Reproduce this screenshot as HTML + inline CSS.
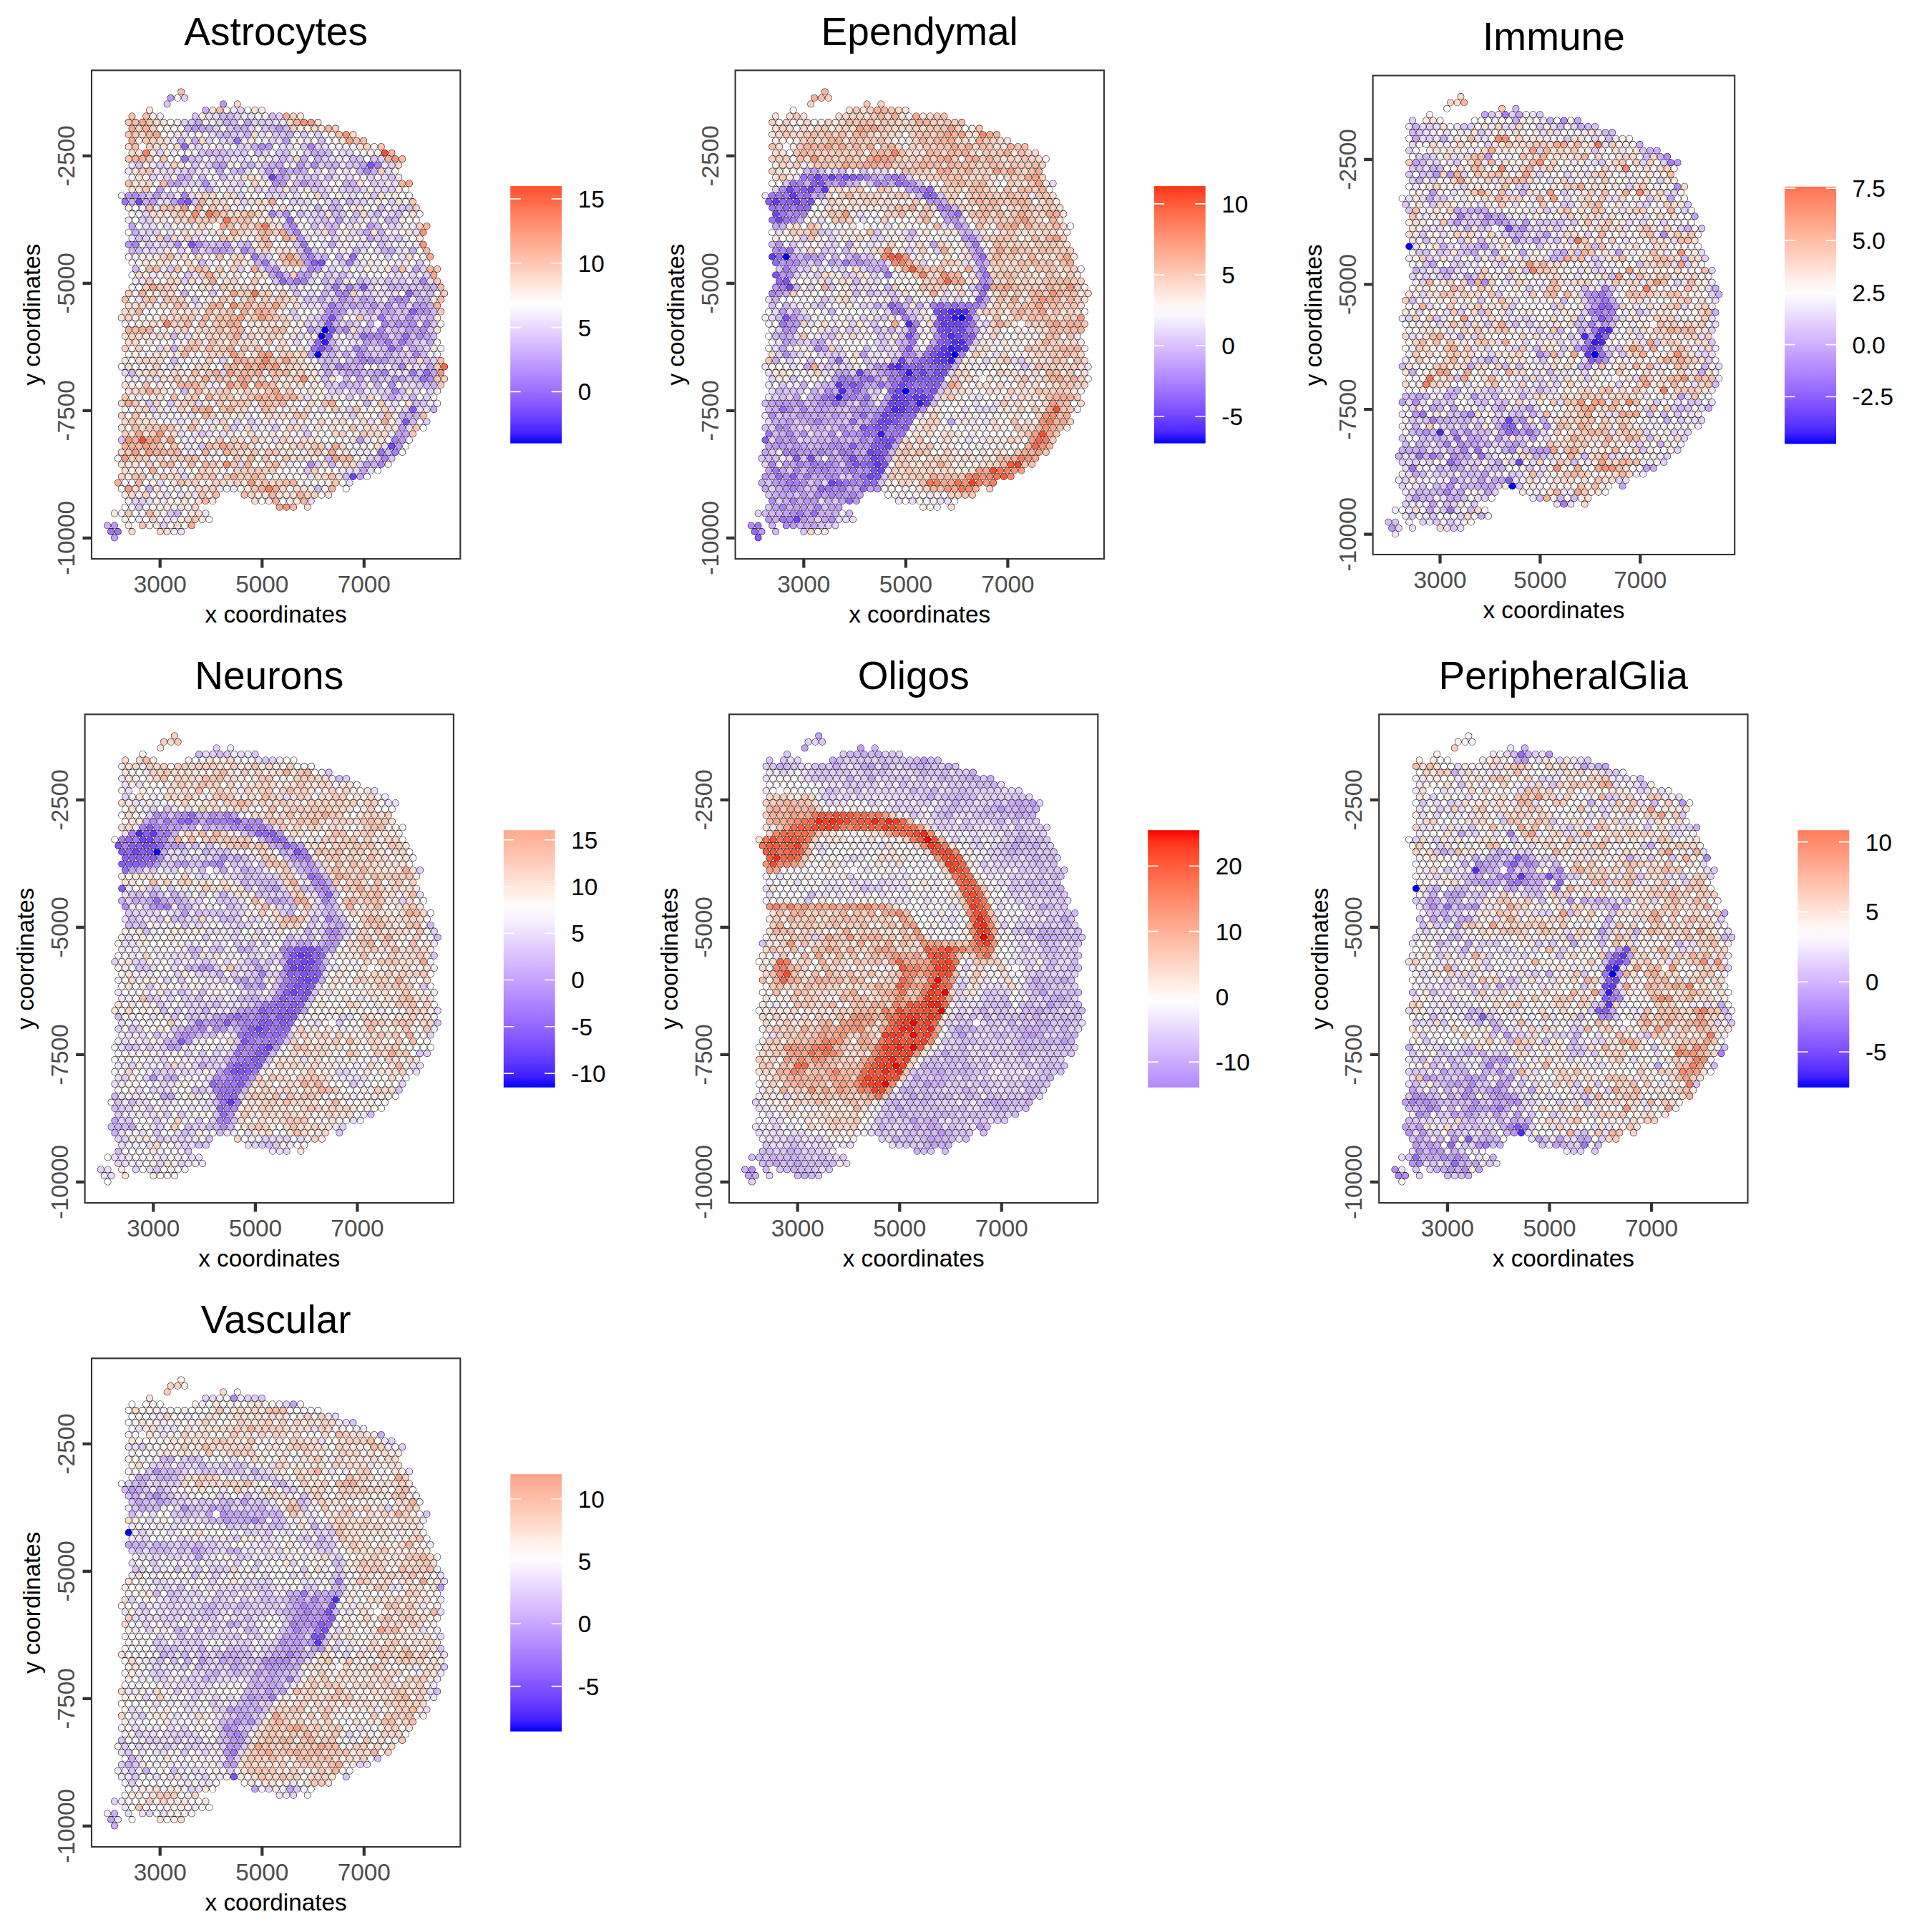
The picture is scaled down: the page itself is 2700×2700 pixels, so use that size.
<!DOCTYPE html>
<html><head><meta charset="utf-8"><title>Cell type enrichment</title>
<style>html,body{margin:0;padding:0;background:#fff}svg{display:block}text{font-family:"Liberation Sans",sans-serif}</style></head><body>
<svg width="2700" height="2700" viewBox="0 0 2700 2700">
<rect width="2700" height="2700" fill="#fff"/>
<defs>
<path id="o" d="M253.2 128.3h0M238.5 136.8h0M248.3 136.8h0M258.1 136.8h0M233.6 145.4h0M312 145.4h0M331.7 145.4h0M209 153.9h0M287.5 153.9h0M297.3 153.9h0M307.1 153.9h0M316.9 153.9h0M326.8 153.9h0M336.6 153.9h0M346.4 153.9h0M356.2 153.9h0M366 153.9h0M184.5 162.4h0M204.1 162.4h0M213.9 162.4h0M223.8 162.4h0M272.8 162.4h0M282.6 162.4h0M292.4 162.4h0M302.2 162.4h0M312 162.4h0M321.9 162.4h0M331.7 162.4h0M341.5 162.4h0M351.3 162.4h0M361.1 162.4h0M370.9 162.4h0M380.7 162.4h0M390.5 162.4h0M400.3 162.4h0M410.1 162.4h0M419.9 162.4h0M179.6 171h0M189.4 171h0M199.2 171h0M209 171h0M218.8 171h0M228.7 171h0M238.5 171h0M248.3 171h0M258.1 171h0M267.9 171h0M277.7 171h0M287.5 171h0M297.3 171h0M307.1 171h0M316.9 171h0M326.8 171h0M336.6 171h0M346.4 171h0M356.2 171h0M366 171h0M375.8 171h0M385.6 171h0M395.4 171h0M405.2 171h0M415 171h0M424.9 171h0M434.7 171h0M444.5 171h0M184.5 179.5h0M194.3 179.5h0M204.1 179.5h0M213.9 179.5h0M223.8 179.5h0M233.6 179.5h0M243.4 179.5h0M253.2 179.5h0M263 179.5h0M272.8 179.5h0M282.6 179.5h0M292.4 179.5h0M302.2 179.5h0M312 179.5h0M321.9 179.5h0M331.7 179.5h0M341.5 179.5h0M351.3 179.5h0M361.1 179.5h0M370.9 179.5h0M380.7 179.5h0M390.5 179.5h0M400.3 179.5h0M410.1 179.5h0M419.9 179.5h0M429.8 179.5h0M439.6 179.5h0M449.4 179.5h0M459.2 179.5h0M469 179.5h0M179.6 188.1h0M189.4 188.1h0M199.2 188.1h0M209 188.1h0M218.8 188.1h0M228.7 188.1h0M238.5 188.1h0M248.3 188.1h0M258.1 188.1h0M267.9 188.1h0M277.7 188.1h0M287.5 188.1h0M297.3 188.1h0M307.1 188.1h0M316.9 188.1h0M326.8 188.1h0M336.6 188.1h0M346.4 188.1h0M356.2 188.1h0M366 188.1h0M375.8 188.1h0M385.6 188.1h0M395.4 188.1h0M405.2 188.1h0M415 188.1h0M424.9 188.1h0M434.7 188.1h0M444.5 188.1h0M454.3 188.1h0M464.1 188.1h0M473.9 188.1h0M483.7 188.1h0M493.5 188.1h0M184.5 196.6h0M194.3 196.6h0M204.1 196.6h0M213.9 196.6h0M223.8 196.6h0M233.6 196.6h0M243.4 196.6h0M253.2 196.6h0M263 196.6h0M272.8 196.6h0M282.6 196.6h0M292.4 196.6h0M302.2 196.6h0M312 196.6h0M321.9 196.6h0M331.7 196.6h0M341.5 196.6h0M351.3 196.6h0M361.1 196.6h0M370.9 196.6h0M380.7 196.6h0M390.5 196.6h0M400.3 196.6h0M410.1 196.6h0M419.9 196.6h0M429.8 196.6h0M439.6 196.6h0M449.4 196.6h0M459.2 196.6h0M469 196.6h0M478.8 196.6h0M488.6 196.6h0M498.4 196.6h0M508.2 196.6h0M179.6 205.1h0M189.4 205.1h0M209 205.1h0M218.8 205.1h0M228.7 205.1h0M238.5 205.1h0M248.3 205.1h0M258.1 205.1h0M267.9 205.1h0M277.7 205.1h0M287.5 205.1h0M297.3 205.1h0M307.1 205.1h0M316.9 205.1h0M326.8 205.1h0M336.6 205.1h0M346.4 205.1h0M356.2 205.1h0M366 205.1h0M375.8 205.1h0M385.6 205.1h0M395.4 205.1h0M405.2 205.1h0M415 205.1h0M424.9 205.1h0M434.7 205.1h0M444.5 205.1h0M454.3 205.1h0M464.1 205.1h0M473.9 205.1h0M483.7 205.1h0M493.5 205.1h0M503.3 205.1h0M513.1 205.1h0M523 205.1h0M532.8 205.1h0M184.5 213.7h0M194.3 213.7h0M204.1 213.7h0M213.9 213.7h0M223.8 213.7h0M233.6 213.7h0M243.4 213.7h0M253.2 213.7h0M263 213.7h0M272.8 213.7h0M282.6 213.7h0M292.4 213.7h0M302.2 213.7h0M312 213.7h0M321.9 213.7h0M331.7 213.7h0M341.5 213.7h0M351.3 213.7h0M361.1 213.7h0M370.9 213.7h0M380.7 213.7h0M390.5 213.7h0M400.3 213.7h0M410.1 213.7h0M419.9 213.7h0M429.8 213.7h0M439.6 213.7h0M449.4 213.7h0M459.2 213.7h0M469 213.7h0M478.8 213.7h0M488.6 213.7h0M498.4 213.7h0M508.2 213.7h0M518 213.7h0M527.9 213.7h0M537.7 213.7h0M547.5 213.7h0M179.6 222.2h0M189.4 222.2h0M199.2 222.2h0M209 222.2h0M218.8 222.2h0M228.7 222.2h0M238.5 222.2h0M248.3 222.2h0M258.1 222.2h0M267.9 222.2h0M277.7 222.2h0M287.5 222.2h0M297.3 222.2h0M307.1 222.2h0M316.9 222.2h0M326.8 222.2h0M336.6 222.2h0M346.4 222.2h0M356.2 222.2h0M366 222.2h0M375.8 222.2h0M385.6 222.2h0M395.4 222.2h0M405.2 222.2h0M415 222.2h0M424.9 222.2h0M434.7 222.2h0M444.5 222.2h0M454.3 222.2h0M464.1 222.2h0M473.9 222.2h0M483.7 222.2h0M493.5 222.2h0M503.3 222.2h0M513.1 222.2h0M523 222.2h0M532.8 222.2h0M542.6 222.2h0M552.4 222.2h0M562.2 222.2h0M184.5 230.7h0M194.3 230.7h0M204.1 230.7h0M213.9 230.7h0M223.8 230.7h0M233.6 230.7h0M243.4 230.7h0M253.2 230.7h0M263 230.7h0M272.8 230.7h0M282.6 230.7h0M292.4 230.7h0M302.2 230.7h0M312 230.7h0M321.9 230.7h0M331.7 230.7h0M341.5 230.7h0M351.3 230.7h0M361.1 230.7h0M370.9 230.7h0M380.7 230.7h0M390.5 230.7h0M400.3 230.7h0M410.1 230.7h0M419.9 230.7h0M429.8 230.7h0M439.6 230.7h0M449.4 230.7h0M459.2 230.7h0M469 230.7h0M478.8 230.7h0M488.6 230.7h0M498.4 230.7h0M508.2 230.7h0M518 230.7h0M527.9 230.7h0M537.7 230.7h0M547.5 230.7h0M557.3 230.7h0M179.6 239.3h0M189.4 239.3h0M199.2 239.3h0M209 239.3h0M218.8 239.3h0M228.7 239.3h0M238.5 239.3h0M248.3 239.3h0M258.1 239.3h0M267.9 239.3h0M277.7 239.3h0M287.5 239.3h0M297.3 239.3h0M307.1 239.3h0M316.9 239.3h0M326.8 239.3h0M336.6 239.3h0M346.4 239.3h0M356.2 239.3h0M366 239.3h0M375.8 239.3h0M385.6 239.3h0M395.4 239.3h0M405.2 239.3h0M415 239.3h0M424.9 239.3h0M434.7 239.3h0M444.5 239.3h0M454.3 239.3h0M464.1 239.3h0M473.9 239.3h0M483.7 239.3h0M493.5 239.3h0M503.3 239.3h0M513.1 239.3h0M523 239.3h0M532.8 239.3h0M542.6 239.3h0M552.4 239.3h0M184.5 247.8h0M194.3 247.8h0M204.1 247.8h0M213.9 247.8h0M223.8 247.8h0M233.6 247.8h0M243.4 247.8h0M253.2 247.8h0M263 247.8h0M272.8 247.8h0M282.6 247.8h0M292.4 247.8h0M302.2 247.8h0M312 247.8h0M321.9 247.8h0M331.7 247.8h0M341.5 247.8h0M351.3 247.8h0M361.1 247.8h0M370.9 247.8h0M380.7 247.8h0M390.5 247.8h0M400.3 247.8h0M410.1 247.8h0M419.9 247.8h0M429.8 247.8h0M439.6 247.8h0M449.4 247.8h0M459.2 247.8h0M469 247.8h0M478.8 247.8h0M488.6 247.8h0M498.4 247.8h0M508.2 247.8h0M518 247.8h0M527.9 247.8h0M537.7 247.8h0M547.5 247.8h0M557.3 247.8h0M179.6 256.4h0M189.4 256.4h0M199.2 256.4h0M209 256.4h0M218.8 256.4h0M228.7 256.4h0M238.5 256.4h0M248.3 256.4h0M258.1 256.4h0M267.9 256.4h0M277.7 256.4h0M287.5 256.4h0M297.3 256.4h0M307.1 256.4h0M316.9 256.4h0M326.8 256.4h0M336.6 256.4h0M346.4 256.4h0M356.2 256.4h0M366 256.4h0M375.8 256.4h0M385.6 256.4h0M395.4 256.4h0M405.2 256.4h0M415 256.4h0M424.9 256.4h0M434.7 256.4h0M444.5 256.4h0M454.3 256.4h0M464.1 256.4h0M473.9 256.4h0M483.7 256.4h0M493.5 256.4h0M503.3 256.4h0M513.1 256.4h0M523 256.4h0M532.8 256.4h0M542.6 256.4h0M552.4 256.4h0M562.2 256.4h0M572 256.4h0M184.5 264.9h0M194.3 264.9h0M204.1 264.9h0M213.9 264.9h0M223.8 264.9h0M233.6 264.9h0M243.4 264.9h0M253.2 264.9h0M263 264.9h0M272.8 264.9h0M282.6 264.9h0M292.4 264.9h0M302.2 264.9h0M312 264.9h0M321.9 264.9h0M331.7 264.9h0M341.5 264.9h0M351.3 264.9h0M361.1 264.9h0M370.9 264.9h0M380.7 264.9h0M390.5 264.9h0M400.3 264.9h0M410.1 264.9h0M419.9 264.9h0M429.8 264.9h0M439.6 264.9h0M449.4 264.9h0M459.2 264.9h0M469 264.9h0M478.8 264.9h0M488.6 264.9h0M498.4 264.9h0M508.2 264.9h0M518 264.9h0M527.9 264.9h0M537.7 264.9h0M547.5 264.9h0M557.3 264.9h0M567.1 264.9h0M169.8 273.4h0M179.6 273.4h0M189.4 273.4h0M199.2 273.4h0M209 273.4h0M218.8 273.4h0M228.7 273.4h0M238.5 273.4h0M248.3 273.4h0M258.1 273.4h0M267.9 273.4h0M277.7 273.4h0M287.5 273.4h0M297.3 273.4h0M307.1 273.4h0M316.9 273.4h0M326.8 273.4h0M336.6 273.4h0M346.4 273.4h0M356.2 273.4h0M366 273.4h0M375.8 273.4h0M385.6 273.4h0M395.4 273.4h0M405.2 273.4h0M415 273.4h0M424.9 273.4h0M434.7 273.4h0M444.5 273.4h0M454.3 273.4h0M464.1 273.4h0M473.9 273.4h0M483.7 273.4h0M493.5 273.4h0M503.3 273.4h0M513.1 273.4h0M523 273.4h0M532.8 273.4h0M542.6 273.4h0M552.4 273.4h0M562.2 273.4h0M572 273.4h0M174.7 282h0M184.5 282h0M194.3 282h0M204.1 282h0M213.9 282h0M223.8 282h0M233.6 282h0M243.4 282h0M253.2 282h0M263 282h0M272.8 282h0M282.6 282h0M292.4 282h0M302.2 282h0M312 282h0M321.9 282h0M331.7 282h0M341.5 282h0M351.3 282h0M361.1 282h0M370.9 282h0M380.7 282h0M390.5 282h0M400.3 282h0M410.1 282h0M419.9 282h0M429.8 282h0M439.6 282h0M449.4 282h0M459.2 282h0M469 282h0M478.8 282h0M488.6 282h0M498.4 282h0M508.2 282h0M518 282h0M527.9 282h0M537.7 282h0M547.5 282h0M557.3 282h0M567.1 282h0M576.9 282h0M179.6 290.5h0M189.4 290.5h0M199.2 290.5h0M209 290.5h0M218.8 290.5h0M228.7 290.5h0M238.5 290.5h0M248.3 290.5h0M258.1 290.5h0M267.9 290.5h0M277.7 290.5h0M287.5 290.5h0M297.3 290.5h0M307.1 290.5h0M316.9 290.5h0M326.8 290.5h0M336.6 290.5h0M346.4 290.5h0M356.2 290.5h0M366 290.5h0M375.8 290.5h0M385.6 290.5h0M395.4 290.5h0M405.2 290.5h0M415 290.5h0M424.9 290.5h0M434.7 290.5h0M444.5 290.5h0M454.3 290.5h0M464.1 290.5h0M473.9 290.5h0M483.7 290.5h0M493.5 290.5h0M503.3 290.5h0M513.1 290.5h0M523 290.5h0M532.8 290.5h0M542.6 290.5h0M552.4 290.5h0M562.2 290.5h0M572 290.5h0M581.8 290.5h0M184.5 299h0M194.3 299h0M204.1 299h0M213.9 299h0M223.8 299h0M233.6 299h0M243.4 299h0M253.2 299h0M263 299h0M272.8 299h0M282.6 299h0M292.4 299h0M302.2 299h0M312 299h0M321.9 299h0M331.7 299h0M341.5 299h0M351.3 299h0M361.1 299h0M370.9 299h0M380.7 299h0M390.5 299h0M400.3 299h0M410.1 299h0M419.9 299h0M429.8 299h0M439.6 299h0M449.4 299h0M459.2 299h0M469 299h0M478.8 299h0M488.6 299h0M498.4 299h0M508.2 299h0M518 299h0M527.9 299h0M537.7 299h0M547.5 299h0M557.3 299h0M567.1 299h0M576.9 299h0M586.7 299h0M179.6 307.6h0M189.4 307.6h0M199.2 307.6h0M209 307.6h0M218.8 307.6h0M228.7 307.6h0M238.5 307.6h0M248.3 307.6h0M258.1 307.6h0M267.9 307.6h0M277.7 307.6h0M287.5 307.6h0M297.3 307.6h0M307.1 307.6h0M316.9 307.6h0M326.8 307.6h0M336.6 307.6h0M346.4 307.6h0M356.2 307.6h0M366 307.6h0M375.8 307.6h0M385.6 307.6h0M395.4 307.6h0M405.2 307.6h0M415 307.6h0M424.9 307.6h0M434.7 307.6h0M444.5 307.6h0M454.3 307.6h0M464.1 307.6h0M473.9 307.6h0M483.7 307.6h0M493.5 307.6h0M503.3 307.6h0M513.1 307.6h0M523 307.6h0M532.8 307.6h0M542.6 307.6h0M552.4 307.6h0M562.2 307.6h0M572 307.6h0M581.8 307.6h0M184.5 316.1h0M194.3 316.1h0M204.1 316.1h0M213.9 316.1h0M223.8 316.1h0M233.6 316.1h0M243.4 316.1h0M253.2 316.1h0M263 316.1h0M272.8 316.1h0M282.6 316.1h0M292.4 316.1h0M312 316.1h0M321.9 316.1h0M331.7 316.1h0M341.5 316.1h0M351.3 316.1h0M361.1 316.1h0M370.9 316.1h0M380.7 316.1h0M390.5 316.1h0M400.3 316.1h0M410.1 316.1h0M419.9 316.1h0M429.8 316.1h0M439.6 316.1h0M449.4 316.1h0M459.2 316.1h0M469 316.1h0M478.8 316.1h0M488.6 316.1h0M498.4 316.1h0M508.2 316.1h0M518 316.1h0M527.9 316.1h0M537.7 316.1h0M547.5 316.1h0M557.3 316.1h0M567.1 316.1h0M576.9 316.1h0M586.7 316.1h0M596.5 316.1h0M179.6 324.7h0M189.4 324.7h0M199.2 324.7h0M209 324.7h0M218.8 324.7h0M228.7 324.7h0M238.5 324.7h0M248.3 324.7h0M258.1 324.7h0M267.9 324.7h0M277.7 324.7h0M287.5 324.7h0M297.3 324.7h0M307.1 324.7h0M316.9 324.7h0M326.8 324.7h0M336.6 324.7h0M346.4 324.7h0M356.2 324.7h0M366 324.7h0M375.8 324.7h0M385.6 324.7h0M395.4 324.7h0M405.2 324.7h0M415 324.7h0M424.9 324.7h0M434.7 324.7h0M444.5 324.7h0M454.3 324.7h0M464.1 324.7h0M473.9 324.7h0M483.7 324.7h0M493.5 324.7h0M503.3 324.7h0M513.1 324.7h0M523 324.7h0M532.8 324.7h0M542.6 324.7h0M552.4 324.7h0M562.2 324.7h0M572 324.7h0M581.8 324.7h0M591.6 324.7h0M184.5 333.2h0M194.3 333.2h0M204.1 333.2h0M213.9 333.2h0M223.8 333.2h0M233.6 333.2h0M243.4 333.2h0M253.2 333.2h0M263 333.2h0M272.8 333.2h0M282.6 333.2h0M292.4 333.2h0M302.2 333.2h0M312 333.2h0M321.9 333.2h0M331.7 333.2h0M341.5 333.2h0M351.3 333.2h0M361.1 333.2h0M370.9 333.2h0M380.7 333.2h0M390.5 333.2h0M400.3 333.2h0M410.1 333.2h0M419.9 333.2h0M429.8 333.2h0M439.6 333.2h0M449.4 333.2h0M459.2 333.2h0M469 333.2h0M478.8 333.2h0M488.6 333.2h0M498.4 333.2h0M508.2 333.2h0M518 333.2h0M527.9 333.2h0M537.7 333.2h0M547.5 333.2h0M557.3 333.2h0M567.1 333.2h0M576.9 333.2h0M586.7 333.2h0M179.6 341.7h0M189.4 341.7h0M199.2 341.7h0M209 341.7h0M218.8 341.7h0M228.7 341.7h0M238.5 341.7h0M248.3 341.7h0M258.1 341.7h0M267.9 341.7h0M277.7 341.7h0M287.5 341.7h0M297.3 341.7h0M307.1 341.7h0M316.9 341.7h0M326.8 341.7h0M336.6 341.7h0M346.4 341.7h0M356.2 341.7h0M366 341.7h0M375.8 341.7h0M385.6 341.7h0M395.4 341.7h0M405.2 341.7h0M415 341.7h0M424.9 341.7h0M434.7 341.7h0M444.5 341.7h0M454.3 341.7h0M464.1 341.7h0M473.9 341.7h0M483.7 341.7h0M493.5 341.7h0M503.3 341.7h0M513.1 341.7h0M523 341.7h0M532.8 341.7h0M542.6 341.7h0M552.4 341.7h0M562.2 341.7h0M572 341.7h0M581.8 341.7h0M591.6 341.7h0M184.5 350.3h0M194.3 350.3h0M204.1 350.3h0M213.9 350.3h0M223.8 350.3h0M233.6 350.3h0M243.4 350.3h0M253.2 350.3h0M263 350.3h0M272.8 350.3h0M282.6 350.3h0M292.4 350.3h0M302.2 350.3h0M312 350.3h0M321.9 350.3h0M331.7 350.3h0M341.5 350.3h0M351.3 350.3h0M361.1 350.3h0M370.9 350.3h0M380.7 350.3h0M390.5 350.3h0M400.3 350.3h0M410.1 350.3h0M419.9 350.3h0M429.8 350.3h0M439.6 350.3h0M449.4 350.3h0M459.2 350.3h0M469 350.3h0M478.8 350.3h0M488.6 350.3h0M498.4 350.3h0M508.2 350.3h0M518 350.3h0M527.9 350.3h0M537.7 350.3h0M547.5 350.3h0M557.3 350.3h0M567.1 350.3h0M576.9 350.3h0M586.7 350.3h0M596.5 350.3h0M179.6 358.8h0M189.4 358.8h0M199.2 358.8h0M209 358.8h0M218.8 358.8h0M228.7 358.8h0M238.5 358.8h0M248.3 358.8h0M258.1 358.8h0M267.9 358.8h0M277.7 358.8h0M287.5 358.8h0M297.3 358.8h0M307.1 358.8h0M316.9 358.8h0M326.8 358.8h0M336.6 358.8h0M346.4 358.8h0M356.2 358.8h0M366 358.8h0M375.8 358.8h0M385.6 358.8h0M395.4 358.8h0M405.2 358.8h0M415 358.8h0M424.9 358.8h0M434.7 358.8h0M444.5 358.8h0M454.3 358.8h0M464.1 358.8h0M473.9 358.8h0M483.7 358.8h0M493.5 358.8h0M503.3 358.8h0M513.1 358.8h0M523 358.8h0M532.8 358.8h0M542.6 358.8h0M552.4 358.8h0M562.2 358.8h0M572 358.8h0M581.8 358.8h0M591.6 358.8h0M601.4 358.8h0M184.5 367.3h0M194.3 367.3h0M204.1 367.3h0M213.9 367.3h0M223.8 367.3h0M233.6 367.3h0M243.4 367.3h0M253.2 367.3h0M263 367.3h0M272.8 367.3h0M282.6 367.3h0M292.4 367.3h0M302.2 367.3h0M312 367.3h0M321.9 367.3h0M331.7 367.3h0M341.5 367.3h0M351.3 367.3h0M361.1 367.3h0M370.9 367.3h0M380.7 367.3h0M390.5 367.3h0M400.3 367.3h0M410.1 367.3h0M419.9 367.3h0M429.8 367.3h0M439.6 367.3h0M449.4 367.3h0M459.2 367.3h0M469 367.3h0M478.8 367.3h0M488.6 367.3h0M498.4 367.3h0M508.2 367.3h0M518 367.3h0M527.9 367.3h0M537.7 367.3h0M547.5 367.3h0M557.3 367.3h0M567.1 367.3h0M576.9 367.3h0M586.7 367.3h0M596.5 367.3h0M189.4 375.9h0M199.2 375.9h0M209 375.9h0M218.8 375.9h0M228.7 375.9h0M238.5 375.9h0M248.3 375.9h0M258.1 375.9h0M267.9 375.9h0M277.7 375.9h0M287.5 375.9h0M297.3 375.9h0M307.1 375.9h0M316.9 375.9h0M326.8 375.9h0M336.6 375.9h0M346.4 375.9h0M356.2 375.9h0M366 375.9h0M375.8 375.9h0M385.6 375.9h0M395.4 375.9h0M405.2 375.9h0M415 375.9h0M424.9 375.9h0M434.7 375.9h0M444.5 375.9h0M454.3 375.9h0M464.1 375.9h0M473.9 375.9h0M483.7 375.9h0M493.5 375.9h0M503.3 375.9h0M513.1 375.9h0M523 375.9h0M532.8 375.9h0M542.6 375.9h0M552.4 375.9h0M562.2 375.9h0M572 375.9h0M581.8 375.9h0M591.6 375.9h0M601.4 375.9h0M611.2 375.9h0M184.5 384.4h0M194.3 384.4h0M204.1 384.4h0M213.9 384.4h0M223.8 384.4h0M233.6 384.4h0M243.4 384.4h0M253.2 384.4h0M263 384.4h0M272.8 384.4h0M282.6 384.4h0M292.4 384.4h0M302.2 384.4h0M312 384.4h0M321.9 384.4h0M331.7 384.4h0M341.5 384.4h0M351.3 384.4h0M361.1 384.4h0M370.9 384.4h0M380.7 384.4h0M390.5 384.4h0M400.3 384.4h0M410.1 384.4h0M419.9 384.4h0M429.8 384.4h0M439.6 384.4h0M449.4 384.4h0M459.2 384.4h0M469 384.4h0M478.8 384.4h0M488.6 384.4h0M498.4 384.4h0M508.2 384.4h0M518 384.4h0M527.9 384.4h0M537.7 384.4h0M547.5 384.4h0M557.3 384.4h0M567.1 384.4h0M576.9 384.4h0M586.7 384.4h0M596.5 384.4h0M606.3 384.4h0M189.4 392.9h0M199.2 392.9h0M209 392.9h0M218.8 392.9h0M228.7 392.9h0M238.5 392.9h0M248.3 392.9h0M258.1 392.9h0M267.9 392.9h0M277.7 392.9h0M287.5 392.9h0M297.3 392.9h0M307.1 392.9h0M316.9 392.9h0M326.8 392.9h0M336.6 392.9h0M346.4 392.9h0M356.2 392.9h0M366 392.9h0M375.8 392.9h0M385.6 392.9h0M395.4 392.9h0M405.2 392.9h0M415 392.9h0M424.9 392.9h0M434.7 392.9h0M444.5 392.9h0M454.3 392.9h0M464.1 392.9h0M473.9 392.9h0M483.7 392.9h0M493.5 392.9h0M503.3 392.9h0M513.1 392.9h0M523 392.9h0M532.8 392.9h0M542.6 392.9h0M552.4 392.9h0M562.2 392.9h0M572 392.9h0M581.8 392.9h0M591.6 392.9h0M601.4 392.9h0M611.2 392.9h0M184.5 401.5h0M194.3 401.5h0M204.1 401.5h0M213.9 401.5h0M223.8 401.5h0M233.6 401.5h0M243.4 401.5h0M253.2 401.5h0M263 401.5h0M272.8 401.5h0M282.6 401.5h0M292.4 401.5h0M302.2 401.5h0M312 401.5h0M321.9 401.5h0M331.7 401.5h0M341.5 401.5h0M351.3 401.5h0M361.1 401.5h0M370.9 401.5h0M380.7 401.5h0M390.5 401.5h0M400.3 401.5h0M410.1 401.5h0M419.9 401.5h0M429.8 401.5h0M439.6 401.5h0M449.4 401.5h0M459.2 401.5h0M469 401.5h0M478.8 401.5h0M488.6 401.5h0M498.4 401.5h0M508.2 401.5h0M518 401.5h0M527.9 401.5h0M537.7 401.5h0M547.5 401.5h0M557.3 401.5h0M567.1 401.5h0M576.9 401.5h0M586.7 401.5h0M596.5 401.5h0M606.3 401.5h0M616.2 401.5h0M179.6 410h0M189.4 410h0M199.2 410h0M209 410h0M218.8 410h0M228.7 410h0M238.5 410h0M248.3 410h0M258.1 410h0M267.9 410h0M277.7 410h0M287.5 410h0M297.3 410h0M307.1 410h0M316.9 410h0M326.8 410h0M336.6 410h0M346.4 410h0M356.2 410h0M366 410h0M375.8 410h0M385.6 410h0M395.4 410h0M405.2 410h0M415 410h0M424.9 410h0M434.7 410h0M444.5 410h0M454.3 410h0M464.1 410h0M473.9 410h0M483.7 410h0M493.5 410h0M503.3 410h0M513.1 410h0M523 410h0M532.8 410h0M542.6 410h0M552.4 410h0M562.2 410h0M572 410h0M581.8 410h0M591.6 410h0M601.4 410h0M611.2 410h0M621.1 410h0M174.7 418.6h0M184.5 418.6h0M194.3 418.6h0M204.1 418.6h0M213.9 418.6h0M223.8 418.6h0M233.6 418.6h0M243.4 418.6h0M253.2 418.6h0M263 418.6h0M272.8 418.6h0M282.6 418.6h0M292.4 418.6h0M302.2 418.6h0M312 418.6h0M321.9 418.6h0M331.7 418.6h0M341.5 418.6h0M351.3 418.6h0M361.1 418.6h0M370.9 418.6h0M380.7 418.6h0M390.5 418.6h0M400.3 418.6h0M410.1 418.6h0M419.9 418.6h0M429.8 418.6h0M439.6 418.6h0M449.4 418.6h0M459.2 418.6h0M469 418.6h0M478.8 418.6h0M488.6 418.6h0M498.4 418.6h0M508.2 418.6h0M518 418.6h0M527.9 418.6h0M537.7 418.6h0M547.5 418.6h0M557.3 418.6h0M567.1 418.6h0M576.9 418.6h0M586.7 418.6h0M596.5 418.6h0M606.3 418.6h0M616.2 418.6h0M179.6 427.1h0M189.4 427.1h0M199.2 427.1h0M209 427.1h0M218.8 427.1h0M228.7 427.1h0M238.5 427.1h0M248.3 427.1h0M258.1 427.1h0M267.9 427.1h0M277.7 427.1h0M287.5 427.1h0M297.3 427.1h0M307.1 427.1h0M316.9 427.1h0M326.8 427.1h0M336.6 427.1h0M346.4 427.1h0M356.2 427.1h0M366 427.1h0M375.8 427.1h0M385.6 427.1h0M395.4 427.1h0M405.2 427.1h0M415 427.1h0M424.9 427.1h0M434.7 427.1h0M444.5 427.1h0M454.3 427.1h0M464.1 427.1h0M473.9 427.1h0M483.7 427.1h0M493.5 427.1h0M503.3 427.1h0M513.1 427.1h0M523 427.1h0M532.8 427.1h0M542.6 427.1h0M552.4 427.1h0M562.2 427.1h0M572 427.1h0M581.8 427.1h0M591.6 427.1h0M601.4 427.1h0M611.2 427.1h0M174.7 435.6h0M184.5 435.6h0M194.3 435.6h0M204.1 435.6h0M213.9 435.6h0M223.8 435.6h0M233.6 435.6h0M243.4 435.6h0M253.2 435.6h0M263 435.6h0M272.8 435.6h0M282.6 435.6h0M292.4 435.6h0M302.2 435.6h0M312 435.6h0M321.9 435.6h0M331.7 435.6h0M341.5 435.6h0M351.3 435.6h0M361.1 435.6h0M370.9 435.6h0M380.7 435.6h0M390.5 435.6h0M400.3 435.6h0M410.1 435.6h0M419.9 435.6h0M429.8 435.6h0M439.6 435.6h0M449.4 435.6h0M459.2 435.6h0M469 435.6h0M478.8 435.6h0M488.6 435.6h0M498.4 435.6h0M508.2 435.6h0M518 435.6h0M527.9 435.6h0M537.7 435.6h0M547.5 435.6h0M557.3 435.6h0M567.1 435.6h0M576.9 435.6h0M586.7 435.6h0M596.5 435.6h0M606.3 435.6h0M616.2 435.6h0M169.8 444.2h0M179.6 444.2h0M189.4 444.2h0M199.2 444.2h0M209 444.2h0M218.8 444.2h0M228.7 444.2h0M238.5 444.2h0M248.3 444.2h0M258.1 444.2h0M267.9 444.2h0M277.7 444.2h0M287.5 444.2h0M297.3 444.2h0M307.1 444.2h0M316.9 444.2h0M326.8 444.2h0M336.6 444.2h0M346.4 444.2h0M356.2 444.2h0M366 444.2h0M375.8 444.2h0M385.6 444.2h0M395.4 444.2h0M405.2 444.2h0M415 444.2h0M424.9 444.2h0M434.7 444.2h0M444.5 444.2h0M454.3 444.2h0M464.1 444.2h0M473.9 444.2h0M483.7 444.2h0M493.5 444.2h0M503.3 444.2h0M513.1 444.2h0M523 444.2h0M532.8 444.2h0M542.6 444.2h0M552.4 444.2h0M562.2 444.2h0M572 444.2h0M581.8 444.2h0M591.6 444.2h0M601.4 444.2h0M611.2 444.2h0M174.7 452.7h0M184.5 452.7h0M194.3 452.7h0M204.1 452.7h0M213.9 452.7h0M223.8 452.7h0M233.6 452.7h0M243.4 452.7h0M253.2 452.7h0M263 452.7h0M272.8 452.7h0M282.6 452.7h0M292.4 452.7h0M302.2 452.7h0M312 452.7h0M321.9 452.7h0M331.7 452.7h0M341.5 452.7h0M351.3 452.7h0M361.1 452.7h0M370.9 452.7h0M380.7 452.7h0M390.5 452.7h0M400.3 452.7h0M410.1 452.7h0M419.9 452.7h0M429.8 452.7h0M439.6 452.7h0M449.4 452.7h0M459.2 452.7h0M469 452.7h0M478.8 452.7h0M488.6 452.7h0M498.4 452.7h0M508.2 452.7h0M518 452.7h0M537.7 452.7h0M547.5 452.7h0M557.3 452.7h0M567.1 452.7h0M576.9 452.7h0M586.7 452.7h0M596.5 452.7h0M606.3 452.7h0M616.2 452.7h0M179.6 461.2h0M189.4 461.2h0M199.2 461.2h0M209 461.2h0M218.8 461.2h0M228.7 461.2h0M238.5 461.2h0M248.3 461.2h0M258.1 461.2h0M267.9 461.2h0M277.7 461.2h0M287.5 461.2h0M297.3 461.2h0M307.1 461.2h0M316.9 461.2h0M326.8 461.2h0M336.6 461.2h0M346.4 461.2h0M356.2 461.2h0M366 461.2h0M375.8 461.2h0M385.6 461.2h0M395.4 461.2h0M405.2 461.2h0M415 461.2h0M424.9 461.2h0M434.7 461.2h0M444.5 461.2h0M454.3 461.2h0M464.1 461.2h0M473.9 461.2h0M483.7 461.2h0M493.5 461.2h0M503.3 461.2h0M513.1 461.2h0M523 461.2h0M532.8 461.2h0M542.6 461.2h0M552.4 461.2h0M562.2 461.2h0M572 461.2h0M581.8 461.2h0M591.6 461.2h0M601.4 461.2h0M611.2 461.2h0M174.7 469.8h0M184.5 469.8h0M194.3 469.8h0M204.1 469.8h0M213.9 469.8h0M223.8 469.8h0M233.6 469.8h0M243.4 469.8h0M253.2 469.8h0M263 469.8h0M272.8 469.8h0M282.6 469.8h0M292.4 469.8h0M302.2 469.8h0M312 469.8h0M321.9 469.8h0M331.7 469.8h0M341.5 469.8h0M351.3 469.8h0M361.1 469.8h0M370.9 469.8h0M380.7 469.8h0M390.5 469.8h0M400.3 469.8h0M410.1 469.8h0M419.9 469.8h0M429.8 469.8h0M439.6 469.8h0M449.4 469.8h0M459.2 469.8h0M469 469.8h0M478.8 469.8h0M488.6 469.8h0M498.4 469.8h0M508.2 469.8h0M518 469.8h0M527.9 469.8h0M537.7 469.8h0M547.5 469.8h0M557.3 469.8h0M567.1 469.8h0M576.9 469.8h0M586.7 469.8h0M596.5 469.8h0M606.3 469.8h0M179.6 478.3h0M189.4 478.3h0M199.2 478.3h0M209 478.3h0M218.8 478.3h0M228.7 478.3h0M238.5 478.3h0M248.3 478.3h0M258.1 478.3h0M267.9 478.3h0M277.7 478.3h0M287.5 478.3h0M297.3 478.3h0M307.1 478.3h0M316.9 478.3h0M326.8 478.3h0M336.6 478.3h0M346.4 478.3h0M356.2 478.3h0M366 478.3h0M375.8 478.3h0M385.6 478.3h0M395.4 478.3h0M405.2 478.3h0M415 478.3h0M424.9 478.3h0M434.7 478.3h0M444.5 478.3h0M454.3 478.3h0M464.1 478.3h0M473.9 478.3h0M483.7 478.3h0M493.5 478.3h0M503.3 478.3h0M513.1 478.3h0M523 478.3h0M532.8 478.3h0M542.6 478.3h0M552.4 478.3h0M562.2 478.3h0M572 478.3h0M581.8 478.3h0M591.6 478.3h0M601.4 478.3h0M611.2 478.3h0M174.7 486.9h0M184.5 486.9h0M194.3 486.9h0M204.1 486.9h0M213.9 486.9h0M223.8 486.9h0M233.6 486.9h0M243.4 486.9h0M253.2 486.9h0M263 486.9h0M272.8 486.9h0M282.6 486.9h0M292.4 486.9h0M302.2 486.9h0M312 486.9h0M321.9 486.9h0M331.7 486.9h0M341.5 486.9h0M351.3 486.9h0M361.1 486.9h0M370.9 486.9h0M380.7 486.9h0M390.5 486.9h0M400.3 486.9h0M410.1 486.9h0M419.9 486.9h0M429.8 486.9h0M439.6 486.9h0M449.4 486.9h0M459.2 486.9h0M469 486.9h0M478.8 486.9h0M488.6 486.9h0M498.4 486.9h0M508.2 486.9h0M518 486.9h0M527.9 486.9h0M537.7 486.9h0M547.5 486.9h0M557.3 486.9h0M567.1 486.9h0M576.9 486.9h0M586.7 486.9h0M596.5 486.9h0M606.3 486.9h0M616.2 486.9h0M179.6 495.4h0M189.4 495.4h0M199.2 495.4h0M209 495.4h0M218.8 495.4h0M228.7 495.4h0M238.5 495.4h0M248.3 495.4h0M258.1 495.4h0M267.9 495.4h0M277.7 495.4h0M287.5 495.4h0M297.3 495.4h0M307.1 495.4h0M316.9 495.4h0M326.8 495.4h0M336.6 495.4h0M346.4 495.4h0M356.2 495.4h0M366 495.4h0M375.8 495.4h0M385.6 495.4h0M395.4 495.4h0M405.2 495.4h0M415 495.4h0M424.9 495.4h0M434.7 495.4h0M444.5 495.4h0M454.3 495.4h0M464.1 495.4h0M473.9 495.4h0M483.7 495.4h0M493.5 495.4h0M503.3 495.4h0M513.1 495.4h0M523 495.4h0M532.8 495.4h0M542.6 495.4h0M552.4 495.4h0M562.2 495.4h0M572 495.4h0M581.8 495.4h0M591.6 495.4h0M601.4 495.4h0M611.2 495.4h0M174.7 503.9h0M184.5 503.9h0M194.3 503.9h0M204.1 503.9h0M213.9 503.9h0M223.8 503.9h0M233.6 503.9h0M243.4 503.9h0M253.2 503.9h0M263 503.9h0M272.8 503.9h0M282.6 503.9h0M292.4 503.9h0M302.2 503.9h0M312 503.9h0M321.9 503.9h0M331.7 503.9h0M341.5 503.9h0M351.3 503.9h0M361.1 503.9h0M370.9 503.9h0M380.7 503.9h0M390.5 503.9h0M400.3 503.9h0M410.1 503.9h0M419.9 503.9h0M429.8 503.9h0M439.6 503.9h0M449.4 503.9h0M459.2 503.9h0M469 503.9h0M478.8 503.9h0M488.6 503.9h0M498.4 503.9h0M508.2 503.9h0M518 503.9h0M527.9 503.9h0M537.7 503.9h0M547.5 503.9h0M557.3 503.9h0M567.1 503.9h0M576.9 503.9h0M586.7 503.9h0M596.5 503.9h0M606.3 503.9h0M616.2 503.9h0M169.8 512.5h0M179.6 512.5h0M189.4 512.5h0M199.2 512.5h0M209 512.5h0M218.8 512.5h0M228.7 512.5h0M238.5 512.5h0M248.3 512.5h0M258.1 512.5h0M267.9 512.5h0M277.7 512.5h0M287.5 512.5h0M297.3 512.5h0M307.1 512.5h0M316.9 512.5h0M326.8 512.5h0M336.6 512.5h0M346.4 512.5h0M356.2 512.5h0M366 512.5h0M375.8 512.5h0M385.6 512.5h0M395.4 512.5h0M405.2 512.5h0M415 512.5h0M424.9 512.5h0M434.7 512.5h0M444.5 512.5h0M454.3 512.5h0M464.1 512.5h0M473.9 512.5h0M483.7 512.5h0M493.5 512.5h0M503.3 512.5h0M513.1 512.5h0M523 512.5h0M532.8 512.5h0M542.6 512.5h0M552.4 512.5h0M562.2 512.5h0M572 512.5h0M581.8 512.5h0M591.6 512.5h0M601.4 512.5h0M611.2 512.5h0M621.1 512.5h0M174.7 521h0M184.5 521h0M194.3 521h0M204.1 521h0M213.9 521h0M223.8 521h0M233.6 521h0M243.4 521h0M253.2 521h0M263 521h0M272.8 521h0M282.6 521h0M292.4 521h0M302.2 521h0M312 521h0M321.9 521h0M331.7 521h0M341.5 521h0M351.3 521h0M361.1 521h0M370.9 521h0M380.7 521h0M390.5 521h0M400.3 521h0M410.1 521h0M419.9 521h0M429.8 521h0M439.6 521h0M449.4 521h0M459.2 521h0M469 521h0M478.8 521h0M488.6 521h0M498.4 521h0M508.2 521h0M518 521h0M527.9 521h0M537.7 521h0M547.5 521h0M557.3 521h0M567.1 521h0M576.9 521h0M586.7 521h0M596.5 521h0M606.3 521h0M616.2 521h0M179.6 529.5h0M189.4 529.5h0M199.2 529.5h0M209 529.5h0M218.8 529.5h0M228.7 529.5h0M238.5 529.5h0M248.3 529.5h0M258.1 529.5h0M267.9 529.5h0M277.7 529.5h0M287.5 529.5h0M297.3 529.5h0M307.1 529.5h0M316.9 529.5h0M326.8 529.5h0M336.6 529.5h0M346.4 529.5h0M356.2 529.5h0M366 529.5h0M375.8 529.5h0M385.6 529.5h0M395.4 529.5h0M405.2 529.5h0M415 529.5h0M424.9 529.5h0M434.7 529.5h0M444.5 529.5h0M454.3 529.5h0M464.1 529.5h0M483.7 529.5h0M493.5 529.5h0M503.3 529.5h0M513.1 529.5h0M523 529.5h0M532.8 529.5h0M542.6 529.5h0M552.4 529.5h0M562.2 529.5h0M572 529.5h0M581.8 529.5h0M591.6 529.5h0M601.4 529.5h0M611.2 529.5h0M621.1 529.5h0M174.7 538.1h0M184.5 538.1h0M194.3 538.1h0M204.1 538.1h0M213.9 538.1h0M223.8 538.1h0M233.6 538.1h0M243.4 538.1h0M253.2 538.1h0M263 538.1h0M272.8 538.1h0M282.6 538.1h0M292.4 538.1h0M302.2 538.1h0M312 538.1h0M321.9 538.1h0M331.7 538.1h0M341.5 538.1h0M351.3 538.1h0M361.1 538.1h0M370.9 538.1h0M380.7 538.1h0M390.5 538.1h0M400.3 538.1h0M410.1 538.1h0M419.9 538.1h0M429.8 538.1h0M439.6 538.1h0M449.4 538.1h0M459.2 538.1h0M469 538.1h0M478.8 538.1h0M488.6 538.1h0M498.4 538.1h0M508.2 538.1h0M518 538.1h0M527.9 538.1h0M537.7 538.1h0M547.5 538.1h0M557.3 538.1h0M567.1 538.1h0M576.9 538.1h0M586.7 538.1h0M596.5 538.1h0M606.3 538.1h0M616.2 538.1h0M179.6 546.6h0M189.4 546.6h0M199.2 546.6h0M209 546.6h0M218.8 546.6h0M228.7 546.6h0M238.5 546.6h0M248.3 546.6h0M258.1 546.6h0M267.9 546.6h0M277.7 546.6h0M287.5 546.6h0M297.3 546.6h0M307.1 546.6h0M316.9 546.6h0M326.8 546.6h0M336.6 546.6h0M346.4 546.6h0M356.2 546.6h0M366 546.6h0M375.8 546.6h0M385.6 546.6h0M395.4 546.6h0M405.2 546.6h0M415 546.6h0M424.9 546.6h0M434.7 546.6h0M444.5 546.6h0M454.3 546.6h0M464.1 546.6h0M473.9 546.6h0M483.7 546.6h0M493.5 546.6h0M503.3 546.6h0M513.1 546.6h0M523 546.6h0M532.8 546.6h0M542.6 546.6h0M552.4 546.6h0M562.2 546.6h0M572 546.6h0M581.8 546.6h0M591.6 546.6h0M601.4 546.6h0M611.2 546.6h0M174.7 555.2h0M184.5 555.2h0M194.3 555.2h0M204.1 555.2h0M213.9 555.2h0M223.8 555.2h0M233.6 555.2h0M243.4 555.2h0M253.2 555.2h0M263 555.2h0M272.8 555.2h0M282.6 555.2h0M292.4 555.2h0M302.2 555.2h0M312 555.2h0M321.9 555.2h0M331.7 555.2h0M341.5 555.2h0M351.3 555.2h0M361.1 555.2h0M370.9 555.2h0M380.7 555.2h0M390.5 555.2h0M400.3 555.2h0M410.1 555.2h0M419.9 555.2h0M429.8 555.2h0M439.6 555.2h0M449.4 555.2h0M459.2 555.2h0M469 555.2h0M478.8 555.2h0M488.6 555.2h0M498.4 555.2h0M508.2 555.2h0M518 555.2h0M527.9 555.2h0M537.7 555.2h0M547.5 555.2h0M557.3 555.2h0M567.1 555.2h0M576.9 555.2h0M586.7 555.2h0M596.5 555.2h0M606.3 555.2h0M169.8 563.7h0M179.6 563.7h0M189.4 563.7h0M199.2 563.7h0M209 563.7h0M218.8 563.7h0M228.7 563.7h0M238.5 563.7h0M248.3 563.7h0M258.1 563.7h0M267.9 563.7h0M277.7 563.7h0M287.5 563.7h0M297.3 563.7h0M307.1 563.7h0M316.9 563.7h0M326.8 563.7h0M336.6 563.7h0M346.4 563.7h0M356.2 563.7h0M366 563.7h0M375.8 563.7h0M385.6 563.7h0M395.4 563.7h0M405.2 563.7h0M415 563.7h0M424.9 563.7h0M434.7 563.7h0M444.5 563.7h0M454.3 563.7h0M464.1 563.7h0M473.9 563.7h0M483.7 563.7h0M493.5 563.7h0M503.3 563.7h0M513.1 563.7h0M523 563.7h0M532.8 563.7h0M542.6 563.7h0M552.4 563.7h0M562.2 563.7h0M572 563.7h0M581.8 563.7h0M591.6 563.7h0M601.4 563.7h0M611.2 563.7h0M174.7 572.2h0M184.5 572.2h0M194.3 572.2h0M204.1 572.2h0M213.9 572.2h0M223.8 572.2h0M233.6 572.2h0M243.4 572.2h0M253.2 572.2h0M263 572.2h0M272.8 572.2h0M282.6 572.2h0M292.4 572.2h0M302.2 572.2h0M312 572.2h0M321.9 572.2h0M331.7 572.2h0M341.5 572.2h0M351.3 572.2h0M361.1 572.2h0M370.9 572.2h0M380.7 572.2h0M390.5 572.2h0M400.3 572.2h0M410.1 572.2h0M419.9 572.2h0M429.8 572.2h0M439.6 572.2h0M449.4 572.2h0M459.2 572.2h0M469 572.2h0M478.8 572.2h0M488.6 572.2h0M498.4 572.2h0M508.2 572.2h0M518 572.2h0M527.9 572.2h0M537.7 572.2h0M547.5 572.2h0M557.3 572.2h0M567.1 572.2h0M576.9 572.2h0M586.7 572.2h0M596.5 572.2h0M606.3 572.2h0M169.8 580.8h0M179.6 580.8h0M189.4 580.8h0M199.2 580.8h0M209 580.8h0M218.8 580.8h0M228.7 580.8h0M238.5 580.8h0M248.3 580.8h0M258.1 580.8h0M267.9 580.8h0M277.7 580.8h0M287.5 580.8h0M297.3 580.8h0M307.1 580.8h0M316.9 580.8h0M326.8 580.8h0M336.6 580.8h0M346.4 580.8h0M356.2 580.8h0M366 580.8h0M375.8 580.8h0M385.6 580.8h0M395.4 580.8h0M405.2 580.8h0M415 580.8h0M424.9 580.8h0M434.7 580.8h0M444.5 580.8h0M454.3 580.8h0M464.1 580.8h0M473.9 580.8h0M483.7 580.8h0M493.5 580.8h0M503.3 580.8h0M513.1 580.8h0M523 580.8h0M532.8 580.8h0M542.6 580.8h0M552.4 580.8h0M562.2 580.8h0M572 580.8h0M581.8 580.8h0M591.6 580.8h0M174.7 589.3h0M184.5 589.3h0M194.3 589.3h0M204.1 589.3h0M213.9 589.3h0M223.8 589.3h0M233.6 589.3h0M243.4 589.3h0M253.2 589.3h0M263 589.3h0M272.8 589.3h0M282.6 589.3h0M292.4 589.3h0M302.2 589.3h0M312 589.3h0M321.9 589.3h0M331.7 589.3h0M341.5 589.3h0M351.3 589.3h0M361.1 589.3h0M370.9 589.3h0M380.7 589.3h0M390.5 589.3h0M400.3 589.3h0M410.1 589.3h0M419.9 589.3h0M429.8 589.3h0M439.6 589.3h0M449.4 589.3h0M459.2 589.3h0M469 589.3h0M478.8 589.3h0M488.6 589.3h0M498.4 589.3h0M508.2 589.3h0M518 589.3h0M527.9 589.3h0M537.7 589.3h0M547.5 589.3h0M557.3 589.3h0M567.1 589.3h0M576.9 589.3h0M586.7 589.3h0M596.5 589.3h0M169.8 597.8h0M179.6 597.8h0M189.4 597.8h0M199.2 597.8h0M209 597.8h0M218.8 597.8h0M228.7 597.8h0M238.5 597.8h0M248.3 597.8h0M258.1 597.8h0M267.9 597.8h0M277.7 597.8h0M287.5 597.8h0M297.3 597.8h0M307.1 597.8h0M316.9 597.8h0M326.8 597.8h0M336.6 597.8h0M346.4 597.8h0M356.2 597.8h0M366 597.8h0M375.8 597.8h0M385.6 597.8h0M395.4 597.8h0M405.2 597.8h0M415 597.8h0M424.9 597.8h0M434.7 597.8h0M444.5 597.8h0M454.3 597.8h0M464.1 597.8h0M473.9 597.8h0M483.7 597.8h0M493.5 597.8h0M503.3 597.8h0M513.1 597.8h0M523 597.8h0M532.8 597.8h0M542.6 597.8h0M552.4 597.8h0M562.2 597.8h0M572 597.8h0M581.8 597.8h0M591.6 597.8h0M174.7 606.4h0M184.5 606.4h0M194.3 606.4h0M204.1 606.4h0M213.9 606.4h0M223.8 606.4h0M233.6 606.4h0M243.4 606.4h0M253.2 606.4h0M263 606.4h0M272.8 606.4h0M282.6 606.4h0M292.4 606.4h0M302.2 606.4h0M312 606.4h0M321.9 606.4h0M331.7 606.4h0M341.5 606.4h0M351.3 606.4h0M361.1 606.4h0M370.9 606.4h0M380.7 606.4h0M390.5 606.4h0M400.3 606.4h0M410.1 606.4h0M419.9 606.4h0M429.8 606.4h0M439.6 606.4h0M449.4 606.4h0M459.2 606.4h0M469 606.4h0M478.8 606.4h0M488.6 606.4h0M498.4 606.4h0M508.2 606.4h0M518 606.4h0M527.9 606.4h0M537.7 606.4h0M547.5 606.4h0M557.3 606.4h0M567.1 606.4h0M576.9 606.4h0M169.8 614.9h0M179.6 614.9h0M189.4 614.9h0M199.2 614.9h0M209 614.9h0M218.8 614.9h0M228.7 614.9h0M238.5 614.9h0M248.3 614.9h0M258.1 614.9h0M267.9 614.9h0M277.7 614.9h0M287.5 614.9h0M297.3 614.9h0M307.1 614.9h0M316.9 614.9h0M326.8 614.9h0M336.6 614.9h0M346.4 614.9h0M356.2 614.9h0M366 614.9h0M375.8 614.9h0M385.6 614.9h0M395.4 614.9h0M405.2 614.9h0M415 614.9h0M424.9 614.9h0M434.7 614.9h0M444.5 614.9h0M454.3 614.9h0M464.1 614.9h0M473.9 614.9h0M483.7 614.9h0M493.5 614.9h0M503.3 614.9h0M513.1 614.9h0M523 614.9h0M532.8 614.9h0M542.6 614.9h0M552.4 614.9h0M562.2 614.9h0M572 614.9h0M174.7 623.4h0M184.5 623.4h0M194.3 623.4h0M204.1 623.4h0M213.9 623.4h0M223.8 623.4h0M233.6 623.4h0M243.4 623.4h0M253.2 623.4h0M263 623.4h0M272.8 623.4h0M282.6 623.4h0M292.4 623.4h0M302.2 623.4h0M312 623.4h0M321.9 623.4h0M331.7 623.4h0M341.5 623.4h0M351.3 623.4h0M361.1 623.4h0M370.9 623.4h0M380.7 623.4h0M390.5 623.4h0M400.3 623.4h0M410.1 623.4h0M419.9 623.4h0M429.8 623.4h0M439.6 623.4h0M449.4 623.4h0M459.2 623.4h0M469 623.4h0M478.8 623.4h0M488.6 623.4h0M498.4 623.4h0M508.2 623.4h0M518 623.4h0M527.9 623.4h0M537.7 623.4h0M547.5 623.4h0M557.3 623.4h0M567.1 623.4h0M169.8 632h0M179.6 632h0M189.4 632h0M199.2 632h0M209 632h0M218.8 632h0M228.7 632h0M238.5 632h0M248.3 632h0M258.1 632h0M267.9 632h0M277.7 632h0M287.5 632h0M297.3 632h0M307.1 632h0M316.9 632h0M326.8 632h0M336.6 632h0M346.4 632h0M356.2 632h0M366 632h0M375.8 632h0M385.6 632h0M395.4 632h0M405.2 632h0M415 632h0M424.9 632h0M434.7 632h0M444.5 632h0M454.3 632h0M464.1 632h0M473.9 632h0M483.7 632h0M493.5 632h0M503.3 632h0M513.1 632h0M523 632h0M532.8 632h0M542.6 632h0M552.4 632h0M562.2 632h0M164.9 640.5h0M174.7 640.5h0M184.5 640.5h0M194.3 640.5h0M204.1 640.5h0M213.9 640.5h0M223.8 640.5h0M233.6 640.5h0M243.4 640.5h0M253.2 640.5h0M263 640.5h0M272.8 640.5h0M282.6 640.5h0M292.4 640.5h0M302.2 640.5h0M312 640.5h0M321.9 640.5h0M331.7 640.5h0M341.5 640.5h0M351.3 640.5h0M361.1 640.5h0M370.9 640.5h0M380.7 640.5h0M390.5 640.5h0M400.3 640.5h0M410.1 640.5h0M419.9 640.5h0M429.8 640.5h0M439.6 640.5h0M449.4 640.5h0M459.2 640.5h0M469 640.5h0M478.8 640.5h0M488.6 640.5h0M498.4 640.5h0M508.2 640.5h0M518 640.5h0M527.9 640.5h0M537.7 640.5h0M547.5 640.5h0M169.8 649.1h0M179.6 649.1h0M189.4 649.1h0M199.2 649.1h0M209 649.1h0M218.8 649.1h0M228.7 649.1h0M238.5 649.1h0M248.3 649.1h0M258.1 649.1h0M267.9 649.1h0M277.7 649.1h0M287.5 649.1h0M297.3 649.1h0M307.1 649.1h0M316.9 649.1h0M326.8 649.1h0M336.6 649.1h0M346.4 649.1h0M356.2 649.1h0M366 649.1h0M375.8 649.1h0M385.6 649.1h0M395.4 649.1h0M405.2 649.1h0M415 649.1h0M424.9 649.1h0M434.7 649.1h0M444.5 649.1h0M454.3 649.1h0M464.1 649.1h0M473.9 649.1h0M483.7 649.1h0M493.5 649.1h0M503.3 649.1h0M513.1 649.1h0M523 649.1h0M532.8 649.1h0M542.6 649.1h0M174.7 657.6h0M184.5 657.6h0M194.3 657.6h0M204.1 657.6h0M213.9 657.6h0M223.8 657.6h0M233.6 657.6h0M243.4 657.6h0M253.2 657.6h0M263 657.6h0M272.8 657.6h0M282.6 657.6h0M292.4 657.6h0M302.2 657.6h0M312 657.6h0M321.9 657.6h0M331.7 657.6h0M341.5 657.6h0M351.3 657.6h0M361.1 657.6h0M370.9 657.6h0M380.7 657.6h0M390.5 657.6h0M400.3 657.6h0M410.1 657.6h0M419.9 657.6h0M429.8 657.6h0M439.6 657.6h0M449.4 657.6h0M459.2 657.6h0M469 657.6h0M478.8 657.6h0M488.6 657.6h0M498.4 657.6h0M508.2 657.6h0M518 657.6h0M527.9 657.6h0M169.8 666.1h0M179.6 666.1h0M189.4 666.1h0M199.2 666.1h0M209 666.1h0M218.8 666.1h0M228.7 666.1h0M238.5 666.1h0M248.3 666.1h0M258.1 666.1h0M267.9 666.1h0M277.7 666.1h0M287.5 666.1h0M297.3 666.1h0M307.1 666.1h0M316.9 666.1h0M326.8 666.1h0M336.6 666.1h0M346.4 666.1h0M356.2 666.1h0M366 666.1h0M375.8 666.1h0M385.6 666.1h0M395.4 666.1h0M405.2 666.1h0M415 666.1h0M424.9 666.1h0M434.7 666.1h0M444.5 666.1h0M454.3 666.1h0M464.1 666.1h0M473.9 666.1h0M483.7 666.1h0M493.5 666.1h0M503.3 666.1h0M513.1 666.1h0M164.9 674.7h0M174.7 674.7h0M184.5 674.7h0M194.3 674.7h0M204.1 674.7h0M213.9 674.7h0M223.8 674.7h0M233.6 674.7h0M243.4 674.7h0M253.2 674.7h0M263 674.7h0M272.8 674.7h0M282.6 674.7h0M292.4 674.7h0M302.2 674.7h0M312 674.7h0M321.9 674.7h0M331.7 674.7h0M341.5 674.7h0M351.3 674.7h0M361.1 674.7h0M370.9 674.7h0M380.7 674.7h0M390.5 674.7h0M400.3 674.7h0M410.1 674.7h0M419.9 674.7h0M429.8 674.7h0M439.6 674.7h0M449.4 674.7h0M459.2 674.7h0M469 674.7h0M478.8 674.7h0M488.6 674.7h0M169.8 683.2h0M179.6 683.2h0M189.4 683.2h0M199.2 683.2h0M209 683.2h0M218.8 683.2h0M228.7 683.2h0M238.5 683.2h0M248.3 683.2h0M258.1 683.2h0M267.9 683.2h0M277.7 683.2h0M287.5 683.2h0M297.3 683.2h0M307.1 683.2h0M316.9 683.2h0M326.8 683.2h0M336.6 683.2h0M346.4 683.2h0M356.2 683.2h0M366 683.2h0M375.8 683.2h0M385.6 683.2h0M395.4 683.2h0M405.2 683.2h0M415 683.2h0M424.9 683.2h0M434.7 683.2h0M444.5 683.2h0M454.3 683.2h0M464.1 683.2h0M483.7 683.2h0M174.7 691.7h0M184.5 691.7h0M194.3 691.7h0M204.1 691.7h0M213.9 691.7h0M223.8 691.7h0M233.6 691.7h0M243.4 691.7h0M253.2 691.7h0M263 691.7h0M272.8 691.7h0M282.6 691.7h0M292.4 691.7h0M302.2 691.7h0M341.5 691.7h0M351.3 691.7h0M361.1 691.7h0M370.9 691.7h0M380.7 691.7h0M390.5 691.7h0M400.3 691.7h0M410.1 691.7h0M419.9 691.7h0M429.8 691.7h0M439.6 691.7h0M449.4 691.7h0M459.2 691.7h0M179.6 700.3h0M189.4 700.3h0M199.2 700.3h0M209 700.3h0M218.8 700.3h0M228.7 700.3h0M238.5 700.3h0M248.3 700.3h0M258.1 700.3h0M267.9 700.3h0M277.7 700.3h0M287.5 700.3h0M297.3 700.3h0M356.2 700.3h0M366 700.3h0M375.8 700.3h0M385.6 700.3h0M395.4 700.3h0M405.2 700.3h0M415 700.3h0M424.9 700.3h0M434.7 700.3h0M174.7 708.8h0M184.5 708.8h0M194.3 708.8h0M204.1 708.8h0M213.9 708.8h0M223.8 708.8h0M233.6 708.8h0M243.4 708.8h0M253.2 708.8h0M263 708.8h0M272.8 708.8h0M390.5 708.8h0M400.3 708.8h0M410.1 708.8h0M429.8 708.8h0M160 717.4h0M169.8 717.4h0M179.6 717.4h0M189.4 717.4h0M199.2 717.4h0M209 717.4h0M218.8 717.4h0M228.7 717.4h0M238.5 717.4h0M248.3 717.4h0M258.1 717.4h0M267.9 717.4h0M277.7 717.4h0M287.5 717.4h0M174.7 725.9h0M184.5 725.9h0M194.3 725.9h0M204.1 725.9h0M213.9 725.9h0M223.8 725.9h0M233.6 725.9h0M243.4 725.9h0M253.2 725.9h0M263 725.9h0M272.8 725.9h0M282.6 725.9h0M292.4 725.9h0M150.2 734.4h0M160 734.4h0M179.6 734.4h0M199.2 734.4h0M209 734.4h0M218.8 734.4h0M228.7 734.4h0M238.5 734.4h0M248.3 734.4h0M258.1 734.4h0M267.9 734.4h0M155.1 743h0M164.9 743h0M184.5 743h0M223.8 743h0M233.6 743h0M243.4 743h0M253.2 743h0M160 751.5h0"/>
<linearGradient id="g0" x1="0" y1="0" x2="0" y2="1"><stop offset="0.0000" stop-color="#ff4f2f"/><stop offset="0.0417" stop-color="#ff6342"/><stop offset="0.0833" stop-color="#ff7554"/><stop offset="0.1250" stop-color="#ff8666"/><stop offset="0.1667" stop-color="#ff9678"/><stop offset="0.2083" stop-color="#ffa68b"/><stop offset="0.2500" stop-color="#ffb59d"/><stop offset="0.2917" stop-color="#ffc4b0"/><stop offset="0.3333" stop-color="#ffd3c4"/><stop offset="0.3750" stop-color="#ffe2d7"/><stop offset="0.4167" stop-color="#fff0eb"/><stop offset="0.4583" stop-color="#ffffff"/><stop offset="0.5000" stop-color="#f5edff"/><stop offset="0.5417" stop-color="#eadbff"/><stop offset="0.5833" stop-color="#dfc9ff"/><stop offset="0.6250" stop-color="#d3b7ff"/><stop offset="0.6667" stop-color="#c7a6ff"/><stop offset="0.7083" stop-color="#ba94ff"/><stop offset="0.7500" stop-color="#ac82ff"/><stop offset="0.7917" stop-color="#9d71ff"/><stop offset="0.8333" stop-color="#8c5fff"/><stop offset="0.8750" stop-color="#794dff"/><stop offset="0.9167" stop-color="#633aff"/><stop offset="0.9583" stop-color="#4624ff"/><stop offset="1.0000" stop-color="#0000ff"/></linearGradient>
<linearGradient id="g1" x1="0" y1="0" x2="0" y2="1"><stop offset="0.0000" stop-color="#ff3219"/><stop offset="0.0417" stop-color="#ff4d2e"/><stop offset="0.0833" stop-color="#ff6341"/><stop offset="0.1250" stop-color="#ff7654"/><stop offset="0.1667" stop-color="#ff8767"/><stop offset="0.2083" stop-color="#ff987a"/><stop offset="0.2500" stop-color="#ffa88e"/><stop offset="0.2917" stop-color="#ffb8a1"/><stop offset="0.3333" stop-color="#ffc8b5"/><stop offset="0.3750" stop-color="#ffd8ca"/><stop offset="0.4167" stop-color="#ffe7de"/><stop offset="0.4583" stop-color="#fff6f3"/><stop offset="0.5000" stop-color="#faf7ff"/><stop offset="0.5417" stop-color="#f0e4ff"/><stop offset="0.5833" stop-color="#e4d1ff"/><stop offset="0.6250" stop-color="#d8beff"/><stop offset="0.6667" stop-color="#cbacff"/><stop offset="0.7083" stop-color="#be9aff"/><stop offset="0.7500" stop-color="#b087ff"/><stop offset="0.7917" stop-color="#a075ff"/><stop offset="0.8333" stop-color="#8f62ff"/><stop offset="0.8750" stop-color="#7c4fff"/><stop offset="0.9167" stop-color="#653cff"/><stop offset="0.9583" stop-color="#4725ff"/><stop offset="1.0000" stop-color="#0000ff"/></linearGradient>
<linearGradient id="g2" x1="0" y1="0" x2="0" y2="1"><stop offset="0.0000" stop-color="#ff7352"/><stop offset="0.0417" stop-color="#ff8363"/><stop offset="0.0833" stop-color="#ff9273"/><stop offset="0.1250" stop-color="#ffa184"/><stop offset="0.1667" stop-color="#ffaf95"/><stop offset="0.2083" stop-color="#ffbda7"/><stop offset="0.2500" stop-color="#ffcab8"/><stop offset="0.2917" stop-color="#ffd8ca"/><stop offset="0.3333" stop-color="#ffe6dc"/><stop offset="0.3750" stop-color="#fff3ef"/><stop offset="0.4167" stop-color="#fefdff"/><stop offset="0.4583" stop-color="#f4ecff"/><stop offset="0.5000" stop-color="#ebdcff"/><stop offset="0.5417" stop-color="#e0cbff"/><stop offset="0.5833" stop-color="#d6bbff"/><stop offset="0.6250" stop-color="#caabff"/><stop offset="0.6667" stop-color="#bf9aff"/><stop offset="0.7083" stop-color="#b28aff"/><stop offset="0.7500" stop-color="#a57aff"/><stop offset="0.7917" stop-color="#966aff"/><stop offset="0.8333" stop-color="#8659ff"/><stop offset="0.8750" stop-color="#7448ff"/><stop offset="0.9167" stop-color="#5f37ff"/><stop offset="0.9583" stop-color="#4322ff"/><stop offset="1.0000" stop-color="#0000ff"/></linearGradient>
<linearGradient id="g3" x1="0" y1="0" x2="0" y2="1"><stop offset="0.0000" stop-color="#ffa98f"/><stop offset="0.0417" stop-color="#ffb59d"/><stop offset="0.0833" stop-color="#ffc1ac"/><stop offset="0.1250" stop-color="#ffccbb"/><stop offset="0.1667" stop-color="#ffd8ca"/><stop offset="0.2083" stop-color="#ffe4da"/><stop offset="0.2500" stop-color="#ffefe9"/><stop offset="0.2917" stop-color="#fffbf9"/><stop offset="0.3333" stop-color="#faf6ff"/><stop offset="0.3750" stop-color="#f2e8ff"/><stop offset="0.4167" stop-color="#eadaff"/><stop offset="0.4583" stop-color="#e1ccff"/><stop offset="0.5000" stop-color="#d8beff"/><stop offset="0.5417" stop-color="#ceb0ff"/><stop offset="0.5833" stop-color="#c5a2ff"/><stop offset="0.6250" stop-color="#ba95ff"/><stop offset="0.6667" stop-color="#af87ff"/><stop offset="0.7083" stop-color="#a479ff"/><stop offset="0.7500" stop-color="#986bff"/><stop offset="0.7917" stop-color="#8a5eff"/><stop offset="0.8333" stop-color="#7c4fff"/><stop offset="0.8750" stop-color="#6b41ff"/><stop offset="0.9167" stop-color="#5731ff"/><stop offset="0.9583" stop-color="#3d1eff"/><stop offset="1.0000" stop-color="#0000ff"/></linearGradient>
<linearGradient id="g4" x1="0" y1="0" x2="0" y2="1"><stop offset="0.0000" stop-color="#ff0000"/><stop offset="0.0417" stop-color="#ff2f17"/><stop offset="0.0833" stop-color="#ff4628"/><stop offset="0.1250" stop-color="#ff5838"/><stop offset="0.1667" stop-color="#ff6847"/><stop offset="0.2083" stop-color="#ff7755"/><stop offset="0.2500" stop-color="#ff8464"/><stop offset="0.2917" stop-color="#ff9273"/><stop offset="0.3333" stop-color="#ff9f82"/><stop offset="0.3750" stop-color="#ffab91"/><stop offset="0.4167" stop-color="#ffb8a1"/><stop offset="0.4583" stop-color="#ffc4b0"/><stop offset="0.5000" stop-color="#ffd0c0"/><stop offset="0.5417" stop-color="#ffdcd0"/><stop offset="0.5833" stop-color="#ffe8e0"/><stop offset="0.6250" stop-color="#fff4f0"/><stop offset="0.6667" stop-color="#fefdff"/><stop offset="0.7083" stop-color="#f6efff"/><stop offset="0.7500" stop-color="#ede0ff"/><stop offset="0.7917" stop-color="#e4d1ff"/><stop offset="0.8333" stop-color="#dbc3ff"/><stop offset="0.8750" stop-color="#d1b4ff"/><stop offset="0.9167" stop-color="#c7a6ff"/><stop offset="0.9583" stop-color="#bc97ff"/><stop offset="1.0000" stop-color="#b189ff"/></linearGradient>
<linearGradient id="g5" x1="0" y1="0" x2="0" y2="1"><stop offset="0.0000" stop-color="#ff7b5a"/><stop offset="0.0417" stop-color="#ff8a6a"/><stop offset="0.0833" stop-color="#ff987b"/><stop offset="0.1250" stop-color="#ffa68b"/><stop offset="0.1667" stop-color="#ffb49c"/><stop offset="0.2083" stop-color="#ffc2ad"/><stop offset="0.2500" stop-color="#ffcfbf"/><stop offset="0.2917" stop-color="#ffddd0"/><stop offset="0.3333" stop-color="#ffeae2"/><stop offset="0.3750" stop-color="#fff7f4"/><stop offset="0.4167" stop-color="#fbf8ff"/><stop offset="0.4583" stop-color="#f2e8ff"/><stop offset="0.5000" stop-color="#e8d8ff"/><stop offset="0.5417" stop-color="#dec8ff"/><stop offset="0.5833" stop-color="#d3b8ff"/><stop offset="0.6250" stop-color="#c8a8ff"/><stop offset="0.6667" stop-color="#bd98ff"/><stop offset="0.7083" stop-color="#b088ff"/><stop offset="0.7500" stop-color="#a378ff"/><stop offset="0.7917" stop-color="#9568ff"/><stop offset="0.8333" stop-color="#8558ff"/><stop offset="0.8750" stop-color="#7347ff"/><stop offset="0.9167" stop-color="#5e36ff"/><stop offset="0.9583" stop-color="#4221ff"/><stop offset="1.0000" stop-color="#0000ff"/></linearGradient>
<linearGradient id="g6" x1="0" y1="0" x2="0" y2="1"><stop offset="0.0000" stop-color="#ffa286"/><stop offset="0.0417" stop-color="#ffae95"/><stop offset="0.0833" stop-color="#ffbaa4"/><stop offset="0.1250" stop-color="#ffc6b3"/><stop offset="0.1667" stop-color="#ffd2c3"/><stop offset="0.2083" stop-color="#ffded2"/><stop offset="0.2500" stop-color="#ffeae2"/><stop offset="0.2917" stop-color="#fff6f2"/><stop offset="0.3333" stop-color="#fdfcff"/><stop offset="0.3750" stop-color="#f5edff"/><stop offset="0.4167" stop-color="#ecdfff"/><stop offset="0.4583" stop-color="#e4d0ff"/><stop offset="0.5000" stop-color="#dbc2ff"/><stop offset="0.5417" stop-color="#d1b4ff"/><stop offset="0.5833" stop-color="#c7a6ff"/><stop offset="0.6250" stop-color="#bd98ff"/><stop offset="0.6667" stop-color="#b28aff"/><stop offset="0.7083" stop-color="#a67cff"/><stop offset="0.7500" stop-color="#9a6dff"/><stop offset="0.7917" stop-color="#8c5fff"/><stop offset="0.8333" stop-color="#7d51ff"/><stop offset="0.8750" stop-color="#6d42ff"/><stop offset="0.9167" stop-color="#5932ff"/><stop offset="0.9583" stop-color="#3e1fff"/><stop offset="1.0000" stop-color="#0000ff"/></linearGradient>
</defs>
<g>
<text x="385.6" y="62.8" font-size="55" text-anchor="middle" fill="#000">Astrocytes</text>
<g transform="translate(0.00 0.00) scale(1)" fill="none" stroke-linecap="round">
<use href="#o" stroke="#1c1c1c" stroke-width="9.85"/>
<g stroke-width="8.75">
<path stroke="#0000ff" d="M454.3 461.2h0M449.4 469.8h0M444.5 495.4h0"/>
<path stroke="#381bff" d="M454.3 478.3h0"/>
<path stroke="#7145ff" d="M380.7 247.8h0M194.3 282h0M547.5 623.4h0M493.5 666.1h0"/>
<path stroke="#7e52ff" d="M518 230.7h0M263 282h0M267.9 341.7h0M449.4 367.3h0M464.1 444.2h0M464.1 461.2h0M459.2 469.8h0M449.4 486.9h0M567.1 589.3h0"/>
<path stroke="#8a5dff" d="M439.6 367.3h0M508.2 401.5h0M576.9 435.6h0M459.2 452.7h0M576.9 572.2h0"/>
<path stroke="#9569ff" d="M331.7 196.6h0M258.1 205.1h0M253.2 282h0M405.2 307.6h0M493.5 358.8h0M395.4 392.9h0M572 410h0M508.2 469.8h0M567.1 469.8h0M444.5 478.3h0M547.5 486.9h0M596.5 521h0"/>
<path stroke="#a074ff" d="M258.1 222.2h0M174.7 282h0M424.9 341.7h0M429.8 350.3h0M356.2 358.8h0M370.9 367.3h0M390.5 384.4h0M415 392.9h0M469 401.5h0M464.1 427.1h0M532.8 444.2h0M542.6 478.3h0M562.2 478.3h0M439.6 486.9h0M576.9 521h0M591.6 529.5h0M532.8 632h0M155.1 743h0M164.9 743h0"/>
<path stroke="#aa80ff" d="M434.7 205.1h0M527.9 230.7h0M513.1 239.3h0M258.1 273.4h0M380.7 299h0M410.1 316.1h0M415 324.7h0M189.4 341.7h0M341.5 350.3h0M434.7 358.8h0M488.6 367.3h0M434.7 375.9h0M424.9 392.9h0M591.6 392.9h0M488.6 401.5h0M483.7 410h0M557.3 418.6h0M537.7 452.7h0M596.5 452.7h0M483.7 461.2h0M532.8 461.2h0M518 469.8h0M527.9 469.8h0M459.2 486.9h0M498.4 486.9h0M503.3 495.4h0M581.8 495.4h0M508.2 503.9h0M518 503.9h0M473.9 512.5h0M562.2 512.5h0M537.7 521h0M552.4 546.6h0M552.4 614.9h0M552.4 632h0M537.7 640.5h0M532.8 649.1h0"/>
<path stroke="#b38bff" d="M366 205.1h0M439.6 230.7h0M395.4 239.3h0M287.5 256.4h0M385.6 256.4h0M424.9 256.4h0M189.4 273.4h0M400.3 299h0M248.3 341.7h0M277.7 341.7h0M385.6 375.9h0M473.9 410h0M478.8 418.6h0M567.1 418.6h0M523 427.1h0M542.6 427.1h0M459.2 435.6h0M469 435.6h0M586.7 435.6h0M596.5 435.6h0M572 444.2h0M557.3 452.7h0M576.9 452.7h0M591.6 461.2h0M537.7 469.8h0M586.7 469.8h0M601.4 529.5h0M547.5 538.1h0M434.7 649.1h0"/>
<path stroke="#bc97ff" d="M238.5 136.8h0M312 145.4h0M272.8 179.5h0M390.5 179.5h0M400.3 196.6h0M375.8 205.1h0M312 230.7h0M419.9 230.7h0M375.8 239.3h0M390.5 247.8h0M248.3 256.4h0M395.4 256.4h0M179.6 273.4h0M218.8 273.4h0M213.9 282h0M473.9 307.6h0M518 316.1h0M419.9 333.2h0M179.6 341.7h0M316.9 341.7h0M272.8 350.3h0M302.2 350.3h0M312 350.3h0M429.8 367.3h0M444.5 375.9h0M429.8 384.4h0M405.2 392.9h0M473.9 392.9h0M508.2 418.6h0M493.5 427.1h0M581.8 427.1h0M591.6 427.1h0M478.8 435.6h0M537.7 435.6h0M454.3 444.2h0M567.1 452.7h0M434.7 461.2h0M572 461.2h0M513.1 478.3h0M532.8 478.3h0M508.2 486.9h0M557.3 486.9h0M527.9 503.9h0M537.7 503.9h0M483.7 512.5h0M498.4 521h0M552.4 529.5h0M562.2 597.8h0M503.3 614.9h0M562.2 614.9h0M557.3 623.4h0M513.1 649.1h0M160 734.4h0"/>
<path stroke="#c4a2ff" d="M277.7 171h0M346.4 171h0M282.6 179.5h0M439.6 213.7h0M302.2 230.7h0M390.5 230.7h0M508.2 230.7h0M307.1 239.3h0M336.6 239.3h0M415 239.3h0M253.2 247.8h0M238.5 256.4h0M223.8 264.9h0M243.4 282h0M184.5 316.1h0M513.1 324.7h0M518 333.2h0M464.1 341.7h0M547.5 350.3h0M424.9 358.8h0M375.8 375.9h0M581.8 375.9h0M380.7 384.4h0M419.9 384.4h0M449.4 418.6h0M547.5 418.6h0M473.9 427.1h0M562.2 427.1h0M518 435.6h0M547.5 435.6h0M473.9 461.2h0M581.8 461.2h0M596.5 469.8h0M572 478.3h0M601.4 478.3h0M576.9 486.9h0M434.7 495.4h0M483.7 495.4h0M542.6 495.4h0M498.4 503.9h0M601.4 512.5h0M459.2 521h0M488.6 521h0M527.9 521h0M606.3 521h0M503.3 529.5h0M523 529.5h0M562.2 529.5h0M478.8 538.1h0M547.5 555.2h0M557.3 606.4h0M567.1 606.4h0M508.2 657.6h0M503.3 666.1h0M160 751.5h0"/>
<path stroke="#ccadff" d="M287.5 153.9h0M316.9 171h0M263 179.5h0M292.4 179.5h0M331.7 179.5h0M341.5 179.5h0M316.9 188.1h0M346.4 188.1h0M405.2 188.1h0M253.2 196.6h0M272.8 196.6h0M356.2 205.1h0M292.4 213.7h0M449.4 213.7h0M424.9 222.2h0M444.5 222.2h0M351.3 230.7h0M380.7 230.7h0M469 230.7h0M405.2 239.3h0M424.9 239.3h0M503.3 239.3h0M523 239.3h0M263 247.8h0M400.3 247.8h0M483.7 256.4h0M493.5 256.4h0M292.4 264.9h0M199.2 273.4h0M184.5 282h0M204.1 282h0M488.6 282h0M444.5 290.5h0M464.1 290.5h0M527.9 299h0M542.6 307.6h0M400.3 316.1h0M189.4 324.7h0M405.2 324.7h0M464.1 324.7h0M532.8 324.7h0M346.4 341.7h0M321.9 350.3h0M351.3 350.3h0M498.4 350.3h0M537.7 350.3h0M576.9 350.3h0M454.3 358.8h0M473.9 358.8h0M361.1 367.3h0M454.3 392.9h0M503.3 392.9h0M547.5 401.5h0M596.5 401.5h0M606.3 401.5h0M258.1 410h0M454.3 410h0M581.8 410h0M488.6 418.6h0M518 418.6h0M586.7 418.6h0M596.5 418.6h0M503.3 427.1h0M601.4 427.1h0M473.9 444.2h0M601.4 444.2h0M469 452.7h0M518 452.7h0M547.5 452.7h0M552.4 461.2h0M557.3 469.8h0M464.1 478.3h0M523 478.3h0M243.4 486.9h0M464.1 495.4h0M513.1 495.4h0M454.3 512.5h0M503.3 512.5h0M527.9 538.1h0M606.3 538.1h0M503.3 546.6h0M576.9 555.2h0M513.1 563.7h0M606.3 572.2h0M562.2 580.8h0M572 580.8h0M581.8 580.8h0M464.1 649.1h0M523 649.1h0M209 683.2h0M248.3 717.4h0M150.2 734.4h0"/>
<path stroke="#d4b9ff" d="M312 162.4h0M321.9 162.4h0M380.7 162.4h0M326.8 171h0M380.7 179.5h0M400.3 179.5h0M307.1 188.1h0M449.4 196.6h0M302.2 213.7h0M312 213.7h0M361.1 213.7h0M400.3 213.7h0M459.2 213.7h0M267.9 222.2h0M395.4 222.2h0M493.5 222.2h0M459.2 230.7h0M267.9 239.3h0M326.8 239.3h0M282.6 247.8h0M312 247.8h0M459.2 247.8h0M415 256.4h0M434.7 256.4h0M444.5 256.4h0M238.5 273.4h0M469 282h0M473.9 290.5h0M532.8 290.5h0M419.9 299h0M469 299h0M498.4 299h0M557.3 299h0M454.3 307.6h0M552.4 307.6h0M439.6 316.1h0M459.2 316.1h0M469 316.1h0M527.9 316.1h0M194.3 333.2h0M233.6 333.2h0M287.5 341.7h0M307.1 341.7h0M532.8 341.7h0M184.5 350.3h0M194.3 350.3h0M292.4 350.3h0M366 358.8h0M282.6 367.3h0M189.4 375.9h0M552.4 375.9h0M400.3 384.4h0M478.8 384.4h0M542.6 392.9h0M498.4 401.5h0M557.3 401.5h0M415 410h0M601.4 410h0M429.8 418.6h0M483.7 427.1h0M513.1 427.1h0M567.1 435.6h0M606.3 435.6h0M552.4 444.2h0M581.8 444.2h0M449.4 452.7h0M488.6 452.7h0M444.5 461.2h0M513.1 461.2h0M243.4 469.8h0M576.9 469.8h0M606.3 469.8h0M552.4 478.3h0M469 486.9h0M537.7 486.9h0M586.7 486.9h0M454.3 495.4h0M591.6 495.4h0M243.4 503.9h0M459.2 503.9h0M488.6 503.9h0M547.5 503.9h0M557.3 503.9h0M576.9 503.9h0M596.5 503.9h0M493.5 512.5h0M184.5 521h0M478.8 521h0M508.2 521h0M518 521h0M483.7 529.5h0M581.8 529.5h0M488.6 538.1h0M498.4 538.1h0M596.5 538.1h0M258.1 546.6h0M562.2 546.6h0M581.8 563.7h0M576.9 589.3h0M542.6 632h0M459.2 640.5h0M483.7 666.1h0M444.5 683.2h0"/>
<path stroke="#dcc4ff" d="M233.6 145.4h0M272.8 162.4h0M267.9 171h0M366 171h0M321.9 179.5h0M370.9 179.5h0M326.8 188.1h0M385.6 188.1h0M395.4 188.1h0M424.9 188.1h0M321.9 196.6h0M424.9 205.1h0M282.6 213.7h0M321.9 213.7h0M341.5 213.7h0M390.5 213.7h0M277.7 222.2h0M307.1 222.2h0M503.3 222.2h0M523 222.2h0M194.3 230.7h0M272.8 230.7h0M341.5 230.7h0M370.9 230.7h0M488.6 230.7h0M498.4 230.7h0M464.1 239.3h0M429.8 247.8h0M439.6 247.8h0M547.5 247.8h0M258.1 256.4h0M336.6 256.4h0M523 256.4h0M380.7 264.9h0M410.1 264.9h0M439.6 264.9h0M488.6 264.9h0M498.4 264.9h0M209 273.4h0M395.4 273.4h0M454.3 273.4h0M523 273.4h0M272.8 282h0M562.2 290.5h0M572 290.5h0M390.5 299h0M449.4 299h0M478.8 299h0M493.5 307.6h0M503.3 324.7h0M537.7 333.2h0M557.3 333.2h0M209 341.7h0M297.3 341.7h0M336.6 341.7h0M415 341.7h0M419.9 350.3h0M444.5 358.8h0M478.8 367.3h0M586.7 367.3h0M238.5 375.9h0M263 384.4h0M459.2 384.4h0M385.6 392.9h0M513.1 392.9h0M562.2 392.9h0M581.8 392.9h0M410.1 401.5h0M459.2 401.5h0M567.1 401.5h0M576.9 401.5h0M586.7 401.5h0M297.3 410h0M272.8 418.6h0M469 418.6h0M498.4 418.6h0M454.3 427.1h0M532.8 427.1h0M410.1 435.6h0M508.2 435.6h0M557.3 435.6h0M542.6 444.2h0M562.2 444.2h0M591.6 444.2h0M606.3 452.7h0M503.3 461.2h0M562.2 461.2h0M601.4 461.2h0M498.4 469.8h0M581.8 478.3h0M523 495.4h0M532.8 495.4h0M552.4 495.4h0M562.2 495.4h0M449.4 503.9h0M469 503.9h0M567.1 503.9h0M464.1 512.5h0M552.4 512.5h0M586.7 521h0M454.3 529.5h0M532.8 529.5h0M572 529.5h0M459.2 538.1h0M586.7 538.1h0M473.9 546.6h0M488.6 555.2h0M537.7 555.2h0M209 563.7h0M238.5 563.7h0M591.6 563.7h0M493.5 580.8h0M351.3 589.3h0M326.8 597.8h0M385.6 597.8h0M282.6 606.4h0M429.8 606.4h0M169.8 614.9h0M282.6 623.4h0M527.9 640.5h0M547.5 640.5h0M429.8 657.6h0M194.3 708.8h0M238.5 717.4h0"/>
<path stroke="#e3d0ff" d="M258.1 136.8h0M336.6 153.9h0M331.7 162.4h0M390.5 162.4h0M258.1 171h0M307.1 171h0M356.2 171h0M375.8 171h0M302.2 179.5h0M351.3 179.5h0M336.6 188.1h0M444.5 188.1h0M292.4 196.6h0M312 196.6h0M380.7 196.6h0M277.7 205.1h0M336.6 205.1h0M444.5 205.1h0M223.8 213.7h0M331.7 213.7h0M370.9 213.7h0M429.8 213.7h0M488.6 213.7h0M316.9 222.2h0M405.2 222.2h0M454.3 222.2h0M532.8 222.2h0M223.8 230.7h0M292.4 230.7h0M429.8 230.7h0M449.4 230.7h0M547.5 230.7h0M238.5 239.3h0M258.1 239.3h0M366 239.3h0M385.6 239.3h0M444.5 239.3h0M213.9 247.8h0M233.6 247.8h0M419.9 247.8h0M518 247.8h0M267.9 256.4h0M277.7 256.4h0M532.8 256.4h0M361.1 264.9h0M390.5 264.9h0M449.4 264.9h0M478.8 264.9h0M537.7 264.9h0M547.5 264.9h0M228.7 273.4h0M336.6 273.4h0M375.8 273.4h0M341.5 282h0M410.1 282h0M419.9 282h0M498.4 282h0M508.2 282h0M547.5 282h0M204.1 299h0M439.6 299h0M518 299h0M547.5 299h0M199.2 307.6h0M209 307.6h0M444.5 307.6h0M547.5 316.1h0M209 324.7h0M218.8 324.7h0M204.1 333.2h0M469 333.2h0M527.9 333.2h0M228.7 341.7h0M238.5 341.7h0M213.9 350.3h0M253.2 350.3h0M439.6 350.3h0M375.8 358.8h0M542.6 358.8h0M498.4 367.3h0M336.6 375.9h0M366 375.9h0M424.9 375.9h0M464.1 375.9h0M591.6 375.9h0M576.9 384.4h0M596.5 384.4h0M258.1 392.9h0M434.7 392.9h0M464.1 392.9h0M523 392.9h0M552.4 392.9h0M478.8 401.5h0M518 401.5h0M513.1 410h0M591.6 410h0M439.6 418.6h0M552.4 427.1h0M498.4 435.6h0M527.9 435.6h0M415 444.2h0M444.5 444.2h0M513.1 444.2h0M429.8 452.7h0M478.8 452.7h0M498.4 452.7h0M542.6 461.2h0M488.6 469.8h0M547.5 469.8h0M415 478.3h0M591.6 478.3h0M223.8 486.9h0M518 486.9h0M527.9 486.9h0M596.5 486.9h0M572 495.4h0M312 503.9h0M606.3 503.9h0M532.8 512.5h0M312 521h0M542.6 529.5h0M469 538.1h0M508.2 538.1h0M464.1 546.6h0M493.5 546.6h0M532.8 546.6h0M542.6 546.6h0M601.4 546.6h0M508.2 555.2h0M557.3 555.2h0M596.5 555.2h0M277.7 563.7h0M213.9 572.2h0M488.6 572.2h0M567.1 572.2h0M532.8 580.8h0M331.7 589.3h0M596.5 589.3h0M424.9 597.8h0M518 640.5h0M336.6 649.1h0M444.5 649.1h0M503.3 649.1h0M258.1 666.1h0M189.4 700.3h0M199.2 700.3h0M228.7 734.4h0"/>
<path stroke="#ebdcff" d="M292.4 162.4h0M302.2 162.4h0M385.6 171h0M258.1 188.1h0M297.3 188.1h0M366 188.1h0M390.5 196.6h0M429.8 196.6h0M307.1 205.1h0M346.4 205.1h0M395.4 205.1h0M405.2 205.1h0M454.3 205.1h0M478.8 213.7h0M297.3 222.2h0M385.6 222.2h0M464.1 222.2h0M361.1 230.7h0M228.7 239.3h0M248.3 239.3h0M346.4 239.3h0M483.7 239.3h0M542.6 239.3h0M370.9 247.8h0M469 247.8h0M488.6 247.8h0M537.7 247.8h0M297.3 256.4h0M326.8 256.4h0M454.3 256.4h0M552.4 256.4h0M282.6 264.9h0M321.9 264.9h0M459.2 264.9h0M508.2 264.9h0M527.9 264.9h0M267.9 273.4h0M385.6 273.4h0M415 273.4h0M493.5 273.4h0M223.8 282h0M233.6 282h0M429.8 282h0M459.2 282h0M218.8 290.5h0M429.8 299h0M434.7 307.6h0M464.1 307.6h0M503.3 307.6h0M523 307.6h0M204.1 316.1h0M213.9 316.1h0M233.6 316.1h0M488.6 316.1h0M557.3 316.1h0M199.2 324.7h0M238.5 324.7h0M444.5 324.7h0M493.5 324.7h0M581.8 324.7h0M272.8 333.2h0M429.8 333.2h0M488.6 333.2h0M547.5 333.2h0M218.8 341.7h0M503.3 341.7h0M513.1 341.7h0M542.6 341.7h0M204.1 350.3h0M223.8 350.3h0M282.6 350.3h0M508.2 350.3h0M527.9 350.3h0M557.3 350.3h0M562.2 358.8h0M380.7 367.3h0M483.7 375.9h0M503.3 375.9h0M439.6 384.4h0M469 384.4h0M488.6 384.4h0M557.3 384.4h0M532.8 392.9h0M601.4 392.9h0M537.7 401.5h0M434.7 410h0M464.1 410h0M503.3 410h0M523 410h0M532.8 410h0M542.6 410h0M552.4 410h0M459.2 418.6h0M527.9 418.6h0M277.7 427.1h0M424.9 427.1h0M434.7 427.1h0M572 427.1h0M449.4 435.6h0M488.6 435.6h0M434.7 444.2h0M523 444.2h0M439.6 452.7h0M523 461.2h0M263 469.8h0M341.5 469.8h0M419.9 469.8h0M434.7 478.3h0M473.9 478.3h0M503.3 478.3h0M488.6 486.9h0M473.9 495.4h0M493.5 495.4h0M238.5 512.5h0M581.8 512.5h0M591.6 512.5h0M174.7 521h0M449.4 521h0M469 521h0M547.5 521h0M567.1 521h0M218.8 529.5h0M567.1 538.1h0M576.9 538.1h0M523 546.6h0M581.8 546.6h0M429.8 555.2h0M459.2 555.2h0M567.1 555.2h0M552.4 563.7h0M449.4 572.2h0M547.5 572.2h0M586.7 572.2h0M596.5 572.2h0M267.9 580.8h0M253.2 589.3h0M410.1 589.3h0M518 589.3h0M557.3 589.3h0M356.2 597.8h0M572 597.8h0M253.2 606.4h0M292.4 606.4h0M312 606.4h0M385.6 614.9h0M537.7 623.4h0M267.9 632h0M253.2 657.6h0M488.6 657.6h0M498.4 657.6h0M518 657.6h0M223.8 674.7h0M488.6 674.7h0M233.6 691.7h0M253.2 691.7h0M209 700.3h0M434.7 700.3h0M253.2 743h0"/>
<path stroke="#f2e7ff" d="M326.8 153.9h0M366 153.9h0M223.8 162.4h0M341.5 162.4h0M351.3 162.4h0M395.4 171h0M243.4 196.6h0M341.5 196.6h0M370.9 196.6h0M267.9 205.1h0M243.4 213.7h0M326.8 222.2h0M336.6 222.2h0M346.4 222.2h0M375.8 222.2h0M473.9 222.2h0M184.5 230.7h0M213.9 230.7h0M233.6 230.7h0M282.6 230.7h0M410.1 230.7h0M478.8 230.7h0M537.7 230.7h0M179.6 239.3h0M218.8 239.3h0M277.7 239.3h0M287.5 239.3h0M321.9 247.8h0M449.4 247.8h0M316.9 256.4h0M375.8 256.4h0M542.6 256.4h0M302.2 264.9h0M331.7 264.9h0M370.9 264.9h0M483.7 273.4h0M518 282h0M199.2 290.5h0M336.6 290.5h0M405.2 290.5h0M424.9 290.5h0M552.4 290.5h0M537.7 299h0M179.6 307.6h0M483.7 307.6h0M513.1 307.6h0M263 316.1h0M449.4 316.1h0M576.9 316.1h0M287.5 324.7h0M424.9 324.7h0M473.9 324.7h0M552.4 324.7h0M184.5 333.2h0M213.9 333.2h0M253.2 333.2h0M282.6 333.2h0M449.4 333.2h0M508.2 333.2h0M567.1 333.2h0M326.8 341.7h0M454.3 341.7h0M473.9 341.7h0M562.2 341.7h0M581.8 341.7h0M449.4 350.3h0M567.1 350.3h0M189.4 358.8h0M483.7 358.8h0M292.4 367.3h0M351.3 367.3h0M469 367.3h0M508.2 367.3h0M527.9 367.3h0M557.3 367.3h0M567.1 367.3h0M228.7 375.9h0M395.4 375.9h0M454.3 375.9h0M572 375.9h0M213.9 384.4h0M272.8 384.4h0M508.2 384.4h0M547.5 384.4h0M586.7 384.4h0M189.4 392.9h0M199.2 392.9h0M277.7 392.9h0M572 392.9h0M302.2 401.5h0M424.9 410h0M194.3 418.6h0M223.8 418.6h0M419.9 418.6h0M576.9 418.6h0M444.5 427.1h0M277.7 444.2h0M586.7 452.7h0M213.9 469.8h0M469 469.8h0M287.5 478.3h0M493.5 478.3h0M429.8 486.9h0M567.1 486.9h0M253.2 503.9h0M439.6 503.9h0M370.9 521h0M557.3 521h0M189.4 529.5h0M513.1 529.5h0M292.4 538.1h0M302.2 538.1h0M513.1 546.6h0M611.2 546.6h0M194.3 555.2h0M542.6 563.7h0M601.4 563.7h0M233.6 572.2h0M243.4 572.2h0M361.1 572.2h0M400.3 572.2h0M478.8 572.2h0M218.8 580.8h0M346.4 580.8h0M434.7 580.8h0M473.9 580.8h0M243.4 589.3h0M292.4 589.3h0M302.2 589.3h0M361.1 589.3h0M380.7 589.3h0M336.6 597.8h0M366 597.8h0M375.8 597.8h0M503.3 597.8h0M272.8 606.4h0M547.5 606.4h0M258.1 614.9h0M267.9 614.9h0M513.1 614.9h0M263 623.4h0M459.2 623.4h0M424.9 632h0M503.3 632h0M513.1 632h0M213.9 640.5h0M405.2 649.1h0M478.8 657.6h0M434.7 666.1h0M248.3 683.2h0M307.1 683.2h0M326.8 683.2h0M272.8 691.7h0M228.7 700.3h0M287.5 717.4h0M194.3 725.9h0M233.6 725.9h0M243.4 725.9h0"/>
<path stroke="#f8f3ff" d="M370.9 162.4h0M297.3 171h0M361.1 179.5h0M238.5 188.1h0M267.9 188.1h0M415 188.1h0M434.7 188.1h0M361.1 196.6h0M287.5 205.1h0M326.8 205.1h0M464.1 205.1h0M473.9 205.1h0M483.7 205.1h0M493.5 205.1h0M272.8 213.7h0M380.7 213.7h0M419.9 213.7h0M287.5 222.2h0M483.7 222.2h0M400.3 230.7h0M297.3 239.3h0M316.9 239.3h0M434.7 239.3h0M184.5 247.8h0M302.2 247.8h0M410.1 247.8h0M478.8 247.8h0M498.4 247.8h0M527.9 247.8h0M307.1 256.4h0M346.4 256.4h0M464.1 256.4h0M513.1 256.4h0M243.4 264.9h0M253.2 264.9h0M263 264.9h0M341.5 264.9h0M419.9 264.9h0M469 264.9h0M169.8 273.4h0M248.3 273.4h0M356.2 273.4h0M405.2 273.4h0M503.3 273.4h0M572 273.4h0M390.5 282h0M439.6 282h0M478.8 282h0M567.1 282h0M375.8 290.5h0M385.6 290.5h0M454.3 290.5h0M513.1 290.5h0M542.6 290.5h0M194.3 299h0M488.6 299h0M567.1 299h0M586.7 299h0M238.5 307.6h0M395.4 307.6h0M532.8 307.6h0M223.8 316.1h0M253.2 316.1h0M419.9 316.1h0M429.8 316.1h0M537.7 316.1h0M248.3 324.7h0M302.2 333.2h0M351.3 333.2h0M459.2 333.2h0M199.2 341.7h0M258.1 341.7h0M405.2 341.7h0M493.5 341.7h0M523 341.7h0M552.4 341.7h0M572 341.7h0M243.4 350.3h0M331.7 350.3h0M469 350.3h0M478.8 350.3h0M591.6 358.8h0M243.4 367.3h0M302.2 367.3h0M547.5 367.3h0M596.5 367.3h0M316.9 375.9h0M473.9 375.9h0M532.8 375.9h0M253.2 384.4h0M449.4 384.4h0M498.4 384.4h0M567.1 384.4h0M218.8 392.9h0M307.1 392.9h0M336.6 392.9h0M493.5 392.9h0M263 401.5h0M380.7 401.5h0M419.9 401.5h0M429.8 401.5h0M439.6 401.5h0M449.4 401.5h0M189.4 410h0M385.6 410h0M444.5 410h0M331.7 418.6h0M537.7 418.6h0M267.9 427.1h0M204.1 435.6h0M213.9 435.6h0M439.6 435.6h0M493.5 444.2h0M184.5 452.7h0M424.9 461.2h0M478.8 469.8h0M238.5 478.3h0M248.3 478.3h0M258.1 478.3h0M385.6 478.3h0M405.2 478.3h0M483.7 478.3h0M331.7 486.9h0M370.9 486.9h0M478.8 486.9h0M616.2 486.9h0M199.2 495.4h0M209 495.4h0M601.4 495.4h0M611.2 495.4h0M263 503.9h0M282.6 503.9h0M478.8 503.9h0M228.7 512.5h0M523 512.5h0M542.6 512.5h0M179.6 529.5h0M199.2 529.5h0M429.8 538.1h0M537.7 538.1h0M557.3 538.1h0M248.3 546.6h0M415 546.6h0M483.7 546.6h0M253.2 555.2h0M478.8 555.2h0M297.3 563.7h0M356.2 563.7h0M424.9 563.7h0M523 563.7h0M611.2 563.7h0M184.5 572.2h0M419.9 572.2h0M228.7 580.8h0M248.3 580.8h0M233.6 589.3h0M321.9 589.3h0M498.4 589.3h0M586.7 589.3h0M287.5 597.8h0M434.7 597.8h0M454.3 597.8h0M473.9 597.8h0M361.1 606.4h0M410.1 606.4h0M439.6 606.4h0M488.6 606.4h0M346.4 614.9h0M415 614.9h0M483.7 614.9h0M542.6 614.9h0M572 614.9h0M272.8 623.4h0M361.1 623.4h0M370.9 623.4h0M488.6 623.4h0M498.4 623.4h0M258.1 632h0M493.5 632h0M562.2 632h0M233.6 640.5h0M292.4 640.5h0M248.3 649.1h0M277.7 649.1h0M366 649.1h0M415 649.1h0M424.9 649.1h0M204.1 657.6h0M233.6 657.6h0M321.9 657.6h0M209 666.1h0M307.1 666.1h0M174.7 674.7h0M184.5 674.7h0M233.6 674.7h0M429.8 674.7h0M228.7 683.2h0M267.9 683.2h0M213.9 691.7h0M179.6 700.3h0M184.5 708.8h0M204.1 708.8h0M243.4 708.8h0M169.8 717.4h0M199.2 717.4h0M223.8 725.9h0M243.4 743h0"/>
<path stroke="#ffffff" d="M346.4 153.9h0M361.1 162.4h0M238.5 171h0M223.8 179.5h0M287.5 188.1h0M454.3 188.1h0M302.2 196.6h0M459.2 196.6h0M469 196.6h0M316.9 205.1h0M385.6 205.1h0M523 205.1h0M351.3 213.7h0M410.1 213.7h0M469 213.7h0M498.4 213.7h0M218.8 222.2h0M238.5 222.2h0M248.3 222.2h0M356.2 222.2h0M434.7 222.2h0M513.1 222.2h0M263 230.7h0M331.7 230.7h0M356.2 239.3h0M454.3 239.3h0M292.4 247.8h0M213.9 264.9h0M233.6 264.9h0M272.8 264.9h0M312 264.9h0M307.1 273.4h0M346.4 273.4h0M366 273.4h0M562.2 273.4h0M321.9 282h0M400.3 282h0M537.7 282h0M189.4 290.5h0M267.9 290.5h0M346.4 290.5h0M356.2 290.5h0M415 290.5h0M483.7 290.5h0M410.1 299h0M189.4 307.6h0M424.9 307.6h0M572 307.6h0M194.3 316.1h0M179.6 324.7h0M228.7 324.7h0M316.9 324.7h0M542.6 324.7h0M292.4 333.2h0M439.6 333.2h0M576.9 333.2h0M385.6 341.7h0M434.7 341.7h0M444.5 341.7h0M586.7 350.3h0M267.9 358.8h0M316.9 358.8h0M385.6 358.8h0M464.1 358.8h0M523 358.8h0M552.4 358.8h0M581.8 358.8h0M459.2 367.3h0M576.9 367.3h0M258.1 375.9h0M346.4 375.9h0M493.5 375.9h0M184.5 384.4h0M321.9 384.4h0M341.5 384.4h0M518 384.4h0M537.7 384.4h0M346.4 392.9h0M375.8 392.9h0M194.3 401.5h0M253.2 401.5h0M272.8 401.5h0M361.1 401.5h0M400.3 401.5h0M277.7 410h0M307.1 410h0M562.2 410h0M611.2 410h0M233.6 435.6h0M419.9 435.6h0M272.8 452.7h0M508.2 452.7h0M405.2 461.2h0M400.3 469.8h0M199.2 478.3h0M228.7 478.3h0M424.9 478.3h0M380.7 486.9h0M410.1 486.9h0M346.4 495.4h0M233.6 503.9h0M169.8 512.5h0M189.4 512.5h0M267.9 512.5h0M297.3 512.5h0M307.1 512.5h0M513.1 512.5h0M233.6 521h0M375.8 529.5h0M493.5 529.5h0M213.9 538.1h0M233.6 538.1h0M591.6 546.6h0M233.6 555.2h0M282.6 555.2h0M498.4 555.2h0M586.7 555.2h0M228.7 563.7h0M473.9 563.7h0M483.7 563.7h0M493.5 563.7h0M562.2 563.7h0M302.2 572.2h0M439.6 572.2h0M508.2 572.2h0M179.6 580.8h0M277.7 580.8h0M356.2 580.8h0M454.3 580.8h0M513.1 580.8h0M223.8 589.3h0M263 589.3h0M282.6 589.3h0M341.5 589.3h0M307.1 597.8h0M591.6 597.8h0M263 606.4h0M302.2 606.4h0M331.7 606.4h0M341.5 606.4h0M370.9 606.4h0M390.5 606.4h0M459.2 606.4h0M316.9 614.9h0M454.3 614.9h0M464.1 614.9h0M473.9 614.9h0M400.3 623.4h0M567.1 623.4h0M523 632h0M164.9 640.5h0M312 640.5h0M321.9 640.5h0M361.1 640.5h0M449.4 640.5h0M508.2 640.5h0M199.2 649.1h0M223.8 657.6h0M272.8 657.6h0M390.5 657.6h0M400.3 657.6h0M410.1 657.6h0M469 657.6h0M527.9 657.6h0M375.8 666.1h0M405.2 666.1h0M513.1 666.1h0M204.1 674.7h0M419.9 674.7h0M478.8 674.7h0M258.1 683.2h0M336.6 683.2h0M483.7 683.2h0M449.4 691.7h0M267.9 700.3h0M366 700.3h0M395.4 700.3h0M174.7 708.8h0M213.9 708.8h0M189.4 717.4h0M258.1 717.4h0M184.5 725.9h0M204.1 725.9h0M238.5 734.4h0M258.1 734.4h0"/>
<path stroke="#fff5f2" d="M248.3 136.8h0M316.9 153.9h0M248.3 171h0M287.5 171h0M336.6 171h0M233.6 179.5h0M243.4 179.5h0M253.2 179.5h0M312 179.5h0M228.7 188.1h0M277.7 188.1h0M410.1 196.6h0M439.6 196.6h0M238.5 205.1h0M297.3 205.1h0M415 205.1h0M253.2 213.7h0M263 213.7h0M508.2 213.7h0M527.9 213.7h0M473.9 239.3h0M493.5 239.3h0M552.4 239.3h0M204.1 247.8h0M223.8 247.8h0M272.8 247.8h0M331.7 247.8h0M508.2 247.8h0M218.8 256.4h0M473.9 256.4h0M429.8 264.9h0M567.1 264.9h0M424.9 273.4h0M434.7 273.4h0M464.1 273.4h0M473.9 273.4h0M542.6 273.4h0M449.4 282h0M287.5 290.5h0M326.8 290.5h0M434.7 290.5h0M523 290.5h0M184.5 299h0M581.8 307.6h0M292.4 316.1h0M478.8 316.1h0M508.2 316.1h0M567.1 316.1h0M434.7 324.7h0M562.2 324.7h0M341.5 333.2h0M380.7 333.2h0M390.5 333.2h0M395.4 341.7h0M483.7 341.7h0M263 350.3h0M380.7 350.3h0M459.2 350.3h0M488.6 350.3h0M518 350.3h0M287.5 358.8h0M297.3 358.8h0M346.4 358.8h0M503.3 358.8h0M513.1 358.8h0M532.8 358.8h0M184.5 367.3h0M194.3 367.3h0M253.2 367.3h0M272.8 367.3h0M312 367.3h0M537.7 367.3h0M199.2 375.9h0M297.3 375.9h0M223.8 384.4h0M351.3 384.4h0M527.9 384.4h0M228.7 392.9h0M366 392.9h0M444.5 392.9h0M184.5 401.5h0M527.9 401.5h0M248.3 410h0M267.9 410h0M287.5 410h0M405.2 410h0M184.5 418.6h0M263 418.6h0M282.6 418.6h0M218.8 427.1h0M316.9 427.1h0M405.2 427.1h0M223.8 435.6h0M282.6 435.6h0M331.7 435.6h0M400.3 435.6h0M429.8 435.6h0M199.2 444.2h0M209 444.2h0M218.8 444.2h0M424.9 444.2h0M483.7 444.2h0M174.7 452.7h0M292.4 452.7h0M341.5 452.7h0M410.1 452.7h0M616.2 452.7h0M218.8 461.2h0M267.9 461.2h0M346.4 461.2h0M253.2 469.8h0M282.6 469.8h0M429.8 469.8h0M218.8 478.3h0M366 478.3h0M611.2 478.3h0M184.5 486.9h0M204.1 486.9h0M213.9 486.9h0M179.6 495.4h0M267.9 495.4h0M277.7 495.4h0M184.5 503.9h0M302.2 503.9h0M429.8 503.9h0M199.2 512.5h0M209 512.5h0M258.1 512.5h0M444.5 512.5h0M263 521h0M258.1 529.5h0M395.4 529.5h0M194.3 538.1h0M351.3 538.1h0M449.4 538.1h0M395.4 546.6h0M424.9 546.6h0M444.5 546.6h0M204.1 555.2h0M527.9 555.2h0M606.3 555.2h0M199.2 563.7h0M415 563.7h0M444.5 563.7h0M174.7 572.2h0M351.3 572.2h0M390.5 572.2h0M527.9 572.2h0M557.3 572.2h0M238.5 580.8h0M307.1 580.8h0M326.8 580.8h0M366 580.8h0M444.5 580.8h0M464.1 580.8h0M523 580.8h0M552.4 580.8h0M390.5 589.3h0M400.3 589.3h0M439.6 589.3h0M459.2 589.3h0M488.6 589.3h0M527.9 589.3h0M179.6 597.8h0M395.4 597.8h0M532.8 597.8h0M419.9 606.4h0M449.4 606.4h0M248.3 614.9h0M287.5 614.9h0M375.8 614.9h0M523 614.9h0M380.7 623.4h0M518 623.4h0M277.7 632h0M415 632h0M473.9 632h0M302.2 640.5h0M380.7 640.5h0M390.5 640.5h0M498.4 640.5h0M356.2 649.1h0M263 657.6h0M312 657.6h0M419.9 657.6h0M449.4 657.6h0M459.2 657.6h0M415 666.1h0M424.9 666.1h0M282.6 674.7h0M292.4 674.7h0M439.6 674.7h0M449.4 674.7h0M169.8 683.2h0M199.2 683.2h0M238.5 683.2h0M316.9 683.2h0M405.2 683.2h0M454.3 683.2h0M243.4 691.7h0M248.3 700.3h0M263 708.8h0M228.7 717.4h0M292.4 725.9h0M209 734.4h0"/>
<path stroke="#ffece5" d="M213.9 162.4h0M282.6 162.4h0M419.9 179.5h0M429.8 179.5h0M375.8 188.1h0M464.1 188.1h0M194.3 196.6h0M263 196.6h0M419.9 196.6h0M233.6 213.7h0M518 213.7h0M204.1 230.7h0M253.2 230.7h0M321.9 230.7h0M243.4 247.8h0M361.1 247.8h0M557.3 247.8h0M366 256.4h0M405.2 256.4h0M351.3 264.9h0M518 264.9h0M557.3 264.9h0M513.1 273.4h0M552.4 273.4h0M527.9 282h0M179.6 290.5h0M307.1 290.5h0M493.5 290.5h0M233.6 299h0M282.6 299h0M370.9 299h0M218.8 307.6h0M356.2 307.6h0M366 307.6h0M385.6 307.6h0M415 307.6h0M562.2 307.6h0M243.4 316.1h0M272.8 316.1h0M331.7 316.1h0M498.4 316.1h0M267.9 324.7h0M483.7 324.7h0M478.8 333.2h0M498.4 333.2h0M356.2 341.7h0M233.6 350.3h0M361.1 350.3h0M179.6 358.8h0M199.2 358.8h0M209 358.8h0M218.8 358.8h0M213.9 367.3h0M321.9 367.3h0M405.2 375.9h0M415 375.9h0M513.1 375.9h0M523 375.9h0M204.1 384.4h0M243.4 384.4h0M331.7 384.4h0M483.7 392.9h0M331.7 401.5h0M370.9 401.5h0M390.5 401.5h0M209 410h0M218.8 410h0M316.9 410h0M292.4 418.6h0M302.2 418.6h0M361.1 418.6h0M238.5 427.1h0M253.2 435.6h0M390.5 435.6h0M189.4 444.2h0M611.2 444.2h0M194.3 452.7h0M204.1 452.7h0M361.1 452.7h0M390.5 452.7h0M419.9 452.7h0M228.7 461.2h0M238.5 461.2h0M356.2 461.2h0M272.8 469.8h0M361.1 469.8h0M439.6 469.8h0M316.9 478.3h0M606.3 486.9h0M189.4 495.4h0M238.5 495.4h0M248.3 495.4h0M385.6 495.4h0M272.8 503.9h0M321.9 503.9h0M434.7 512.5h0M572 512.5h0M282.6 521h0M429.8 521h0M439.6 521h0M434.7 529.5h0M444.5 529.5h0M184.5 538.1h0M243.4 538.1h0M312 538.1h0M390.5 538.1h0M410.1 538.1h0M518 538.1h0M238.5 546.6h0M326.8 546.6h0M366 546.6h0M454.3 546.6h0M184.5 555.2h0M213.9 555.2h0M331.7 555.2h0M439.6 555.2h0M449.4 555.2h0M469 555.2h0M287.5 563.7h0M316.9 563.7h0M405.2 563.7h0M503.3 563.7h0M263 572.2h0M459.2 572.2h0M518 572.2h0M199.2 580.8h0M209 580.8h0M258.1 580.8h0M405.2 580.8h0M483.7 580.8h0M370.9 589.3h0M419.9 589.3h0M429.8 589.3h0M547.5 589.3h0M258.1 597.8h0M483.7 597.8h0M233.6 606.4h0M321.9 606.4h0M498.4 606.4h0M277.7 614.9h0M297.3 614.9h0M444.5 614.9h0M233.6 623.4h0M253.2 623.4h0M429.8 623.4h0M508.2 623.4h0M297.3 632h0M307.1 632h0M366 632h0M395.4 632h0M282.6 640.5h0M429.8 640.5h0M439.6 640.5h0M218.8 649.1h0M258.1 649.1h0M395.4 649.1h0M473.9 649.1h0M542.6 649.1h0M184.5 657.6h0M179.6 666.1h0M218.8 666.1h0M385.6 666.1h0M395.4 666.1h0M213.9 674.7h0M459.2 674.7h0M346.4 683.2h0M434.7 683.2h0M174.7 691.7h0M194.3 691.7h0M223.8 691.7h0M292.4 691.7h0M361.1 691.7h0M400.3 691.7h0M218.8 700.3h0M238.5 700.3h0M297.3 700.3h0M375.8 700.3h0M405.2 700.3h0M223.8 708.8h0M233.6 708.8h0M160 717.4h0M174.7 725.9h0M253.2 725.9h0M282.6 725.9h0M179.6 734.4h0M218.8 734.4h0"/>
<path stroke="#ffe2d8" d="M209 153.9h0M297.3 153.9h0M356.2 153.9h0M419.9 162.4h0M228.7 171h0M444.5 171h0M449.4 179.5h0M248.3 188.1h0M233.6 196.6h0M351.3 196.6h0M478.8 196.6h0M218.8 205.1h0M228.7 205.1h0M503.3 205.1h0M194.3 213.7h0M213.9 213.7h0M366 222.2h0M189.4 239.3h0M194.3 247.8h0M341.5 247.8h0M189.4 256.4h0M199.2 256.4h0M503.3 256.4h0M184.5 264.9h0M194.3 264.9h0M400.3 264.9h0M277.7 273.4h0M316.9 273.4h0M532.8 273.4h0M292.4 282h0M331.7 282h0M351.3 282h0M370.9 282h0M557.3 282h0M366 290.5h0M395.4 290.5h0M503.3 290.5h0M223.8 299h0M263 299h0M459.2 299h0M576.9 299h0M228.7 307.6h0M307.1 307.6h0M380.7 316.1h0M390.5 316.1h0M277.7 324.7h0M297.3 324.7h0M346.4 324.7h0M356.2 324.7h0M523 324.7h0M572 324.7h0M331.7 333.2h0M586.7 333.2h0M390.5 350.3h0M410.1 350.3h0M248.3 358.8h0M258.1 358.8h0M204.1 367.3h0M223.8 367.3h0M233.6 367.3h0M341.5 367.3h0M390.5 367.3h0M518 367.3h0M542.6 375.9h0M233.6 384.4h0M312 384.4h0M361.1 384.4h0M370.9 384.4h0M287.5 392.9h0M316.9 392.9h0M282.6 401.5h0M292.4 401.5h0M321.9 401.5h0M351.3 401.5h0M380.7 418.6h0M606.3 418.6h0M179.6 427.1h0M189.4 427.1h0M209 427.1h0M287.5 427.1h0M263 435.6h0M169.8 444.2h0M238.5 444.2h0M297.3 444.2h0M346.4 444.2h0M405.2 444.2h0M223.8 452.7h0M351.3 452.7h0M370.9 452.7h0M380.7 452.7h0M415 461.2h0M611.2 461.2h0M174.7 469.8h0M204.1 469.8h0M233.6 469.8h0M370.9 469.8h0M410.1 469.8h0M209 478.3h0M336.6 478.3h0M346.4 478.3h0M282.6 486.9h0M351.3 486.9h0M400.3 486.9h0M419.9 486.9h0M218.8 495.4h0M228.7 495.4h0M287.5 495.4h0M356.2 495.4h0M174.7 503.9h0M419.9 503.9h0M179.6 512.5h0M248.3 512.5h0M395.4 512.5h0M424.9 512.5h0M194.3 521h0M204.1 521h0M223.8 521h0M253.2 521h0M410.1 521h0M209 529.5h0M228.7 529.5h0M238.5 529.5h0M277.7 529.5h0M297.3 529.5h0M326.8 529.5h0M356.2 529.5h0M405.2 529.5h0M464.1 529.5h0M174.7 538.1h0M223.8 538.1h0M439.6 538.1h0M179.6 546.6h0M228.7 546.6h0M267.9 546.6h0M287.5 546.6h0M297.3 546.6h0M336.6 546.6h0M356.2 546.6h0M434.7 546.6h0M572 546.6h0M223.8 555.2h0M302.2 555.2h0M248.3 563.7h0M572 563.7h0M223.8 572.2h0M331.7 572.2h0M410.1 572.2h0M316.9 580.8h0M336.6 580.8h0M385.6 580.8h0M503.3 580.8h0M204.1 589.3h0M213.9 589.3h0M469 589.3h0M169.8 597.8h0M248.3 597.8h0M277.7 597.8h0M297.3 597.8h0M444.5 597.8h0M552.4 597.8h0M184.5 606.4h0M204.1 606.4h0M380.7 606.4h0M400.3 606.4h0M336.6 614.9h0M366 614.9h0M405.2 614.9h0M434.7 614.9h0M493.5 614.9h0M532.8 614.9h0M351.3 623.4h0M390.5 623.4h0M346.4 632h0M405.2 632h0M454.3 632h0M483.7 632h0M341.5 640.5h0M410.1 640.5h0M419.9 640.5h0M169.8 649.1h0M179.6 649.1h0M189.4 649.1h0M307.1 649.1h0M454.3 649.1h0M194.3 657.6h0M243.4 657.6h0M302.2 657.6h0M238.5 666.1h0M267.9 666.1h0M444.5 666.1h0M473.9 666.1h0M243.4 674.7h0M321.9 674.7h0M341.5 674.7h0M218.8 683.2h0M424.9 683.2h0M263 691.7h0M370.9 691.7h0M390.5 691.7h0M410.1 691.7h0M459.2 691.7h0M258.1 700.3h0M415 700.3h0M253.2 708.8h0M429.8 708.8h0M218.8 717.4h0M267.9 717.4h0M248.3 734.4h0M233.6 743h0"/>
<path stroke="#ffd9cb" d="M331.7 145.4h0M218.8 171h0M405.2 171h0M439.6 179.5h0M199.2 188.1h0M356.2 188.1h0M493.5 188.1h0M223.8 196.6h0M282.6 196.6h0M179.6 205.1h0M248.3 205.1h0M184.5 213.7h0M415 222.2h0M557.3 230.7h0M351.3 247.8h0M287.5 273.4h0M297.3 273.4h0M326.8 273.4h0M444.5 273.4h0M312 282h0M361.1 282h0M248.3 290.5h0M213.9 299h0M321.9 299h0M331.7 299h0M508.2 299h0M248.3 307.6h0M258.1 307.6h0M375.8 307.6h0M282.6 316.1h0M351.3 316.1h0M258.1 324.7h0M307.1 324.7h0M454.3 324.7h0M243.4 333.2h0M321.9 333.2h0M361.1 333.2h0M400.3 350.3h0M326.8 358.8h0M572 358.8h0M263 367.3h0M194.3 384.4h0M302.2 384.4h0M248.3 392.9h0M267.9 392.9h0M243.4 401.5h0M341.5 401.5h0M238.5 410h0M321.9 418.6h0M341.5 418.6h0M410.1 418.6h0M199.2 427.1h0M228.7 427.1h0M415 427.1h0M174.7 435.6h0M184.5 435.6h0M272.8 435.6h0M302.2 435.6h0M351.3 435.6h0M248.3 444.2h0M213.9 452.7h0M253.2 452.7h0M248.3 461.2h0M277.7 461.2h0M287.5 461.2h0M297.3 461.2h0M316.9 461.2h0M366 461.2h0M375.8 461.2h0M493.5 461.2h0M194.3 469.8h0M223.8 469.8h0M302.2 469.8h0M312 469.8h0M390.5 469.8h0M179.6 478.3h0M189.4 478.3h0M307.1 478.3h0M356.2 478.3h0M395.4 478.3h0M233.6 486.9h0M253.2 486.9h0M302.2 486.9h0M297.3 495.4h0M316.9 495.4h0M415 495.4h0M194.3 503.9h0M213.9 503.9h0M223.8 503.9h0M586.7 503.9h0M277.7 512.5h0M287.5 512.5h0M336.6 512.5h0M415 512.5h0M243.4 521h0M267.9 529.5h0M400.3 538.1h0M419.9 538.1h0M189.4 546.6h0M263 555.2h0M341.5 555.2h0M419.9 555.2h0M518 555.2h0M169.8 563.7h0M218.8 563.7h0M434.7 563.7h0M194.3 572.2h0M341.5 572.2h0M429.8 572.2h0M375.8 580.8h0M395.4 580.8h0M174.7 589.3h0M194.3 589.3h0M478.8 589.3h0M508.2 589.3h0M199.2 597.8h0M346.4 597.8h0M415 597.8h0M464.1 597.8h0M513.1 597.8h0M523 597.8h0M542.6 597.8h0M243.4 606.4h0M351.3 606.4h0M469 606.4h0M518 606.4h0M527.9 606.4h0M537.7 606.4h0M228.7 614.9h0M424.9 614.9h0M331.7 623.4h0M410.1 623.4h0M478.8 623.4h0M527.9 623.4h0M169.8 632h0M199.2 632h0M336.6 632h0M434.7 632h0M223.8 640.5h0M493.5 649.1h0M174.7 657.6h0M292.4 657.6h0M248.3 666.1h0M454.3 666.1h0M263 674.7h0M312 674.7h0M361.1 674.7h0M380.7 674.7h0M189.4 683.2h0M277.7 683.2h0M287.5 683.2h0M395.4 683.2h0M415 683.2h0M184.5 691.7h0M277.7 700.3h0M356.2 700.3h0M272.8 708.8h0M277.7 717.4h0M263 725.9h0M184.5 743h0M223.8 743h0"/>
<path stroke="#ffcfbf" d="M410.1 162.4h0M194.3 179.5h0M213.9 179.5h0M410.1 179.5h0M469 179.5h0M213.9 196.6h0M209 205.1h0M513.1 205.1h0M243.4 230.7h0M199.2 239.3h0M532.8 239.3h0M209 256.4h0M356.2 256.4h0M302.2 282h0M316.9 290.5h0M581.8 290.5h0M243.4 299h0M361.1 299h0M277.7 307.6h0M586.7 316.1h0M336.6 324.7h0M385.6 324.7h0M223.8 333.2h0M263 333.2h0M366 341.7h0M370.9 350.3h0M228.7 358.8h0M277.7 358.8h0M336.6 358.8h0M331.7 367.3h0M267.9 375.9h0M326.8 375.9h0M282.6 384.4h0M410.1 384.4h0M238.5 392.9h0M326.8 392.9h0M204.1 401.5h0M233.6 401.5h0M179.6 410h0M228.7 410h0M336.6 410h0M346.4 410h0M366 410h0M375.8 410h0M493.5 410h0M621.1 410h0M253.2 418.6h0M400.3 418.6h0M356.2 427.1h0M375.8 427.1h0M395.4 427.1h0M243.4 435.6h0M312 435.6h0M179.6 444.2h0M228.7 444.2h0M395.4 444.2h0M243.4 452.7h0M400.3 452.7h0M258.1 461.2h0M184.5 469.8h0M292.4 469.8h0M351.3 469.8h0M380.7 469.8h0M174.7 486.9h0M194.3 486.9h0M390.5 486.9h0M307.1 495.4h0M395.4 495.4h0M424.9 495.4h0M204.1 503.9h0M390.5 503.9h0M410.1 503.9h0M218.8 512.5h0M405.2 512.5h0M213.9 521h0M419.9 521h0M316.9 529.5h0M366 529.5h0M415 529.5h0M621.1 529.5h0M282.6 538.1h0M199.2 546.6h0M307.1 546.6h0M346.4 546.6h0M258.1 563.7h0M267.9 563.7h0M346.4 563.7h0M204.1 572.2h0M253.2 572.2h0M380.7 572.2h0M537.7 572.2h0M169.8 580.8h0M297.3 580.8h0M272.8 589.3h0M312 589.3h0M449.4 589.3h0M405.2 597.8h0M174.7 606.4h0M213.9 606.4h0M478.8 606.4h0M326.8 614.9h0M395.4 614.9h0M302.2 623.4h0M419.9 623.4h0M449.4 623.4h0M184.5 640.5h0M204.1 640.5h0M243.4 640.5h0M253.2 640.5h0M209 649.1h0M375.8 649.1h0M483.7 649.1h0M282.6 657.6h0M331.7 657.6h0M341.5 657.6h0M351.3 657.6h0M370.9 657.6h0M380.7 657.6h0M439.6 657.6h0M169.8 666.1h0M287.5 666.1h0M316.9 666.1h0M336.6 666.1h0M346.4 666.1h0M272.8 674.7h0M302.2 674.7h0M331.7 674.7h0M390.5 674.7h0M297.3 683.2h0M204.1 691.7h0M351.3 691.7h0M429.8 691.7h0M439.6 691.7h0M213.9 725.9h0"/>
<path stroke="#ffc6b2" d="M179.6 171h0M209 171h0M179.6 188.1h0M189.4 188.1h0M204.1 196.6h0M532.8 205.1h0M179.6 222.2h0M209 222.2h0M228.7 222.2h0M209 239.3h0M204.1 264.9h0M576.9 282h0M228.7 290.5h0M297.3 290.5h0M253.2 299h0M312 299h0M341.5 299h0M287.5 307.6h0M297.3 307.6h0M326.8 307.6h0M336.6 307.6h0M341.5 316.1h0M312 333.2h0M410.1 333.2h0M415 358.8h0M287.5 375.9h0M307.1 375.9h0M611.2 375.9h0M209 392.9h0M356.2 392.9h0M611.2 392.9h0M223.8 401.5h0M312 401.5h0M395.4 410h0M204.1 418.6h0M243.4 418.6h0M312 418.6h0M370.9 418.6h0M390.5 418.6h0M258.1 427.1h0M336.6 427.1h0M616.2 435.6h0M258.1 444.2h0M267.9 444.2h0M316.9 444.2h0M356.2 444.2h0M385.6 444.2h0M503.3 444.2h0M302.2 452.7h0M312 452.7h0M321.9 469.8h0M267.9 478.3h0M277.7 478.3h0M312 486.9h0M336.6 495.4h0M405.2 495.4h0M292.4 503.9h0M351.3 503.9h0M611.2 512.5h0M292.4 521h0M331.7 521h0M248.3 529.5h0M385.6 529.5h0M611.2 529.5h0M331.7 538.1h0M616.2 538.1h0M218.8 546.6h0M316.9 546.6h0M375.8 546.6h0M405.2 546.6h0M174.7 555.2h0M272.8 555.2h0M312 555.2h0M321.9 555.2h0M351.3 555.2h0M189.4 563.7h0M307.1 563.7h0M326.8 563.7h0M336.6 563.7h0M385.6 563.7h0M532.8 563.7h0M312 572.2h0M469 572.2h0M498.4 572.2h0M189.4 580.8h0M424.9 580.8h0M184.5 589.3h0M209 597.8h0M218.8 597.8h0M238.5 597.8h0M316.9 597.8h0M581.8 597.8h0M508.2 606.4h0M576.9 606.4h0M307.1 614.9h0M356.2 614.9h0M223.8 623.4h0M243.4 623.4h0M321.9 623.4h0M439.6 623.4h0M179.6 632h0M326.8 632h0M356.2 632h0M375.8 632h0M385.6 632h0M444.5 632h0M194.3 640.5h0M263 640.5h0M331.7 640.5h0M370.9 640.5h0M400.3 640.5h0M297.3 649.1h0M326.8 649.1h0M361.1 657.6h0M199.2 666.1h0M228.7 666.1h0M277.7 666.1h0M366 666.1h0M469 674.7h0M356.2 683.2h0M282.6 691.7h0M179.6 717.4h0M272.8 725.9h0M199.2 734.4h0"/>
<path stroke="#ffbca6" d="M253.2 128.3h0M307.1 153.9h0M184.5 162.4h0M204.1 162.4h0M189.4 171h0M473.9 188.1h0M498.4 196.6h0M508.2 196.6h0M189.4 205.1h0M562.2 222.2h0M179.6 256.4h0M228.7 256.4h0M209 290.5h0M238.5 290.5h0M346.4 307.6h0M321.9 316.1h0M596.5 350.3h0M238.5 358.8h0M307.1 358.8h0M395.4 358.8h0M400.3 367.3h0M209 375.9h0M218.8 375.9h0M248.3 375.9h0M562.2 375.9h0M616.2 401.5h0M174.7 418.6h0M213.9 418.6h0M233.6 418.6h0M616.2 418.6h0M248.3 427.1h0M366 427.1h0M321.9 435.6h0M380.7 435.6h0M307.1 444.2h0M375.8 444.2h0M282.6 452.7h0M189.4 461.2h0M307.1 461.2h0M326.8 461.2h0M385.6 461.2h0M395.4 461.2h0M297.3 478.3h0M326.8 478.3h0M375.8 478.3h0M272.8 486.9h0M341.5 486.9h0M361.1 486.9h0M361.1 503.9h0M380.7 503.9h0M616.2 503.9h0M316.9 512.5h0M356.2 512.5h0M272.8 521h0M351.3 521h0M380.7 521h0M390.5 521h0M307.1 529.5h0M204.1 538.1h0M380.7 538.1h0M243.4 555.2h0M380.7 555.2h0M400.3 555.2h0M366 563.7h0M375.8 563.7h0M454.3 563.7h0M370.9 572.2h0M415 580.8h0M542.6 580.8h0M591.6 580.8h0M189.4 597.8h0M493.5 597.8h0M194.3 623.4h0M292.4 623.4h0M341.5 623.4h0M238.5 632h0M248.3 632h0M272.8 640.5h0M478.8 640.5h0M228.7 649.1h0M189.4 666.1h0M297.3 666.1h0M464.1 666.1h0M253.2 674.7h0M370.9 674.7h0M400.3 674.7h0M302.2 691.7h0M341.5 691.7h0M410.1 708.8h0"/>
<path stroke="#ffb299" d="M415 171h0M204.1 179.5h0M459.2 179.5h0M209 188.1h0M547.5 213.7h0M189.4 222.2h0M199.2 222.2h0M542.6 222.2h0M562.2 256.4h0M282.6 282h0M351.3 299h0M267.9 307.6h0M361.1 316.1h0M596.5 316.1h0M366 324.7h0M375.8 324.7h0M370.9 333.2h0M375.8 341.7h0M410.1 367.3h0M419.9 367.3h0M277.7 375.9h0M601.4 375.9h0M199.2 410h0M351.3 418.6h0M307.1 427.1h0M346.4 427.1h0M611.2 427.1h0M194.3 435.6h0M292.4 435.6h0M370.9 435.6h0M287.5 444.2h0M326.8 444.2h0M263 452.7h0M331.7 452.7h0M179.6 461.2h0M199.2 461.2h0M209 461.2h0M336.6 461.2h0M263 486.9h0M292.4 486.9h0M258.1 495.4h0M341.5 503.9h0M326.8 512.5h0M375.8 512.5h0M341.5 521h0M400.3 521h0M346.4 529.5h0M253.2 538.1h0M263 538.1h0M272.8 538.1h0M277.7 546.6h0M370.9 555.2h0M395.4 563.7h0M272.8 572.2h0M282.6 572.2h0M287.5 580.8h0M228.7 597.8h0M267.9 597.8h0M189.4 614.9h0M174.7 623.4h0M184.5 623.4h0M213.9 623.4h0M218.8 632h0M228.7 632h0M287.5 632h0M316.9 632h0M351.3 640.5h0M488.6 640.5h0M238.5 649.1h0M267.9 649.1h0M287.5 649.1h0M346.4 649.1h0M385.6 649.1h0M356.2 666.1h0M164.9 674.7h0M194.3 674.7h0M410.1 674.7h0M366 683.2h0M464.1 683.2h0M380.7 691.7h0M419.9 691.7h0M287.5 700.3h0M385.6 700.3h0M424.9 700.3h0M209 717.4h0"/>
<path stroke="#ffa88d" d="M400.3 162.4h0M199.2 171h0M184.5 179.5h0M218.8 188.1h0M184.5 196.6h0M572 256.4h0M380.7 282h0M277.7 290.5h0M312 316.1h0M326.8 324.7h0M395.4 324.7h0M400.3 333.2h0M601.4 358.8h0M356.2 375.9h0M292.4 384.4h0M606.3 384.4h0M297.3 392.9h0M297.3 427.1h0M341.5 435.6h0M361.1 435.6h0M321.9 452.7h0M331.7 469.8h0M321.9 486.9h0M331.7 503.9h0M302.2 521h0M361.1 521h0M287.5 529.5h0M336.6 529.5h0M370.9 538.1h0M209 546.6h0M292.4 555.2h0M361.1 555.2h0M410.1 555.2h0M179.6 563.7h0M464.1 563.7h0M321.9 572.2h0M537.7 589.3h0M194.3 606.4h0M469 623.4h0M464.1 632h0M213.9 657.6h0M326.8 666.1h0M385.6 683.2h0M390.5 708.8h0M267.9 734.4h0"/>
<path stroke="#ff9e81" d="M434.7 171h0M488.6 196.6h0M258.1 290.5h0M302.2 299h0M213.9 401.5h0M326.8 410h0M385.6 427.1h0M336.6 444.2h0M366 495.4h0M400.3 503.9h0M346.4 512.5h0M321.9 521h0M361.1 538.1h0M385.6 546.6h0M390.5 555.2h0M292.4 572.2h0M209 614.9h0M218.8 614.9h0M204.1 623.4h0M312 623.4h0M189.4 632h0M209 632h0M174.7 640.5h0M469 640.5h0M179.6 683.2h0"/>
<path stroke="#ff9475" d="M424.9 171h0M483.7 188.1h0M552.4 222.2h0M591.6 324.7h0M591.6 341.7h0M405.2 358.8h0M366 444.2h0M326.8 495.4h0M375.8 495.4h0M366 512.5h0M385.6 512.5h0M616.2 521h0M321.9 538.1h0M223.8 606.4h0M179.6 614.9h0M238.5 614.9h0M351.3 674.7h0M400.3 708.8h0"/>
<path stroke="#ff8969" d="M272.8 299h0M326.8 427.1h0M424.9 529.5h0M341.5 538.1h0M316.9 649.1h0"/>
<path stroke="#ff7e5e" d="M204.1 213.7h0M233.6 452.7h0M370.9 503.9h0M375.8 683.2h0"/>
<path stroke="#ff7352" d="M292.4 299h0M316.9 307.6h0M370.9 316.1h0M356.2 410h0"/>
<path stroke="#ff6846" d="M621.1 512.5h0"/>
<path stroke="#ff4d2e" d="M537.7 213.7h0M199.2 614.9h0"/>
</g></g>
<rect x="128.0" y="98.3" width="515.3" height="682.7" fill="none" stroke="#333" stroke-width="2.1"/>
<text x="223.7" y="827.6" font-size="33.3" text-anchor="middle" fill="#4d4d4d">3000</text>
<text x="366.3" y="827.6" font-size="33.3" text-anchor="middle" fill="#4d4d4d">5000</text>
<text x="508.8" y="827.6" font-size="33.3" text-anchor="middle" fill="#4d4d4d">7000</text>
<text transform="translate(104.2 217.9) rotate(-90)" font-size="33.3" text-anchor="middle" fill="#4d4d4d">-2500</text>
<text transform="translate(104.2 395.9) rotate(-90)" font-size="33.3" text-anchor="middle" fill="#4d4d4d">-5000</text>
<text transform="translate(104.2 573.8) rotate(-90)" font-size="33.3" text-anchor="middle" fill="#4d4d4d">-7500</text>
<text transform="translate(104.2 751.8) rotate(-90)" font-size="33.3" text-anchor="middle" fill="#4d4d4d">-10000</text>
<path d="M223.7 782.0v11.5M366.3 782.0v11.5M508.8 782.0v11.5M127.0 217.9h-11.5M127.0 395.9h-11.5M127.0 573.8h-11.5M127.0 751.8h-11.5" stroke="#333" stroke-width="4.2" fill="none"/>
<text x="385.6" y="870.4" font-size="33.3" text-anchor="middle" fill="#000">x coordinates</text>
<text transform="translate(56.3 439.6) rotate(-90)" font-size="33.3" text-anchor="middle" fill="#000">y coordinates</text>
<rect x="713.2" y="260.1" width="71.9" height="359.5" fill="url(#g0)"/>
<text x="807.7" y="289.8" font-size="33.3" fill="#000">15</text>
<text x="807.7" y="379.7" font-size="33.3" fill="#000">10</text>
<text x="807.7" y="469.5" font-size="33.3" fill="#000">5</text>
<text x="807.7" y="559.3" font-size="33.3" fill="#000">0</text>
<path d="M713.2 277.9h14.4M785.1 277.9h-14.4M713.2 367.8h14.4M785.1 367.8h-14.4M713.2 457.6h14.4M785.1 457.6h-14.4M713.2 547.4h14.4M785.1 547.4h-14.4" stroke="#fff" stroke-width="1.6" fill="none"/>
</g>
<g>
<text x="1285.2" y="62.8" font-size="55" text-anchor="middle" fill="#000">Ependymal</text>
<g transform="translate(899.60 0.00) scale(1)" fill="none" stroke-linecap="round">
<use href="#o" stroke="#1c1c1c" stroke-width="9.85"/>
<g stroke-width="8.75">
<path stroke="#0000ff" d="M199.2 358.8h0M444.5 444.2h0M434.7 495.4h0M366 546.6h0"/>
<path stroke="#381bff" d="M434.7 444.2h0M429.8 486.9h0M429.8 503.9h0M370.9 521h0M272.8 555.2h0M385.6 563.7h0M331.7 606.4h0"/>
<path stroke="#502bff" d="M429.8 435.6h0M439.6 435.6h0M449.4 435.6h0M370.9 452.7h0M429.8 469.8h0M434.7 478.3h0M444.5 478.3h0M439.6 486.9h0M424.9 495.4h0M356.2 512.5h0M277.7 546.6h0M351.3 572.2h0"/>
<path stroke="#6239ff" d="M253.2 264.9h0M209 273.4h0M184.5 282h0M179.6 358.8h0M419.9 452.7h0M419.9 486.9h0M449.4 486.9h0M415 495.4h0M419.9 503.9h0M346.4 512.5h0M272.8 538.1h0M351.3 555.2h0M380.7 555.2h0M390.5 555.2h0M361.1 572.2h0M326.8 649.1h0"/>
<path stroke="#7145ff" d="M243.4 247.8h0M263 247.8h0M204.1 264.9h0M233.6 264.9h0M213.9 282h0M184.5 299h0M189.4 307.6h0M204.1 401.5h0M419.9 435.6h0M415 444.2h0M424.9 444.2h0M454.3 444.2h0M429.8 452.7h0M439.6 452.7h0M424.9 461.2h0M444.5 461.2h0M439.6 469.8h0M361.1 503.9h0M410.1 503.9h0M302.2 521h0M390.5 521h0M366 529.5h0M361.1 538.1h0M356.2 546.6h0M361.1 555.2h0M346.4 563.7h0M356.2 563.7h0M366 563.7h0M395.4 563.7h0M336.6 580.8h0M331.7 589.3h0M341.5 589.3h0M341.5 623.4h0M316.9 632h0M321.9 640.5h0M331.7 657.6h0M316.9 666.1h0M263 674.7h0M213.9 725.9h0"/>
<path stroke="#7e52ff" d="M282.6 247.8h0M248.3 256.4h0M233.6 282h0M184.5 384.4h0M199.2 392.9h0M410.1 435.6h0M199.2 444.2h0M449.4 452.7h0M415 461.2h0M434.7 461.2h0M370.9 469.8h0M419.9 469.8h0M424.9 478.3h0M405.2 495.4h0M410.1 521h0M419.9 521h0M375.8 529.5h0M292.4 538.1h0M385.6 546.6h0M405.2 546.6h0M370.9 555.2h0M400.3 555.2h0M380.7 572.2h0M346.4 580.8h0M356.2 580.8h0M351.3 589.3h0M307.1 597.8h0M326.8 597.8h0M336.6 597.8h0M336.6 614.9h0M346.4 614.9h0M326.8 632h0M233.6 640.5h0M292.4 640.5h0M331.7 640.5h0M297.3 649.1h0M336.6 649.1h0M321.9 657.6h0M326.8 666.1h0"/>
<path stroke="#8a5dff" d="M292.4 247.8h0M238.5 256.4h0M223.8 264.9h0M395.4 273.4h0M174.7 282h0M204.1 282h0M478.8 401.5h0M469 418.6h0M346.4 427.1h0M449.4 469.8h0M459.2 469.8h0M415 478.3h0M370.9 486.9h0M410.1 486.9h0M400.3 503.9h0M366 512.5h0M385.6 512.5h0M415 512.5h0M424.9 512.5h0M361.1 521h0M385.6 529.5h0M395.4 529.5h0M405.2 529.5h0M415 529.5h0M370.9 538.1h0M400.3 538.1h0M410.1 538.1h0M346.4 546.6h0M375.8 546.6h0M341.5 572.2h0M370.9 572.2h0M366 597.8h0M169.8 614.9h0M326.8 614.9h0M292.4 623.4h0M321.9 623.4h0M331.7 623.4h0M336.6 632h0M213.9 640.5h0M316.9 649.1h0M209 666.1h0M272.8 674.7h0M160 751.5h0"/>
<path stroke="#9569ff" d="M302.2 247.8h0M356.2 256.4h0M400.3 264.9h0M228.7 273.4h0M405.2 273.4h0M194.3 282h0M223.8 282h0M199.2 290.5h0M218.8 290.5h0M228.7 290.5h0M439.6 299h0M189.4 358.8h0M473.9 358.8h0M184.5 367.3h0M189.4 392.9h0M415 427.1h0M434.7 427.1h0M361.1 435.6h0M410.1 452.7h0M375.8 461.2h0M454.3 478.3h0M272.8 503.9h0M390.5 503.9h0M375.8 512.5h0M405.2 512.5h0M380.7 521h0M316.9 529.5h0M302.2 538.1h0M331.7 538.1h0M351.3 538.1h0M390.5 538.1h0M297.3 546.6h0M395.4 546.6h0M263 555.2h0M312 555.2h0M267.9 563.7h0M375.8 563.7h0M194.3 572.2h0M307.1 580.8h0M366 580.8h0M375.8 580.8h0M292.4 589.3h0M370.9 589.3h0M316.9 597.8h0M356.2 597.8h0M312 606.4h0M307.1 649.1h0M189.4 666.1h0M307.1 666.1h0M312 674.7h0M321.9 674.7h0M248.3 683.2h0M307.1 683.2h0M287.5 700.3h0M238.5 717.4h0M155.1 743h0"/>
<path stroke="#a074ff" d="M223.8 247.8h0M233.6 247.8h0M253.2 247.8h0M272.8 247.8h0M351.3 247.8h0M209 256.4h0M277.7 256.4h0M366 256.4h0M213.9 264.9h0M179.6 273.4h0M189.4 273.4h0M199.2 273.4h0M218.8 273.4h0M179.6 290.5h0M194.3 299h0M179.6 307.6h0M199.2 307.6h0M464.1 341.7h0M204.1 350.3h0M282.6 367.3h0M199.2 375.9h0M341.5 384.4h0M478.8 384.4h0M473.9 410h0M454.3 427.1h0M351.3 435.6h0M459.2 435.6h0M194.3 452.7h0M459.2 452.7h0M375.8 478.3h0M395.4 495.4h0M395.4 512.5h0M400.3 521h0M277.7 529.5h0M307.1 529.5h0M346.4 529.5h0M282.6 538.1h0M380.7 538.1h0M253.2 555.2h0M282.6 555.2h0M292.4 555.2h0M321.9 589.3h0M361.1 589.3h0M174.7 606.4h0M321.9 606.4h0M351.3 606.4h0M361.1 606.4h0M277.7 632h0M238.5 649.1h0M287.5 649.1h0M184.5 657.6h0M292.4 657.6h0M228.7 666.1h0M204.1 674.7h0M282.6 674.7h0M258.1 683.2h0M277.7 683.2h0M218.8 717.4h0M194.3 725.9h0M160 734.4h0"/>
<path stroke="#aa80ff" d="M312 247.8h0M361.1 247.8h0M218.8 256.4h0M326.8 256.4h0M390.5 264.9h0M189.4 290.5h0M209 290.5h0M415 290.5h0M424.9 290.5h0M213.9 299h0M223.8 299h0M209 307.6h0M473.9 375.9h0M194.3 401.5h0M179.6 410h0M356.2 427.1h0M405.2 427.1h0M424.9 427.1h0M444.5 427.1h0M464.1 427.1h0M366 444.2h0M380.7 452.7h0M454.3 461.2h0M243.4 486.9h0M400.3 486.9h0M366 495.4h0M444.5 495.4h0M380.7 503.9h0M351.3 521h0M287.5 529.5h0M356.2 529.5h0M307.1 563.7h0M223.8 572.2h0M326.8 580.8h0M243.4 589.3h0M189.4 597.8h0M346.4 597.8h0M204.1 606.4h0M282.6 606.4h0M341.5 606.4h0M307.1 614.9h0M199.2 632h0M209 632h0M248.3 632h0M287.5 632h0M312 640.5h0M179.6 649.1h0M218.8 649.1h0M248.3 649.1h0M258.1 649.1h0M213.9 657.6h0M233.6 657.6h0M253.2 657.6h0M213.9 674.7h0M292.4 674.7h0M209 683.2h0M243.4 691.7h0M263 691.7h0M292.4 691.7h0M209 700.3h0M194.3 708.8h0M243.4 708.8h0M204.1 725.9h0"/>
<path stroke="#b38bff" d="M341.5 247.8h0M336.6 256.4h0M375.8 256.4h0M194.3 264.9h0M243.4 264.9h0M380.7 264.9h0M204.1 299h0M429.8 299h0M439.6 316.1h0M459.2 333.2h0M184.5 350.3h0M194.3 350.3h0M469 350.3h0M228.7 358.8h0M297.3 358.8h0M204.1 367.3h0M213.9 367.3h0M302.2 367.3h0M204.1 384.4h0M473.9 392.9h0M209 444.2h0M199.2 461.2h0M410.1 469.8h0M199.2 495.4h0M375.8 495.4h0M326.8 512.5h0M341.5 521h0M258.1 546.6h0M287.5 546.6h0M218.8 563.7h0M248.3 563.7h0M277.7 563.7h0M204.1 572.2h0M179.6 580.8h0M199.2 597.8h0M277.7 597.8h0M223.8 606.4h0M263 606.4h0M302.2 606.4h0M189.4 614.9h0M209 614.9h0M263 623.4h0M272.8 623.4h0M282.6 640.5h0M243.4 657.6h0M282.6 657.6h0M312 657.6h0M199.2 666.1h0M258.1 666.1h0M267.9 666.1h0M297.3 666.1h0M223.8 674.7h0M302.2 674.7h0M267.9 683.2h0M272.8 691.7h0M179.6 700.3h0M209 717.4h0M263 725.9h0M150.2 734.4h0M199.2 734.4h0"/>
<path stroke="#bc97ff" d="M258.1 256.4h0M400.3 282h0M410.1 282h0M434.7 307.6h0M449.4 333.2h0M189.4 341.7h0M238.5 358.8h0M194.3 367.3h0M263 367.3h0M469 367.3h0M336.6 375.9h0M194.3 384.4h0M184.5 401.5h0M469 401.5h0M189.4 410h0M194.3 435.6h0M204.1 452.7h0M213.9 452.7h0M209 461.2h0M464.1 461.2h0M380.7 469.8h0M199.2 478.3h0M307.1 495.4h0M336.6 512.5h0M312 521h0M297.3 529.5h0M341.5 538.1h0M307.1 546.6h0M213.9 555.2h0M302.2 555.2h0M341.5 555.2h0M189.4 563.7h0M199.2 563.7h0M258.1 563.7h0M292.4 572.2h0M302.2 572.2h0M312 572.2h0M331.7 572.2h0M390.5 572.2h0M218.8 580.8h0M267.9 580.8h0M297.3 580.8h0M204.1 589.3h0M233.6 589.3h0M292.4 606.4h0M267.9 614.9h0M356.2 614.9h0M184.5 623.4h0M194.3 623.4h0M213.9 623.4h0M302.2 623.4h0M312 623.4h0M218.8 632h0M228.7 632h0M238.5 632h0M258.1 632h0M263 640.5h0M302.2 640.5h0M341.5 640.5h0M199.2 649.1h0M228.7 649.1h0M267.9 649.1h0M263 657.6h0M302.2 657.6h0M169.8 666.1h0M184.5 674.7h0M194.3 674.7h0M199.2 683.2h0M218.8 683.2h0M326.8 683.2h0M223.8 691.7h0M282.6 691.7h0M228.7 700.3h0M238.5 700.3h0M297.3 700.3h0M223.8 708.8h0M174.7 725.9h0M223.8 725.9h0M209 734.4h0M164.9 743h0"/>
<path stroke="#c4a2ff" d="M238.5 239.3h0M321.9 247.8h0M267.9 256.4h0M370.9 264.9h0M248.3 273.4h0M419.9 299h0M424.9 307.6h0M184.5 316.1h0M287.5 341.7h0M405.2 341.7h0M209 358.8h0M248.3 358.8h0M464.1 358.8h0M243.4 367.3h0M292.4 367.3h0M312 367.3h0M209 375.9h0M483.7 392.9h0M478.8 418.6h0M326.8 427.1h0M473.9 427.1h0M213.9 435.6h0M194.3 469.8h0M248.3 478.3h0M405.2 478.3h0M194.3 486.9h0M253.2 486.9h0M361.1 486.9h0M370.9 503.9h0M228.7 512.5h0M272.8 521h0M282.6 521h0M331.7 521h0M267.9 529.5h0M326.8 529.5h0M312 538.1h0M321.9 538.1h0M243.4 555.2h0M179.6 563.7h0M209 563.7h0M316.9 563.7h0M336.6 563.7h0M243.4 572.2h0M253.2 572.2h0M321.9 572.2h0M228.7 580.8h0M248.3 580.8h0M253.2 589.3h0M429.8 589.3h0M199.2 614.9h0M316.9 614.9h0M174.7 623.4h0M223.8 623.4h0M253.2 623.4h0M282.6 623.4h0M169.8 632h0M297.3 632h0M209 649.1h0M174.7 657.6h0M194.3 657.6h0M272.8 657.6h0M248.3 666.1h0M243.4 674.7h0M169.8 683.2h0M316.9 683.2h0M194.3 691.7h0M253.2 691.7h0M302.2 691.7h0M277.7 700.3h0M184.5 708.8h0M213.9 708.8h0M263 708.8h0M272.8 708.8h0M199.2 717.4h0M228.7 717.4h0M253.2 725.9h0M238.5 734.4h0"/>
<path stroke="#ccadff" d="M228.7 256.4h0M287.5 256.4h0M346.4 256.4h0M238.5 273.4h0M419.9 282h0M218.8 307.6h0M194.3 316.1h0M449.4 316.1h0M375.8 324.7h0M454.3 324.7h0M459.2 350.3h0M267.9 358.8h0M223.8 367.3h0M331.7 367.3h0M478.8 367.3h0M316.9 375.9h0M326.8 375.9h0M469 384.4h0M199.2 410h0M184.5 418.6h0M370.9 418.6h0M385.6 427.1h0M263 435.6h0M346.4 461.2h0M204.1 469.8h0M209 478.3h0M238.5 478.3h0M366 478.3h0M184.5 503.9h0M351.3 503.9h0M439.6 503.9h0M223.8 538.1h0M253.2 538.1h0M238.5 546.6h0M267.9 546.6h0M238.5 563.7h0M184.5 572.2h0M263 572.2h0M238.5 580.8h0M277.7 580.8h0M316.9 580.8h0M184.5 589.3h0M194.3 589.3h0M223.8 589.3h0M263 589.3h0M312 589.3h0M238.5 597.8h0M248.3 597.8h0M287.5 597.8h0M194.3 606.4h0M248.3 614.9h0M277.7 614.9h0M297.3 614.9h0M204.1 623.4h0M243.4 623.4h0M351.3 623.4h0M307.1 632h0M179.6 666.1h0M218.8 666.1h0M238.5 666.1h0M164.9 674.7h0M189.4 683.2h0M287.5 683.2h0M297.3 683.2h0M184.5 691.7h0M204.1 691.7h0M199.2 700.3h0M218.8 700.3h0M258.1 700.3h0M204.1 708.8h0M233.6 708.8h0M189.4 717.4h0M248.3 717.4h0M258.1 717.4h0M267.9 717.4h0M184.5 725.9h0M233.6 725.9h0M179.6 734.4h0M228.7 734.4h0"/>
<path stroke="#d4b9ff" d="M228.7 239.3h0M248.3 239.3h0M277.7 239.3h0M331.7 247.8h0M297.3 256.4h0M385.6 273.4h0M434.7 290.5h0M444.5 324.7h0M179.6 341.7h0M454.3 341.7h0M282.6 350.3h0M218.8 358.8h0M287.5 358.8h0M272.8 367.3h0M321.9 367.3h0M297.3 392.9h0M213.9 401.5h0M341.5 401.5h0M297.3 410h0M316.9 410h0M351.3 418.6h0M179.6 427.1h0M199.2 427.1h0M248.3 427.1h0M366 427.1h0M189.4 444.2h0M218.8 444.2h0M375.8 444.2h0M464.1 444.2h0M326.8 461.2h0M184.5 469.8h0M263 469.8h0M356.2 478.3h0M312 486.9h0M233.6 503.9h0M263 503.9h0M434.7 512.5h0M263 538.1h0M419.9 538.1h0M189.4 546.6h0M194.3 555.2h0M233.6 555.2h0M169.8 563.7h0M287.5 563.7h0M405.2 563.7h0M174.7 572.2h0M213.9 572.2h0M233.6 572.2h0M272.8 572.2h0M199.2 580.8h0M209 580.8h0M258.1 580.8h0M272.8 589.3h0M302.2 589.3h0M169.8 597.8h0M209 597.8h0M267.9 597.8h0M184.5 606.4h0M213.9 606.4h0M243.4 606.4h0M238.5 614.9h0M258.1 614.9h0M287.5 614.9h0M233.6 623.4h0M267.9 632h0M346.4 632h0M174.7 640.5h0M184.5 640.5h0M243.4 640.5h0M272.8 640.5h0M223.8 657.6h0M238.5 683.2h0M233.6 691.7h0M169.8 717.4h0M179.6 717.4h0M287.5 717.4h0M218.8 734.4h0M184.5 743h0"/>
<path stroke="#dcc4ff" d="M307.1 239.3h0M199.2 256.4h0M316.9 256.4h0M385.6 256.4h0M415 273.4h0M444.5 307.6h0M248.3 324.7h0M326.8 324.7h0M223.8 333.2h0M370.9 333.2h0M469 333.2h0M209 341.7h0M253.2 350.3h0M316.9 358.8h0M189.4 375.9h0M228.7 375.9h0M243.4 384.4h0M282.6 384.4h0M263 401.5h0M346.4 410h0M253.2 418.6h0M370.9 435.6h0M380.7 435.6h0M228.7 444.2h0M336.6 444.2h0M321.9 452.7h0M287.5 461.2h0M366 461.2h0M405.2 461.2h0M331.7 469.8h0M361.1 469.8h0M218.8 478.3h0M336.6 478.3h0M464.1 478.3h0M331.7 486.9h0M209 495.4h0M267.9 495.4h0M385.6 495.4h0M312 503.9h0M527.9 503.9h0M258.1 512.5h0M316.9 512.5h0M532.8 512.5h0M321.9 521h0M209 529.5h0M336.6 529.5h0M194.3 538.1h0M199.2 546.6h0M209 546.6h0M218.8 546.6h0M326.8 546.6h0M415 546.6h0M228.7 563.7h0M282.6 572.2h0M189.4 580.8h0M287.5 580.8h0M213.9 589.3h0M282.6 589.3h0M297.3 597.8h0M253.2 606.4h0M228.7 614.9h0M179.6 632h0M164.9 640.5h0M223.8 640.5h0M277.7 649.1h0M204.1 657.6h0M287.5 666.1h0M336.6 666.1h0M174.7 674.7h0M233.6 674.7h0M331.7 674.7h0M228.7 683.2h0M174.7 691.7h0M213.9 691.7h0M267.9 700.3h0M174.7 708.8h0M253.2 708.8h0M248.3 734.4h0M223.8 743h0"/>
<path stroke="#e3d0ff" d="M267.9 239.3h0M370.9 247.8h0M184.5 264.9h0M258.1 324.7h0M464.1 324.7h0M263 333.2h0M321.9 333.2h0M267.9 341.7h0M263 350.3h0M370.9 350.3h0M410.1 350.3h0M307.1 358.8h0M233.6 367.3h0M390.5 367.3h0M218.8 375.9h0M277.7 375.9h0M307.1 375.9h0M464.1 375.9h0M213.9 384.4h0M292.4 384.4h0M321.9 384.4h0M258.1 392.9h0M233.6 401.5h0M292.4 401.5h0M459.2 401.5h0M326.8 410h0M419.9 418.6h0M439.6 418.6h0M238.5 427.1h0M307.1 427.1h0M336.6 427.1h0M204.1 435.6h0M341.5 435.6h0M307.1 444.2h0M326.8 444.2h0M292.4 452.7h0M478.8 452.7h0M189.4 461.2h0M267.9 461.2h0M336.6 461.2h0M253.2 469.8h0M326.8 478.3h0M272.8 486.9h0M341.5 486.9h0M380.7 486.9h0M189.4 495.4h0M248.3 495.4h0M258.1 495.4h0M277.7 495.4h0M346.4 495.4h0M356.2 495.4h0M204.1 503.9h0M478.8 503.9h0M287.5 512.5h0M292.4 521h0M429.8 521h0M179.6 529.5h0M243.4 538.1h0M248.3 546.6h0M316.9 546.6h0M184.5 555.2h0M204.1 555.2h0M321.9 555.2h0M410.1 555.2h0M297.3 563.7h0M478.8 572.2h0M179.6 597.8h0M218.8 597.8h0M258.1 597.8h0M179.6 614.9h0M218.8 614.9h0M204.1 640.5h0M169.8 649.1h0M277.7 666.1h0M253.2 674.7h0M179.6 683.2h0M189.4 700.3h0M160 717.4h0M243.4 725.9h0M258.1 734.4h0M267.9 734.4h0"/>
<path stroke="#ebdcff" d="M326.8 239.3h0M336.6 239.3h0M572 256.4h0M302.2 299h0M248.3 307.6h0M307.1 307.6h0M341.5 316.1h0M419.9 316.1h0M429.8 316.1h0M189.4 324.7h0M366 324.7h0M331.7 333.2h0M258.1 341.7h0M316.9 341.7h0M213.9 350.3h0M341.5 367.3h0M449.4 367.3h0M248.3 375.9h0M267.9 375.9h0M316.9 392.9h0M326.8 392.9h0M302.2 401.5h0M312 401.5h0M336.6 410h0M356.2 410h0M424.9 410h0M464.1 410h0M174.7 418.6h0M263 418.6h0M292.4 418.6h0M209 427.1h0M316.9 427.1h0M184.5 435.6h0M223.8 435.6h0M321.9 435.6h0M179.6 444.2h0M287.5 444.2h0M385.6 444.2h0M405.2 444.2h0M233.6 452.7h0M258.1 461.2h0M297.3 461.2h0M356.2 461.2h0M213.9 469.8h0M341.5 469.8h0M228.7 478.3h0M184.5 486.9h0M233.6 486.9h0M459.2 486.9h0M218.8 495.4h0M326.8 495.4h0M493.5 495.4h0M282.6 503.9h0M321.9 503.9h0M331.7 503.9h0M518 503.9h0M209 512.5h0M248.3 512.5h0M267.9 512.5h0M277.7 512.5h0M174.7 521h0M253.2 521h0M263 521h0M179.6 546.6h0M469 555.2h0M464.1 563.7h0M493.5 563.7h0M449.4 572.2h0M469 572.2h0M488.6 572.2h0M385.6 580.8h0M174.7 589.3h0M478.8 589.3h0M228.7 597.8h0M233.6 606.4h0M454.3 614.9h0M248.3 700.3h0M375.8 700.3h0M415 700.3h0M424.9 700.3h0M272.8 725.9h0M282.6 725.9h0M292.4 725.9h0"/>
<path stroke="#f2e7ff" d="M258.1 239.3h0M316.9 239.3h0M213.9 247.8h0M169.8 273.4h0M375.8 273.4h0M542.6 273.4h0M253.2 282h0M326.8 307.6h0M267.9 324.7h0M341.5 333.2h0M380.7 333.2h0M429.8 333.2h0M218.8 341.7h0M248.3 341.7h0M326.8 341.7h0M375.8 341.7h0M223.8 350.3h0M312 350.3h0M380.7 350.3h0M478.8 350.3h0M375.8 358.8h0M253.2 367.3h0M459.2 367.3h0M223.8 384.4h0M233.6 384.4h0M331.7 384.4h0M209 392.9h0M238.5 392.9h0M321.9 401.5h0M243.4 418.6h0M400.3 418.6h0M218.8 427.1h0M277.7 427.1h0M395.4 427.1h0M253.2 435.6h0M267.9 444.2h0M356.2 444.2h0M263 452.7h0M312 452.7h0M469 452.7h0M316.9 461.2h0M385.6 461.2h0M473.9 461.2h0M243.4 469.8h0M302.2 469.8h0M469 469.8h0M606.3 469.8h0M189.4 478.3h0M258.1 478.3h0M267.9 478.3h0M483.7 478.3h0M493.5 478.3h0M204.1 486.9h0M351.3 486.9h0M316.9 495.4h0M169.8 512.5h0M464.1 512.5h0M542.6 512.5h0M621.1 512.5h0M527.9 521h0M542.6 529.5h0M174.7 538.1h0M204.1 538.1h0M213.9 538.1h0M174.7 555.2h0M459.2 555.2h0M518 555.2h0M326.8 563.7h0M169.8 580.8h0M439.6 589.3h0M459.2 589.3h0M375.8 597.8h0M272.8 606.4h0M473.9 614.9h0M189.4 632h0M194.3 640.5h0M341.5 657.6h0M400.3 691.7h0M356.2 700.3h0"/>
<path stroke="#f8f3ff" d="M370.9 162.4h0M209 171h0M366 205.1h0M209 222.2h0M223.8 230.7h0M287.5 239.3h0M356.2 239.3h0M307.1 256.4h0M395.4 256.4h0M361.1 264.9h0M292.4 299h0M312 299h0M321.9 299h0M263 316.1h0M272.8 316.1h0M321.9 316.1h0M356.2 324.7h0M204.1 333.2h0M272.8 333.2h0M419.9 333.2h0M199.2 341.7h0M228.7 341.7h0M307.1 341.7h0M366 341.7h0M395.4 341.7h0M473.9 341.7h0M272.8 350.3h0M258.1 358.8h0M277.7 358.8h0M326.8 358.8h0M395.4 358.8h0M258.1 375.9h0M611.2 375.9h0M272.8 384.4h0M351.3 384.4h0M223.8 401.5h0M370.9 401.5h0M429.8 401.5h0M218.8 410h0M454.3 410h0M223.8 418.6h0M302.2 418.6h0M321.9 418.6h0M361.1 418.6h0M390.5 418.6h0M410.1 418.6h0M449.4 418.6h0M258.1 427.1h0M297.3 427.1h0M174.7 435.6h0M282.6 435.6h0M302.2 435.6h0M400.3 435.6h0M248.3 444.2h0M174.7 452.7h0M179.6 461.2h0M218.8 461.2h0M277.7 461.2h0M395.4 461.2h0M503.3 461.2h0M532.8 461.2h0M478.8 469.8h0M547.5 469.8h0M179.6 478.3h0M277.7 478.3h0M287.5 478.3h0M297.3 478.3h0M385.6 478.3h0M513.1 478.3h0M498.4 486.9h0M336.6 495.4h0M454.3 495.4h0M483.7 495.4h0M513.1 495.4h0M194.3 503.9h0M213.9 503.9h0M302.2 503.9h0M473.9 512.5h0M213.9 521h0M223.8 521h0M469 521h0M557.3 521h0M218.8 529.5h0M258.1 529.5h0M503.3 529.5h0M459.2 538.1h0M228.7 546.6h0M611.2 546.6h0M331.7 555.2h0M424.9 563.7h0M483.7 563.7h0M424.9 580.8h0M444.5 580.8h0M473.9 580.8h0M419.9 589.3h0M469 589.3h0M527.9 589.3h0M454.3 597.8h0M473.9 597.8h0M459.2 606.4h0M478.8 606.4h0M488.6 606.4h0M434.7 614.9h0M478.8 623.4h0M253.2 640.5h0M189.4 649.1h0M336.6 683.2h0M346.4 683.2h0M419.9 691.7h0M395.4 700.3h0M410.1 708.8h0M277.7 717.4h0M243.4 743h0"/>
<path stroke="#ffffff" d="M238.5 171h0M366 188.1h0M204.1 196.6h0M204.1 213.7h0M297.3 239.3h0M415 256.4h0M503.3 256.4h0M312 264.9h0M321.9 264.9h0M351.3 264.9h0M567.1 264.9h0M267.9 273.4h0M444.5 273.4h0M547.5 282h0M238.5 290.5h0M248.3 290.5h0M233.6 299h0M331.7 299h0M410.1 299h0M258.1 307.6h0M297.3 307.6h0M316.9 307.6h0M346.4 307.6h0M366 307.6h0M562.2 307.6h0M223.8 316.1h0M253.2 316.1h0M282.6 316.1h0M312 316.1h0M331.7 316.1h0M370.9 316.1h0M380.7 316.1h0M390.5 316.1h0M459.2 316.1h0M596.5 316.1h0M179.6 324.7h0M405.2 324.7h0M194.3 333.2h0M390.5 333.2h0M410.1 333.2h0M439.6 333.2h0M238.5 341.7h0M277.7 341.7h0M356.2 341.7h0M483.7 341.7h0M400.3 350.3h0M415 358.8h0M434.7 358.8h0M400.3 367.3h0M410.1 367.3h0M346.4 375.9h0M449.4 384.4h0M336.6 392.9h0M346.4 392.9h0M356.2 392.9h0M375.8 392.9h0M243.4 401.5h0M272.8 401.5h0M331.7 401.5h0M361.1 401.5h0M248.3 410h0M375.8 410h0M194.3 418.6h0M204.1 418.6h0M213.9 418.6h0M233.6 418.6h0M459.2 418.6h0M189.4 427.1h0M267.9 427.1h0M243.4 435.6h0M272.8 435.6h0M292.4 435.6h0M312 435.6h0M331.7 435.6h0M258.1 444.2h0M297.3 444.2h0M473.9 444.2h0M503.3 444.2h0M184.5 452.7h0M341.5 452.7h0M361.1 452.7h0M238.5 461.2h0M513.1 461.2h0M174.7 469.8h0M233.6 469.8h0M321.9 469.8h0M400.3 469.8h0M508.2 469.8h0M518 469.8h0M316.9 478.3h0M532.8 478.3h0M321.9 486.9h0M390.5 486.9h0M287.5 495.4h0M223.8 503.9h0M243.4 503.9h0M469 503.9h0M189.4 512.5h0M307.1 512.5h0M513.1 512.5h0M478.8 521h0M488.6 521h0M606.3 521h0M228.7 529.5h0M238.5 529.5h0M424.9 529.5h0M621.1 529.5h0M184.5 538.1h0M233.6 538.1h0M449.4 538.1h0M508.2 538.1h0M557.3 538.1h0M336.6 546.6h0M473.9 546.6h0M503.3 546.6h0M223.8 555.2h0M449.4 555.2h0M478.8 555.2h0M488.6 555.2h0M454.3 563.7h0M473.9 563.7h0M532.8 563.7h0M601.4 563.7h0M419.9 572.2h0M429.8 572.2h0M439.6 572.2h0M459.2 572.2h0M537.7 572.2h0M483.7 580.8h0M532.8 580.8h0M542.6 580.8h0M380.7 589.3h0M415 597.8h0M434.7 597.8h0M444.5 597.8h0M513.1 597.8h0M370.9 606.4h0M410.1 606.4h0M469 606.4h0M508.2 606.4h0M395.4 614.9h0M410.1 623.4h0M439.6 623.4h0M449.4 623.4h0M459.2 623.4h0M508.2 623.4h0M527.9 623.4h0M405.2 632h0M464.1 632h0M513.1 632h0M390.5 640.5h0M346.4 649.1h0M454.3 649.1h0M356.2 683.2h0M341.5 691.7h0M370.9 691.7h0M390.5 691.7h0M366 700.3h0M434.7 700.3h0"/>
<path stroke="#fff5f2" d="M209 153.9h0M189.4 171h0M248.3 171h0M213.9 179.5h0M449.4 179.5h0M351.3 196.6h0M459.2 196.6h0M326.8 205.1h0M444.5 222.2h0M562.2 222.2h0M199.2 239.3h0M209 239.3h0M218.8 239.3h0M346.4 239.3h0M498.4 247.8h0M179.6 256.4h0M189.4 256.4h0M410.1 264.9h0M498.4 264.9h0M336.6 273.4h0M243.4 282h0M282.6 282h0M351.3 282h0M390.5 282h0M385.6 290.5h0M464.1 290.5h0M503.3 290.5h0M243.4 299h0M370.9 299h0M449.4 299h0M228.7 307.6h0M238.5 307.6h0M356.2 307.6h0M375.8 307.6h0M405.2 307.6h0M415 307.6h0M454.3 307.6h0M351.3 316.1h0M400.3 316.1h0M307.1 324.7h0M385.6 324.7h0M483.7 324.7h0M253.2 333.2h0M312 333.2h0M351.3 333.2h0M400.3 333.2h0M527.9 333.2h0M336.6 341.7h0M434.7 341.7h0M243.4 350.3h0M302.2 350.3h0M351.3 350.3h0M439.6 350.3h0M405.2 358.8h0M287.5 375.9h0M542.6 375.9h0M370.9 384.4h0M557.3 384.4h0M218.8 392.9h0M267.9 392.9h0M366 392.9h0M380.7 401.5h0M449.4 401.5h0M616.2 401.5h0M258.1 410h0M267.9 410h0M307.1 410h0M483.7 410h0M312 418.6h0M331.7 418.6h0M429.8 418.6h0M233.6 435.6h0M616.2 435.6h0M169.8 444.2h0M238.5 444.2h0M277.7 444.2h0M483.7 444.2h0M243.4 452.7h0M272.8 452.7h0M331.7 452.7h0M390.5 452.7h0M228.7 461.2h0M282.6 469.8h0M312 469.8h0M390.5 469.8h0M537.7 469.8h0M586.7 469.8h0M307.1 478.3h0M395.4 478.3h0M174.7 486.9h0M213.9 486.9h0M282.6 486.9h0M292.4 486.9h0M302.2 486.9h0M527.9 486.9h0M616.2 486.9h0M228.7 495.4h0M238.5 495.4h0M523 495.4h0M532.8 495.4h0M253.2 503.9h0M596.5 503.9h0M179.6 512.5h0M199.2 512.5h0M218.8 512.5h0M483.7 512.5h0M503.3 512.5h0M523 512.5h0M459.2 521h0M537.7 521h0M199.2 529.5h0M248.3 529.5h0M493.5 529.5h0M513.1 529.5h0M488.6 538.1h0M518 538.1h0M537.7 538.1h0M464.1 546.6h0M498.4 555.2h0M434.7 563.7h0M552.4 563.7h0M518 572.2h0M606.3 572.2h0M395.4 580.8h0M493.5 580.8h0M503.3 580.8h0M498.4 589.3h0M508.2 589.3h0M483.7 597.8h0M449.4 606.4h0M498.4 606.4h0M518 606.4h0M375.8 614.9h0M405.2 614.9h0M444.5 614.9h0M464.1 614.9h0M532.8 614.9h0M469 623.4h0M488.6 623.4h0M518 623.4h0M415 632h0M444.5 632h0M483.7 632h0M469 640.5h0M434.7 649.1h0M439.6 657.6h0M351.3 674.7h0M375.8 683.2h0M361.1 691.7h0M380.7 691.7h0M410.1 691.7h0M385.6 700.3h0M400.3 708.8h0"/>
<path stroke="#ffece5" d="M218.8 171h0M267.9 171h0M233.6 179.5h0M263 179.5h0M459.2 179.5h0M184.5 196.6h0M194.3 196.6h0M213.9 196.6h0M361.1 196.6h0M370.9 196.6h0M209 205.1h0M312 213.7h0M469 213.7h0M184.5 230.7h0M204.1 247.8h0M380.7 247.8h0M405.2 256.4h0M493.5 256.4h0M282.6 264.9h0M449.4 264.9h0M518 264.9h0M297.3 273.4h0M361.1 282h0M370.9 282h0M449.4 282h0M576.9 282h0M267.9 290.5h0M287.5 290.5h0M297.3 290.5h0M307.1 290.5h0M316.9 290.5h0M326.8 290.5h0M336.6 290.5h0M380.7 299h0M204.1 316.1h0M292.4 316.1h0M361.1 316.1h0M488.6 316.1h0M199.2 324.7h0M287.5 324.7h0M297.3 324.7h0M336.6 324.7h0M346.4 324.7h0M415 324.7h0M493.5 324.7h0M581.8 324.7h0M591.6 324.7h0M184.5 333.2h0M213.9 333.2h0M243.4 333.2h0M282.6 333.2h0M292.4 333.2h0M297.3 341.7h0M444.5 341.7h0M385.6 358.8h0M444.5 358.8h0M238.5 375.9h0M424.9 375.9h0M434.7 375.9h0M483.7 375.9h0M312 384.4h0M361.1 384.4h0M459.2 384.4h0M586.7 384.4h0M606.3 384.4h0M228.7 392.9h0M307.1 392.9h0M385.6 392.9h0M454.3 392.9h0M282.6 401.5h0M228.7 410h0M238.5 410h0M277.7 410h0M385.6 410h0M395.4 410h0M415 410h0M434.7 410h0M513.1 410h0M532.8 410h0M611.2 410h0M341.5 418.6h0M380.7 418.6h0M527.9 418.6h0M228.7 427.1h0M483.7 427.1h0M508.2 435.6h0M316.9 444.2h0M395.4 444.2h0M282.6 452.7h0M518 452.7h0M307.1 461.2h0M483.7 461.2h0M542.6 461.2h0M351.3 469.8h0M498.4 469.8h0M527.9 469.8h0M557.3 469.8h0M542.6 478.3h0M611.2 478.3h0M223.8 486.9h0M488.6 486.9h0M518 486.9h0M292.4 503.9h0M449.4 503.9h0M459.2 503.9h0M488.6 503.9h0M537.7 503.9h0M297.3 512.5h0M444.5 512.5h0M454.3 512.5h0M493.5 512.5h0M204.1 521h0M233.6 521h0M189.4 529.5h0M444.5 529.5h0M464.1 529.5h0M439.6 555.2h0M547.5 555.2h0M415 563.7h0M444.5 563.7h0M400.3 572.2h0M498.4 572.2h0M557.3 572.2h0M415 580.8h0M434.7 580.8h0M454.3 580.8h0M464.1 580.8h0M513.1 580.8h0M547.5 589.3h0M424.9 597.8h0M503.3 597.8h0M591.6 597.8h0M390.5 606.4h0M439.6 606.4h0M415 614.9h0M493.5 614.9h0M503.3 614.9h0M380.7 623.4h0M419.9 623.4h0M429.8 623.4h0M498.4 623.4h0M434.7 632h0M503.3 632h0M439.6 640.5h0M488.6 640.5h0M464.1 649.1h0M449.4 657.6h0M341.5 674.7h0M380.7 674.7h0M366 683.2h0M351.3 691.7h0M405.2 700.3h0M390.5 708.8h0M253.2 743h0"/>
<path stroke="#ffe2d8" d="M287.5 153.9h0M307.1 153.9h0M366 153.9h0M184.5 162.4h0M223.8 162.4h0M312 162.4h0M361.1 162.4h0M390.5 162.4h0M326.8 171h0M184.5 179.5h0M179.6 188.1h0M287.5 188.1h0M326.8 188.1h0M454.3 188.1h0M464.1 188.1h0M282.6 196.6h0M508.2 196.6h0M189.4 205.1h0M385.6 205.1h0M493.5 205.1h0M503.3 205.1h0M194.3 213.7h0M370.9 213.7h0M390.5 213.7h0M518 213.7h0M503.3 222.2h0M204.1 230.7h0M233.6 230.7h0M508.2 230.7h0M189.4 239.3h0M405.2 239.3h0M184.5 247.8h0M390.5 247.8h0M488.6 247.8h0M483.7 256.4h0M532.8 256.4h0M562.2 256.4h0M263 264.9h0M488.6 264.9h0M572 273.4h0M272.8 282h0M302.2 282h0M331.7 282h0M439.6 282h0M258.1 290.5h0M405.2 290.5h0M454.3 290.5h0M581.8 290.5h0M253.2 299h0M508.2 299h0M586.7 299h0M581.8 307.6h0M478.8 316.1h0M277.7 324.7h0M395.4 324.7h0M424.9 324.7h0M434.7 324.7h0M473.9 324.7h0M523 324.7h0M532.8 324.7h0M552.4 324.7h0M361.1 333.2h0M537.7 333.2h0M424.9 341.7h0M542.6 341.7h0M591.6 341.7h0M292.4 350.3h0M361.1 350.3h0M429.8 350.3h0M449.4 350.3h0M424.9 358.8h0M523 358.8h0M532.8 358.8h0M552.4 358.8h0M562.2 358.8h0M572 358.8h0M601.4 358.8h0M508.2 367.3h0M576.9 367.3h0M356.2 375.9h0M444.5 375.9h0M581.8 375.9h0M263 384.4h0M302.2 384.4h0M527.9 384.4h0M547.5 384.4h0M248.3 392.9h0M287.5 392.9h0M464.1 392.9h0M523 392.9h0M542.6 392.9h0M287.5 410h0M493.5 410h0M272.8 418.6h0M488.6 418.6h0M616.2 418.6h0M287.5 427.1h0M375.8 427.1h0M503.3 427.1h0M611.2 427.1h0M390.5 435.6h0M469 435.6h0M567.1 435.6h0M586.7 435.6h0M606.3 435.6h0M346.4 444.2h0M513.1 444.2h0M581.8 444.2h0M302.2 452.7h0M248.3 461.2h0M523 461.2h0M562.2 461.2h0M272.8 469.8h0M346.4 478.3h0M473.9 478.3h0M503.3 478.3h0M523 478.3h0M591.6 478.3h0M469 486.9h0M508.2 486.9h0M473.9 495.4h0M542.6 495.4h0M341.5 503.9h0M547.5 503.9h0M557.3 503.9h0M611.2 512.5h0M184.5 521h0M508.2 521h0M518 521h0M586.7 521h0M616.2 521h0M483.7 529.5h0M552.4 529.5h0M469 538.1h0M478.8 538.1h0M567.1 538.1h0M434.7 546.6h0M454.3 546.6h0M493.5 546.6h0M523 546.6h0M532.8 546.6h0M542.6 546.6h0M601.4 546.6h0M508.2 555.2h0M537.7 555.2h0M557.3 555.2h0M513.1 563.7h0M542.6 563.7h0M410.1 572.2h0M508.2 572.2h0M523 580.8h0M390.5 589.3h0M449.4 589.3h0M385.6 597.8h0M464.1 597.8h0M380.7 606.4h0M419.9 606.4h0M483.7 614.9h0M361.1 623.4h0M454.3 632h0M473.9 632h0M459.2 640.5h0M478.8 640.5h0M375.8 649.1h0M385.6 649.1h0M444.5 649.1h0M473.9 649.1h0M410.1 657.6h0M459.2 657.6h0M385.6 683.2h0M429.8 708.8h0"/>
<path stroke="#ffd9cb" d="M356.2 153.9h0M204.1 162.4h0M272.8 162.4h0M282.6 162.4h0M341.5 162.4h0M400.3 162.4h0M277.7 171h0M356.2 171h0M366 171h0M204.1 179.5h0M223.8 179.5h0M272.8 179.5h0M292.4 179.5h0M351.3 179.5h0M361.1 179.5h0M370.9 179.5h0M390.5 179.5h0M189.4 188.1h0M209 188.1h0M218.8 188.1h0M346.4 188.1h0M356.2 188.1h0M243.4 196.6h0M341.5 196.6h0M439.6 196.6h0M449.4 196.6h0M498.4 196.6h0M356.2 205.1h0M464.1 205.1h0M184.5 213.7h0M380.7 213.7h0M419.9 213.7h0M459.2 213.7h0M537.7 213.7h0M547.5 213.7h0M228.7 222.2h0M307.1 222.2h0M366 222.2h0M385.6 222.2h0M523 222.2h0M542.6 222.2h0M552.4 222.2h0M194.3 230.7h0M370.9 230.7h0M419.9 230.7h0M469 230.7h0M483.7 239.3h0M532.8 239.3h0M449.4 247.8h0M459.2 247.8h0M469 247.8h0M508.2 247.8h0M523 256.4h0M272.8 264.9h0M292.4 264.9h0M429.8 264.9h0M258.1 273.4h0M316.9 273.4h0M326.8 273.4h0M346.4 273.4h0M424.9 273.4h0M292.4 282h0M341.5 282h0M557.3 282h0M277.7 290.5h0M346.4 290.5h0M513.1 290.5h0M523 290.5h0M552.4 290.5h0M488.6 299h0M547.5 299h0M557.3 299h0M385.6 307.6h0M464.1 307.6h0M483.7 307.6h0M552.4 307.6h0M213.9 316.1h0M243.4 316.1h0M527.9 316.1h0M586.7 316.1h0M503.3 324.7h0M542.6 324.7h0M572 324.7h0M302.2 333.2h0M557.3 333.2h0M385.6 341.7h0M513.1 341.7h0M321.9 350.3h0M547.5 350.3h0M454.3 358.8h0M483.7 358.8h0M380.7 367.3h0M439.6 367.3h0M518 367.3h0M297.3 375.9h0M493.5 375.9h0M513.1 375.9h0M253.2 384.4h0M400.3 384.4h0M410.1 384.4h0M537.7 384.4h0M576.9 384.4h0M277.7 392.9h0M493.5 392.9h0M503.3 392.9h0M552.4 392.9h0M439.6 401.5h0M557.3 401.5h0M366 410h0M621.1 410h0M508.2 418.6h0M537.7 418.6h0M586.7 418.6h0M523 427.1h0M488.6 435.6h0M532.8 444.2h0M223.8 452.7h0M253.2 452.7h0M400.3 452.7h0M557.3 452.7h0M552.4 461.2h0M552.4 478.3h0M601.4 478.3h0M478.8 486.9h0M567.1 486.9h0M179.6 495.4h0M297.3 495.4h0M562.2 495.4h0M611.2 495.4h0M498.4 503.9h0M567.1 503.9h0M616.2 503.9h0M581.8 512.5h0M591.6 512.5h0M194.3 521h0M439.6 521h0M449.4 521h0M547.5 521h0M454.3 529.5h0M523 529.5h0M498.4 538.1h0M547.5 538.1h0M576.9 538.1h0M606.3 538.1h0M444.5 546.6h0M483.7 546.6h0M419.9 555.2h0M527.9 555.2h0M523 563.7h0M562.2 563.7h0M611.2 563.7h0M488.6 589.3h0M537.7 589.3h0M405.2 597.8h0M493.5 597.8h0M542.6 597.8h0M400.3 606.4h0M429.8 606.4h0M527.9 606.4h0M366 614.9h0M424.9 614.9h0M523 614.9h0M390.5 623.4h0M375.8 632h0M493.5 632h0M351.3 640.5h0M370.9 640.5h0M380.7 640.5h0M400.3 640.5h0M419.9 640.5h0M429.8 640.5h0M449.4 640.5h0M405.2 649.1h0M483.7 649.1h0M361.1 657.6h0M390.5 657.6h0M419.9 657.6h0M429.8 657.6h0M356.2 666.1h0M366 666.1h0M395.4 666.1h0M370.9 674.7h0"/>
<path stroke="#ffcfbf" d="M258.1 136.8h0M233.6 145.4h0M331.7 145.4h0M316.9 153.9h0M292.4 162.4h0M302.2 162.4h0M179.6 171h0M199.2 171h0M228.7 171h0M258.1 171h0M346.4 171h0M375.8 171h0M405.2 171h0M415 171h0M434.7 171h0M194.3 179.5h0M243.4 179.5h0M282.6 179.5h0M341.5 179.5h0M380.7 179.5h0M439.6 179.5h0M248.3 188.1h0M267.9 188.1h0M316.9 188.1h0M336.6 188.1h0M375.8 188.1h0M405.2 188.1h0M223.8 196.6h0M253.2 196.6h0M312 196.6h0M321.9 196.6h0M380.7 196.6h0M400.3 196.6h0M488.6 196.6h0M287.5 205.1h0M307.1 205.1h0M375.8 205.1h0M405.2 205.1h0M243.4 213.7h0M253.2 213.7h0M263 213.7h0M282.6 213.7h0M292.4 213.7h0M488.6 213.7h0M179.6 222.2h0M189.4 222.2h0M199.2 222.2h0M248.3 222.2h0M267.9 222.2h0M277.7 222.2h0M297.3 222.2h0M356.2 222.2h0M375.8 222.2h0M405.2 222.2h0M434.7 222.2h0M473.9 222.2h0M493.5 222.2h0M513.1 222.2h0M213.9 230.7h0M263 230.7h0M272.8 230.7h0M351.3 230.7h0M478.8 230.7h0M527.9 230.7h0M537.7 230.7h0M557.3 230.7h0M179.6 239.3h0M395.4 239.3h0M434.7 239.3h0M464.1 239.3h0M473.9 239.3h0M400.3 247.8h0M410.1 247.8h0M478.8 247.8h0M518 247.8h0M527.9 247.8h0M557.3 247.8h0M454.3 256.4h0M341.5 264.9h0M419.9 264.9h0M439.6 264.9h0M478.8 264.9h0M547.5 264.9h0M277.7 273.4h0M307.1 273.4h0M366 273.4h0M434.7 273.4h0M454.3 273.4h0M493.5 273.4h0M503.3 273.4h0M523 273.4h0M263 282h0M312 282h0M321.9 282h0M429.8 282h0M508.2 282h0M366 290.5h0M444.5 290.5h0M542.6 290.5h0M562.2 290.5h0M572 290.5h0M272.8 299h0M341.5 299h0M351.3 299h0M400.3 299h0M287.5 307.6h0M336.6 307.6h0M493.5 307.6h0M503.3 307.6h0M513.1 307.6h0M547.5 316.1h0M567.1 316.1h0M218.8 324.7h0M228.7 324.7h0M562.2 324.7h0M478.8 333.2h0M488.6 333.2h0M518 333.2h0M586.7 333.2h0M346.4 341.7h0M415 341.7h0M523 341.7h0M532.8 341.7h0M562.2 341.7h0M581.8 341.7h0M233.6 350.3h0M331.7 350.3h0M488.6 350.3h0M508.2 350.3h0M576.9 350.3h0M586.7 350.3h0M596.5 350.3h0M503.3 358.8h0M557.3 367.3h0M503.3 375.9h0M523 375.9h0M591.6 375.9h0M601.4 375.9h0M488.6 384.4h0M498.4 384.4h0M596.5 384.4h0M395.4 392.9h0M405.2 392.9h0M532.8 392.9h0M601.4 392.9h0M611.2 392.9h0M351.3 401.5h0M400.3 401.5h0M410.1 401.5h0M419.9 401.5h0M527.9 401.5h0M537.7 401.5h0M547.5 401.5h0M606.3 401.5h0M209 410h0M444.5 410h0M562.2 410h0M282.6 418.6h0M606.3 418.6h0M493.5 427.1h0M562.2 427.1h0M591.6 427.1h0M498.4 435.6h0M596.5 435.6h0M572 444.2h0M601.4 444.2h0M488.6 452.7h0M537.7 452.7h0M547.5 452.7h0M493.5 461.2h0M292.4 469.8h0M488.6 469.8h0M572 478.3h0M581.8 478.3h0M263 486.9h0M547.5 486.9h0M557.3 486.9h0M503.3 495.4h0M552.4 495.4h0M581.8 495.4h0M586.7 503.9h0M562.2 512.5h0M572 512.5h0M601.4 512.5h0M243.4 521h0M498.4 521h0M562.2 529.5h0M591.6 529.5h0M611.2 529.5h0M527.9 538.1h0M616.2 538.1h0M424.9 546.6h0M572 546.6h0M591.6 546.6h0M527.9 572.2h0M405.2 580.8h0M552.4 580.8h0M400.3 589.3h0M410.1 589.3h0M596.5 589.3h0M395.4 597.8h0M532.8 597.8h0M513.1 614.9h0M572 614.9h0M356.2 632h0M424.9 632h0M361.1 640.5h0M410.1 640.5h0M356.2 649.1h0M366 649.1h0M395.4 649.1h0M424.9 649.1h0M493.5 649.1h0M351.3 657.6h0M380.7 657.6h0M400.3 657.6h0M375.8 666.1h0M361.1 674.7h0M395.4 683.2h0M483.7 683.2h0M429.8 691.7h0M439.6 691.7h0M233.6 743h0"/>
<path stroke="#ffc6b2" d="M312 145.4h0M297.3 153.9h0M346.4 153.9h0M213.9 162.4h0M321.9 162.4h0M410.1 162.4h0M297.3 171h0M336.6 171h0M424.9 171h0M253.2 179.5h0M400.3 179.5h0M410.1 179.5h0M419.9 179.5h0M469 179.5h0M199.2 188.1h0M228.7 188.1h0M385.6 188.1h0M302.2 196.6h0M478.8 196.6h0M218.8 205.1h0M267.9 205.1h0M336.6 205.1h0M395.4 205.1h0M415 205.1h0M424.9 205.1h0M444.5 205.1h0M483.7 205.1h0M523 205.1h0M213.9 213.7h0M272.8 213.7h0M478.8 213.7h0M498.4 213.7h0M258.1 222.2h0M532.8 222.2h0M243.4 230.7h0M361.1 230.7h0M380.7 230.7h0M459.2 230.7h0M498.4 230.7h0M518 230.7h0M375.8 239.3h0M385.6 239.3h0M444.5 239.3h0M523 239.3h0M194.3 247.8h0M419.9 247.8h0M429.8 247.8h0M424.9 256.4h0M513.1 256.4h0M542.6 256.4h0M302.2 264.9h0M331.7 264.9h0M356.2 273.4h0M464.1 273.4h0M483.7 273.4h0M532.8 273.4h0M552.4 273.4h0M562.2 273.4h0M380.7 282h0M459.2 282h0M478.8 282h0M498.4 282h0M395.4 290.5h0M483.7 290.5h0M493.5 290.5h0M518 299h0M537.7 299h0M267.9 307.6h0M542.6 307.6h0M557.3 316.1h0M209 324.7h0M513.1 324.7h0M233.6 333.2h0M498.4 333.2h0M508.2 333.2h0M503.3 341.7h0M552.4 341.7h0M572 341.7h0M390.5 350.3h0M527.9 350.3h0M537.7 350.3h0M513.1 358.8h0M581.8 358.8h0M419.9 367.3h0M429.8 367.3h0M488.6 367.3h0M498.4 367.3h0M537.7 367.3h0M395.4 375.9h0M405.2 375.9h0M532.8 375.9h0M552.4 375.9h0M562.2 375.9h0M572 375.9h0M380.7 384.4h0M518 384.4h0M567.1 384.4h0M562.2 392.9h0M572 392.9h0M576.9 401.5h0M586.7 401.5h0M523 410h0M591.6 410h0M513.1 427.1h0M542.6 427.1h0M581.8 427.1h0M601.4 427.1h0M478.8 435.6h0M537.7 435.6h0M552.4 444.2h0M591.6 444.2h0M508.2 452.7h0M586.7 452.7h0M616.2 452.7h0M223.8 469.8h0M596.5 469.8h0M576.9 486.9h0M464.1 495.4h0M572 495.4h0M601.4 495.4h0M174.7 503.9h0M508.2 503.9h0M596.5 521h0M434.7 529.5h0M586.7 538.1h0M596.5 538.1h0M513.1 546.6h0M562.2 546.6h0M581.8 546.6h0M429.8 555.2h0M606.3 555.2h0M503.3 563.7h0M547.5 572.2h0M586.7 572.2h0M596.5 572.2h0M537.7 606.4h0M576.9 606.4h0M385.6 614.9h0M370.9 623.4h0M400.3 623.4h0M395.4 632h0M523 632h0M562.2 632h0M532.8 649.1h0M370.9 657.6h0M346.4 666.1h0M385.6 666.1h0M415 666.1h0M444.5 666.1h0M415 683.2h0M449.4 691.7h0M459.2 691.7h0"/>
<path stroke="#ffbca6" d="M248.3 136.8h0M419.9 162.4h0M287.5 171h0M307.1 171h0M316.9 171h0M444.5 171h0M331.7 179.5h0M238.5 188.1h0M258.1 188.1h0M277.7 188.1h0M395.4 188.1h0M415 188.1h0M233.6 196.6h0M292.4 196.6h0M331.7 196.6h0M179.6 205.1h0M473.9 205.1h0M532.8 205.1h0M233.6 213.7h0M302.2 213.7h0M341.5 213.7h0M361.1 213.7h0M410.1 213.7h0M439.6 213.7h0M527.9 213.7h0M218.8 222.2h0M287.5 222.2h0M395.4 222.2h0M253.2 230.7h0M292.4 230.7h0M331.7 230.7h0M400.3 230.7h0M410.1 230.7h0M439.6 230.7h0M449.4 230.7h0M488.6 230.7h0M547.5 230.7h0M366 239.3h0M503.3 239.3h0M542.6 239.3h0M439.6 247.8h0M434.7 256.4h0M464.1 256.4h0M459.2 264.9h0M469 264.9h0M508.2 264.9h0M527.9 264.9h0M537.7 264.9h0M473.9 273.4h0M537.7 282h0M567.1 282h0M356.2 290.5h0M473.9 290.5h0M532.8 290.5h0M263 299h0M390.5 299h0M459.2 299h0M469 299h0M277.7 307.6h0M473.9 307.6h0M233.6 316.1h0M469 316.1h0M316.9 324.7h0M547.5 333.2h0M557.3 350.3h0M567.1 350.3h0M527.9 367.3h0M567.1 367.3h0M586.7 367.3h0M415 375.9h0M508.2 384.4h0M513.1 392.9h0M581.8 392.9h0M390.5 401.5h0M518 401.5h0M503.3 410h0M542.6 410h0M601.4 410h0M498.4 418.6h0M532.8 427.1h0M572 427.1h0M518 435.6h0M547.5 435.6h0M576.9 435.6h0M493.5 444.2h0M523 444.2h0M542.6 444.2h0M562.2 444.2h0M581.8 461.2h0M591.6 461.2h0M601.4 461.2h0M567.1 469.8h0M576.9 469.8h0M537.7 486.9h0M596.5 486.9h0M576.9 503.9h0M606.3 503.9h0M552.4 512.5h0M576.9 521h0M532.8 529.5h0M439.6 538.1h0M552.4 546.6h0M567.1 555.2h0M591.6 563.7h0M581.8 580.8h0M518 589.3h0M523 597.8h0M581.8 597.8h0M366 632h0M385.6 632h0M498.4 640.5h0M508.2 640.5h0M542.6 649.1h0M424.9 666.1h0M434.7 666.1h0M390.5 674.7h0"/>
<path stroke="#ffb299" d="M253.2 128.3h0M238.5 136.8h0M326.8 153.9h0M336.6 153.9h0M331.7 162.4h0M385.6 171h0M395.4 171h0M312 179.5h0M297.3 188.1h0M307.1 188.1h0M434.7 188.1h0M493.5 188.1h0M263 196.6h0M272.8 196.6h0M390.5 196.6h0M410.1 196.6h0M419.9 196.6h0M228.7 205.1h0M238.5 205.1h0M248.3 205.1h0M297.3 205.1h0M346.4 205.1h0M513.1 205.1h0M223.8 213.7h0M321.9 213.7h0M331.7 213.7h0M400.3 213.7h0M429.8 213.7h0M415 222.2h0M454.3 222.2h0M483.7 222.2h0M302.2 230.7h0M390.5 230.7h0M429.8 230.7h0M444.5 256.4h0M473.9 256.4h0M557.3 264.9h0M287.5 273.4h0M513.1 273.4h0M469 282h0M488.6 282h0M518 282h0M527.9 282h0M361.1 299h0M478.8 299h0M498.4 299h0M395.4 307.6h0M523 307.6h0M572 307.6h0M410.1 316.1h0M498.4 316.1h0M508.2 316.1h0M576.9 316.1h0M238.5 324.7h0M567.1 333.2h0M493.5 341.7h0M493.5 358.8h0M542.6 358.8h0M547.5 367.3h0M429.8 384.4h0M439.6 384.4h0M415 392.9h0M591.6 392.9h0M253.2 401.5h0M498.4 401.5h0M567.1 401.5h0M552.4 410h0M581.8 410h0M547.5 418.6h0M576.9 418.6h0M596.5 418.6h0M567.1 452.7h0M596.5 452.7h0M606.3 452.7h0M572 461.2h0M611.2 461.2h0M586.7 486.9h0M606.3 486.9h0M591.6 495.4h0M567.1 521h0M572 529.5h0M601.4 529.5h0M576.9 555.2h0M596.5 555.2h0M581.8 563.7h0M576.9 589.3h0M552.4 597.8h0M537.7 623.4h0M567.1 623.4h0M542.6 632h0M518 640.5h0M503.3 649.1h0M405.2 683.2h0M464.1 683.2h0"/>
<path stroke="#ffa88d" d="M351.3 162.4h0M380.7 162.4h0M483.7 188.1h0M429.8 196.6h0M469 196.6h0M277.7 205.1h0M316.9 205.1h0M434.7 205.1h0M454.3 205.1h0M449.4 213.7h0M508.2 213.7h0M316.9 222.2h0M346.4 222.2h0M464.1 222.2h0M312 230.7h0M321.9 230.7h0M341.5 230.7h0M415 239.3h0M424.9 239.3h0M454.3 239.3h0M552.4 239.3h0M537.7 247.8h0M375.8 290.5h0M527.9 299h0M567.1 299h0M576.9 299h0M537.7 316.1h0M419.9 350.3h0M518 350.3h0M370.9 367.3h0M596.5 367.3h0M366 375.9h0M385.6 375.9h0M454.3 375.9h0M434.7 392.9h0M444.5 392.9h0M488.6 401.5h0M405.2 410h0M567.1 418.6h0M527.9 435.6h0M351.3 452.7h0M498.4 452.7h0M562.2 478.3h0M238.5 512.5h0M581.8 529.5h0M586.7 555.2h0M567.1 572.2h0M591.6 580.8h0M586.7 589.3h0M572 597.8h0M567.1 606.4h0M532.8 632h0M547.5 640.5h0M415 649.1h0M478.8 657.6h0M405.2 666.1h0M419.9 674.7h0M429.8 674.7h0M434.7 683.2h0"/>
<path stroke="#ff9e81" d="M302.2 179.5h0M321.9 179.5h0M429.8 179.5h0M424.9 188.1h0M444.5 188.1h0M258.1 205.1h0M336.6 222.2h0M424.9 222.2h0M282.6 230.7h0M493.5 239.3h0M513.1 239.3h0M547.5 247.8h0M552.4 256.4h0M518 316.1h0M576.9 333.2h0M498.4 350.3h0M591.6 358.8h0M508.2 401.5h0M518 418.6h0M552.4 427.1h0M557.3 435.6h0M611.2 444.2h0M576.9 452.7h0M429.8 538.1h0M572 563.7h0M547.5 606.4h0M542.6 614.9h0M552.4 632h0M469 657.6h0M527.9 657.6h0M478.8 674.7h0"/>
<path stroke="#ff9475" d="M238.5 222.2h0M326.8 222.2h0M282.6 299h0M532.8 307.6h0M366 358.8h0M596.5 401.5h0M572 410h0M557.3 418.6h0M562.2 580.8h0M557.3 589.3h0M562.2 597.8h0M557.3 623.4h0M537.7 640.5h0M518 657.6h0M473.9 666.1h0M449.4 674.7h0M424.9 683.2h0"/>
<path stroke="#ff8969" d="M473.9 188.1h0M341.5 350.3h0M336.6 358.8h0M351.3 367.3h0M419.9 384.4h0M572 580.8h0M454.3 666.1h0M483.7 666.1h0M513.1 666.1h0M454.3 683.2h0"/>
<path stroke="#ff7e5e" d="M351.3 213.7h0M361.1 367.3h0M390.5 384.4h0M567.1 589.3h0M562.2 614.9h0M527.9 640.5h0M508.2 657.6h0M410.1 674.7h0M469 674.7h0M488.6 674.7h0"/>
<path stroke="#ff7352" d="M498.4 657.6h0M464.1 666.1h0M493.5 666.1h0M400.3 674.7h0M439.6 674.7h0M444.5 683.2h0"/>
<path stroke="#ff6846" d="M424.9 392.9h0M552.4 614.9h0M547.5 623.4h0"/>
<path stroke="#ff5b3a" d="M346.4 358.8h0M356.2 358.8h0M375.8 375.9h0M513.1 649.1h0M503.3 666.1h0"/>
<path stroke="#ff4d2e" d="M576.9 572.2h0M557.3 606.4h0M488.6 657.6h0"/>
<path stroke="#ff3e22" d="M523 649.1h0M459.2 674.7h0"/>
</g></g>
<rect x="1027.6" y="98.3" width="515.3" height="682.7" fill="none" stroke="#333" stroke-width="2.1"/>
<text x="1123.3" y="827.6" font-size="33.3" text-anchor="middle" fill="#4d4d4d">3000</text>
<text x="1265.9" y="827.6" font-size="33.3" text-anchor="middle" fill="#4d4d4d">5000</text>
<text x="1408.4" y="827.6" font-size="33.3" text-anchor="middle" fill="#4d4d4d">7000</text>
<text transform="translate(1003.8 217.9) rotate(-90)" font-size="33.3" text-anchor="middle" fill="#4d4d4d">-2500</text>
<text transform="translate(1003.8 395.9) rotate(-90)" font-size="33.3" text-anchor="middle" fill="#4d4d4d">-5000</text>
<text transform="translate(1003.8 573.8) rotate(-90)" font-size="33.3" text-anchor="middle" fill="#4d4d4d">-7500</text>
<text transform="translate(1003.8 751.8) rotate(-90)" font-size="33.3" text-anchor="middle" fill="#4d4d4d">-10000</text>
<path d="M1123.3 782.0v11.5M1265.9 782.0v11.5M1408.4 782.0v11.5M1026.6 217.9h-11.5M1026.6 395.9h-11.5M1026.6 573.8h-11.5M1026.6 751.8h-11.5" stroke="#333" stroke-width="4.2" fill="none"/>
<text x="1285.2" y="870.4" font-size="33.3" text-anchor="middle" fill="#000">x coordinates</text>
<text transform="translate(955.9 439.6) rotate(-90)" font-size="33.3" text-anchor="middle" fill="#000">y coordinates</text>
<rect x="1612.8" y="260.1" width="71.9" height="359.5" fill="url(#g1)"/>
<text x="1707.3" y="296.8" font-size="33.3" fill="#000">10</text>
<text x="1707.3" y="395.8" font-size="33.3" fill="#000">5</text>
<text x="1707.3" y="494.9" font-size="33.3" fill="#000">0</text>
<text x="1707.3" y="593.9" font-size="33.3" fill="#000">-5</text>
<path d="M1612.8 284.9h14.4M1684.7 284.9h-14.4M1612.8 383.9h14.4M1684.7 383.9h-14.4M1612.8 483.0h14.4M1684.7 483.0h-14.4M1612.8 582.0h14.4M1684.7 582.0h-14.4" stroke="#fff" stroke-width="1.6" fill="none"/>
</g>
<g>
<text x="2171.4" y="70.1" font-size="55" text-anchor="middle" fill="#000">Immune</text>
<g transform="translate(1793.03 9.17) scale(0.981)" fill="none" stroke-linecap="round">
<use href="#o" stroke="#1c1c1c" stroke-width="10.04"/>
<g stroke-width="8.92">
<path stroke="#0000ff" d="M179.6 341.7h0M444.5 495.4h0M326.8 683.2h0"/>
<path stroke="#381bff" d="M444.5 478.3h0"/>
<path stroke="#502bff" d="M464.1 461.2h0M429.8 469.8h0M449.4 469.8h0M454.3 478.3h0M223.8 606.4h0"/>
<path stroke="#6239ff" d="M454.3 461.2h0M434.7 495.4h0"/>
<path stroke="#7145ff" d="M439.6 486.9h0M321.9 589.3h0M336.6 649.1h0"/>
<path stroke="#7e52ff" d="M321.9 316.1h0"/>
<path stroke="#8a5dff" d="M454.3 427.1h0M454.3 444.2h0M439.6 503.9h0M326.8 597.8h0M321.9 674.7h0"/>
<path stroke="#9569ff" d="M464.1 427.1h0M459.2 469.8h0M449.4 486.9h0M316.9 597.8h0M321.9 606.4h0M248.3 614.9h0M238.5 649.1h0"/>
<path stroke="#a074ff" d="M454.3 410h0M459.2 418.6h0M449.4 435.6h0M444.5 461.2h0M434.7 478.3h0M429.8 486.9h0M454.3 495.4h0M449.4 503.9h0M199.2 580.8h0M331.7 606.4h0M351.3 606.4h0M277.7 632h0M194.3 640.5h0M213.9 640.5h0M282.6 640.5h0M184.5 657.6h0M238.5 717.4h0"/>
<path stroke="#aa80ff" d="M316.9 153.9h0M552.4 222.2h0M253.2 299h0M292.4 299h0M439.6 435.6h0M469 435.6h0M439.6 452.7h0M267.9 580.8h0M213.9 589.3h0M233.6 623.4h0M258.1 632h0M233.6 691.7h0M400.3 708.8h0"/>
<path stroke="#b38bff" d="M400.3 162.4h0M547.5 213.7h0M562.2 256.4h0M307.1 307.6h0M341.5 316.1h0M542.6 324.7h0M287.5 341.7h0M287.5 392.9h0M459.2 401.5h0M444.5 410h0M459.2 435.6h0M464.1 444.2h0M366 495.4h0M189.4 563.7h0M341.5 589.3h0M204.1 606.4h0M243.4 606.4h0M263 606.4h0M253.2 623.4h0M326.8 632h0M243.4 640.5h0M243.4 674.7h0M238.5 683.2h0"/>
<path stroke="#bc97ff" d="M292.4 213.7h0M562.2 222.2h0M218.8 239.3h0M238.5 239.3h0M213.9 264.9h0M248.3 307.6h0M287.5 307.6h0M346.4 307.6h0M375.8 324.7h0M331.7 333.2h0M361.1 333.2h0M302.2 350.3h0M434.7 410h0M439.6 418.6h0M449.4 418.6h0M444.5 427.1h0M459.2 452.7h0M419.9 486.9h0M459.2 503.9h0M272.8 555.2h0M351.3 572.2h0M189.4 580.8h0M375.8 597.8h0M307.1 614.9h0M356.2 614.9h0M331.7 623.4h0M366 632h0M375.8 632h0M248.3 649.1h0M243.4 657.6h0M287.5 666.1h0M282.6 674.7h0M189.4 700.3h0M155.1 743h0"/>
<path stroke="#c4a2ff" d="M287.5 153.9h0M336.6 153.9h0M419.9 162.4h0M189.4 188.1h0M189.4 222.2h0M209 273.4h0M552.4 273.4h0M248.3 290.5h0M277.7 290.5h0M312 299h0M586.7 299h0M316.9 307.6h0M272.8 350.3h0M341.5 350.3h0M400.3 350.3h0M478.8 350.3h0M213.9 367.3h0M263 384.4h0M267.9 392.9h0M464.1 410h0M473.9 427.1h0M444.5 444.2h0M424.9 461.2h0M439.6 469.8h0M292.4 503.9h0M434.7 512.5h0M194.3 555.2h0M567.1 555.2h0M169.8 563.7h0M213.9 572.2h0M243.4 572.2h0M312 572.2h0M258.1 580.8h0M346.4 597.8h0M194.3 606.4h0M312 606.4h0M341.5 606.4h0M361.1 606.4h0M267.9 614.9h0M277.7 614.9h0M263 623.4h0M272.8 623.4h0M292.4 623.4h0M199.2 632h0M356.2 632h0M223.8 640.5h0M263 640.5h0M307.1 649.1h0M518 657.6h0M189.4 666.1h0M302.2 674.7h0M312 674.7h0M287.5 683.2h0M297.3 683.2h0M483.7 683.2h0M253.2 691.7h0M292.4 691.7h0M213.9 708.8h0M209 717.4h0"/>
<path stroke="#ccadff" d="M331.7 162.4h0M380.7 162.4h0M189.4 171h0M424.9 171h0M228.7 188.1h0M508.2 196.6h0M523 205.1h0M532.8 205.1h0M537.7 213.7h0M213.9 230.7h0M194.3 247.8h0M341.5 264.9h0M267.9 290.5h0M287.5 290.5h0M302.2 299h0M263 316.1h0M576.9 316.1h0M336.6 324.7h0M228.7 341.7h0M277.7 341.7h0M385.6 358.8h0M189.4 375.9h0M228.7 375.9h0M238.5 375.9h0M233.6 384.4h0M616.2 401.5h0M621.1 410h0M469 418.6h0M616.2 435.6h0M253.2 469.8h0M267.9 512.5h0M184.5 521h0M596.5 521h0M248.3 546.6h0M366 546.6h0M233.6 555.2h0M243.4 555.2h0M341.5 555.2h0M606.3 572.2h0M356.2 580.8h0M223.8 589.3h0M233.6 589.3h0M331.7 589.3h0M370.9 589.3h0M547.5 589.3h0M189.4 597.8h0M307.1 597.8h0M218.8 614.9h0M194.3 623.4h0M321.9 623.4h0M537.7 623.4h0M169.8 632h0M179.6 632h0M189.4 632h0M238.5 632h0M316.9 632h0M164.9 640.5h0M253.2 640.5h0M361.1 640.5h0M223.8 657.6h0M253.2 657.6h0M312 657.6h0M527.9 657.6h0M258.1 683.2h0M277.7 683.2h0M194.3 691.7h0M223.8 691.7h0M238.5 700.3h0M248.3 700.3h0M282.6 725.9h0"/>
<path stroke="#d4b9ff" d="M331.7 145.4h0M395.4 171h0M434.7 171h0M184.5 179.5h0M459.2 179.5h0M469 179.5h0M464.1 188.1h0M204.1 213.7h0M518 213.7h0M199.2 222.2h0M223.8 230.7h0M297.3 307.6h0M331.7 316.1h0M326.8 324.7h0M204.1 333.2h0M282.6 333.2h0M390.5 333.2h0M444.5 341.7h0M263 350.3h0M390.5 350.3h0M395.4 358.8h0M572 358.8h0M469 384.4h0M429.8 401.5h0M184.5 418.6h0M400.3 418.6h0M282.6 435.6h0M508.2 435.6h0M424.9 444.2h0M473.9 444.2h0M331.7 452.7h0M419.9 452.7h0M469 452.7h0M395.4 461.2h0M361.1 486.9h0M375.8 495.4h0M464.1 495.4h0M169.8 512.5h0M316.9 512.5h0M336.6 512.5h0M424.9 512.5h0M601.4 512.5h0M380.7 521h0M616.2 538.1h0M238.5 546.6h0M297.3 546.6h0M174.7 555.2h0M184.5 555.2h0M204.1 555.2h0M302.2 555.2h0M218.8 563.7h0M287.5 563.7h0M316.9 563.7h0M223.8 572.2h0M567.1 572.2h0M336.6 580.8h0M523 580.8h0M542.6 580.8h0M243.4 589.3h0M253.2 589.3h0M263 589.3h0M258.1 597.8h0M277.7 597.8h0M184.5 606.4h0M213.9 606.4h0M282.6 606.4h0M292.4 606.4h0M199.2 614.9h0M228.7 614.9h0M523 614.9h0M174.7 623.4h0M223.8 623.4h0M282.6 623.4h0M341.5 623.4h0M248.3 632h0M204.1 640.5h0M370.9 640.5h0M429.8 640.5h0M415 649.1h0M272.8 657.6h0M302.2 657.6h0M199.2 666.1h0M258.1 666.1h0M267.9 666.1h0M218.8 683.2h0M267.9 683.2h0M204.1 691.7h0M213.9 691.7h0M199.2 700.3h0M209 700.3h0M366 700.3h0M395.4 700.3h0M415 700.3h0M233.6 708.8h0M267.9 717.4h0M150.2 734.4h0"/>
<path stroke="#dcc4ff" d="M297.3 153.9h0M366 153.9h0M258.1 171h0M366 171h0M444.5 171h0M194.3 179.5h0M282.6 179.5h0M405.2 188.1h0M444.5 205.1h0M513.1 205.1h0M248.3 222.2h0M454.3 222.2h0M184.5 230.7h0M194.3 230.7h0M179.6 239.3h0M199.2 239.3h0M209 239.3h0M346.4 256.4h0M400.3 264.9h0M228.7 273.4h0M523 273.4h0M174.7 282h0M213.9 282h0M400.3 282h0M576.9 282h0M179.6 290.5h0M258.1 290.5h0M375.8 290.5h0M263 299h0M282.6 299h0M238.5 307.6h0M267.9 307.6h0M326.8 307.6h0M366 307.6h0M375.8 307.6h0M385.6 307.6h0M395.4 307.6h0M415 307.6h0M282.6 316.1h0M390.5 316.1h0M596.5 316.1h0M199.2 324.7h0M366 324.7h0M253.2 333.2h0M341.5 333.2h0M410.1 333.2h0M258.1 341.7h0M267.9 341.7h0M366 341.7h0M194.3 350.3h0M204.1 350.3h0M223.8 350.3h0M419.9 350.3h0M277.7 358.8h0M444.5 358.8h0M204.1 367.3h0M253.2 367.3h0M312 367.3h0M449.4 367.3h0M508.2 367.3h0M346.4 375.9h0M272.8 384.4h0M351.3 401.5h0M469 401.5h0M307.1 410h0M282.6 418.6h0M326.8 427.1h0M385.6 427.1h0M434.7 427.1h0M218.8 444.2h0M292.4 452.7h0M351.3 452.7h0M429.8 452.7h0M449.4 452.7h0M366 461.2h0M410.1 469.8h0M532.8 478.3h0M611.2 478.3h0M400.3 486.9h0M478.8 486.9h0M483.7 495.4h0M302.2 503.9h0M370.9 503.9h0M248.3 529.5h0M434.7 529.5h0M238.5 563.7h0M277.7 563.7h0M307.1 563.7h0M532.8 563.7h0M581.8 563.7h0M591.6 563.7h0M302.2 572.2h0M341.5 572.2h0M576.9 572.2h0M238.5 580.8h0M248.3 580.8h0M326.8 580.8h0M562.2 580.8h0M184.5 589.3h0M204.1 589.3h0M302.2 589.3h0M312 589.3h0M567.1 589.3h0M238.5 597.8h0M356.2 597.8h0M253.2 606.4h0M272.8 606.4h0M169.8 614.9h0M209 614.9h0M287.5 614.9h0M336.6 614.9h0M204.1 623.4h0M346.4 632h0M513.1 632h0M292.4 640.5h0M258.1 649.1h0M292.4 657.6h0M351.3 657.6h0M228.7 666.1h0M277.7 666.1h0M326.8 666.1h0M253.2 674.7h0M199.2 683.2h0M228.7 683.2h0M336.6 683.2h0M243.4 691.7h0M258.1 700.3h0M272.8 708.8h0M228.7 717.4h0M184.5 725.9h0M213.9 725.9h0M160 734.4h0M218.8 734.4h0M238.5 734.4h0M243.4 743h0"/>
<path stroke="#e3d0ff" d="M326.8 153.9h0M184.5 162.4h0M209 171h0M267.9 171h0M415 171h0M209 188.1h0M444.5 188.1h0M292.4 196.6h0M179.6 205.1h0M366 205.1h0M194.3 213.7h0M213.9 213.7h0M218.8 222.2h0M513.1 222.2h0M542.6 222.2h0M258.1 239.3h0M366 239.3h0M405.2 239.3h0M184.5 247.8h0M213.9 247.8h0M537.7 247.8h0M258.1 256.4h0M336.6 256.4h0M493.5 256.4h0M557.3 264.9h0M218.8 273.4h0M410.1 282h0M518 282h0M572 290.5h0M258.1 307.6h0M277.7 307.6h0M513.1 307.6h0M542.6 307.6h0M292.4 316.1h0M351.3 316.1h0M567.1 316.1h0M316.9 324.7h0M346.4 324.7h0M434.7 324.7h0M351.3 333.2h0M370.9 333.2h0M297.3 341.7h0M233.6 350.3h0M253.2 350.3h0M209 358.8h0M248.3 358.8h0M297.3 358.8h0M601.4 358.8h0M243.4 367.3h0M576.9 367.3h0M199.2 375.9h0M444.5 375.9h0M611.2 375.9h0M184.5 384.4h0M204.1 384.4h0M223.8 384.4h0M321.9 384.4h0M199.2 392.9h0M562.2 392.9h0M199.2 410h0M424.9 410h0M611.2 410h0M429.8 418.6h0M194.3 435.6h0M253.2 435.6h0M321.9 435.6h0M429.8 435.6h0M179.6 444.2h0M346.4 444.2h0M223.8 452.7h0M263 452.7h0M434.7 461.2h0M611.2 461.2h0M272.8 469.8h0M508.2 469.8h0M346.4 478.3h0M395.4 478.3h0M415 478.3h0M292.4 486.9h0M331.7 486.9h0M459.2 486.9h0M469 486.9h0M297.3 495.4h0M395.4 495.4h0M601.4 495.4h0M282.6 503.9h0M606.3 503.9h0M429.8 521h0M346.4 529.5h0M366 529.5h0M385.6 529.5h0M370.9 538.1h0M390.5 538.1h0M478.8 538.1h0M287.5 546.6h0M307.1 546.6h0M336.6 546.6h0M346.4 546.6h0M375.8 546.6h0M228.7 563.7h0M184.5 572.2h0M282.6 572.2h0M331.7 572.2h0M518 572.2h0M557.3 572.2h0M307.1 580.8h0M194.3 589.3h0M282.6 589.3h0M596.5 589.3h0M228.7 597.8h0M518 606.4h0M557.3 606.4h0M576.9 606.4h0M238.5 614.9h0M316.9 614.9h0M572 614.9h0M302.2 623.4h0M312 623.4h0M508.2 623.4h0M218.8 632h0M562.2 632h0M184.5 640.5h0M380.7 640.5h0M469 640.5h0M547.5 640.5h0M169.8 649.1h0M189.4 649.1h0M209 649.1h0M267.9 649.1h0M277.7 649.1h0M297.3 649.1h0M326.8 649.1h0M542.6 649.1h0M233.6 657.6h0M218.8 666.1h0M238.5 666.1h0M336.6 666.1h0M366 666.1h0M174.7 674.7h0M272.8 674.7h0M478.8 674.7h0M169.8 683.2h0M307.1 683.2h0M302.2 691.7h0M179.6 700.3h0M287.5 700.3h0M174.7 708.8h0M243.4 708.8h0M253.2 725.9h0M199.2 734.4h0M164.9 743h0"/>
<path stroke="#ebdcff" d="M199.2 171h0M218.8 171h0M316.9 171h0M326.8 171h0M385.6 171h0M204.1 179.5h0M233.6 179.5h0M370.9 179.5h0M390.5 179.5h0M199.2 188.1h0M277.7 188.1h0M287.5 188.1h0M184.5 196.6h0M459.2 196.6h0M243.4 213.7h0M209 222.2h0M238.5 222.2h0M444.5 222.2h0M204.1 230.7h0M434.7 239.3h0M302.2 247.8h0M380.7 247.8h0M410.1 247.8h0M243.4 264.9h0M321.9 264.9h0M547.5 264.9h0M179.6 273.4h0M199.2 273.4h0M405.2 273.4h0M464.1 273.4h0M473.9 273.4h0M282.6 282h0M331.7 282h0M508.2 282h0M356.2 290.5h0M483.7 290.5h0M243.4 299h0M272.8 299h0M321.9 299h0M341.5 299h0M400.3 299h0M518 299h0M336.6 307.6h0M493.5 307.6h0M204.1 316.1h0M223.8 316.1h0M243.4 316.1h0M312 316.1h0M361.1 316.1h0M370.9 316.1h0M400.3 316.1h0M488.6 316.1h0M228.7 324.7h0M184.5 333.2h0M223.8 333.2h0M380.7 333.2h0M488.6 333.2h0M557.3 333.2h0M189.4 341.7h0M238.5 341.7h0M380.7 350.3h0M596.5 350.3h0M218.8 358.8h0M346.4 358.8h0M375.8 358.8h0M454.3 358.8h0M263 367.3h0M302.2 367.3h0M439.6 367.3h0M557.3 367.3h0M218.8 375.9h0M248.3 375.9h0M277.7 375.9h0M424.9 375.9h0M454.3 375.9h0M243.4 384.4h0M419.9 384.4h0M498.4 384.4h0M454.3 392.9h0M606.3 401.5h0M331.7 418.6h0M616.2 418.6h0M209 427.1h0M258.1 427.1h0M503.3 427.1h0M572 427.1h0M233.6 435.6h0M390.5 435.6h0M518 435.6h0M483.7 444.2h0M562.2 444.2h0M611.2 444.2h0M321.9 452.7h0M616.2 452.7h0M238.5 461.2h0M503.3 461.2h0M184.5 469.8h0M380.7 469.8h0M596.5 469.8h0M307.1 478.3h0M366 478.3h0M424.9 478.3h0M596.5 486.9h0M591.6 495.4h0M272.8 503.9h0M429.8 503.9h0M532.8 512.5h0M621.1 512.5h0M302.2 521h0M361.1 521h0M400.3 521h0M503.3 529.5h0M263 538.1h0M361.1 538.1h0M586.7 538.1h0M385.6 546.6h0M282.6 555.2h0M292.4 555.2h0M576.9 555.2h0M179.6 563.7h0M199.2 563.7h0M395.4 563.7h0M562.2 563.7h0M611.2 563.7h0M361.1 572.2h0M596.5 572.2h0M366 580.8h0M464.1 580.8h0M473.9 580.8h0M272.8 589.3h0M586.7 589.3h0M248.3 597.8h0M370.9 606.4h0M469 606.4h0M346.4 614.9h0M375.8 614.9h0M209 632h0M228.7 632h0M267.9 632h0M174.7 640.5h0M179.6 649.1h0M356.2 649.1h0M174.7 657.6h0M263 657.6h0M370.9 657.6h0M179.6 666.1h0M263 674.7h0M292.4 674.7h0M488.6 674.7h0M184.5 691.7h0M282.6 691.7h0M228.7 700.3h0M277.7 700.3h0M390.5 708.8h0M410.1 708.8h0M248.3 717.4h0M184.5 743h0M233.6 743h0M253.2 743h0"/>
<path stroke="#f2e7ff" d="M307.1 153.9h0M356.2 153.9h0M302.2 162.4h0M370.9 162.4h0M179.6 171h0M248.3 171h0M297.3 171h0M213.9 179.5h0M292.4 179.5h0M429.8 179.5h0M449.4 179.5h0M218.8 188.1h0M238.5 188.1h0M375.8 188.1h0M473.9 188.1h0M233.6 196.6h0M267.9 205.1h0M483.7 205.1h0M253.2 213.7h0M321.9 213.7h0M287.5 222.2h0M307.1 222.2h0M415 222.2h0M434.7 222.2h0M361.1 230.7h0M400.3 230.7h0M429.8 230.7h0M469 230.7h0M493.5 239.3h0M361.1 247.8h0M498.4 247.8h0M189.4 256.4h0M248.3 256.4h0M532.8 256.4h0M331.7 264.9h0M370.9 264.9h0M410.1 264.9h0M258.1 273.4h0M356.2 273.4h0M488.6 282h0M297.3 290.5h0M307.1 290.5h0M385.6 290.5h0M194.3 299h0M204.1 299h0M459.2 299h0M498.4 299h0M218.8 307.6h0M405.2 307.6h0M444.5 307.6h0M213.9 316.1h0M253.2 316.1h0M277.7 324.7h0M307.1 324.7h0M356.2 324.7h0M385.6 324.7h0M395.4 324.7h0M532.8 324.7h0M302.2 333.2h0M336.6 341.7h0M473.9 341.7h0M523 341.7h0M292.4 350.3h0M351.3 350.3h0M469 350.3h0M498.4 350.3h0M547.5 350.3h0M179.6 358.8h0M326.8 358.8h0M434.7 358.8h0M272.8 367.3h0M331.7 367.3h0M469 367.3h0M209 375.9h0M258.1 375.9h0M307.1 375.9h0M464.1 375.9h0M194.3 384.4h0M213.9 384.4h0M189.4 392.9h0M316.9 392.9h0M326.8 392.9h0M366 392.9h0M405.2 392.9h0M464.1 392.9h0M513.1 392.9h0M572 392.9h0M611.2 392.9h0M312 401.5h0M370.9 401.5h0M439.6 401.5h0M449.4 401.5h0M478.8 401.5h0M557.3 401.5h0M248.3 410h0M346.4 410h0M204.1 418.6h0M478.8 418.6h0M518 418.6h0M419.9 435.6h0M488.6 435.6h0M169.8 444.2h0M228.7 444.2h0M267.9 444.2h0M287.5 444.2h0M316.9 444.2h0M326.8 444.2h0M336.6 444.2h0M356.2 444.2h0M194.3 452.7h0M361.1 452.7h0M380.7 452.7h0M498.4 452.7h0M336.6 461.2h0M356.2 461.2h0M473.9 461.2h0M233.6 469.8h0M370.9 469.8h0M390.5 469.8h0M419.9 469.8h0M469 469.8h0M513.1 478.3h0M272.8 486.9h0M321.9 486.9h0M351.3 486.9h0M518 486.9h0M616.2 486.9h0M179.6 495.4h0M611.2 495.4h0M174.7 503.9h0M361.1 503.9h0M469 503.9h0M488.6 503.9h0M366 512.5h0M375.8 512.5h0M444.5 512.5h0M410.1 521h0M419.9 521h0M576.9 521h0M616.2 521h0M336.6 529.5h0M395.4 529.5h0M621.1 529.5h0M331.7 538.1h0M429.8 538.1h0M218.8 546.6h0M267.9 546.6h0M326.8 546.6h0M356.2 546.6h0M611.2 546.6h0M263 555.2h0M351.3 555.2h0M380.7 555.2h0M518 555.2h0M267.9 563.7h0M356.2 563.7h0M464.1 563.7h0M204.1 572.2h0M169.8 580.8h0M316.9 580.8h0M346.4 580.8h0M581.8 580.8h0M527.9 589.3h0M576.9 589.3h0M513.1 597.8h0M532.8 597.8h0M591.6 597.8h0M233.6 606.4h0M567.1 606.4h0M258.1 614.9h0M552.4 614.9h0M213.9 623.4h0M243.4 623.4h0M498.4 623.4h0M287.5 632h0M297.3 632h0M307.1 632h0M395.4 632h0M302.2 640.5h0M478.8 640.5h0M537.7 640.5h0M385.6 649.1h0M434.7 649.1h0M523 649.1h0M194.3 657.6h0M213.9 657.6h0M297.3 666.1h0M307.1 666.1h0M503.3 666.1h0M513.1 666.1h0M164.9 674.7h0M204.1 674.7h0M223.8 674.7h0M331.7 674.7h0M341.5 674.7h0M361.1 674.7h0M380.7 674.7h0M189.4 683.2h0M248.3 683.2h0M174.7 691.7h0M361.1 691.7h0M400.3 691.7h0M410.1 691.7h0M356.2 700.3h0M184.5 708.8h0M194.3 708.8h0M204.1 708.8h0M160 717.4h0M179.6 717.4h0M218.8 717.4h0M174.7 725.9h0M204.1 725.9h0M209 734.4h0M248.3 734.4h0M258.1 734.4h0M160 751.5h0"/>
<path stroke="#f8f3ff" d="M209 153.9h0M346.4 153.9h0M223.8 162.4h0M292.4 162.4h0M390.5 162.4h0M356.2 171h0M405.2 171h0M263 179.5h0M321.9 179.5h0M410.1 179.5h0M419.9 179.5h0M385.6 188.1h0M395.4 188.1h0M434.7 188.1h0M493.5 188.1h0M204.1 196.6h0M223.8 196.6h0M189.4 205.1h0M258.1 205.1h0M277.7 205.1h0M459.2 213.7h0M469 213.7h0M508.2 213.7h0M292.4 230.7h0M321.9 230.7h0M331.7 230.7h0M410.1 230.7h0M439.6 230.7h0M498.4 230.7h0M527.9 230.7h0M189.4 239.3h0M326.8 239.3h0M385.6 239.3h0M483.7 239.3h0M233.6 247.8h0M282.6 247.8h0M419.9 247.8h0M449.4 247.8h0M469 247.8h0M375.8 256.4h0M483.7 256.4h0M184.5 264.9h0M233.6 264.9h0M302.2 264.9h0M419.9 264.9h0M449.4 264.9h0M469 264.9h0M238.5 273.4h0M444.5 273.4h0M513.1 273.4h0M184.5 282h0M204.1 282h0M253.2 282h0M272.8 282h0M302.2 282h0M351.3 282h0M361.1 282h0M380.7 282h0M419.9 282h0M459.2 282h0M537.7 282h0M199.2 290.5h0M209 290.5h0M434.7 290.5h0M464.1 290.5h0M542.6 290.5h0M562.2 290.5h0M233.6 299h0M331.7 299h0M380.7 299h0M356.2 307.6h0M503.3 307.6h0M532.8 307.6h0M552.4 307.6h0M562.2 307.6h0M537.7 316.1h0M238.5 324.7h0M194.3 333.2h0M459.2 333.2h0M209 341.7h0M248.3 341.7h0M326.8 341.7h0M346.4 341.7h0M356.2 341.7h0M385.6 341.7h0M464.1 341.7h0M581.8 341.7h0M184.5 350.3h0M282.6 350.3h0M238.5 358.8h0M184.5 367.3h0M282.6 367.3h0M321.9 367.3h0M410.1 367.3h0M419.9 367.3h0M596.5 367.3h0M415 375.9h0M473.9 375.9h0M581.8 375.9h0M591.6 375.9h0M253.2 384.4h0M356.2 392.9h0M375.8 392.9h0M444.5 392.9h0M552.4 392.9h0M361.1 401.5h0M410.1 401.5h0M419.9 401.5h0M473.9 410h0M194.3 418.6h0M253.2 418.6h0M351.3 418.6h0M370.9 418.6h0M179.6 427.1h0M356.2 427.1h0M366 427.1h0M415 427.1h0M532.8 427.1h0M611.2 427.1h0M331.7 435.6h0M576.9 435.6h0M375.8 444.2h0M395.4 444.2h0M513.1 444.2h0M213.9 452.7h0M606.3 452.7h0M346.4 461.2h0M194.3 469.8h0M243.4 469.8h0M312 469.8h0M488.6 469.8h0M267.9 478.3h0M326.8 478.3h0M336.6 478.3h0M405.2 478.3h0M473.9 478.3h0M572 478.3h0M184.5 486.9h0M223.8 486.9h0M253.2 486.9h0M537.7 486.9h0M586.7 486.9h0M424.9 495.4h0M213.9 503.9h0M253.2 503.9h0M312 503.9h0M351.3 503.9h0M616.2 503.9h0M189.4 512.5h0M356.2 512.5h0M464.1 512.5h0M493.5 512.5h0M542.6 512.5h0M552.4 512.5h0M253.2 521h0M459.2 521h0M527.9 521h0M316.9 529.5h0M326.8 529.5h0M464.1 529.5h0M576.9 538.1h0M179.6 546.6h0M228.7 546.6h0M316.9 546.6h0M395.4 546.6h0M473.9 546.6h0M523 546.6h0M552.4 546.6h0M213.9 555.2h0M223.8 555.2h0M321.9 555.2h0M331.7 555.2h0M390.5 555.2h0M297.3 563.7h0M346.4 563.7h0M542.6 563.7h0M552.4 563.7h0M601.4 563.7h0M272.8 572.2h0M292.4 572.2h0M390.5 572.2h0M488.6 572.2h0M209 580.8h0M385.6 580.8h0M572 580.8h0M174.7 589.3h0M380.7 589.3h0M169.8 597.8h0M179.6 597.8h0M199.2 597.8h0M297.3 597.8h0M336.6 597.8h0M385.6 597.8h0M473.9 597.8h0M523 597.8h0M542.6 597.8h0M562.2 597.8h0M572 597.8h0M380.7 606.4h0M527.9 606.4h0M179.6 614.9h0M189.4 614.9h0M184.5 623.4h0M351.3 623.4h0M370.9 623.4h0M449.4 623.4h0M567.1 623.4h0M542.6 632h0M233.6 640.5h0M272.8 640.5h0M321.9 640.5h0M331.7 640.5h0M498.4 640.5h0M199.2 649.1h0M204.1 657.6h0M282.6 657.6h0M410.1 657.6h0M429.8 657.6h0M439.6 657.6h0M209 666.1h0M346.4 666.1h0M444.5 666.1h0M194.3 674.7h0M213.9 674.7h0M233.6 674.7h0M366 683.2h0M395.4 683.2h0M263 691.7h0M459.2 691.7h0M218.8 700.3h0M223.8 708.8h0M199.2 717.4h0M287.5 717.4h0M194.3 725.9h0M233.6 725.9h0M292.4 725.9h0M179.6 734.4h0M228.7 734.4h0"/>
<path stroke="#ffffff" d="M233.6 145.4h0M272.8 162.4h0M238.5 171h0M346.4 171h0M243.4 179.5h0M351.3 179.5h0M400.3 179.5h0M179.6 188.1h0M282.6 196.6h0M464.1 205.1h0M184.5 213.7h0M223.8 213.7h0M302.2 213.7h0M331.7 213.7h0M439.6 213.7h0M228.7 222.2h0M258.1 222.2h0M395.4 222.2h0M493.5 222.2h0M449.4 230.7h0M557.3 230.7h0M395.4 239.3h0M473.9 239.3h0M370.9 247.8h0M527.9 247.8h0M179.6 256.4h0M199.2 256.4h0M238.5 256.4h0M297.3 256.4h0M326.8 256.4h0M356.2 256.4h0M366 256.4h0M464.1 256.4h0M542.6 256.4h0M552.4 256.4h0M253.2 264.9h0M390.5 264.9h0M169.8 273.4h0M346.4 273.4h0M395.4 273.4h0M493.5 273.4h0M562.2 273.4h0M572 273.4h0M527.9 282h0M228.7 290.5h0M316.9 290.5h0M581.8 290.5h0M351.3 299h0M478.8 299h0M567.1 299h0M576.9 299h0M209 307.6h0M572 307.6h0M581.8 307.6h0M233.6 316.1h0M419.9 316.1h0M498.4 316.1h0M218.8 324.7h0M287.5 324.7h0M444.5 324.7h0M464.1 324.7h0M493.5 324.7h0M478.8 333.2h0M508.2 333.2h0M513.1 341.7h0M591.6 341.7h0M321.9 350.3h0M370.9 350.3h0M503.3 358.8h0M233.6 367.3h0M292.4 367.3h0M267.9 375.9h0M297.3 375.9h0M316.9 375.9h0M523 375.9h0M572 375.9h0M351.3 384.4h0M410.1 384.4h0M439.6 384.4h0M488.6 384.4h0M596.5 384.4h0M218.8 392.9h0M248.3 392.9h0M307.1 392.9h0M233.6 401.5h0M263 401.5h0M272.8 401.5h0M321.9 401.5h0M488.6 401.5h0M537.7 401.5h0M316.9 410h0M366 410h0M483.7 410h0M601.4 410h0M213.9 418.6h0M272.8 418.6h0M292.4 418.6h0M488.6 418.6h0M537.7 418.6h0M586.7 418.6h0M606.3 418.6h0M228.7 427.1h0M248.3 427.1h0M346.4 427.1h0M375.8 427.1h0M513.1 427.1h0M263 435.6h0M302.2 435.6h0M370.9 435.6h0M380.7 435.6h0M478.8 435.6h0M199.2 444.2h0M248.3 444.2h0M366 444.2h0M434.7 444.2h0M581.8 444.2h0M174.7 452.7h0M248.3 461.2h0M405.2 461.2h0M415 461.2h0M483.7 461.2h0M292.4 469.8h0M302.2 469.8h0M321.9 469.8h0M331.7 469.8h0M351.3 469.8h0M478.8 469.8h0M518 469.8h0M557.3 469.8h0M179.6 478.3h0M356.2 478.3h0M483.7 478.3h0M302.2 486.9h0M312 486.9h0M346.4 495.4h0M356.2 495.4h0M405.2 495.4h0M400.3 503.9h0M419.9 503.9h0M591.6 512.5h0M204.1 521h0M272.8 521h0M312 521h0M439.6 521h0M498.4 521h0M547.5 521h0M179.6 529.5h0M189.4 529.5h0M199.2 529.5h0M277.7 529.5h0M375.8 529.5h0M415 529.5h0M454.3 529.5h0M184.5 538.1h0M243.4 538.1h0M253.2 538.1h0M312 538.1h0M351.3 538.1h0M449.4 538.1h0M498.4 538.1h0M189.4 546.6h0M209 546.6h0M444.5 546.6h0M253.2 555.2h0M527.9 555.2h0M596.5 555.2h0M606.3 555.2h0M258.1 563.7h0M375.8 563.7h0M434.7 563.7h0M513.1 563.7h0M572 563.7h0M174.7 572.2h0M233.6 572.2h0M263 572.2h0M370.9 572.2h0M380.7 572.2h0M498.4 572.2h0M537.7 572.2h0M179.6 580.8h0M444.5 580.8h0M513.1 580.8h0M532.8 580.8h0M292.4 589.3h0M361.1 589.3h0M449.4 589.3h0M508.2 589.3h0M557.3 589.3h0M366 597.8h0M444.5 597.8h0M552.4 597.8h0M581.8 597.8h0M400.3 606.4h0M297.3 614.9h0M366 614.9h0M527.9 623.4h0M483.7 632h0M532.8 632h0M312 640.5h0M400.3 640.5h0M518 640.5h0M228.7 649.1h0M375.8 649.1h0M331.7 657.6h0M361.1 657.6h0M498.4 657.6h0M439.6 674.7h0M179.6 683.2h0M209 683.2h0M346.4 683.2h0M375.8 683.2h0M297.3 700.3h0M263 708.8h0M169.8 717.4h0M223.8 725.9h0"/>
<path stroke="#fff5f2" d="M282.6 162.4h0M312 162.4h0M321.9 162.4h0M351.3 162.4h0M361.1 162.4h0M410.1 162.4h0M277.7 171h0M223.8 179.5h0M302.2 179.5h0M258.1 188.1h0M297.3 188.1h0M326.8 188.1h0M454.3 188.1h0M194.3 196.6h0M263 196.6h0M498.4 196.6h0M209 205.1h0M424.9 205.1h0M493.5 205.1h0M312 213.7h0M375.8 222.2h0M464.1 222.2h0M532.8 222.2h0M233.6 230.7h0M263 230.7h0M302.2 230.7h0M419.9 230.7h0M267.9 239.3h0M375.8 239.3h0M513.1 239.3h0M532.8 239.3h0M223.8 247.8h0M272.8 247.8h0M429.8 247.8h0M478.8 247.8h0M287.5 256.4h0M395.4 256.4h0M434.7 256.4h0M523 256.4h0M204.1 264.9h0M498.4 264.9h0M248.3 273.4h0M277.7 273.4h0M321.9 282h0M341.5 282h0M390.5 282h0M469 282h0M498.4 282h0M326.8 290.5h0M336.6 290.5h0M415 290.5h0M523 290.5h0M370.9 299h0M390.5 299h0M419.9 299h0M527.9 299h0M547.5 299h0M179.6 307.6h0M194.3 316.1h0M557.3 316.1h0M586.7 316.1h0M209 324.7h0M424.9 324.7h0M473.9 324.7h0M503.3 324.7h0M591.6 324.7h0M233.6 333.2h0M243.4 333.2h0M272.8 333.2h0M498.4 333.2h0M518 333.2h0M199.2 341.7h0M307.1 341.7h0M405.2 341.7h0M483.7 341.7h0M493.5 341.7h0M552.4 341.7h0M562.2 341.7h0M572 341.7h0M331.7 350.3h0M449.4 350.3h0M508.2 350.3h0M557.3 350.3h0M189.4 358.8h0M258.1 358.8h0M267.9 358.8h0M493.5 358.8h0M194.3 367.3h0M223.8 367.3h0M459.2 367.3h0M478.8 367.3h0M488.6 367.3h0M498.4 367.3h0M395.4 375.9h0M405.2 375.9h0M483.7 375.9h0M542.6 375.9h0M552.4 375.9h0M312 384.4h0M341.5 384.4h0M429.8 384.4h0M606.3 384.4h0M184.5 401.5h0M223.8 401.5h0M302.2 401.5h0M341.5 401.5h0M400.3 401.5h0M508.2 401.5h0M547.5 401.5h0M567.1 401.5h0M287.5 410h0M326.8 410h0M395.4 410h0M581.8 410h0M233.6 418.6h0M341.5 418.6h0M361.1 418.6h0M410.1 418.6h0M527.9 418.6h0M547.5 418.6h0M218.8 427.1h0M336.6 427.1h0M405.2 427.1h0M493.5 427.1h0M581.8 427.1h0M204.1 435.6h0M223.8 435.6h0M361.1 435.6h0M567.1 435.6h0M586.7 435.6h0M277.7 444.2h0M307.1 444.2h0M405.2 444.2h0M184.5 452.7h0M341.5 452.7h0M400.3 452.7h0M478.8 452.7h0M488.6 452.7h0M179.6 461.2h0M189.4 461.2h0M375.8 461.2h0M400.3 469.8h0M498.4 469.8h0M228.7 478.3h0M464.1 478.3h0M174.7 486.9h0M213.9 486.9h0M390.5 486.9h0M547.5 486.9h0M218.8 495.4h0M277.7 495.4h0M473.9 495.4h0M523 495.4h0M532.8 495.4h0M184.5 503.9h0M223.8 503.9h0M380.7 503.9h0M498.4 503.9h0M518 503.9h0M527.9 503.9h0M199.2 512.5h0M209 512.5h0M297.3 512.5h0M395.4 512.5h0M473.9 512.5h0M611.2 512.5h0M194.3 521h0M243.4 521h0M292.4 521h0M351.3 521h0M469 521h0M508.2 521h0M532.8 529.5h0M272.8 538.1h0M282.6 538.1h0M419.9 538.1h0M439.6 538.1h0M459.2 538.1h0M547.5 538.1h0M258.1 546.6h0M415 546.6h0M493.5 546.6h0M312 555.2h0M537.7 555.2h0M547.5 555.2h0M209 563.7h0M248.3 563.7h0M326.8 563.7h0M253.2 572.2h0M586.7 572.2h0M228.7 580.8h0M287.5 580.8h0M395.4 580.8h0M552.4 580.8h0M537.7 589.3h0M218.8 597.8h0M267.9 597.8h0M503.3 597.8h0M174.7 606.4h0M537.7 606.4h0M385.6 614.9h0M542.6 614.9h0M361.1 623.4h0M518 623.4h0M557.3 623.4h0M434.7 632h0M493.5 632h0M508.2 640.5h0M218.8 649.1h0M287.5 649.1h0M346.4 649.1h0M424.9 649.1h0M513.1 649.1h0M532.8 649.1h0M321.9 657.6h0M508.2 657.6h0M169.8 666.1h0M248.3 666.1h0M316.9 666.1h0M375.8 666.1h0M385.6 666.1h0M370.9 674.7h0M419.9 674.7h0M415 683.2h0M464.1 683.2h0M272.8 691.7h0M351.3 691.7h0M370.9 691.7h0M267.9 700.3h0M385.6 700.3h0M405.2 700.3h0M258.1 717.4h0M243.4 725.9h0M272.8 725.9h0M267.9 734.4h0"/>
<path stroke="#ffece5" d="M204.1 162.4h0M341.5 162.4h0M375.8 171h0M253.2 179.5h0M341.5 179.5h0M361.1 179.5h0M346.4 188.1h0M356.2 188.1h0M483.7 188.1h0M243.4 196.6h0M272.8 196.6h0M429.8 196.6h0M478.8 196.6h0M228.7 205.1h0M307.1 205.1h0M326.8 205.1h0M336.6 205.1h0M434.7 205.1h0M454.3 205.1h0M380.7 213.7h0M410.1 213.7h0M326.8 222.2h0M336.6 222.2h0M346.4 222.2h0M405.2 222.2h0M424.9 222.2h0M243.4 230.7h0M508.2 230.7h0M415 239.3h0M424.9 239.3h0M464.1 239.3h0M503.3 239.3h0M542.6 239.3h0M204.1 247.8h0M390.5 247.8h0M488.6 247.8h0M508.2 247.8h0M547.5 247.8h0M557.3 247.8h0M209 256.4h0M228.7 256.4h0M267.9 256.4h0M277.7 256.4h0M307.1 256.4h0M194.3 264.9h0M223.8 264.9h0M478.8 264.9h0M527.9 264.9h0M567.1 264.9h0M267.9 273.4h0M375.8 273.4h0M415 273.4h0M503.3 273.4h0M542.6 273.4h0M243.4 282h0M263 282h0M292.4 282h0M346.4 290.5h0M473.9 290.5h0M532.8 290.5h0M223.8 299h0M361.1 299h0M488.6 299h0M508.2 299h0M199.2 307.6h0M424.9 307.6h0M473.9 307.6h0M483.7 307.6h0M523 307.6h0M272.8 316.1h0M410.1 316.1h0M429.8 316.1h0M439.6 316.1h0M213.9 333.2h0M292.4 333.2h0M321.9 333.2h0M400.3 333.2h0M439.6 333.2h0M547.5 333.2h0M375.8 341.7h0M395.4 341.7h0M213.9 350.3h0M312 350.3h0M361.1 350.3h0M488.6 350.3h0M518 350.3h0M576.9 350.3h0M586.7 350.3h0M287.5 358.8h0M356.2 358.8h0M366 358.8h0M429.8 367.3h0M336.6 375.9h0M503.3 375.9h0M302.2 384.4h0M331.7 384.4h0M361.1 384.4h0M370.9 384.4h0M380.7 384.4h0M400.3 384.4h0M449.4 384.4h0M557.3 384.4h0M567.1 384.4h0M591.6 392.9h0M601.4 392.9h0M194.3 401.5h0M204.1 401.5h0M213.9 401.5h0M331.7 401.5h0M596.5 401.5h0M189.4 410h0M336.6 410h0M591.6 410h0M263 418.6h0M302.2 418.6h0M380.7 418.6h0M390.5 418.6h0M419.9 418.6h0M557.3 418.6h0M189.4 427.1h0M287.5 427.1h0M307.1 427.1h0M424.9 427.1h0M184.5 435.6h0M213.9 435.6h0M341.5 435.6h0M410.1 435.6h0M498.4 435.6h0M527.9 435.6h0M557.3 435.6h0M238.5 444.2h0M493.5 444.2h0M523 444.2h0M572 444.2h0M591.6 444.2h0M204.1 452.7h0M282.6 452.7h0M370.9 452.7h0M508.2 452.7h0M518 452.7h0M567.1 452.7h0M218.8 461.2h0M228.7 461.2h0M267.9 461.2h0M287.5 461.2h0M326.8 461.2h0M523 461.2h0M591.6 461.2h0M263 469.8h0M527.9 469.8h0M209 478.3h0M248.3 478.3h0M375.8 478.3h0M493.5 478.3h0M581.8 478.3h0M282.6 486.9h0M199.2 495.4h0M228.7 495.4h0M287.5 495.4h0M316.9 495.4h0M542.6 495.4h0M204.1 503.9h0M331.7 503.9h0M478.8 503.9h0M326.8 512.5h0M346.4 512.5h0M415 512.5h0M513.1 512.5h0M581.8 512.5h0M370.9 521h0M449.4 521h0M488.6 521h0M557.3 521h0M267.9 529.5h0M307.1 529.5h0M483.7 529.5h0M194.3 538.1h0M321.9 538.1h0M380.7 538.1h0M400.3 538.1h0M469 538.1h0M488.6 538.1h0M527.9 538.1h0M199.2 546.6h0M405.2 546.6h0M532.8 546.6h0M410.1 555.2h0M459.2 555.2h0M508.2 555.2h0M321.9 572.2h0M400.3 572.2h0M297.3 580.8h0M591.6 580.8h0M498.4 589.3h0M518 589.3h0M415 597.8h0M302.2 606.4h0M547.5 606.4h0M395.4 614.9h0M439.6 623.4h0M469 623.4h0M478.8 623.4h0M547.5 623.4h0M444.5 632h0M454.3 632h0M464.1 632h0M523 632h0M552.4 632h0M527.9 640.5h0M444.5 649.1h0M341.5 657.6h0M380.7 657.6h0M400.3 657.6h0M395.4 666.1h0M454.3 666.1h0M464.1 666.1h0M316.9 683.2h0M356.2 683.2h0M405.2 683.2h0M434.7 683.2h0M454.3 683.2h0M341.5 691.7h0M439.6 691.7h0M424.9 700.3h0M253.2 708.8h0"/>
<path stroke="#ffe2d8" d="M213.9 162.4h0M228.7 171h0M287.5 171h0M272.8 179.5h0M312 179.5h0M439.6 179.5h0M248.3 188.1h0M366 188.1h0M415 188.1h0M424.9 188.1h0M302.2 196.6h0M312 196.6h0M331.7 196.6h0M341.5 196.6h0M410.1 196.6h0M439.6 196.6h0M488.6 196.6h0M218.8 205.1h0M238.5 205.1h0M248.3 205.1h0M316.9 205.1h0M346.4 205.1h0M385.6 205.1h0M405.2 205.1h0M503.3 205.1h0M351.3 213.7h0M390.5 213.7h0M400.3 213.7h0M478.8 213.7h0M316.9 222.2h0M390.5 230.7h0M478.8 230.7h0M316.9 239.3h0M336.6 239.3h0M356.2 239.3h0M523 239.3h0M263 247.8h0M439.6 247.8h0M518 247.8h0M385.6 256.4h0M454.3 256.4h0M473.9 256.4h0M503.3 256.4h0M263 264.9h0M351.3 264.9h0M361.1 264.9h0M429.8 264.9h0M189.4 273.4h0M297.3 273.4h0M424.9 273.4h0M194.3 282h0M478.8 282h0M567.1 282h0M218.8 290.5h0M366 290.5h0M424.9 290.5h0M493.5 290.5h0M213.9 299h0M439.6 299h0M557.3 299h0M454.3 307.6h0M184.5 316.1h0M380.7 316.1h0M469 316.1h0M527.9 316.1h0M189.4 324.7h0M258.1 324.7h0M483.7 324.7h0M552.4 324.7h0M572 324.7h0M312 333.2h0M537.7 333.2h0M586.7 333.2h0M218.8 341.7h0M415 341.7h0M424.9 341.7h0M243.4 350.3h0M459.2 350.3h0M537.7 350.3h0M228.7 358.8h0M336.6 358.8h0M464.1 358.8h0M513.1 358.8h0M523 358.8h0M562.2 358.8h0M591.6 358.8h0M341.5 367.3h0M380.7 367.3h0M400.3 367.3h0M586.7 367.3h0M434.7 375.9h0M513.1 375.9h0M532.8 375.9h0M292.4 384.4h0M518 384.4h0M527.9 384.4h0M576.9 384.4h0M228.7 392.9h0M346.4 392.9h0M395.4 392.9h0M483.7 392.9h0M292.4 401.5h0M527.9 401.5h0M586.7 401.5h0M179.6 410h0M218.8 410h0M415 410h0M572 410h0M223.8 418.6h0M321.9 418.6h0M267.9 427.1h0M297.3 427.1h0M591.6 427.1h0M174.7 435.6h0M312 435.6h0M351.3 435.6h0M400.3 435.6h0M537.7 435.6h0M547.5 435.6h0M503.3 444.2h0M233.6 452.7h0M253.2 452.7h0M390.5 452.7h0M199.2 461.2h0M209 461.2h0M297.3 461.2h0M601.4 461.2h0M204.1 469.8h0M537.7 469.8h0M547.5 469.8h0M567.1 469.8h0M258.1 478.3h0M385.6 478.3h0M380.7 486.9h0M410.1 486.9h0M307.1 495.4h0M326.8 495.4h0M581.8 495.4h0M321.9 503.9h0M341.5 503.9h0M410.1 503.9h0M508.2 503.9h0M596.5 503.9h0M179.6 512.5h0M238.5 512.5h0M248.3 512.5h0M287.5 512.5h0M174.7 521h0M282.6 521h0M390.5 521h0M586.7 521h0M606.3 521h0M218.8 529.5h0M228.7 529.5h0M287.5 529.5h0M424.9 529.5h0M444.5 529.5h0M493.5 529.5h0M581.8 529.5h0M233.6 538.1h0M292.4 538.1h0M567.1 538.1h0M277.7 546.6h0M513.1 546.6h0M601.4 546.6h0M419.9 555.2h0M498.4 555.2h0M557.3 555.2h0M366 563.7h0M483.7 563.7h0M523 563.7h0M194.3 572.2h0M410.1 572.2h0M449.4 572.2h0M508.2 572.2h0M218.8 580.8h0M277.7 580.8h0M415 580.8h0M351.3 589.3h0M469 589.3h0M287.5 597.8h0M410.1 606.4h0M326.8 614.9h0M454.3 614.9h0M473.9 614.9h0M483.7 614.9h0M513.1 614.9h0M532.8 614.9h0M488.6 623.4h0M336.6 632h0M351.3 640.5h0M390.5 640.5h0M419.9 640.5h0M439.6 640.5h0M316.9 649.1h0M184.5 674.7h0M390.5 674.7h0M429.8 674.7h0M459.2 674.7h0M385.6 683.2h0M380.7 691.7h0M449.4 691.7h0M434.7 700.3h0M189.4 717.4h0"/>
<path stroke="#ffd9cb" d="M253.2 128.3h0M248.3 136.8h0M307.1 171h0M336.6 171h0M331.7 179.5h0M380.7 179.5h0M213.9 196.6h0M253.2 196.6h0M351.3 196.6h0M380.7 196.6h0M287.5 205.1h0M473.9 205.1h0M233.6 213.7h0M263 213.7h0M361.1 213.7h0M419.9 213.7h0M449.4 213.7h0M498.4 213.7h0M527.9 213.7h0M267.9 222.2h0M253.2 230.7h0M370.9 230.7h0M518 230.7h0M537.7 230.7h0M228.7 239.3h0M287.5 239.3h0M312 247.8h0M351.3 247.8h0M444.5 256.4h0M572 256.4h0M292.4 264.9h0M287.5 273.4h0M483.7 273.4h0M532.8 273.4h0M223.8 282h0M233.6 282h0M429.8 282h0M557.3 282h0M395.4 290.5h0M429.8 299h0M449.4 299h0M469 299h0M537.7 299h0M189.4 307.6h0M449.4 316.1h0M478.8 316.1h0M508.2 316.1h0M179.6 324.7h0M267.9 324.7h0M405.2 324.7h0M415 324.7h0M513.1 324.7h0M263 333.2h0M449.4 333.2h0M316.9 341.7h0M503.3 341.7h0M532.8 341.7h0M542.6 341.7h0M410.1 350.3h0M307.1 358.8h0M473.9 358.8h0M581.8 358.8h0M390.5 367.3h0M518 367.3h0M527.9 367.3h0M385.6 375.9h0M562.2 375.9h0M390.5 384.4h0M459.2 384.4h0M415 392.9h0M424.9 392.9h0M493.5 392.9h0M503.3 392.9h0M498.4 401.5h0M209 410h0M267.9 410h0M277.7 410h0M532.8 410h0M542.6 410h0M498.4 418.6h0M508.2 418.6h0M567.1 418.6h0M596.5 418.6h0M523 427.1h0M542.6 427.1h0M272.8 435.6h0M596.5 435.6h0M297.3 444.2h0M385.6 444.2h0M415 444.2h0M542.6 444.2h0M272.8 452.7h0M302.2 452.7h0M410.1 452.7h0M547.5 452.7h0M586.7 452.7h0M493.5 461.2h0M513.1 461.2h0M174.7 469.8h0M361.1 469.8h0M576.9 469.8h0M297.3 478.3h0M503.3 478.3h0M542.6 478.3h0M562.2 478.3h0M591.6 478.3h0M601.4 478.3h0M204.1 486.9h0M370.9 486.9h0M488.6 486.9h0M557.3 486.9h0M576.9 486.9h0M606.3 486.9h0M209 495.4h0M258.1 495.4h0M267.9 495.4h0M493.5 495.4h0M552.4 495.4h0M233.6 503.9h0M263 503.9h0M390.5 503.9h0M258.1 512.5h0M277.7 512.5h0M385.6 512.5h0M405.2 512.5h0M213.9 521h0M331.7 521h0M341.5 521h0M518 521h0M537.7 521h0M356.2 529.5h0M405.2 529.5h0M542.6 529.5h0M174.7 538.1h0M223.8 538.1h0M537.7 538.1h0M596.5 538.1h0M424.9 546.6h0M483.7 546.6h0M361.1 555.2h0M370.9 555.2h0M469 555.2h0M478.8 555.2h0M459.2 572.2h0M478.8 572.2h0M405.2 580.8h0M454.3 580.8h0M390.5 589.3h0M410.1 589.3h0M488.6 589.3h0M464.1 597.8h0M493.5 597.8h0M419.9 606.4h0M498.4 606.4h0M405.2 614.9h0M434.7 614.9h0M444.5 614.9h0M562.2 614.9h0M390.5 623.4h0M400.3 623.4h0M410.1 623.4h0M419.9 623.4h0M424.9 632h0M341.5 640.5h0M405.2 649.1h0M464.1 649.1h0M473.9 649.1h0M488.6 657.6h0M434.7 666.1h0M473.9 666.1h0M493.5 666.1h0M351.3 674.7h0M400.3 674.7h0M410.1 674.7h0M469 674.7h0M429.8 708.8h0M277.7 717.4h0M263 725.9h0M223.8 743h0"/>
<path stroke="#ffcfbf" d="M238.5 136.8h0M336.6 188.1h0M370.9 196.6h0M395.4 205.1h0M488.6 213.7h0M179.6 222.2h0M385.6 222.2h0M473.9 222.2h0M503.3 222.2h0M523 222.2h0M341.5 230.7h0M380.7 230.7h0M459.2 230.7h0M547.5 230.7h0M444.5 239.3h0M243.4 247.8h0M292.4 247.8h0M321.9 247.8h0M400.3 247.8h0M218.8 256.4h0M405.2 256.4h0M415 256.4h0M439.6 264.9h0M518 264.9h0M537.7 264.9h0M316.9 273.4h0M326.8 273.4h0M336.6 273.4h0M434.7 273.4h0M547.5 282h0M238.5 290.5h0M503.3 290.5h0M513.1 290.5h0M410.1 299h0M547.5 316.1h0M248.3 324.7h0M297.3 324.7h0M527.9 333.2h0M199.2 358.8h0M316.9 358.8h0M415 358.8h0M552.4 358.8h0M361.1 367.3h0M287.5 375.9h0M537.7 384.4h0M586.7 384.4h0M238.5 392.9h0M258.1 392.9h0M297.3 392.9h0M336.6 392.9h0M434.7 392.9h0M523 392.9h0M253.2 401.5h0M174.7 418.6h0M243.4 418.6h0M238.5 427.1h0M316.9 427.1h0M395.4 427.1h0M483.7 427.1h0M552.4 427.1h0M601.4 427.1h0M189.4 444.2h0M532.8 444.2h0M552.4 444.2h0M601.4 444.2h0M576.9 452.7h0M258.1 461.2h0M542.6 461.2h0M282.6 469.8h0M341.5 469.8h0M586.7 469.8h0M606.3 469.8h0M189.4 478.3h0M277.7 478.3h0M238.5 495.4h0M336.6 495.4h0M503.3 495.4h0M572 495.4h0M537.7 503.9h0M586.7 503.9h0M218.8 512.5h0M307.1 512.5h0M483.7 512.5h0M567.1 521h0M238.5 529.5h0M523 529.5h0M213.9 538.1h0M341.5 538.1h0M410.1 538.1h0M508.2 538.1h0M434.7 546.6h0M562.2 546.6h0M591.6 546.6h0M400.3 555.2h0M439.6 555.2h0M449.4 555.2h0M488.6 555.2h0M336.6 563.7h0M419.9 572.2h0M547.5 572.2h0M400.3 589.3h0M419.9 589.3h0M429.8 589.3h0M459.2 589.3h0M478.8 589.3h0M209 597.8h0M478.8 606.4h0M508.2 606.4h0M424.9 614.9h0M503.3 632h0M449.4 640.5h0M488.6 640.5h0M366 649.1h0"/>
<path stroke="#ffc6b2" d="M312 145.4h0M321.9 196.6h0M361.1 196.6h0M469 196.6h0M415 205.1h0M483.7 222.2h0M282.6 230.7h0M297.3 239.3h0M454.3 239.3h0M459.2 247.8h0M316.9 256.4h0M513.1 256.4h0M272.8 264.9h0M454.3 273.4h0M312 282h0M370.9 282h0M439.6 282h0M454.3 290.5h0M184.5 299h0M228.7 307.6h0M434.7 307.6h0M464.1 307.6h0M459.2 316.1h0M562.2 324.7h0M581.8 324.7h0M429.8 333.2h0M469 333.2h0M434.7 341.7h0M439.6 350.3h0M537.7 367.3h0M547.5 367.3h0M326.8 375.9h0M366 375.9h0M375.8 375.9h0M282.6 384.4h0M547.5 384.4h0M473.9 392.9h0M282.6 401.5h0M380.7 401.5h0M238.5 410h0M258.1 410h0M356.2 410h0M513.1 410h0M523 410h0M277.7 427.1h0M243.4 435.6h0M292.4 435.6h0M209 444.2h0M557.3 452.7h0M596.5 452.7h0M277.7 461.2h0M307.1 461.2h0M385.6 461.2h0M532.8 461.2h0M552.4 478.3h0M194.3 486.9h0M233.6 486.9h0M263 486.9h0M341.5 486.9h0M189.4 495.4h0M248.3 495.4h0M194.3 503.9h0M557.3 503.9h0M576.9 503.9h0M228.7 512.5h0M572 512.5h0M478.8 521h0M601.4 529.5h0M611.2 529.5h0M606.3 538.1h0M454.3 546.6h0M572 546.6h0M581.8 546.6h0M429.8 555.2h0M586.7 555.2h0M385.6 563.7h0M405.2 563.7h0M415 563.7h0M424.9 580.8h0M405.2 597.8h0M434.7 597.8h0M454.3 597.8h0M390.5 606.4h0M429.8 606.4h0M380.7 623.4h0M429.8 623.4h0M395.4 649.1h0M405.2 666.1h0M424.9 666.1h0M449.4 674.7h0M424.9 683.2h0M429.8 691.7h0"/>
<path stroke="#ffbca6" d="M267.9 188.1h0M272.8 213.7h0M282.6 213.7h0M341.5 213.7h0M356.2 222.2h0M272.8 230.7h0M277.7 239.3h0M307.1 239.3h0M552.4 239.3h0M341.5 247.8h0M312 264.9h0M459.2 264.9h0M189.4 290.5h0M405.2 290.5h0M444.5 290.5h0M518 316.1h0M523 324.7h0M567.1 333.2h0M576.9 333.2h0M454.3 341.7h0M527.9 350.3h0M424.9 358.8h0M483.7 358.8h0M532.8 358.8h0M542.6 358.8h0M601.4 375.9h0M508.2 384.4h0M542.6 392.9h0M581.8 392.9h0M390.5 401.5h0M576.9 401.5h0M228.7 410h0M297.3 410h0M375.8 410h0M493.5 410h0M503.3 410h0M552.4 410h0M562.2 410h0M312 418.6h0M576.9 418.6h0M562.2 427.1h0M606.3 435.6h0M243.4 452.7h0M537.7 452.7h0M316.9 461.2h0M562.2 461.2h0M572 461.2h0M213.9 469.8h0M218.8 478.3h0M238.5 478.3h0M287.5 478.3h0M508.2 486.9h0M567.1 486.9h0M454.3 512.5h0M562.2 512.5h0M552.4 529.5h0M562.2 529.5h0M302.2 538.1h0M503.3 546.6h0M503.3 563.7h0M527.9 572.2h0M375.8 580.8h0M439.6 589.3h0M395.4 597.8h0M449.4 606.4h0M459.2 606.4h0M488.6 606.4h0M503.3 614.9h0M459.2 623.4h0M405.2 632h0M493.5 649.1h0M503.3 649.1h0M478.8 657.6h0M356.2 666.1h0M444.5 683.2h0"/>
<path stroke="#ffb299" d="M258.1 136.8h0M419.9 196.6h0M375.8 205.1h0M370.9 213.7h0M429.8 213.7h0M277.7 222.2h0M297.3 222.2h0M351.3 230.7h0M248.3 239.3h0M331.7 247.8h0M449.4 282h0M552.4 290.5h0M454.3 324.7h0M429.8 350.3h0M370.9 367.3h0M209 392.9h0M277.7 392.9h0M385.6 392.9h0M243.4 401.5h0M385.6 410h0M405.2 410h0M199.2 427.1h0M581.8 461.2h0M223.8 469.8h0M199.2 478.3h0M385.6 495.4h0M243.4 503.9h0M503.3 512.5h0M523 512.5h0M321.9 521h0M297.3 529.5h0M591.6 529.5h0M557.3 538.1h0M464.1 546.6h0M473.9 563.7h0M469 572.2h0M493.5 580.8h0M483.7 597.8h0M439.6 606.4h0M473.9 632h0M410.1 640.5h0M459.2 640.5h0M483.7 649.1h0M415 666.1h0M483.7 666.1h0M390.5 691.7h0M375.8 700.3h0"/>
<path stroke="#ffa88d" d="M390.5 196.6h0M400.3 196.6h0M297.3 205.1h0M424.9 256.4h0M488.6 264.9h0M307.1 273.4h0M366 273.4h0M405.2 358.8h0M312 452.7h0M552.4 461.2h0M316.9 478.3h0M243.4 486.9h0M527.9 486.9h0M415 495.4h0M513.1 495.4h0M547.5 503.9h0M567.1 503.9h0M233.6 521h0M263 521h0M258.1 529.5h0M513.1 529.5h0M429.8 572.2h0M434.7 580.8h0M483.7 580.8h0M503.3 580.8h0M424.9 597.8h0M415 614.9h0M464.1 614.9h0M493.5 614.9h0M385.6 632h0M415 632h0M419.9 657.6h0M449.4 657.6h0M419.9 691.7h0"/>
<path stroke="#ff9e81" d="M356.2 205.1h0M346.4 239.3h0M253.2 247.8h0M282.6 264.9h0M380.7 264.9h0M385.6 273.4h0M567.1 367.3h0M493.5 375.9h0M478.8 384.4h0M258.1 444.2h0M523 478.3h0M223.8 521h0M518 538.1h0M444.5 563.7h0M454.3 563.7h0M439.6 572.2h0M454.3 649.1h0"/>
<path stroke="#ff9475" d="M316.9 188.1h0M366 222.2h0M567.1 350.3h0M351.3 367.3h0M532.8 392.9h0M498.4 486.9h0M572 529.5h0M424.9 563.7h0M390.5 657.6h0M459.2 657.6h0M469 657.6h0"/>
<path stroke="#ff8969" d="M307.1 188.1h0M312 230.7h0M488.6 230.7h0M508.2 264.9h0M356.2 375.9h0M562.2 495.4h0M493.5 563.7h0"/>
<path stroke="#ff7e5e" d="M518 401.5h0M204.1 538.1h0M542.6 546.6h0"/>
<path stroke="#ff7352" d="M449.4 196.6h0M419.9 333.2h0M209 529.5h0"/>
</g></g>
<rect x="1918.6" y="105.6" width="505.6" height="669.4" fill="none" stroke="#333" stroke-width="2.1"/>
<text x="2012.5" y="821.6" font-size="33.3" text-anchor="middle" fill="#4d4d4d">3000</text>
<text x="2152.4" y="821.6" font-size="33.3" text-anchor="middle" fill="#4d4d4d">5000</text>
<text x="2292.2" y="821.6" font-size="33.3" text-anchor="middle" fill="#4d4d4d">7000</text>
<text transform="translate(1894.8 222.9) rotate(-90)" font-size="33.3" text-anchor="middle" fill="#4d4d4d">-2500</text>
<text transform="translate(1894.8 397.5) rotate(-90)" font-size="33.3" text-anchor="middle" fill="#4d4d4d">-5000</text>
<text transform="translate(1894.8 572.1) rotate(-90)" font-size="33.3" text-anchor="middle" fill="#4d4d4d">-7500</text>
<text transform="translate(1894.8 746.7) rotate(-90)" font-size="33.3" text-anchor="middle" fill="#4d4d4d">-10000</text>
<path d="M2012.5 776.0v11.5M2152.4 776.0v11.5M2292.2 776.0v11.5M1917.6 222.9h-11.5M1917.6 397.5h-11.5M1917.6 572.1h-11.5M1917.6 746.7h-11.5" stroke="#333" stroke-width="4.2" fill="none"/>
<text x="2171.4" y="864.4" font-size="33.3" text-anchor="middle" fill="#000">x coordinates</text>
<text transform="translate(1846.9 440.3) rotate(-90)" font-size="33.3" text-anchor="middle" fill="#000">y coordinates</text>
<rect x="2494.1" y="260.8" width="71.9" height="359.5" fill="url(#g2)"/>
<text x="2588.6" y="275.0" font-size="33.3" fill="#000">7.5</text>
<text x="2588.6" y="347.9" font-size="33.3" fill="#000">5.0</text>
<text x="2588.6" y="420.7" font-size="33.3" fill="#000">2.5</text>
<text x="2588.6" y="493.5" font-size="33.3" fill="#000">0.0</text>
<text x="2588.6" y="566.4" font-size="33.3" fill="#000">-2.5</text>
<path d="M2494.1 263.1h14.4M2566.0 263.1h-14.4M2494.1 336.0h14.4M2566.0 336.0h-14.4M2494.1 408.8h14.4M2566.0 408.8h-14.4M2494.1 481.6h14.4M2566.0 481.6h-14.4M2494.1 554.5h14.4M2566.0 554.5h-14.4" stroke="#fff" stroke-width="1.6" fill="none"/>
</g>
<g>
<text x="376.2" y="962.8" font-size="55" text-anchor="middle" fill="#000">Neurons</text>
<g transform="translate(-9.40 900.00) scale(1)" fill="none" stroke-linecap="round">
<use href="#o" stroke="#1c1c1c" stroke-width="9.85"/>
<g stroke-width="8.75">
<path stroke="#0000ff" d="M228.7 290.5h0"/>
<path stroke="#502bff" d="M204.1 264.9h0"/>
<path stroke="#6239ff" d="M223.8 264.9h0M429.8 435.6h0M331.7 640.5h0"/>
<path stroke="#7145ff" d="M209 273.4h0M218.8 273.4h0M199.2 290.5h0M439.6 435.6h0M434.7 444.2h0M444.5 444.2h0M419.9 452.7h0M429.8 452.7h0M439.6 469.8h0M419.9 486.9h0M370.9 538.1h0M385.6 563.7h0"/>
<path stroke="#7e52ff" d="M174.7 282h0M213.9 282h0M223.8 282h0M218.8 290.5h0M424.9 290.5h0M434.7 427.1h0M444.5 427.1h0M419.9 435.6h0M415 444.2h0M439.6 452.7h0M434.7 461.2h0M429.8 469.8h0M449.4 469.8h0M424.9 478.3h0M439.6 486.9h0M351.3 555.2h0M336.6 597.8h0M346.4 597.8h0"/>
<path stroke="#8a5dff" d="M272.8 247.8h0M341.5 247.8h0M218.8 256.4h0M213.9 264.9h0M390.5 264.9h0M194.3 282h0M204.1 282h0M179.6 290.5h0M209 290.5h0M184.5 299h0M194.3 299h0M204.1 299h0M223.8 299h0M179.6 307.6h0M189.4 307.6h0M199.2 307.6h0M179.6 341.7h0M424.9 427.1h0M424.9 444.2h0M415 461.2h0M444.5 461.2h0M454.3 461.2h0M434.7 478.3h0M444.5 478.3h0M410.1 486.9h0M429.8 486.9h0M405.2 495.4h0M434.7 495.4h0M419.9 503.9h0M375.8 512.5h0M415 512.5h0M400.3 521h0M419.9 521h0M326.8 529.5h0M375.8 529.5h0M385.6 529.5h0M405.2 529.5h0M361.1 538.1h0M380.7 538.1h0M375.8 546.6h0M263 555.2h0M370.9 572.2h0M380.7 572.2h0M366 580.8h0M341.5 589.3h0M351.3 589.3h0M370.9 589.3h0M356.2 597.8h0M346.4 614.9h0"/>
<path stroke="#9569ff" d="M277.7 239.3h0M263 247.8h0M370.9 264.9h0M380.7 264.9h0M189.4 273.4h0M395.4 273.4h0M233.6 282h0M410.1 282h0M189.4 290.5h0M213.9 299h0M209 307.6h0M184.5 316.1h0M444.5 324.7h0M469 350.3h0M228.7 358.8h0M454.3 427.1h0M449.4 435.6h0M459.2 435.6h0M454.3 444.2h0M449.4 452.7h0M424.9 461.2h0M419.9 469.8h0M415 478.3h0M400.3 503.9h0M429.8 503.9h0M405.2 512.5h0M424.9 512.5h0M341.5 521h0M380.7 521h0M410.1 521h0M415 529.5h0M400.3 538.1h0M410.1 538.1h0M356.2 546.6h0M366 546.6h0M395.4 546.6h0M375.8 563.7h0M375.8 580.8h0M361.1 589.3h0M341.5 606.4h0M351.3 606.4h0M307.1 614.9h0M336.6 632h0M316.9 649.1h0M321.9 657.6h0"/>
<path stroke="#a074ff" d="M243.4 247.8h0M331.7 247.8h0M356.2 256.4h0M375.8 256.4h0M243.4 264.9h0M228.7 273.4h0M405.2 273.4h0M439.6 299h0M218.8 307.6h0M243.4 367.3h0M415 427.1h0M410.1 452.7h0M415 495.4h0M424.9 495.4h0M390.5 503.9h0M410.1 503.9h0M385.6 512.5h0M395.4 512.5h0M287.5 529.5h0M395.4 529.5h0M390.5 538.1h0M346.4 546.6h0M385.6 546.6h0M405.2 546.6h0M361.1 555.2h0M390.5 555.2h0M346.4 563.7h0M341.5 572.2h0M356.2 580.8h0M331.7 589.3h0M326.8 597.8h0M366 597.8h0M326.8 614.9h0M336.6 614.9h0M321.9 623.4h0M331.7 623.4h0M341.5 623.4h0M316.9 632h0M326.8 632h0M321.9 640.5h0"/>
<path stroke="#aa80ff" d="M326.8 239.3h0M282.6 247.8h0M302.2 247.8h0M312 247.8h0M321.9 247.8h0M209 256.4h0M228.7 256.4h0M194.3 264.9h0M233.6 264.9h0M179.6 273.4h0M199.2 273.4h0M238.5 273.4h0M184.5 282h0M419.9 282h0M434.7 290.5h0M429.8 299h0M316.9 307.6h0M454.3 324.7h0M459.2 333.2h0M464.1 341.7h0M464.1 358.8h0M469 384.4h0M410.1 435.6h0M375.8 461.2h0M410.1 469.8h0M405.2 478.3h0M380.7 503.9h0M331.7 521h0M351.3 521h0M370.9 521h0M356.2 529.5h0M366 529.5h0M292.4 538.1h0M351.3 538.1h0M380.7 555.2h0M400.3 555.2h0M366 563.7h0M361.1 572.2h0M346.4 580.8h0M331.7 606.4h0M316.9 614.9h0M312 623.4h0M341.5 640.5h0M326.8 649.1h0M316.9 666.1h0M326.8 666.1h0"/>
<path stroke="#b38bff" d="M228.7 239.3h0M267.9 239.3h0M307.1 239.3h0M223.8 247.8h0M361.1 247.8h0M370.9 247.8h0M238.5 256.4h0M336.6 256.4h0M366 256.4h0M385.6 273.4h0M233.6 299h0M321.9 299h0M419.9 299h0M307.1 307.6h0M449.4 333.2h0M184.5 367.3h0M233.6 367.3h0M469 401.5h0M478.8 401.5h0M405.2 427.1h0M464.1 427.1h0M292.4 452.7h0M459.2 452.7h0M375.8 478.3h0M395.4 495.4h0M390.5 521h0M346.4 529.5h0M312 538.1h0M267.9 546.6h0M370.9 555.2h0M356.2 563.7h0M351.3 572.2h0M223.8 606.4h0M312 606.4h0M336.6 649.1h0M321.9 674.7h0"/>
<path stroke="#bc97ff" d="M238.5 239.3h0M258.1 239.3h0M253.2 247.8h0M351.3 247.8h0M258.1 256.4h0M346.4 256.4h0M400.3 264.9h0M253.2 282h0M228.7 307.6h0M267.9 307.6h0M297.3 307.6h0M444.5 307.6h0M395.4 341.7h0M454.3 341.7h0M395.4 358.8h0M223.8 367.3h0M267.9 375.9h0M473.9 410h0M469 418.6h0M478.8 418.6h0M302.2 452.7h0M370.9 452.7h0M405.2 461.2h0M351.3 469.8h0M356.2 478.3h0M400.3 486.9h0M356.2 512.5h0M366 512.5h0M361.1 521h0M307.1 529.5h0M316.9 529.5h0M272.8 538.1h0M282.6 538.1h0M321.9 538.1h0M277.7 546.6h0M272.8 555.2h0M248.3 563.7h0M395.4 563.7h0M336.6 580.8h0M321.9 606.4h0M361.1 606.4h0M331.7 657.6h0"/>
<path stroke="#c4a2ff" d="M316.9 239.3h0M336.6 239.3h0M248.3 256.4h0M277.7 256.4h0M297.3 256.4h0M385.6 256.4h0M361.1 264.9h0M243.4 282h0M263 282h0M400.3 282h0M429.8 282h0M341.5 299h0M258.1 307.6h0M194.3 316.1h0M321.9 316.1h0M351.3 316.1h0M439.6 316.1h0M449.4 316.1h0M223.8 350.3h0M459.2 350.3h0M199.2 358.8h0M218.8 358.8h0M238.5 358.8h0M258.1 358.8h0M405.2 358.8h0M483.7 392.9h0M483.7 410h0M429.8 418.6h0M439.6 418.6h0M346.4 427.1h0M473.9 427.1h0M366 444.2h0M370.9 469.8h0M370.9 503.9h0M346.4 512.5h0M434.7 512.5h0M312 521h0M321.9 521h0M297.3 529.5h0M336.6 529.5h0M258.1 546.6h0M258.1 563.7h0M292.4 589.3h0M316.9 597.8h0M253.2 606.4h0M356.2 614.9h0M238.5 632h0M248.3 632h0M169.8 666.1h0M194.3 674.7h0"/>
<path stroke="#ccadff" d="M287.5 239.3h0M213.9 247.8h0M233.6 247.8h0M292.4 247.8h0M316.9 256.4h0M326.8 256.4h0M253.2 264.9h0M390.5 282h0M238.5 290.5h0M297.3 290.5h0M405.2 290.5h0M434.7 307.6h0M204.1 316.1h0M351.3 333.2h0M469 333.2h0M385.6 341.7h0M253.2 350.3h0M321.9 350.3h0M179.6 358.8h0M385.6 358.8h0M473.9 358.8h0M263 367.3h0M272.8 367.3h0M469 367.3h0M415 375.9h0M473.9 375.9h0M478.8 384.4h0M439.6 401.5h0M410.1 418.6h0M459.2 418.6h0M277.7 427.1h0M356.2 427.1h0M405.2 444.2h0M272.8 452.7h0M316.9 461.2h0M341.5 469.8h0M459.2 469.8h0M366 478.3h0M366 495.4h0M297.3 512.5h0M341.5 538.1h0M243.4 555.2h0M253.2 555.2h0M243.4 606.4h0M174.7 674.7h0M169.8 683.2h0"/>
<path stroke="#d4b9ff" d="M287.5 153.9h0M316.9 153.9h0M483.7 188.1h0M297.3 239.3h0M267.9 256.4h0M307.1 256.4h0M248.3 273.4h0M375.8 273.4h0M282.6 282h0M415 290.5h0M312 299h0M336.6 307.6h0M424.9 307.6h0M292.4 316.1h0M361.1 316.1h0M429.8 316.1h0M356.2 324.7h0M464.1 324.7h0M370.9 333.2h0M380.7 333.2h0M390.5 333.2h0M356.2 341.7h0M375.8 341.7h0M434.7 341.7h0M473.9 341.7h0M204.1 350.3h0M370.9 350.3h0M209 358.8h0M248.3 358.8h0M267.9 358.8h0M415 358.8h0M331.7 367.3h0M419.9 367.3h0M287.5 375.9h0M316.9 375.9h0M464.1 375.9h0M194.3 384.4h0M253.2 384.4h0M263 384.4h0M321.9 384.4h0M331.7 384.4h0M449.4 384.4h0M189.4 392.9h0M209 392.9h0M473.9 392.9h0M611.2 392.9h0M213.9 401.5h0M415 410h0M444.5 410h0M464.1 410h0M621.1 410h0M361.1 418.6h0M287.5 427.1h0M316.9 427.1h0M282.6 435.6h0M385.6 444.2h0M464.1 444.2h0M282.6 452.7h0M400.3 469.8h0M263 486.9h0M292.4 486.9h0M287.5 495.4h0M346.4 495.4h0M356.2 495.4h0M444.5 495.4h0M312 503.9h0M238.5 512.5h0M174.7 521h0M263 538.1h0M228.7 546.6h0M287.5 546.6h0M307.1 546.6h0M189.4 563.7h0M390.5 572.2h0M326.8 580.8h0M351.3 623.4h0M169.8 632h0M194.3 640.5h0M312 640.5h0M169.8 649.1h0M527.9 657.6h0M336.6 666.1h0M164.9 674.7h0M184.5 674.7h0M272.8 674.7h0M302.2 674.7h0M312 674.7h0M331.7 674.7h0M267.9 683.2h0M316.9 683.2h0M287.5 700.3h0M385.6 700.3h0M174.7 708.8h0"/>
<path stroke="#dcc4ff" d="M326.8 153.9h0M366 153.9h0M380.7 162.4h0M469 179.5h0M243.4 230.7h0M248.3 239.3h0M351.3 264.9h0M302.2 282h0M267.9 290.5h0M316.9 290.5h0M326.8 290.5h0M331.7 299h0M351.3 299h0M410.1 299h0M238.5 307.6h0M248.3 307.6h0M277.7 307.6h0M287.5 307.6h0M375.8 307.6h0M223.8 316.1h0M370.9 316.1h0M366 324.7h0M228.7 341.7h0M248.3 341.7h0M444.5 341.7h0M194.3 350.3h0M233.6 350.3h0M380.7 350.3h0M410.1 350.3h0M478.8 350.3h0M316.9 358.8h0M326.8 358.8h0M336.6 358.8h0M478.8 367.3h0M189.4 375.9h0M297.3 375.9h0M307.1 375.9h0M336.6 375.9h0M233.6 384.4h0M488.6 384.4h0M199.2 392.9h0M267.9 392.9h0M346.4 392.9h0M464.1 392.9h0M493.5 392.9h0M488.6 401.5h0M297.3 410h0M341.5 418.6h0M380.7 418.6h0M419.9 418.6h0M307.1 427.1h0M390.5 435.6h0M616.2 435.6h0M297.3 444.2h0M356.2 444.2h0M204.1 452.7h0M213.9 452.7h0M380.7 452.7h0M336.6 461.2h0M366 461.2h0M263 469.8h0M321.9 469.8h0M361.1 469.8h0M218.8 478.3h0M346.4 478.3h0M395.4 478.3h0M601.4 478.3h0M361.1 486.9h0M449.4 486.9h0M218.8 495.4h0M233.6 503.9h0M361.1 503.9h0M258.1 512.5h0M336.6 512.5h0M253.2 521h0M272.8 521h0M282.6 521h0M277.7 529.5h0M483.7 529.5h0M621.1 529.5h0M194.3 538.1h0M253.2 538.1h0M297.3 546.6h0M415 546.6h0M341.5 555.2h0M410.1 555.2h0M199.2 563.7h0M218.8 563.7h0M292.4 572.2h0M596.5 572.2h0M307.1 580.8h0M385.6 580.8h0M228.7 597.8h0M248.3 597.8h0M503.3 614.9h0M282.6 623.4h0M292.4 623.4h0M567.1 623.4h0M174.7 640.5h0M179.6 649.1h0M218.8 649.1h0M174.7 657.6h0M243.4 657.6h0M263 657.6h0M312 657.6h0M189.4 666.1h0M228.7 666.1h0M287.5 666.1h0M228.7 683.2h0M483.7 683.2h0M233.6 691.7h0M302.2 691.7h0M297.3 700.3h0M375.8 700.3h0M395.4 700.3h0M272.8 708.8h0M228.7 734.4h0"/>
<path stroke="#e3d0ff" d="M312 145.4h0M307.1 153.9h0M390.5 162.4h0M493.5 188.1h0M184.5 213.7h0M223.8 230.7h0M218.8 239.3h0M415 273.4h0M307.1 290.5h0M263 299h0M282.6 299h0M346.4 307.6h0M356.2 307.6h0M415 307.6h0M454.3 307.6h0M253.2 316.1h0M596.5 316.1h0M297.3 324.7h0M336.6 324.7h0M346.4 324.7h0M375.8 324.7h0M385.6 324.7h0M395.4 324.7h0M434.7 324.7h0M361.1 333.2h0M400.3 333.2h0M218.8 341.7h0M405.2 341.7h0M263 350.3h0M292.4 350.3h0M390.5 350.3h0M400.3 350.3h0M189.4 358.8h0M287.5 358.8h0M572 358.8h0M213.9 367.3h0M341.5 367.3h0M400.3 367.3h0M459.2 367.3h0M199.2 375.9h0M209 375.9h0M218.8 375.9h0M258.1 375.9h0M346.4 375.9h0M405.2 375.9h0M483.7 375.9h0M204.1 384.4h0M282.6 384.4h0M341.5 384.4h0M361.1 384.4h0M287.5 392.9h0M444.5 392.9h0M341.5 401.5h0M370.9 401.5h0M459.2 401.5h0M498.4 401.5h0M616.2 401.5h0M336.6 410h0M312 418.6h0M449.4 418.6h0M366 427.1h0M361.1 435.6h0M400.3 435.6h0M169.8 444.2h0M199.2 444.2h0M209 444.2h0M258.1 444.2h0M326.8 444.2h0M312 452.7h0M341.5 452.7h0M361.1 452.7h0M258.1 461.2h0M287.5 461.2h0M307.1 461.2h0M356.2 461.2h0M385.6 461.2h0M395.4 461.2h0M243.4 469.8h0M243.4 486.9h0M390.5 486.9h0M228.7 495.4h0M248.3 495.4h0M267.9 495.4h0M316.9 495.4h0M375.8 495.4h0M385.6 495.4h0M272.8 503.9h0M292.4 503.9h0M302.2 503.9h0M351.3 503.9h0M439.6 503.9h0M277.7 512.5h0M287.5 512.5h0M292.4 521h0M302.2 521h0M488.6 521h0M174.7 538.1h0M204.1 538.1h0M331.7 538.1h0M611.2 546.6h0M238.5 563.7h0M336.6 563.7h0M272.8 572.2h0M312 572.2h0M331.7 572.2h0M606.3 572.2h0M238.5 580.8h0M297.3 580.8h0M194.3 589.3h0M243.4 589.3h0M302.2 589.3h0M312 589.3h0M238.5 597.8h0M267.9 597.8h0M483.7 597.8h0M493.5 597.8h0M184.5 606.4h0M213.9 606.4h0M238.5 614.9h0M572 614.9h0M223.8 623.4h0M346.4 632h0M189.4 649.1h0M179.6 666.1h0M307.1 666.1h0M233.6 674.7h0M282.6 674.7h0M292.4 674.7h0M488.6 674.7h0M277.7 683.2h0M174.7 691.7h0M184.5 691.7h0M263 691.7h0M380.7 691.7h0M410.1 691.7h0M267.9 700.3h0M366 700.3h0M410.1 708.8h0M174.7 725.9h0M233.6 725.9h0M263 725.9h0M150.2 734.4h0M199.2 734.4h0"/>
<path stroke="#ebdcff" d="M297.3 153.9h0M346.4 153.9h0M370.9 162.4h0M184.5 196.6h0M204.1 196.6h0M189.4 205.1h0M532.8 205.1h0M410.1 213.7h0M199.2 222.2h0M562.2 222.2h0M272.8 230.7h0M395.4 256.4h0M184.5 264.9h0M272.8 282h0M248.3 290.5h0M258.1 290.5h0M243.4 299h0M253.2 299h0M272.8 299h0M292.4 299h0M302.2 299h0M361.1 299h0M213.9 316.1h0M243.4 316.1h0M272.8 316.1h0M312 316.1h0M341.5 316.1h0M419.9 316.1h0M459.2 316.1h0M287.5 324.7h0M184.5 350.3h0M213.9 350.3h0M272.8 350.3h0M312 350.3h0M331.7 350.3h0M449.4 350.3h0M596.5 350.3h0M277.7 358.8h0M346.4 358.8h0M454.3 358.8h0M351.3 367.3h0M410.1 367.3h0M449.4 367.3h0M228.7 375.9h0M248.3 375.9h0M326.8 375.9h0M444.5 375.9h0M454.3 375.9h0M184.5 384.4h0M223.8 384.4h0M272.8 384.4h0M370.9 384.4h0M336.6 392.9h0M356.2 392.9h0M385.6 392.9h0M302.2 401.5h0M312 401.5h0M449.4 401.5h0M189.4 410h0M375.8 410h0M424.9 410h0M434.7 410h0M184.5 418.6h0M194.3 418.6h0M272.8 418.6h0M253.2 435.6h0M263 435.6h0M370.9 435.6h0M287.5 444.2h0M307.1 444.2h0M346.4 444.2h0M375.8 444.2h0M395.4 444.2h0M223.8 452.7h0M253.2 452.7h0M351.3 452.7h0M297.3 461.2h0M464.1 461.2h0M380.7 469.8h0M267.9 478.3h0M297.3 478.3h0M454.3 478.3h0M272.8 486.9h0M331.7 486.9h0M370.9 486.9h0M469 486.9h0M277.7 495.4h0M307.1 495.4h0M336.6 495.4h0M513.1 495.4h0M282.6 503.9h0M321.9 503.9h0M331.7 503.9h0M316.9 512.5h0M621.1 512.5h0M223.8 521h0M498.4 521h0M179.6 529.5h0M454.3 529.5h0M302.2 538.1h0M189.4 546.6h0M209 546.6h0M238.5 546.6h0M336.6 546.6h0M184.5 555.2h0M213.9 555.2h0M179.6 563.7h0M316.9 563.7h0M287.5 580.8h0M316.9 580.8h0M434.7 580.8h0M263 589.3h0M282.6 589.3h0M321.9 589.3h0M380.7 589.3h0M586.7 589.3h0M596.5 589.3h0M277.7 597.8h0M287.5 597.8h0M591.6 597.8h0M174.7 606.4h0M233.6 606.4h0M302.2 606.4h0M508.2 606.4h0M518 606.4h0M169.8 614.9h0M248.3 614.9h0M204.1 623.4h0M233.6 623.4h0M243.4 623.4h0M302.2 623.4h0M287.5 632h0M307.1 632h0M204.1 640.5h0M213.9 640.5h0M243.4 640.5h0M302.2 640.5h0M238.5 649.1h0M277.7 649.1h0M297.3 649.1h0M223.8 657.6h0M503.3 666.1h0M223.8 674.7h0M179.6 683.2h0M209 683.2h0M258.1 683.2h0M356.2 683.2h0M243.4 691.7h0M253.2 691.7h0M272.8 691.7h0M390.5 691.7h0M400.3 691.7h0M429.8 691.7h0M179.6 700.3h0M218.8 700.3h0M277.7 700.3h0M356.2 700.3h0M400.3 708.8h0M169.8 717.4h0M179.6 717.4h0M238.5 717.4h0M277.7 717.4h0M287.5 717.4h0M184.5 725.9h0M160 734.4h0M218.8 734.4h0M164.9 743h0"/>
<path stroke="#f2e7ff" d="M331.7 145.4h0M336.6 153.9h0M356.2 153.9h0M400.3 162.4h0M209 171h0M213.9 179.5h0M179.6 188.1h0M473.9 188.1h0M346.4 205.1h0M223.8 213.7h0M547.5 213.7h0M209 222.2h0M228.7 222.2h0M552.4 222.2h0M213.9 230.7h0M253.2 230.7h0M346.4 239.3h0M199.2 256.4h0M454.3 273.4h0M292.4 282h0M312 282h0M336.6 290.5h0M370.9 299h0M326.8 307.6h0M282.6 316.1h0M380.7 316.1h0M326.8 324.7h0M341.5 333.2h0M429.8 333.2h0M439.6 333.2h0M189.4 341.7h0M277.7 341.7h0M366 341.7h0M243.4 350.3h0M439.6 350.3h0M194.3 367.3h0M282.6 367.3h0M302.2 367.3h0M277.7 375.9h0M213.9 384.4h0M302.2 384.4h0M312 384.4h0M459.2 384.4h0M228.7 392.9h0M248.3 392.9h0M277.7 392.9h0M297.3 392.9h0M326.8 392.9h0M395.4 392.9h0M454.3 392.9h0M223.8 401.5h0M321.9 401.5h0M331.7 401.5h0M390.5 401.5h0M326.8 410h0M346.4 410h0M493.5 410h0M282.6 418.6h0M321.9 418.6h0M351.3 418.6h0M616.2 418.6h0M179.6 427.1h0M199.2 427.1h0M228.7 427.1h0M267.9 427.1h0M326.8 427.1h0M336.6 427.1h0M385.6 427.1h0M194.3 435.6h0M233.6 435.6h0M243.4 435.6h0M272.8 435.6h0M302.2 435.6h0M331.7 435.6h0M351.3 435.6h0M469 435.6h0M228.7 444.2h0M248.3 444.2h0M267.9 444.2h0M277.7 444.2h0M184.5 452.7h0M469 452.7h0M478.8 452.7h0M209 461.2h0M218.8 461.2h0M238.5 461.2h0M346.4 461.2h0M174.7 469.8h0M204.1 469.8h0M302.2 469.8h0M312 469.8h0M331.7 469.8h0M307.1 478.3h0M174.7 486.9h0M213.9 486.9h0M253.2 486.9h0M351.3 486.9h0M616.2 486.9h0M179.6 495.4h0M189.4 495.4h0M238.5 495.4h0M243.4 503.9h0M263 503.9h0M341.5 503.9h0M307.1 512.5h0M326.8 512.5h0M542.6 512.5h0M243.4 521h0M429.8 521h0M199.2 529.5h0M258.1 529.5h0M444.5 529.5h0M419.9 538.1h0M488.6 538.1h0M616.2 538.1h0M199.2 546.6h0M248.3 546.6h0M316.9 546.6h0M174.7 555.2h0M204.1 555.2h0M233.6 555.2h0M282.6 555.2h0M209 563.7h0M228.7 563.7h0M267.9 563.7h0M277.7 563.7h0M233.6 572.2h0M321.9 572.2h0M400.3 572.2h0M218.8 580.8h0M228.7 580.8h0M267.9 580.8h0M277.7 580.8h0M483.7 580.8h0M532.8 580.8h0M174.7 589.3h0M184.5 589.3h0M213.9 589.3h0M223.8 589.3h0M508.2 589.3h0M218.8 597.8h0M258.1 597.8h0M307.1 597.8h0M503.3 597.8h0M488.6 606.4h0M498.4 606.4h0M179.6 614.9h0M297.3 614.9h0M513.1 614.9h0M179.6 632h0M199.2 632h0M209 632h0M405.2 632h0M503.3 632h0M184.5 640.5h0M253.2 640.5h0M292.4 640.5h0M307.1 649.1h0M184.5 657.6h0M194.3 657.6h0M204.1 657.6h0M213.9 657.6h0M272.8 657.6h0M518 657.6h0M238.5 666.1h0M267.9 666.1h0M478.8 674.7h0M326.8 683.2h0M336.6 683.2h0M282.6 691.7h0M189.4 700.3h0M199.2 700.3h0M258.1 700.3h0M415 700.3h0M233.6 708.8h0M390.5 708.8h0M189.4 717.4h0M228.7 717.4h0M258.1 717.4h0M194.3 725.9h0M204.1 725.9h0M272.8 725.9h0M292.4 725.9h0M155.1 743h0"/>
<path stroke="#f8f3ff" d="M292.4 162.4h0M341.5 162.4h0M361.1 162.4h0M434.7 171h0M194.3 179.5h0M341.5 179.5h0M459.2 179.5h0M341.5 196.6h0M478.8 196.6h0M508.2 196.6h0M238.5 205.1h0M395.4 205.1h0M454.3 205.1h0M194.3 213.7h0M233.6 213.7h0M238.5 222.2h0M209 239.3h0M287.5 256.4h0M552.4 256.4h0M572 256.4h0M341.5 264.9h0M513.1 273.4h0M277.7 290.5h0M287.5 290.5h0M346.4 290.5h0M552.4 290.5h0M586.7 299h0M233.6 316.1h0M331.7 316.1h0M228.7 324.7h0M248.3 324.7h0M307.1 324.7h0M424.9 324.7h0M547.5 333.2h0M258.1 341.7h0M483.7 358.8h0M204.1 367.3h0M253.2 367.3h0M292.4 367.3h0M321.9 367.3h0M238.5 375.9h0M366 375.9h0M380.7 384.4h0M238.5 392.9h0M316.9 392.9h0M366 392.9h0M434.7 392.9h0M233.6 401.5h0M361.1 401.5h0M380.7 401.5h0M429.8 401.5h0M199.2 410h0M218.8 410h0M228.7 410h0M258.1 410h0M316.9 410h0M356.2 410h0M395.4 410h0M405.2 410h0M454.3 410h0M253.2 418.6h0M292.4 418.6h0M302.2 418.6h0M390.5 418.6h0M189.4 427.1h0M209 427.1h0M238.5 427.1h0M248.3 427.1h0M258.1 427.1h0M375.8 427.1h0M395.4 427.1h0M174.7 435.6h0M204.1 435.6h0M473.9 444.2h0M503.3 444.2h0M513.1 444.2h0M194.3 452.7h0M263 452.7h0M400.3 452.7h0M616.2 452.7h0M199.2 461.2h0M277.7 461.2h0M233.6 469.8h0M253.2 469.8h0M282.6 469.8h0M292.4 469.8h0M228.7 478.3h0M277.7 478.3h0M336.6 478.3h0M194.3 486.9h0M223.8 486.9h0M380.7 486.9h0M498.4 486.9h0M297.3 495.4h0M326.8 495.4h0M523 495.4h0M204.1 503.9h0M223.8 503.9h0M527.9 503.9h0M248.3 512.5h0M267.9 512.5h0M464.1 512.5h0M194.3 521h0M213.9 521h0M263 521h0M439.6 521h0M478.8 521h0M616.2 521h0M189.4 529.5h0M424.9 529.5h0M434.7 529.5h0M503.3 529.5h0M439.6 538.1h0M179.6 546.6h0M473.9 546.6h0M591.6 546.6h0M194.3 555.2h0M292.4 555.2h0M321.9 555.2h0M169.8 563.7h0M297.3 563.7h0M307.1 563.7h0M326.8 563.7h0M405.2 563.7h0M174.7 572.2h0M184.5 572.2h0M204.1 572.2h0M223.8 572.2h0M243.4 572.2h0M253.2 572.2h0M169.8 580.8h0M179.6 580.8h0M209 580.8h0M542.6 580.8h0M233.6 589.3h0M488.6 589.3h0M518 589.3h0M169.8 597.8h0M199.2 597.8h0M209 597.8h0M375.8 597.8h0M532.8 597.8h0M581.8 597.8h0M263 606.4h0M272.8 606.4h0M292.4 606.4h0M478.8 606.4h0M576.9 606.4h0M209 614.9h0M218.8 614.9h0M228.7 614.9h0M277.7 614.9h0M523 614.9h0M174.7 623.4h0M263 623.4h0M527.9 623.4h0M189.4 632h0M218.8 632h0M258.1 632h0M464.1 632h0M562.2 632h0M233.6 640.5h0M272.8 640.5h0M282.6 640.5h0M498.4 640.5h0M537.7 640.5h0M209 649.1h0M248.3 649.1h0M258.1 649.1h0M267.9 649.1h0M287.5 649.1h0M253.2 657.6h0M282.6 657.6h0M341.5 657.6h0M508.2 657.6h0M218.8 666.1h0M248.3 666.1h0M277.7 666.1h0M464.1 666.1h0M493.5 666.1h0M513.1 666.1h0M204.1 674.7h0M243.4 674.7h0M189.4 683.2h0M199.2 683.2h0M238.5 683.2h0M297.3 683.2h0M405.2 683.2h0M204.1 691.7h0M223.8 691.7h0M361.1 691.7h0M370.9 691.7h0M419.9 691.7h0M209 700.3h0M424.9 700.3h0M184.5 708.8h0M204.1 708.8h0M253.2 708.8h0M263 708.8h0M209 717.4h0M248.3 717.4h0M267.9 717.4h0M282.6 725.9h0M238.5 734.4h0M248.3 734.4h0M267.9 734.4h0M253.2 743h0"/>
<path stroke="#ffffff" d="M282.6 162.4h0M351.3 162.4h0M248.3 171h0M424.9 171h0M444.5 171h0M204.1 179.5h0M449.4 179.5h0M209 188.1h0M415 188.1h0M223.8 196.6h0M233.6 196.6h0M321.9 196.6h0M218.8 205.1h0M228.7 205.1h0M297.3 205.1h0M213.9 213.7h0M449.4 213.7h0M498.4 213.7h0M184.5 230.7h0M233.6 230.7h0M263 230.7h0M370.9 230.7h0M400.3 230.7h0M508.2 230.7h0M537.7 230.7h0M547.5 230.7h0M557.3 230.7h0M179.6 239.3h0M356.2 239.3h0M503.3 239.3h0M503.3 256.4h0M410.1 264.9h0M459.2 264.9h0M169.8 273.4h0M366 273.4h0M572 273.4h0M356.2 290.5h0M395.4 290.5h0M581.8 290.5h0M400.3 299h0M366 307.6h0M263 316.1h0M258.1 324.7h0M277.7 324.7h0M213.9 333.2h0M527.9 333.2h0M199.2 341.7h0M302.2 350.3h0M488.6 350.3h0M297.3 358.8h0M307.1 358.8h0M601.4 358.8h0M312 367.3h0M361.1 367.3h0M424.9 375.9h0M611.2 375.9h0M351.3 384.4h0M218.8 392.9h0M258.1 392.9h0M503.3 392.9h0M351.3 401.5h0M410.1 401.5h0M238.5 410h0M267.9 410h0M287.5 410h0M307.1 410h0M385.6 410h0M581.8 410h0M601.4 410h0M611.2 410h0M223.8 418.6h0M331.7 418.6h0M370.9 418.6h0M488.6 418.6h0M537.7 418.6h0M218.8 427.1h0M184.5 435.6h0M223.8 435.6h0M321.9 435.6h0M341.5 435.6h0M316.9 444.2h0M483.7 444.2h0M611.2 444.2h0M390.5 452.7h0M228.7 461.2h0M248.3 461.2h0M326.8 461.2h0M503.3 461.2h0M272.8 469.8h0M469 469.8h0M498.4 469.8h0M596.5 469.8h0M179.6 478.3h0M258.1 478.3h0M316.9 478.3h0M483.7 478.3h0M513.1 478.3h0M611.2 478.3h0M184.5 486.9h0M302.2 486.9h0M321.9 486.9h0M341.5 486.9h0M199.2 495.4h0M258.1 495.4h0M473.9 495.4h0M503.3 495.4h0M542.6 495.4h0M184.5 503.9h0M253.2 503.9h0M469 503.9h0M488.6 503.9h0M616.2 503.9h0M199.2 512.5h0M444.5 512.5h0M493.5 512.5h0M523 512.5h0M552.4 512.5h0M562.2 512.5h0M572 512.5h0M204.1 521h0M508.2 521h0M537.7 521h0M557.3 521h0M209 529.5h0M228.7 529.5h0M238.5 529.5h0M267.9 529.5h0M493.5 529.5h0M513.1 529.5h0M223.8 538.1h0M459.2 538.1h0M312 555.2h0M429.8 555.2h0M576.9 555.2h0M596.5 555.2h0M287.5 563.7h0M493.5 563.7h0M523 563.7h0M591.6 563.7h0M601.4 563.7h0M611.2 563.7h0M282.6 572.2h0M302.2 572.2h0M488.6 572.2h0M518 572.2h0M586.7 572.2h0M248.3 580.8h0M464.1 580.8h0M523 580.8h0M498.4 589.3h0M547.5 589.3h0M204.1 606.4h0M527.9 606.4h0M547.5 606.4h0M395.4 614.9h0M473.9 614.9h0M483.7 614.9h0M493.5 614.9h0M542.6 614.9h0M562.2 614.9h0M184.5 623.4h0M213.9 623.4h0M488.6 623.4h0M498.4 623.4h0M508.2 623.4h0M228.7 632h0M297.3 632h0M473.9 632h0M513.1 632h0M263 640.5h0M459.2 640.5h0M542.6 649.1h0M302.2 657.6h0M199.2 666.1h0M209 666.1h0M297.3 666.1h0M263 674.7h0M341.5 674.7h0M400.3 674.7h0M248.3 683.2h0M307.1 683.2h0M346.4 683.2h0M395.4 683.2h0M351.3 691.7h0M238.5 700.3h0M194.3 708.8h0M243.4 708.8h0M160 717.4h0M218.8 717.4h0M209 734.4h0M160 751.5h0"/>
<path stroke="#fff5f2" d="M209 153.9h0M410.1 162.4h0M419.9 162.4h0M179.6 171h0M405.2 171h0M302.2 179.5h0M248.3 188.1h0M356.2 188.1h0M395.4 188.1h0M405.2 188.1h0M213.9 196.6h0M179.6 205.1h0M513.1 205.1h0M292.4 213.7h0M302.2 213.7h0M518 213.7h0M537.7 213.7h0M316.9 222.2h0M542.6 222.2h0M204.1 230.7h0M282.6 230.7h0M321.9 230.7h0M361.1 230.7h0M199.2 239.3h0M493.5 239.3h0M184.5 247.8h0M493.5 256.4h0M263 264.9h0M439.6 264.9h0M498.4 264.9h0M537.7 264.9h0M567.1 264.9h0M287.5 273.4h0M424.9 273.4h0M434.7 273.4h0M469 282h0M444.5 290.5h0M557.3 299h0M567.1 299h0M581.8 307.6h0M390.5 316.1h0M189.4 324.7h0M316.9 324.7h0M204.1 333.2h0M253.2 333.2h0M312 333.2h0M488.6 333.2h0M576.9 333.2h0M238.5 341.7h0M282.6 350.3h0M567.1 350.3h0M356.2 358.8h0M591.6 358.8h0M508.2 367.3h0M547.5 367.3h0M557.3 367.3h0M385.6 375.9h0M493.5 375.9h0M562.2 375.9h0M498.4 384.4h0M508.2 384.4h0M606.3 384.4h0M307.1 392.9h0M375.8 392.9h0M572 392.9h0M194.3 401.5h0M243.4 401.5h0M272.8 401.5h0M586.7 401.5h0M606.3 401.5h0M179.6 410h0M277.7 410h0M503.3 410h0M174.7 418.6h0M233.6 418.6h0M243.4 418.6h0M400.3 418.6h0M567.1 418.6h0M576.9 418.6h0M596.5 418.6h0M483.7 427.1h0M380.7 435.6h0M537.7 435.6h0M238.5 444.2h0M336.6 444.2h0M493.5 444.2h0M174.7 452.7h0M233.6 452.7h0M243.4 452.7h0M498.4 452.7h0M508.2 452.7h0M537.7 452.7h0M547.5 452.7h0M586.7 452.7h0M596.5 452.7h0M179.6 461.2h0M473.9 461.2h0M611.2 461.2h0M184.5 469.8h0M199.2 478.3h0M248.3 478.3h0M326.8 478.3h0M385.6 478.3h0M464.1 478.3h0M493.5 478.3h0M523 478.3h0M591.6 478.3h0M204.1 486.9h0M282.6 486.9h0M488.6 486.9h0M508.2 486.9h0M557.3 486.9h0M606.3 486.9h0M454.3 495.4h0M464.1 495.4h0M483.7 495.4h0M449.4 503.9h0M478.8 503.9h0M518 503.9h0M596.5 503.9h0M179.6 512.5h0M218.8 512.5h0M454.3 512.5h0M513.1 512.5h0M532.8 512.5h0M611.2 512.5h0M184.5 521h0M459.2 521h0M218.8 529.5h0M464.1 529.5h0M184.5 538.1h0M213.9 538.1h0M243.4 538.1h0M478.8 538.1h0M498.4 538.1h0M537.7 538.1h0M557.3 538.1h0M586.7 538.1h0M596.5 538.1h0M218.8 546.6h0M326.8 546.6h0M513.1 546.6h0M572 546.6h0M601.4 546.6h0M302.2 555.2h0M449.4 555.2h0M488.6 555.2h0M557.3 555.2h0M606.3 555.2h0M513.1 563.7h0M581.8 563.7h0M194.3 572.2h0M213.9 572.2h0M263 572.2h0M410.1 572.2h0M478.8 572.2h0M199.2 580.8h0M258.1 580.8h0M513.1 580.8h0M572 580.8h0M272.8 589.3h0M390.5 589.3h0M179.6 597.8h0M395.4 597.8h0M424.9 597.8h0M454.3 597.8h0M473.9 597.8h0M513.1 597.8h0M282.6 606.4h0M380.7 606.4h0M419.9 606.4h0M537.7 606.4h0M567.1 606.4h0M189.4 614.9h0M199.2 614.9h0M287.5 614.9h0M532.8 614.9h0M552.4 614.9h0M194.3 623.4h0M253.2 623.4h0M272.8 623.4h0M429.8 623.4h0M267.9 632h0M483.7 632h0M523 632h0M164.9 640.5h0M223.8 640.5h0M351.3 640.5h0M488.6 640.5h0M508.2 640.5h0M547.5 640.5h0M228.7 649.1h0M424.9 649.1h0M513.1 649.1h0M532.8 649.1h0M356.2 666.1h0M444.5 666.1h0M454.3 666.1h0M213.9 674.7h0M390.5 674.7h0M218.8 683.2h0M292.4 691.7h0M439.6 691.7h0M248.3 700.3h0M405.2 700.3h0M434.7 700.3h0M213.9 708.8h0M199.2 717.4h0M213.9 725.9h0M258.1 734.4h0M233.6 743h0M243.4 743h0"/>
<path stroke="#ffece5" d="M223.8 162.4h0M272.8 162.4h0M312 162.4h0M321.9 162.4h0M326.8 171h0M346.4 171h0M375.8 171h0M395.4 171h0M282.6 179.5h0M292.4 179.5h0M331.7 179.5h0M361.1 179.5h0M380.7 179.5h0M199.2 188.1h0M218.8 188.1h0M194.3 196.6h0M243.4 196.6h0M351.3 196.6h0M400.3 196.6h0M488.6 196.6h0M209 205.1h0M258.1 205.1h0M277.7 205.1h0M366 205.1h0M464.1 205.1h0M483.7 205.1h0M503.3 205.1h0M341.5 213.7h0M351.3 213.7h0M370.9 213.7h0M189.4 222.2h0M218.8 222.2h0M248.3 222.2h0M258.1 222.2h0M277.7 222.2h0M287.5 222.2h0M434.7 222.2h0M513.1 222.2h0M302.2 230.7h0M331.7 230.7h0M380.7 230.7h0M518 230.7h0M424.9 239.3h0M469 247.8h0M415 256.4h0M434.7 256.4h0M464.1 256.4h0M513.1 256.4h0M562.2 256.4h0M302.2 264.9h0M331.7 264.9h0M449.4 264.9h0M557.3 264.9h0M267.9 273.4h0M444.5 273.4h0M532.8 273.4h0M542.6 273.4h0M439.6 282h0M537.7 282h0M547.5 282h0M576.9 282h0M366 290.5h0M493.5 290.5h0M523 290.5h0M459.2 299h0M473.9 307.6h0M493.5 307.6h0M552.4 307.6h0M179.6 324.7h0M199.2 324.7h0M238.5 324.7h0M591.6 324.7h0M233.6 333.2h0M282.6 333.2h0M331.7 333.2h0M267.9 341.7h0M287.5 341.7h0M336.6 341.7h0M552.4 341.7h0M591.6 341.7h0M361.1 350.3h0M375.8 358.8h0M444.5 358.8h0M552.4 358.8h0M390.5 367.3h0M429.8 367.3h0M488.6 367.3h0M356.2 375.9h0M513.1 375.9h0M542.6 375.9h0M243.4 384.4h0M513.1 392.9h0M562.2 392.9h0M601.4 392.9h0M184.5 401.5h0M253.2 401.5h0M282.6 401.5h0M292.4 401.5h0M419.9 401.5h0M527.9 401.5h0M209 410h0M532.8 410h0M572 410h0M204.1 418.6h0M213.9 418.6h0M263 418.6h0M297.3 427.1h0M493.5 427.1h0M611.2 427.1h0M478.8 435.6h0M488.6 435.6h0M498.4 435.6h0M527.9 435.6h0M547.5 435.6h0M179.6 444.2h0M218.8 444.2h0M532.8 444.2h0M321.9 452.7h0M488.6 452.7h0M567.1 452.7h0M267.9 461.2h0M493.5 461.2h0M523 461.2h0M213.9 469.8h0M488.6 469.8h0M557.3 469.8h0M586.7 469.8h0M209 478.3h0M238.5 478.3h0M287.5 478.3h0M312 486.9h0M459.2 486.9h0M478.8 486.9h0M537.7 486.9h0M586.7 486.9h0M596.5 486.9h0M213.9 503.9h0M557.3 503.9h0M209 512.5h0M228.7 512.5h0M473.9 512.5h0M483.7 512.5h0M503.3 512.5h0M233.6 521h0M449.4 521h0M469 521h0M596.5 521h0M552.4 529.5h0M591.6 529.5h0M508.2 538.1h0M547.5 538.1h0M567.1 538.1h0M444.5 546.6h0M493.5 546.6h0M503.3 546.6h0M223.8 555.2h0M518 555.2h0M547.5 555.2h0M415 563.7h0M473.9 563.7h0M503.3 563.7h0M572 563.7h0M429.8 572.2h0M527.9 572.2h0M189.4 580.8h0M395.4 580.8h0M444.5 580.8h0M473.9 580.8h0M493.5 580.8h0M503.3 580.8h0M204.1 589.3h0M410.1 589.3h0M439.6 589.3h0M469 589.3h0M478.8 589.3h0M537.7 589.3h0M576.9 589.3h0M297.3 597.8h0M385.6 597.8h0M405.2 597.8h0M415 597.8h0M464.1 597.8h0M194.3 606.4h0M258.1 614.9h0M267.9 614.9h0M370.9 623.4h0M518 623.4h0M493.5 632h0M532.8 632h0M542.6 632h0M552.4 632h0M518 640.5h0M527.9 640.5h0M199.2 649.1h0M346.4 649.1h0M366 649.1h0M415 649.1h0M523 649.1h0M233.6 657.6h0M292.4 657.6h0M370.9 657.6h0M449.4 657.6h0M459.2 657.6h0M366 666.1h0M385.6 666.1h0M483.7 666.1h0M287.5 683.2h0M366 683.2h0M444.5 683.2h0M454.3 683.2h0M194.3 691.7h0M459.2 691.7h0M223.8 725.9h0M253.2 725.9h0M179.6 734.4h0M223.8 743h0"/>
<path stroke="#ffe2d8" d="M233.6 145.4h0M302.2 162.4h0M189.4 171h0M277.7 171h0M316.9 171h0M356.2 171h0M184.5 179.5h0M263 179.5h0M272.8 179.5h0M390.5 179.5h0M419.9 179.5h0M189.4 188.1h0M287.5 188.1h0M326.8 188.1h0M346.4 188.1h0M366 188.1h0M272.8 196.6h0M361.1 196.6h0M410.1 196.6h0M419.9 196.6h0M439.6 196.6h0M449.4 196.6h0M498.4 196.6h0M307.1 205.1h0M326.8 205.1h0M336.6 205.1h0M444.5 205.1h0M523 205.1h0M204.1 213.7h0M263 213.7h0M282.6 213.7h0M361.1 213.7h0M400.3 213.7h0M419.9 213.7h0M469 213.7h0M508.2 213.7h0M297.3 222.2h0M366 222.2h0M385.6 222.2h0M424.9 222.2h0M194.3 230.7h0M498.4 230.7h0M375.8 239.3h0M395.4 239.3h0M513.1 239.3h0M542.6 239.3h0M194.3 247.8h0M204.1 247.8h0M410.1 247.8h0M508.2 247.8h0M557.3 247.8h0M483.7 256.4h0M282.6 264.9h0M429.8 264.9h0M469 264.9h0M547.5 264.9h0M483.7 273.4h0M321.9 282h0M449.4 282h0M385.6 290.5h0M542.6 290.5h0M449.4 299h0M488.6 299h0M508.2 299h0M518 299h0M537.7 299h0M576.9 299h0M542.6 307.6h0M562.2 307.6h0M572 307.6h0M400.3 316.1h0M537.7 316.1h0M547.5 316.1h0M557.3 316.1h0M567.1 316.1h0M586.7 316.1h0M209 324.7h0M218.8 324.7h0M523 324.7h0M184.5 333.2h0M194.3 333.2h0M292.4 333.2h0M302.2 333.2h0M209 341.7h0M316.9 341.7h0M415 341.7h0M483.7 341.7h0M523 341.7h0M572 341.7h0M341.5 350.3h0M351.3 350.3h0M498.4 350.3h0M508.2 350.3h0M547.5 350.3h0M576.9 350.3h0M562.2 358.8h0M370.9 367.3h0M567.1 367.3h0M596.5 367.3h0M552.4 375.9h0M390.5 384.4h0M439.6 384.4h0M557.3 384.4h0M567.1 384.4h0M204.1 401.5h0M263 401.5h0M400.3 401.5h0M508.2 401.5h0M547.5 401.5h0M248.3 410h0M366 410h0M562.2 410h0M508.2 418.6h0M606.3 418.6h0M503.3 427.1h0M542.6 427.1h0M552.4 427.1h0M572 427.1h0M292.4 435.6h0M312 435.6h0M508.2 435.6h0M567.1 435.6h0M576.9 435.6h0M606.3 435.6h0M189.4 444.2h0M572 444.2h0M591.6 444.2h0M518 452.7h0M557.3 452.7h0M606.3 452.7h0M189.4 461.2h0M483.7 461.2h0M513.1 461.2h0M542.6 461.2h0M562.2 461.2h0M223.8 469.8h0M390.5 469.8h0M478.8 469.8h0M527.9 469.8h0M576.9 469.8h0M189.4 478.3h0M473.9 478.3h0M503.3 478.3h0M532.8 478.3h0M233.6 486.9h0M518 486.9h0M527.9 486.9h0M567.1 486.9h0M493.5 495.4h0M532.8 495.4h0M562.2 495.4h0M591.6 495.4h0M601.4 495.4h0M611.2 495.4h0M174.7 503.9h0M194.3 503.9h0M459.2 503.9h0M537.7 503.9h0M547.5 503.9h0M169.8 512.5h0M527.9 521h0M547.5 521h0M567.1 521h0M576.9 521h0M606.3 521h0M233.6 538.1h0M449.4 538.1h0M469 538.1h0M518 538.1h0M424.9 546.6h0M523 546.6h0M552.4 546.6h0M459.2 555.2h0M469 555.2h0M508.2 555.2h0M444.5 563.7h0M542.6 563.7h0M449.4 572.2h0M469 572.2h0M405.2 580.8h0M415 580.8h0M424.9 580.8h0M562.2 580.8h0M591.6 580.8h0M429.8 589.3h0M459.2 589.3h0M557.3 589.3h0M434.7 597.8h0M523 597.8h0M542.6 597.8h0M552.4 597.8h0M562.2 597.8h0M410.1 606.4h0M469 606.4h0M366 614.9h0M385.6 614.9h0M405.2 614.9h0M424.9 614.9h0M464.1 614.9h0M361.1 623.4h0M390.5 623.4h0M400.3 623.4h0M419.9 623.4h0M277.7 632h0M385.6 632h0M424.9 632h0M361.1 640.5h0M370.9 640.5h0M400.3 640.5h0M439.6 640.5h0M449.4 640.5h0M469 640.5h0M395.4 649.1h0M405.2 649.1h0M464.1 649.1h0M503.3 649.1h0M361.1 657.6h0M400.3 657.6h0M429.8 657.6h0M488.6 657.6h0M395.4 666.1h0M473.9 666.1h0M351.3 674.7h0M429.8 674.7h0M439.6 674.7h0M459.2 674.7h0M469 674.7h0M375.8 683.2h0M415 683.2h0M213.9 691.7h0M223.8 708.8h0M429.8 708.8h0M243.4 725.9h0M184.5 743h0"/>
<path stroke="#ffd9cb" d="M248.3 136.8h0M184.5 162.4h0M204.1 162.4h0M331.7 162.4h0M199.2 171h0M228.7 171h0M385.6 171h0M253.2 179.5h0M400.3 179.5h0M228.7 188.1h0M267.9 188.1h0M277.7 188.1h0M336.6 188.1h0M454.3 188.1h0M464.1 188.1h0M253.2 196.6h0M282.6 196.6h0M370.9 196.6h0M380.7 196.6h0M390.5 196.6h0M469 196.6h0M248.3 205.1h0M267.9 205.1h0M405.2 205.1h0M424.9 205.1h0M243.4 213.7h0M253.2 213.7h0M439.6 213.7h0M459.2 213.7h0M527.9 213.7h0M179.6 222.2h0M307.1 222.2h0M395.4 222.2h0M415 222.2h0M454.3 222.2h0M473.9 222.2h0M493.5 222.2h0M312 230.7h0M341.5 230.7h0M351.3 230.7h0M410.1 230.7h0M439.6 230.7h0M478.8 230.7h0M488.6 230.7h0M189.4 239.3h0M366 239.3h0M405.2 239.3h0M523 239.3h0M380.7 247.8h0M419.9 247.8h0M459.2 247.8h0M478.8 247.8h0M498.4 247.8h0M179.6 256.4h0M189.4 256.4h0M454.3 256.4h0M473.9 256.4h0M272.8 264.9h0M321.9 264.9h0M419.9 264.9h0M508.2 264.9h0M552.4 273.4h0M562.2 273.4h0M361.1 282h0M459.2 282h0M478.8 282h0M498.4 282h0M562.2 290.5h0M572 290.5h0M547.5 299h0M464.1 307.6h0M513.1 307.6h0M523 307.6h0M532.8 307.6h0M469 316.1h0M488.6 316.1h0M508.2 316.1h0M527.9 316.1h0M473.9 324.7h0M503.3 324.7h0M321.9 333.2h0M410.1 333.2h0M518 333.2h0M557.3 333.2h0M307.1 341.7h0M346.4 341.7h0M581.8 341.7h0M557.3 350.3h0M513.1 358.8h0M581.8 358.8h0M518 367.3h0M527.9 367.3h0M576.9 367.3h0M395.4 375.9h0M434.7 375.9h0M523 375.9h0M532.8 375.9h0M572 375.9h0M601.4 375.9h0M292.4 384.4h0M400.3 384.4h0M547.5 384.4h0M576.9 384.4h0M586.7 384.4h0M596.5 384.4h0M415 392.9h0M552.4 392.9h0M557.3 401.5h0M567.1 401.5h0M576.9 401.5h0M542.6 410h0M498.4 418.6h0M557.3 418.6h0M513.1 427.1h0M523 427.1h0M581.8 427.1h0M601.4 427.1h0M586.7 435.6h0M581.8 444.2h0M576.9 452.7h0M581.8 461.2h0M194.3 469.8h0M606.3 469.8h0M552.4 478.3h0M547.5 486.9h0M552.4 495.4h0M508.2 503.9h0M189.4 512.5h0M601.4 512.5h0M601.4 529.5h0M611.2 529.5h0M454.3 546.6h0M532.8 546.6h0M331.7 555.2h0M439.6 555.2h0M537.7 555.2h0M454.3 563.7h0M464.1 563.7h0M483.7 563.7h0M532.8 563.7h0M552.4 563.7h0M419.9 572.2h0M459.2 572.2h0M508.2 572.2h0M547.5 572.2h0M454.3 580.8h0M581.8 580.8h0M253.2 589.3h0M449.4 589.3h0M527.9 589.3h0M400.3 606.4h0M459.2 606.4h0M557.3 606.4h0M415 614.9h0M410.1 623.4h0M439.6 623.4h0M449.4 623.4h0M547.5 623.4h0M557.3 623.4h0M356.2 632h0M375.8 632h0M454.3 632h0M419.9 640.5h0M429.8 640.5h0M356.2 649.1h0M434.7 649.1h0M483.7 649.1h0M390.5 657.6h0M419.9 657.6h0M439.6 657.6h0M478.8 657.6h0M498.4 657.6h0M346.4 666.1h0M375.8 666.1h0M405.2 666.1h0M410.1 674.7h0M385.6 683.2h0M434.7 683.2h0M464.1 683.2h0M341.5 691.7h0M228.7 700.3h0"/>
<path stroke="#ffcfbf" d="M253.2 128.3h0M238.5 136.8h0M218.8 171h0M238.5 171h0M258.1 171h0M267.9 171h0M287.5 171h0M297.3 171h0M307.1 171h0M336.6 171h0M415 171h0M223.8 179.5h0M233.6 179.5h0M312 179.5h0M370.9 179.5h0M258.1 188.1h0M424.9 188.1h0M434.7 188.1h0M444.5 188.1h0M302.2 196.6h0M312 196.6h0M331.7 196.6h0M459.2 196.6h0M356.2 205.1h0M375.8 205.1h0M434.7 205.1h0M473.9 205.1h0M493.5 205.1h0M390.5 213.7h0M429.8 213.7h0M488.6 213.7h0M267.9 222.2h0M326.8 222.2h0M336.6 222.2h0M375.8 222.2h0M444.5 222.2h0M464.1 222.2h0M483.7 222.2h0M503.3 222.2h0M523 222.2h0M532.8 222.2h0M292.4 230.7h0M419.9 230.7h0M429.8 230.7h0M459.2 230.7h0M469 230.7h0M527.9 230.7h0M385.6 239.3h0M434.7 239.3h0M444.5 239.3h0M454.3 239.3h0M483.7 239.3h0M532.8 239.3h0M552.4 239.3h0M439.6 247.8h0M488.6 247.8h0M537.7 247.8h0M424.9 256.4h0M444.5 256.4h0M523 256.4h0M518 264.9h0M297.3 273.4h0M316.9 273.4h0M346.4 273.4h0M464.1 273.4h0M473.9 273.4h0M493.5 273.4h0M523 273.4h0M331.7 282h0M380.7 282h0M488.6 282h0M518 282h0M567.1 282h0M375.8 290.5h0M473.9 290.5h0M503.3 290.5h0M513.1 290.5h0M532.8 290.5h0M390.5 299h0M469 299h0M498.4 299h0M498.4 316.1h0M267.9 324.7h0M405.2 324.7h0M415 324.7h0M542.6 324.7h0M552.4 324.7h0M572 324.7h0M243.4 333.2h0M263 333.2h0M272.8 333.2h0M498.4 333.2h0M586.7 333.2h0M326.8 341.7h0M493.5 341.7h0M503.3 341.7h0M542.6 341.7h0M562.2 341.7h0M419.9 350.3h0M429.8 350.3h0M503.3 375.9h0M518 384.4h0M424.9 392.9h0M523 392.9h0M518 401.5h0M513.1 410h0M523 410h0M591.6 410h0M591.6 427.1h0M213.9 435.6h0M557.3 435.6h0M523 444.2h0M532.8 461.2h0M552.4 461.2h0M572 461.2h0M591.6 461.2h0M508.2 469.8h0M518 469.8h0M537.7 469.8h0M547.5 469.8h0M572 478.3h0M581.8 478.3h0M498.4 503.9h0M576.9 503.9h0M606.3 503.9h0M581.8 512.5h0M591.6 512.5h0M518 521h0M586.7 521h0M523 529.5h0M542.6 529.5h0M429.8 538.1h0M434.7 546.6h0M464.1 546.6h0M419.9 555.2h0M527.9 555.2h0M562.2 563.7h0M439.6 572.2h0M567.1 572.2h0M552.4 580.8h0M400.3 589.3h0M419.9 589.3h0M189.4 597.8h0M572 597.8h0M370.9 606.4h0M429.8 606.4h0M439.6 606.4h0M375.8 614.9h0M444.5 614.9h0M380.7 623.4h0M478.8 623.4h0M537.7 623.4h0M380.7 640.5h0M390.5 640.5h0M375.8 649.1h0M385.6 649.1h0M454.3 649.1h0M473.9 649.1h0M493.5 649.1h0M380.7 657.6h0M410.1 657.6h0M469 657.6h0M258.1 666.1h0M253.2 674.7h0M361.1 674.7h0M380.7 674.7h0M449.4 674.7h0M449.4 691.7h0"/>
<path stroke="#ffc6b2" d="M258.1 136.8h0M366 171h0M243.4 179.5h0M351.3 179.5h0M429.8 179.5h0M307.1 188.1h0M375.8 188.1h0M385.6 188.1h0M263 196.6h0M429.8 196.6h0M316.9 205.1h0M385.6 205.1h0M272.8 213.7h0M312 213.7h0M331.7 213.7h0M478.8 213.7h0M356.2 222.2h0M405.2 222.2h0M449.4 230.7h0M473.9 239.3h0M400.3 247.8h0M518 247.8h0M547.5 247.8h0M405.2 256.4h0M488.6 264.9h0M527.9 264.9h0M326.8 273.4h0M336.6 273.4h0M356.2 273.4h0M503.3 273.4h0M341.5 282h0M370.9 282h0M508.2 282h0M527.9 282h0M557.3 282h0M454.3 290.5h0M464.1 290.5h0M380.7 299h0M478.8 299h0M385.6 307.6h0M405.2 307.6h0M410.1 316.1h0M513.1 324.7h0M562.2 324.7h0M581.8 324.7h0M478.8 333.2h0M567.1 333.2h0M297.3 341.7h0M424.9 341.7h0M532.8 341.7h0M518 350.3h0M527.9 350.3h0M523 358.8h0M542.6 358.8h0M586.7 367.3h0M375.8 375.9h0M429.8 384.4h0M405.2 392.9h0M532.8 392.9h0M581.8 392.9h0M547.5 418.6h0M532.8 427.1h0M596.5 435.6h0M542.6 444.2h0M552.4 444.2h0M562.2 444.2h0M331.7 452.7h0M601.4 461.2h0M542.6 478.3h0M562.2 478.3h0M576.9 486.9h0M572 495.4h0M567.1 503.9h0M248.3 529.5h0M562.2 529.5h0M572 529.5h0M581.8 529.5h0M576.9 538.1h0M606.3 538.1h0M483.7 546.6h0M542.6 546.6h0M562.2 546.6h0M478.8 555.2h0M567.1 555.2h0M434.7 563.7h0M537.7 572.2h0M576.9 572.2h0M444.5 597.8h0M390.5 606.4h0M449.4 606.4h0M366 632h0M415 632h0M434.7 632h0M444.5 632h0M444.5 649.1h0M351.3 657.6h0M415 666.1h0M424.9 666.1h0M434.7 666.1h0M370.9 674.7h0"/>
<path stroke="#ffbca6" d="M213.9 162.4h0M238.5 188.1h0M297.3 188.1h0M316.9 188.1h0M292.4 196.6h0M287.5 205.1h0M415 205.1h0M321.9 213.7h0M380.7 213.7h0M390.5 230.7h0M415 239.3h0M390.5 247.8h0M429.8 247.8h0M527.9 247.8h0M532.8 256.4h0M542.6 256.4h0M292.4 264.9h0M478.8 264.9h0M277.7 273.4h0M307.1 273.4h0M483.7 290.5h0M527.9 299h0M395.4 307.6h0M483.7 307.6h0M503.3 307.6h0M478.8 316.1h0M493.5 324.7h0M532.8 324.7h0M223.8 333.2h0M508.2 333.2h0M537.7 333.2h0M586.7 350.3h0M493.5 358.8h0M532.8 358.8h0M380.7 367.3h0M439.6 367.3h0M410.1 384.4h0M537.7 384.4h0M542.6 392.9h0M591.6 392.9h0M537.7 401.5h0M596.5 401.5h0M518 418.6h0M586.7 418.6h0M518 435.6h0M209 495.4h0M586.7 503.9h0M532.8 529.5h0M527.9 538.1h0M586.7 555.2h0M424.9 563.7h0M498.4 572.2h0M469 623.4h0M395.4 632h0M410.1 640.5h0M419.9 674.7h0M424.9 683.2h0"/>
<path stroke="#ffb299" d="M321.9 179.5h0M439.6 179.5h0M346.4 222.2h0M312 264.9h0M258.1 273.4h0M351.3 282h0M518 316.1h0M537.7 350.3h0M366 358.8h0M503.3 358.8h0M498.4 367.3h0M537.7 367.3h0M591.6 375.9h0M527.9 384.4h0M527.9 418.6h0M562.2 427.1h0M581.8 495.4h0M498.4 555.2h0M567.1 589.3h0M454.3 614.9h0M459.2 623.4h0M478.8 640.5h0"/>
<path stroke="#ffa88d" d="M410.1 179.5h0M464.1 239.3h0M449.4 247.8h0M576.9 316.1h0M483.7 324.7h0M419.9 333.2h0M513.1 341.7h0M424.9 358.8h0M434.7 358.8h0M581.8 375.9h0M419.9 384.4h0M552.4 410h0M601.4 444.2h0M567.1 469.8h0M581.8 546.6h0M557.3 572.2h0M434.7 614.9h0"/>
</g></g>
<rect x="118.6" y="998.3" width="515.3" height="682.7" fill="none" stroke="#333" stroke-width="2.1"/>
<text x="214.3" y="1727.6" font-size="33.3" text-anchor="middle" fill="#4d4d4d">3000</text>
<text x="356.9" y="1727.6" font-size="33.3" text-anchor="middle" fill="#4d4d4d">5000</text>
<text x="499.4" y="1727.6" font-size="33.3" text-anchor="middle" fill="#4d4d4d">7000</text>
<text transform="translate(94.8 1117.9) rotate(-90)" font-size="33.3" text-anchor="middle" fill="#4d4d4d">-2500</text>
<text transform="translate(94.8 1295.9) rotate(-90)" font-size="33.3" text-anchor="middle" fill="#4d4d4d">-5000</text>
<text transform="translate(94.8 1473.8) rotate(-90)" font-size="33.3" text-anchor="middle" fill="#4d4d4d">-7500</text>
<text transform="translate(94.8 1651.8) rotate(-90)" font-size="33.3" text-anchor="middle" fill="#4d4d4d">-10000</text>
<path d="M214.3 1682.0v11.5M356.9 1682.0v11.5M499.4 1682.0v11.5M117.6 1117.9h-11.5M117.6 1295.9h-11.5M117.6 1473.8h-11.5M117.6 1651.8h-11.5" stroke="#333" stroke-width="4.2" fill="none"/>
<text x="376.2" y="1770.4" font-size="33.3" text-anchor="middle" fill="#000">x coordinates</text>
<text transform="translate(46.9 1339.7) rotate(-90)" font-size="33.3" text-anchor="middle" fill="#000">y coordinates</text>
<rect x="703.8" y="1160.2" width="71.9" height="359.5" fill="url(#g3)"/>
<text x="798.3" y="1185.6" font-size="33.3" fill="#000">15</text>
<text x="798.3" y="1250.9" font-size="33.3" fill="#000">10</text>
<text x="798.3" y="1316.2" font-size="33.3" fill="#000">5</text>
<text x="798.3" y="1381.4" font-size="33.3" fill="#000">0</text>
<text x="798.3" y="1446.7" font-size="33.3" fill="#000">-5</text>
<text x="798.3" y="1512.0" font-size="33.3" fill="#000">-10</text>
<path d="M703.8 1173.7h14.4M775.7 1173.7h-14.4M703.8 1239.0h14.4M775.7 1239.0h-14.4M703.8 1304.3h14.4M775.7 1304.3h-14.4M703.8 1369.5h14.4M775.7 1369.5h-14.4M703.8 1434.8h14.4M775.7 1434.8h-14.4M703.8 1500.1h14.4M775.7 1500.1h-14.4" stroke="#fff" stroke-width="1.6" fill="none"/>
</g>
<g>
<text x="1276.7" y="962.8" font-size="55" text-anchor="middle" fill="#000">Oligos</text>
<g transform="translate(891.00 900.00) scale(1)" fill="none" stroke-linecap="round">
<use href="#o" stroke="#1c1c1c" stroke-width="9.85"/>
<g stroke-width="8.75">
<path stroke="#b38bff" d="M160 734.4h0"/>
<path stroke="#bc97ff" d="M400.3 162.4h0M552.4 222.2h0M508.2 230.7h0M567.1 486.9h0M576.9 503.9h0M454.3 546.6h0M552.4 546.6h0M596.5 555.2h0M405.2 614.9h0M385.6 666.1h0M478.8 674.7h0M424.9 683.2h0"/>
<path stroke="#c4a2ff" d="M253.2 128.3h0M233.6 145.4h0M312 145.4h0M326.8 171h0M326.8 188.1h0M532.8 222.2h0M537.7 230.7h0M532.8 239.3h0M532.8 273.4h0M527.9 282h0M567.1 367.3h0M596.5 384.4h0M547.5 401.5h0M562.2 410h0M557.3 469.8h0M596.5 469.8h0M591.6 495.4h0M562.2 512.5h0M449.4 538.1h0M542.6 546.6h0M429.8 572.2h0M424.9 597.8h0M390.5 606.4h0M385.6 632h0M498.4 640.5h0M366 649.1h0M390.5 674.7h0M410.1 674.7h0M410.1 691.7h0M415 700.3h0M194.3 725.9h0M223.8 725.9h0M155.1 743h0"/>
<path stroke="#ccadff" d="M316.9 153.9h0M336.6 153.9h0M272.8 162.4h0M199.2 171h0M277.7 171h0M316.9 171h0M346.4 171h0M395.4 171h0M434.7 171h0M400.3 179.5h0M469 179.5h0M297.3 188.1h0M424.9 188.1h0M464.1 188.1h0M473.9 188.1h0M493.5 188.1h0M498.4 196.6h0M385.6 205.1h0M415 205.1h0M410.1 213.7h0M449.4 213.7h0M444.5 222.2h0M523 222.2h0M542.6 222.2h0M557.3 230.7h0M434.7 239.3h0M542.6 239.3h0M552.4 239.3h0M508.2 247.8h0M532.8 256.4h0M557.3 282h0M523 290.5h0M557.3 299h0M591.6 341.7h0M567.1 401.5h0M576.9 401.5h0M572 410h0M581.8 410h0M562.2 478.3h0M581.8 495.4h0M518 503.9h0M483.7 512.5h0M488.6 521h0M557.3 521h0M523 529.5h0M562.2 529.5h0M572 529.5h0M469 538.1h0M537.7 538.1h0M547.5 538.1h0M557.3 538.1h0M596.5 538.1h0M562.2 546.6h0M611.2 546.6h0M537.7 555.2h0M567.1 555.2h0M576.9 555.2h0M606.3 555.2h0M552.4 563.7h0M537.7 572.2h0M400.3 589.3h0M459.2 589.3h0M415 597.8h0M454.3 597.8h0M576.9 606.4h0M415 614.9h0M424.9 614.9h0M370.9 623.4h0M380.7 623.4h0M459.2 623.4h0M361.1 640.5h0M400.3 640.5h0M488.6 640.5h0M508.2 640.5h0M547.5 640.5h0M503.3 649.1h0M513.1 649.1h0M370.9 657.6h0M429.8 657.6h0M405.2 666.1h0M415 666.1h0M341.5 674.7h0M419.9 674.7h0M434.7 683.2h0M361.1 691.7h0M419.9 691.7h0M405.2 700.3h0M424.9 700.3h0M434.7 700.3h0M213.9 708.8h0M390.5 708.8h0M189.4 717.4h0M218.8 717.4h0M263 725.9h0M150.2 734.4h0M218.8 734.4h0M164.9 743h0M233.6 743h0"/>
<path stroke="#d4b9ff" d="M331.7 145.4h0M297.3 153.9h0M307.1 153.9h0M326.8 153.9h0M282.6 162.4h0M341.5 162.4h0M390.5 162.4h0M410.1 162.4h0M419.9 162.4h0M209 171h0M258.1 171h0M385.6 171h0M405.2 171h0M321.9 179.5h0M341.5 179.5h0M429.8 179.5h0M434.7 188.1h0M454.3 188.1h0M370.9 196.6h0M478.8 196.6h0M488.6 196.6h0M267.9 205.1h0M307.1 205.1h0M454.3 205.1h0M429.8 213.7h0M439.6 213.7h0M459.2 213.7h0M469 213.7h0M503.3 222.2h0M439.6 230.7h0M488.6 230.7h0M498.4 230.7h0M518 230.7h0M527.9 230.7h0M547.5 230.7h0M424.9 239.3h0M483.7 239.3h0M493.5 239.3h0M513.1 239.3h0M523 239.3h0M527.9 247.8h0M537.7 264.9h0M542.6 273.4h0M562.2 273.4h0M547.5 282h0M532.8 290.5h0M576.9 299h0M562.2 307.6h0M581.8 307.6h0M567.1 316.1h0M581.8 324.7h0M591.6 324.7h0M547.5 333.2h0M567.1 333.2h0M316.9 341.7h0M552.4 341.7h0M243.4 350.3h0M576.9 350.3h0M576.9 367.3h0M611.2 375.9h0M601.4 392.9h0M586.7 401.5h0M596.5 401.5h0M616.2 401.5h0M591.6 410h0M601.4 410h0M611.2 410h0M567.1 418.6h0M572 427.1h0M581.8 427.1h0M581.8 444.2h0M611.2 444.2h0M576.9 452.7h0M606.3 452.7h0M562.2 461.2h0M576.9 469.8h0M586.7 469.8h0M606.3 469.8h0M552.4 478.3h0M572 478.3h0M557.3 486.9h0M586.7 486.9h0M606.3 486.9h0M616.2 486.9h0M513.1 495.4h0M601.4 495.4h0M498.4 503.9h0M547.5 503.9h0M586.7 503.9h0M596.5 503.9h0M616.2 503.9h0M542.6 512.5h0M552.4 512.5h0M572 512.5h0M581.8 512.5h0M621.1 512.5h0M449.4 521h0M469 521h0M508.2 521h0M537.7 521h0M596.5 521h0M542.6 529.5h0M601.4 529.5h0M459.2 538.1h0M527.9 538.1h0M567.1 538.1h0M576.9 538.1h0M444.5 546.6h0M503.3 546.6h0M513.1 546.6h0M601.4 546.6h0M459.2 555.2h0M469 555.2h0M547.5 555.2h0M586.7 555.2h0M454.3 563.7h0M542.6 563.7h0M572 563.7h0M591.6 563.7h0M459.2 572.2h0M498.4 572.2h0M415 580.8h0M434.7 580.8h0M444.5 580.8h0M454.3 580.8h0M410.1 589.3h0M419.9 589.3h0M439.6 589.3h0M547.5 589.3h0M576.9 589.3h0M596.5 589.3h0M405.2 597.8h0M444.5 597.8h0M464.1 597.8h0M572 597.8h0M591.6 597.8h0M419.9 606.4h0M429.8 606.4h0M459.2 606.4h0M385.6 614.9h0M483.7 614.9h0M542.6 614.9h0M562.2 614.9h0M400.3 623.4h0M547.5 623.4h0M557.3 623.4h0M405.2 632h0M424.9 632h0M434.7 632h0M464.1 632h0M552.4 632h0M351.3 640.5h0M380.7 640.5h0M518 640.5h0M527.9 640.5h0M415 649.1h0M454.3 649.1h0M542.6 649.1h0M351.3 657.6h0M390.5 657.6h0M419.9 657.6h0M439.6 657.6h0M469 657.6h0M527.9 657.6h0M356.2 666.1h0M439.6 674.7h0M488.6 674.7h0M375.8 683.2h0M385.6 683.2h0M405.2 683.2h0M415 683.2h0M483.7 683.2h0M380.7 691.7h0M400.3 691.7h0M429.8 691.7h0M439.6 691.7h0M459.2 691.7h0M218.8 700.3h0M174.7 708.8h0M184.5 708.8h0M223.8 708.8h0M400.3 708.8h0M429.8 708.8h0M160 717.4h0M169.8 717.4h0M199.2 717.4h0M209 717.4h0M228.7 717.4h0M258.1 717.4h0M174.7 725.9h0M184.5 725.9h0M204.1 725.9h0M213.9 725.9h0M233.6 725.9h0M243.4 725.9h0M253.2 725.9h0M272.8 725.9h0M179.6 734.4h0M209 734.4h0M228.7 734.4h0M238.5 734.4h0M223.8 743h0M243.4 743h0"/>
<path stroke="#dcc4ff" d="M258.1 136.8h0M209 153.9h0M356.2 153.9h0M184.5 162.4h0M204.1 162.4h0M302.2 162.4h0M312 162.4h0M321.9 162.4h0M351.3 162.4h0M361.1 162.4h0M370.9 162.4h0M380.7 162.4h0M189.4 171h0M218.8 171h0M248.3 171h0M375.8 171h0M415 171h0M444.5 171h0M253.2 179.5h0M263 179.5h0M282.6 179.5h0M292.4 179.5h0M331.7 179.5h0M390.5 179.5h0M410.1 179.5h0M419.9 179.5h0M449.4 179.5h0M459.2 179.5h0M248.3 188.1h0M258.1 188.1h0M267.9 188.1h0M356.2 188.1h0M375.8 188.1h0M395.4 188.1h0M483.7 188.1h0M292.4 196.6h0M312 196.6h0M400.3 196.6h0M439.6 196.6h0M449.4 196.6h0M469 196.6h0M277.7 205.1h0M405.2 205.1h0M444.5 205.1h0M464.1 205.1h0M400.3 213.7h0M527.9 213.7h0M537.7 213.7h0M464.1 222.2h0M429.8 230.7h0M449.4 230.7h0M385.6 239.3h0M473.9 239.3h0M459.2 247.8h0M498.4 247.8h0M547.5 247.8h0M424.9 256.4h0M454.3 256.4h0M464.1 256.4h0M562.2 256.4h0M518 264.9h0M552.4 273.4h0M572 273.4h0M518 282h0M537.7 282h0M513.1 290.5h0M542.6 290.5h0M552.4 290.5h0M572 290.5h0M581.8 290.5h0M518 299h0M527.9 299h0M547.5 299h0M567.1 299h0M483.7 307.6h0M552.4 307.6h0M537.7 316.1h0M547.5 316.1h0M576.9 316.1h0M586.7 316.1h0M596.5 316.1h0M562.2 324.7h0M527.9 333.2h0M557.3 333.2h0M586.7 333.2h0M523 341.7h0M532.8 341.7h0M572 341.7h0M581.8 341.7h0M557.3 350.3h0M567.1 350.3h0M596.5 350.3h0M238.5 358.8h0M532.8 358.8h0M591.6 358.8h0M547.5 367.3h0M596.5 367.3h0M562.2 375.9h0M601.4 375.9h0M576.9 384.4h0M606.3 384.4h0M562.2 392.9h0M572 392.9h0M527.9 401.5h0M621.1 410h0M174.7 418.6h0M576.9 418.6h0M586.7 418.6h0M616.2 418.6h0M542.6 427.1h0M611.2 427.1h0M567.1 435.6h0M576.9 435.6h0M586.7 435.6h0M616.2 435.6h0M572 444.2h0M616.2 452.7h0M547.5 469.8h0M567.1 469.8h0M454.3 478.3h0M581.8 478.3h0M591.6 478.3h0M488.6 486.9h0M498.4 486.9h0M596.5 486.9h0M493.5 495.4h0M552.4 495.4h0M572 495.4h0M488.6 503.9h0M508.2 503.9h0M537.7 503.9h0M503.3 512.5h0M513.1 512.5h0M611.2 512.5h0M518 521h0M527.9 521h0M586.7 521h0M606.3 521h0M616.2 521h0M464.1 529.5h0M493.5 529.5h0M581.8 529.5h0M591.6 529.5h0M611.2 529.5h0M439.6 538.1h0M478.8 538.1h0M498.4 538.1h0M532.8 546.6h0M591.6 546.6h0M429.8 555.2h0M449.4 555.2h0M508.2 555.2h0M527.9 555.2h0M557.3 555.2h0M483.7 563.7h0M532.8 563.7h0M562.2 563.7h0M601.4 563.7h0M439.6 572.2h0M449.4 572.2h0M547.5 572.2h0M576.9 572.2h0M586.7 572.2h0M596.5 572.2h0M606.3 572.2h0M483.7 580.8h0M542.6 580.8h0M572 580.8h0M581.8 580.8h0M429.8 589.3h0M469 589.3h0M488.6 589.3h0M567.1 589.3h0M586.7 589.3h0M385.6 597.8h0M395.4 597.8h0M434.7 597.8h0M473.9 597.8h0M483.7 597.8h0M562.2 597.8h0M581.8 597.8h0M400.3 606.4h0M410.1 606.4h0M439.6 606.4h0M469 606.4h0M547.5 606.4h0M567.1 606.4h0M395.4 614.9h0M444.5 614.9h0M473.9 614.9h0M523 614.9h0M552.4 614.9h0M572 614.9h0M410.1 623.4h0M419.9 623.4h0M469 623.4h0M488.6 623.4h0M375.8 632h0M415 632h0M473.9 632h0M493.5 632h0M503.3 632h0M523 632h0M532.8 632h0M542.6 632h0M390.5 640.5h0M410.1 640.5h0M459.2 640.5h0M478.8 640.5h0M537.7 640.5h0M346.4 649.1h0M356.2 649.1h0M375.8 649.1h0M385.6 649.1h0M395.4 649.1h0M405.2 649.1h0M424.9 649.1h0M444.5 649.1h0M483.7 649.1h0M523 649.1h0M532.8 649.1h0M380.7 657.6h0M400.3 657.6h0M410.1 657.6h0M459.2 657.6h0M478.8 657.6h0M488.6 657.6h0M498.4 657.6h0M508.2 657.6h0M336.6 666.1h0M346.4 666.1h0M375.8 666.1h0M395.4 666.1h0M444.5 666.1h0M454.3 666.1h0M473.9 666.1h0M483.7 666.1h0M503.3 666.1h0M513.1 666.1h0M370.9 674.7h0M400.3 674.7h0M336.6 683.2h0M346.4 683.2h0M395.4 683.2h0M444.5 683.2h0M454.3 683.2h0M464.1 683.2h0M213.9 691.7h0M370.9 691.7h0M179.6 700.3h0M375.8 700.3h0M385.6 700.3h0M204.1 708.8h0M243.4 708.8h0M410.1 708.8h0M179.6 717.4h0M238.5 717.4h0M287.5 717.4h0M199.2 734.4h0M248.3 734.4h0M267.9 734.4h0M253.2 743h0"/>
<path stroke="#e3d0ff" d="M238.5 136.8h0M248.3 136.8h0M287.5 153.9h0M346.4 153.9h0M366 153.9h0M223.8 162.4h0M292.4 162.4h0M331.7 162.4h0M179.6 171h0M267.9 171h0M287.5 171h0M307.1 171h0M356.2 171h0M424.9 171h0M204.1 179.5h0M243.4 179.5h0M272.8 179.5h0M312 179.5h0M351.3 179.5h0M277.7 188.1h0M316.9 188.1h0M346.4 188.1h0M366 188.1h0M405.2 188.1h0M415 188.1h0M444.5 188.1h0M302.2 196.6h0M321.9 196.6h0M331.7 196.6h0M351.3 196.6h0M390.5 196.6h0M419.9 196.6h0M459.2 196.6h0M297.3 205.1h0M326.8 205.1h0M346.4 205.1h0M366 205.1h0M395.4 205.1h0M434.7 205.1h0M473.9 205.1h0M483.7 205.1h0M493.5 205.1h0M503.3 205.1h0M532.8 205.1h0M263 213.7h0M272.8 213.7h0M292.4 213.7h0M312 213.7h0M380.7 213.7h0M419.9 213.7h0M488.6 213.7h0M498.4 213.7h0M508.2 213.7h0M518 213.7h0M547.5 213.7h0M267.9 222.2h0M326.8 222.2h0M366 222.2h0M395.4 222.2h0M405.2 222.2h0M424.9 222.2h0M434.7 222.2h0M454.3 222.2h0M483.7 222.2h0M493.5 222.2h0M513.1 222.2h0M562.2 222.2h0M361.1 230.7h0M380.7 230.7h0M419.9 230.7h0M459.2 230.7h0M469 230.7h0M478.8 230.7h0M415 239.3h0M503.3 239.3h0M419.9 247.8h0M429.8 247.8h0M439.6 247.8h0M478.8 247.8h0M557.3 247.8h0M434.7 256.4h0M503.3 256.4h0M513.1 256.4h0M542.6 256.4h0M572 256.4h0M527.9 264.9h0M547.5 264.9h0M567.1 264.9h0M444.5 273.4h0M473.9 273.4h0M513.1 273.4h0M523 273.4h0M478.8 282h0M508.2 282h0M567.1 282h0M576.9 282h0M493.5 290.5h0M503.3 290.5h0M562.2 290.5h0M302.2 299h0M498.4 299h0M508.2 299h0M586.7 299h0M513.1 307.6h0M523 307.6h0M532.8 307.6h0M542.6 307.6h0M572 307.6h0M508.2 316.1h0M557.3 316.1h0M297.3 324.7h0M523 324.7h0M532.8 324.7h0M302.2 333.2h0M321.9 333.2h0M341.5 333.2h0M576.9 333.2h0M326.8 341.7h0M336.6 341.7h0M542.6 341.7h0M562.2 341.7h0M527.9 350.3h0M586.7 350.3h0M542.6 358.8h0M572 358.8h0M581.8 358.8h0M557.3 367.3h0M586.7 367.3h0M581.8 375.9h0M591.6 375.9h0M586.7 384.4h0M513.1 392.9h0M532.8 392.9h0M542.6 392.9h0M581.8 392.9h0M591.6 392.9h0M611.2 392.9h0M537.7 401.5h0M557.3 401.5h0M606.3 401.5h0M248.3 410h0M552.4 410h0M537.7 418.6h0M606.3 418.6h0M591.6 427.1h0M601.4 427.1h0M596.5 435.6h0M606.3 435.6h0M542.6 444.2h0M459.2 452.7h0M547.5 452.7h0M596.5 452.7h0M552.4 461.2h0M572 461.2h0M581.8 461.2h0M591.6 461.2h0M601.4 461.2h0M611.2 461.2h0M601.4 478.3h0M611.2 478.3h0M449.4 486.9h0M508.2 486.9h0M518 486.9h0M547.5 486.9h0M576.9 486.9h0M454.3 495.4h0M483.7 495.4h0M503.3 495.4h0M611.2 495.4h0M557.3 503.9h0M567.1 503.9h0M606.3 503.9h0M454.3 512.5h0M473.9 512.5h0M591.6 512.5h0M547.5 521h0M567.1 521h0M576.9 521h0M434.7 529.5h0M454.3 529.5h0M503.3 529.5h0M552.4 529.5h0M488.6 538.1h0M518 538.1h0M586.7 538.1h0M606.3 538.1h0M616.2 538.1h0M464.1 546.6h0M493.5 546.6h0M523 546.6h0M581.8 546.6h0M439.6 555.2h0M478.8 555.2h0M488.6 555.2h0M498.4 555.2h0M434.7 563.7h0M444.5 563.7h0M513.1 563.7h0M523 563.7h0M581.8 563.7h0M611.2 563.7h0M419.9 572.2h0M508.2 572.2h0M557.3 572.2h0M567.1 572.2h0M405.2 580.8h0M424.9 580.8h0M464.1 580.8h0M513.1 580.8h0M532.8 580.8h0M562.2 580.8h0M591.6 580.8h0M449.4 589.3h0M518 589.3h0M488.6 606.4h0M518 606.4h0M557.3 606.4h0M375.8 614.9h0M434.7 614.9h0M454.3 614.9h0M493.5 614.9h0M503.3 614.9h0M532.8 614.9h0M390.5 623.4h0M439.6 623.4h0M449.4 623.4h0M518 623.4h0M527.9 623.4h0M209 632h0M356.2 632h0M395.4 632h0M454.3 632h0M562.2 632h0M164.9 640.5h0M370.9 640.5h0M419.9 640.5h0M429.8 640.5h0M439.6 640.5h0M434.7 649.1h0M493.5 649.1h0M341.5 657.6h0M361.1 657.6h0M449.4 657.6h0M518 657.6h0M366 666.1h0M194.3 674.7h0M351.3 674.7h0M380.7 674.7h0M449.4 674.7h0M459.2 674.7h0M356.2 683.2h0M223.8 691.7h0M253.2 691.7h0M341.5 691.7h0M390.5 691.7h0M209 700.3h0M228.7 700.3h0M366 700.3h0M395.4 700.3h0M194.3 708.8h0M233.6 708.8h0M253.2 708.8h0M248.3 717.4h0M267.9 717.4h0M184.5 743h0M160 751.5h0"/>
<path stroke="#ebdcff" d="M213.9 162.4h0M228.7 171h0M336.6 171h0M366 171h0M233.6 179.5h0M302.2 179.5h0M361.1 179.5h0M370.9 179.5h0M380.7 179.5h0M439.6 179.5h0M179.6 188.1h0M238.5 188.1h0M287.5 188.1h0M307.1 188.1h0M336.6 188.1h0M272.8 196.6h0M380.7 196.6h0M429.8 196.6h0M508.2 196.6h0M258.1 205.1h0M336.6 205.1h0M356.2 205.1h0M375.8 205.1h0M424.9 205.1h0M513.1 205.1h0M523 205.1h0M321.9 213.7h0M351.3 213.7h0M361.1 213.7h0M370.9 213.7h0M390.5 213.7h0M478.8 213.7h0M277.7 222.2h0M336.6 222.2h0M375.8 222.2h0M473.9 222.2h0M370.9 230.7h0M390.5 230.7h0M395.4 239.3h0M444.5 239.3h0M454.3 239.3h0M464.1 239.3h0M469 247.8h0M488.6 247.8h0M537.7 247.8h0M415 256.4h0M444.5 256.4h0M473.9 256.4h0M552.4 256.4h0M469 264.9h0M498.4 264.9h0M557.3 264.9h0M253.2 282h0M341.5 282h0M469 282h0M498.4 282h0M258.1 290.5h0M537.7 299h0M503.3 307.6h0M321.9 316.1h0M488.6 316.1h0M498.4 316.1h0M199.2 324.7h0M356.2 324.7h0M375.8 324.7h0M542.6 324.7h0M552.4 324.7h0M572 324.7h0M223.8 333.2h0M263 333.2h0M351.3 333.2h0M370.9 333.2h0M508.2 333.2h0M537.7 333.2h0M179.6 341.7h0M267.9 341.7h0M277.7 341.7h0M307.1 341.7h0M356.2 341.7h0M375.8 341.7h0M184.5 350.3h0M263 350.3h0M282.6 350.3h0M341.5 350.3h0M518 350.3h0M537.7 350.3h0M547.5 350.3h0M297.3 358.8h0M366 358.8h0M405.2 358.8h0M503.3 358.8h0M552.4 358.8h0M562.2 358.8h0M601.4 358.8h0M439.6 367.3h0M508.2 367.3h0M572 375.9h0M439.6 384.4h0M537.7 384.4h0M547.5 384.4h0M552.4 392.9h0M532.8 410h0M552.4 427.1h0M562.2 427.1h0M537.7 435.6h0M532.8 444.2h0M552.4 444.2h0M591.6 444.2h0M601.4 444.2h0M567.1 452.7h0M586.7 452.7h0M542.6 461.2h0M449.4 469.8h0M459.2 469.8h0M444.5 478.3h0M503.3 478.3h0M542.6 478.3h0M537.7 486.9h0M444.5 495.4h0M562.2 495.4h0M449.4 503.9h0M469 503.9h0M478.8 503.9h0M493.5 512.5h0M523 512.5h0M601.4 512.5h0M439.6 521h0M459.2 521h0M478.8 521h0M498.4 521h0M444.5 529.5h0M483.7 529.5h0M513.1 529.5h0M532.8 529.5h0M621.1 529.5h0M508.2 538.1h0M189.4 546.6h0M434.7 546.6h0M473.9 546.6h0M483.7 546.6h0M572 546.6h0M518 555.2h0M493.5 563.7h0M503.3 563.7h0M469 572.2h0M478.8 572.2h0M518 572.2h0M527.9 572.2h0M473.9 580.8h0M503.3 580.8h0M523 580.8h0M478.8 589.3h0M527.9 589.3h0M537.7 589.3h0M557.3 589.3h0M513.1 597.8h0M523 597.8h0M532.8 597.8h0M380.7 606.4h0M449.4 606.4h0M537.7 606.4h0M464.1 614.9h0M513.1 614.9h0M429.8 623.4h0M498.4 623.4h0M508.2 623.4h0M567.1 623.4h0M366 632h0M444.5 632h0M513.1 632h0M169.8 649.1h0M464.1 649.1h0M473.9 649.1h0M184.5 657.6h0M189.4 666.1h0M199.2 666.1h0M424.9 666.1h0M464.1 666.1h0M493.5 666.1h0M331.7 674.7h0M361.1 674.7h0M429.8 674.7h0M169.8 683.2h0M189.4 683.2h0M199.2 683.2h0M218.8 683.2h0M228.7 683.2h0M326.8 683.2h0M366 683.2h0M194.3 691.7h0M204.1 691.7h0M351.3 691.7h0M449.4 691.7h0M189.4 700.3h0M199.2 700.3h0M248.3 700.3h0M258.1 700.3h0M267.9 700.3h0M297.3 700.3h0M356.2 700.3h0M263 708.8h0M277.7 717.4h0M292.4 725.9h0M258.1 734.4h0"/>
<path stroke="#f2e7ff" d="M297.3 171h0M184.5 179.5h0M194.3 179.5h0M213.9 179.5h0M228.7 188.1h0M385.6 188.1h0M263 196.6h0M282.6 196.6h0M361.1 196.6h0M410.1 196.6h0M179.6 205.1h0M287.5 205.1h0M316.9 205.1h0M253.2 213.7h0M282.6 213.7h0M302.2 213.7h0M331.7 213.7h0M341.5 213.7h0M287.5 222.2h0M356.2 222.2h0M385.6 222.2h0M415 222.2h0M351.3 230.7h0M400.3 247.8h0M410.1 247.8h0M518 247.8h0M483.7 256.4h0M493.5 256.4h0M523 256.4h0M439.6 264.9h0M449.4 264.9h0M478.8 264.9h0M488.6 264.9h0M508.2 264.9h0M454.3 273.4h0M464.1 273.4h0M493.5 273.4h0M503.3 273.4h0M263 282h0M316.9 290.5h0M483.7 290.5h0M292.4 299h0M312 299h0M488.6 299h0M287.5 307.6h0M356.2 307.6h0M473.9 307.6h0M493.5 307.6h0M370.9 316.1h0M518 316.1h0M527.9 316.1h0M493.5 324.7h0M272.8 333.2h0M282.6 333.2h0M312 333.2h0M361.1 333.2h0M419.9 333.2h0M518 333.2h0M287.5 341.7h0M346.4 341.7h0M366 341.7h0M415 341.7h0M503.3 341.7h0M253.2 350.3h0M302.2 350.3h0M321.9 350.3h0M400.3 350.3h0M228.7 358.8h0M356.2 358.8h0M375.8 358.8h0M424.9 358.8h0M513.1 358.8h0M523 358.8h0M400.3 367.3h0M449.4 367.3h0M415 375.9h0M444.5 375.9h0M503.3 375.9h0M523 375.9h0M542.6 375.9h0M429.8 384.4h0M508.2 384.4h0M557.3 384.4h0M567.1 384.4h0M444.5 392.9h0M410.1 401.5h0M508.2 401.5h0M542.6 410h0M518 418.6h0M527.9 418.6h0M547.5 418.6h0M557.3 418.6h0M596.5 418.6h0M228.7 427.1h0M532.8 427.1h0M194.3 435.6h0M527.9 435.6h0M547.5 435.6h0M557.3 435.6h0M464.1 444.2h0M523 444.2h0M454.3 461.2h0M488.6 469.8h0M508.2 469.8h0M483.7 478.3h0M493.5 478.3h0M513.1 478.3h0M532.8 478.3h0M478.8 486.9h0M464.1 495.4h0M532.8 495.4h0M194.3 503.9h0M459.2 503.9h0M444.5 512.5h0M464.1 512.5h0M532.8 512.5h0M424.9 563.7h0M464.1 563.7h0M473.9 563.7h0M410.1 572.2h0M488.6 572.2h0M493.5 580.8h0M552.4 580.8h0M498.4 589.3h0M508.2 589.3h0M493.5 597.8h0M542.6 597.8h0M552.4 597.8h0M478.8 606.4h0M498.4 606.4h0M508.2 606.4h0M527.9 606.4h0M174.7 623.4h0M478.8 623.4h0M537.7 623.4h0M341.5 640.5h0M469 640.5h0M179.6 649.1h0M189.4 649.1h0M204.1 657.6h0M331.7 657.6h0M434.7 666.1h0M164.9 674.7h0M174.7 674.7h0M213.9 674.7h0M321.9 674.7h0M469 674.7h0M179.6 683.2h0M174.7 691.7h0M184.5 691.7h0M233.6 691.7h0M243.4 691.7h0M263 691.7h0M238.5 700.3h0M287.5 700.3h0M272.8 708.8h0M282.6 725.9h0"/>
<path stroke="#f8f3ff" d="M238.5 171h0M189.4 188.1h0M213.9 196.6h0M253.2 196.6h0M341.5 196.6h0M228.7 205.1h0M258.1 222.2h0M297.3 222.2h0M316.9 222.2h0M346.4 222.2h0M410.1 230.7h0M375.8 239.3h0M405.2 239.3h0M429.8 264.9h0M459.2 264.9h0M258.1 273.4h0M297.3 273.4h0M316.9 273.4h0M356.2 273.4h0M434.7 273.4h0M483.7 273.4h0M312 282h0M331.7 282h0M370.9 282h0M380.7 282h0M459.2 282h0M267.9 290.5h0M326.8 290.5h0M346.4 290.5h0M395.4 290.5h0M473.9 290.5h0M272.8 299h0M380.7 299h0M400.3 299h0M478.8 299h0M238.5 307.6h0M248.3 307.6h0M258.1 307.6h0M297.3 307.6h0M307.1 307.6h0M326.8 307.6h0M395.4 307.6h0M405.2 307.6h0M415 307.6h0M213.9 316.1h0M223.8 316.1h0M233.6 316.1h0M312 316.1h0M361.1 316.1h0M390.5 316.1h0M400.3 316.1h0M478.8 316.1h0M179.6 324.7h0M218.8 324.7h0M228.7 324.7h0M248.3 324.7h0M277.7 324.7h0M307.1 324.7h0M336.6 324.7h0M346.4 324.7h0M366 324.7h0M415 324.7h0M503.3 324.7h0M513.1 324.7h0M184.5 333.2h0M194.3 333.2h0M204.1 333.2h0M331.7 333.2h0M410.1 333.2h0M488.6 333.2h0M498.4 333.2h0M218.8 341.7h0M228.7 341.7h0M248.3 341.7h0M258.1 341.7h0M297.3 341.7h0M493.5 341.7h0M513.1 341.7h0M213.9 350.3h0M233.6 350.3h0M272.8 350.3h0M292.4 350.3h0M312 350.3h0M351.3 350.3h0M370.9 350.3h0M380.7 350.3h0M410.1 350.3h0M429.8 350.3h0M179.6 358.8h0M346.4 358.8h0M415 358.8h0M380.7 367.3h0M527.9 367.3h0M537.7 367.3h0M405.2 375.9h0M434.7 375.9h0M552.4 375.9h0M449.4 384.4h0M459.2 384.4h0M518 384.4h0M527.9 384.4h0M439.6 401.5h0M449.4 401.5h0M434.7 410h0M523 410h0M523 427.1h0M184.5 452.7h0M341.5 452.7h0M488.6 452.7h0M498.4 452.7h0M518 452.7h0M557.3 452.7h0M493.5 461.2h0M523 461.2h0M532.8 461.2h0M527.9 469.8h0M277.7 495.4h0M473.9 495.4h0M542.6 495.4h0M184.5 503.9h0M439.6 503.9h0M174.7 538.1h0M429.8 538.1h0M415 563.7h0M366 614.9h0M361.1 623.4h0M169.8 632h0M483.7 632h0M449.4 640.5h0M238.5 649.1h0M248.3 649.1h0M326.8 649.1h0M336.6 649.1h0M169.8 666.1h0M218.8 666.1h0M228.7 666.1h0M326.8 666.1h0M184.5 674.7h0M204.1 674.7h0M233.6 674.7h0M209 683.2h0M238.5 683.2h0M258.1 683.2h0M307.1 683.2h0M316.9 683.2h0"/>
<path stroke="#ffffff" d="M223.8 179.5h0M218.8 188.1h0M184.5 196.6h0M223.8 196.6h0M233.6 196.6h0M243.4 196.6h0M189.4 205.1h0M238.5 205.1h0M248.3 205.1h0M307.1 222.2h0M272.8 230.7h0M292.4 230.7h0M321.9 230.7h0M341.5 230.7h0M390.5 247.8h0M449.4 247.8h0M292.4 264.9h0M336.6 273.4h0M282.6 282h0M292.4 282h0M449.4 282h0M488.6 282h0M248.3 290.5h0M277.7 290.5h0M287.5 290.5h0M307.1 290.5h0M454.3 290.5h0M253.2 299h0M321.9 299h0M331.7 299h0M390.5 299h0M410.1 299h0M469 299h0M316.9 307.6h0M346.4 307.6h0M375.8 307.6h0M204.1 316.1h0M243.4 316.1h0M272.8 316.1h0M292.4 316.1h0M380.7 316.1h0M410.1 316.1h0M419.9 316.1h0M469 316.1h0M189.4 324.7h0M209 324.7h0M258.1 324.7h0M316.9 324.7h0M326.8 324.7h0M395.4 324.7h0M405.2 324.7h0M483.7 324.7h0M233.6 333.2h0M253.2 333.2h0M292.4 333.2h0M390.5 333.2h0M429.8 333.2h0M199.2 341.7h0M209 341.7h0M385.6 341.7h0M395.4 341.7h0M424.9 341.7h0M444.5 341.7h0M194.3 350.3h0M204.1 350.3h0M223.8 350.3h0M331.7 350.3h0M361.1 350.3h0M419.9 350.3h0M498.4 350.3h0M508.2 350.3h0M248.3 358.8h0M277.7 358.8h0M287.5 358.8h0M336.6 358.8h0M385.6 358.8h0M395.4 358.8h0M390.5 367.3h0M410.1 367.3h0M419.9 367.3h0M429.8 367.3h0M498.4 367.3h0M518 367.3h0M395.4 375.9h0M513.1 375.9h0M532.8 375.9h0M390.5 384.4h0M400.3 384.4h0M395.4 392.9h0M424.9 392.9h0M434.7 392.9h0M454.3 392.9h0M523 392.9h0M400.3 401.5h0M419.9 401.5h0M179.6 410h0M415 410h0M424.9 410h0M444.5 410h0M513.1 410h0M513.1 427.1h0M184.5 435.6h0M508.2 435.6h0M518 435.6h0M169.8 444.2h0M248.3 444.2h0M454.3 444.2h0M243.4 452.7h0M537.7 452.7h0M498.4 469.8h0M537.7 469.8h0M189.4 495.4h0M523 495.4h0M213.9 503.9h0M527.9 503.9h0M169.8 512.5h0M223.8 521h0M243.4 521h0M424.9 546.6h0M169.8 563.7h0M390.5 589.3h0M503.3 597.8h0M169.8 614.9h0M174.7 640.5h0M228.7 649.1h0M174.7 657.6h0M194.3 657.6h0M179.6 666.1h0M209 666.1h0M316.9 666.1h0M248.3 683.2h0M292.4 691.7h0M277.7 700.3h0"/>
<path stroke="#fff5f2" d="M199.2 188.1h0M209 188.1h0M194.3 196.6h0M204.1 196.6h0M218.8 205.1h0M263 230.7h0M312 230.7h0M400.3 230.7h0M302.2 264.9h0M312 264.9h0M419.9 264.9h0M307.1 273.4h0M321.9 282h0M361.1 282h0M297.3 290.5h0M336.6 290.5h0M366 290.5h0M385.6 290.5h0M263 299h0M282.6 299h0M385.6 307.6h0M253.2 316.1h0M263 316.1h0M282.6 316.1h0M331.7 316.1h0M341.5 316.1h0M267.9 324.7h0M385.6 324.7h0M424.9 324.7h0M213.9 333.2h0M243.4 333.2h0M238.5 341.7h0M434.7 341.7h0M390.5 350.3h0M189.4 358.8h0M218.8 358.8h0M267.9 358.8h0M307.1 358.8h0M370.9 367.3h0M336.6 375.9h0M385.6 375.9h0M454.3 375.9h0M410.1 384.4h0M419.9 384.4h0M209 392.9h0M405.2 392.9h0M272.8 401.5h0M429.8 401.5h0M518 401.5h0M454.3 410h0M508.2 418.6h0M238.5 427.1h0M503.3 427.1h0M213.9 435.6h0M223.8 435.6h0M312 435.6h0M513.1 444.2h0M562.2 444.2h0M302.2 452.7h0M321.9 452.7h0M449.4 452.7h0M258.1 461.2h0M464.1 461.2h0M503.3 461.2h0M184.5 469.8h0M331.7 469.8h0M179.6 478.3h0M464.1 478.3h0M174.7 486.9h0M184.5 486.9h0M204.1 486.9h0M213.9 486.9h0M312 486.9h0M527.9 486.9h0M267.9 495.4h0M204.1 503.9h0M282.6 503.9h0M292.4 503.9h0M228.7 512.5h0M184.5 521h0M189.4 529.5h0M277.7 529.5h0M179.6 546.6h0M174.7 555.2h0M302.2 555.2h0M419.9 555.2h0M199.2 580.8h0M395.4 580.8h0M194.3 589.3h0M213.9 640.5h0M199.2 649.1h0M223.8 657.6h0M248.3 666.1h0M223.8 674.7h0M312 674.7h0M267.9 683.2h0M287.5 683.2h0M272.8 691.7h0M282.6 691.7h0M302.2 691.7h0"/>
<path stroke="#ffece5" d="M209 205.1h0M223.8 213.7h0M282.6 230.7h0M302.2 230.7h0M331.7 230.7h0M366 239.3h0M189.4 256.4h0M272.8 264.9h0M282.6 264.9h0M346.4 273.4h0M366 273.4h0M272.8 282h0M302.2 282h0M375.8 290.5h0M464.1 290.5h0M243.4 299h0M459.2 299h0M351.3 316.1h0M238.5 324.7h0M287.5 324.7h0M473.9 324.7h0M380.7 333.2h0M405.2 341.7h0M209 358.8h0M316.9 358.8h0M326.8 358.8h0M434.7 358.8h0M444.5 358.8h0M493.5 358.8h0M297.3 375.9h0M184.5 384.4h0M204.1 384.4h0M253.2 384.4h0M361.1 384.4h0M326.8 392.9h0M336.6 392.9h0M366 392.9h0M415 392.9h0M223.8 401.5h0M263 401.5h0M302.2 401.5h0M361.1 401.5h0M459.2 401.5h0M209 410h0M366 410h0M464.1 410h0M194.3 418.6h0M321.9 418.6h0M174.7 435.6h0M243.4 435.6h0M459.2 435.6h0M179.6 444.2h0M218.8 444.2h0M297.3 444.2h0M253.2 452.7h0M292.4 452.7h0M331.7 452.7h0M351.3 452.7h0M361.1 452.7h0M469 452.7h0M238.5 461.2h0M321.9 469.8h0M287.5 478.3h0M321.9 486.9h0M199.2 495.4h0M209 495.4h0M174.7 503.9h0M179.6 512.5h0M199.2 512.5h0M209 512.5h0M267.9 512.5h0M434.7 512.5h0M204.1 521h0M429.8 521h0M204.1 555.2h0M174.7 606.4h0M184.5 606.4h0M179.6 614.9h0M199.2 614.9h0M194.3 623.4h0M179.6 632h0M189.4 632h0M199.2 632h0M184.5 640.5h0M194.3 640.5h0M272.8 640.5h0M282.6 640.5h0M331.7 640.5h0M258.1 649.1h0M287.5 649.1h0M297.3 649.1h0M233.6 657.6h0M272.8 657.6h0M312 657.6h0M321.9 657.6h0M253.2 674.7h0M263 674.7h0"/>
<path stroke="#ffe2d8" d="M213.9 213.7h0M248.3 222.2h0M179.6 256.4h0M321.9 264.9h0M331.7 264.9h0M169.8 273.4h0M267.9 273.4h0M277.7 273.4h0M287.5 273.4h0M326.8 273.4h0M243.4 282h0M351.3 282h0M390.5 282h0M439.6 282h0M356.2 290.5h0M351.3 299h0M361.1 299h0M370.9 299h0M267.9 307.6h0M277.7 307.6h0M336.6 307.6h0M464.1 307.6h0M434.7 324.7h0M400.3 333.2h0M439.6 333.2h0M478.8 333.2h0M189.4 341.7h0M439.6 350.3h0M488.6 350.3h0M199.2 358.8h0M258.1 358.8h0M361.1 367.3h0M189.4 375.9h0M209 375.9h0M267.9 375.9h0M424.9 375.9h0M287.5 392.9h0M503.3 392.9h0M184.5 401.5h0M341.5 401.5h0M351.3 401.5h0M380.7 401.5h0M189.4 410h0M199.2 410h0M405.2 410h0M503.3 410h0M184.5 418.6h0M223.8 418.6h0M243.4 418.6h0M302.2 418.6h0M361.1 418.6h0M390.5 418.6h0M209 427.1h0M287.5 427.1h0M366 427.1h0M263 435.6h0M272.8 435.6h0M292.4 435.6h0M189.4 444.2h0M267.9 444.2h0M346.4 444.2h0M282.6 452.7h0M307.1 461.2h0M336.6 461.2h0M346.4 461.2h0M483.7 461.2h0M513.1 461.2h0M341.5 469.8h0M478.8 469.8h0M307.1 478.3h0M473.9 478.3h0M272.8 486.9h0M459.2 486.9h0M469 486.9h0M179.6 495.4h0M228.7 495.4h0M258.1 495.4h0M326.8 495.4h0M253.2 503.9h0M189.4 512.5h0M238.5 512.5h0M248.3 512.5h0M258.1 512.5h0M213.9 521h0M263 521h0M272.8 521h0M199.2 529.5h0M218.8 529.5h0M228.7 529.5h0M248.3 529.5h0M336.6 529.5h0M424.9 529.5h0M184.5 538.1h0M223.8 538.1h0M331.7 538.1h0M336.6 546.6h0M292.4 572.2h0M321.9 572.2h0M400.3 572.2h0M179.6 580.8h0M307.1 580.8h0M169.8 597.8h0M189.4 597.8h0M267.9 614.9h0M184.5 623.4h0M213.9 623.4h0M218.8 632h0M228.7 632h0M204.1 640.5h0M218.8 649.1h0M277.7 649.1h0M316.9 649.1h0M213.9 657.6h0M243.4 657.6h0M253.2 657.6h0M292.4 657.6h0M238.5 666.1h0M258.1 666.1h0M277.7 683.2h0M297.3 683.2h0"/>
<path stroke="#ffd9cb" d="M184.5 213.7h0M243.4 213.7h0M253.2 230.7h0M405.2 256.4h0M184.5 264.9h0M263 264.9h0M341.5 264.9h0M405.2 290.5h0M341.5 299h0M366 307.6h0M429.8 316.1h0M238.5 375.9h0M263 384.4h0M321.9 384.4h0M351.3 384.4h0M258.1 392.9h0M253.2 401.5h0M282.6 401.5h0M321.9 401.5h0M307.1 410h0M346.4 410h0M253.2 418.6h0M292.4 418.6h0M341.5 418.6h0M179.6 427.1h0M199.2 427.1h0M307.1 427.1h0M316.9 427.1h0M375.8 427.1h0M385.6 427.1h0M395.4 427.1h0M498.4 435.6h0M228.7 444.2h0M287.5 444.2h0M174.7 452.7h0M233.6 452.7h0M272.8 452.7h0M312 452.7h0M478.8 452.7h0M179.6 461.2h0M228.7 461.2h0M287.5 461.2h0M316.9 461.2h0M233.6 469.8h0M292.4 469.8h0M361.1 469.8h0M518 469.8h0M209 478.3h0M228.7 478.3h0M267.9 478.3h0M297.3 478.3h0M523 478.3h0M243.4 486.9h0M253.2 486.9h0M263 486.9h0M282.6 486.9h0M439.6 486.9h0M336.6 495.4h0M351.3 503.9h0M218.8 512.5h0M277.7 512.5h0M297.3 512.5h0M174.7 521h0M233.6 521h0M292.4 521h0M179.6 529.5h0M238.5 529.5h0M204.1 538.1h0M238.5 546.6h0M307.1 546.6h0M179.6 563.7h0M189.4 563.7h0M297.3 563.7h0M405.2 563.7h0M174.7 572.2h0M184.5 572.2h0M302.2 572.2h0M189.4 580.8h0M385.6 580.8h0M282.6 589.3h0M380.7 589.3h0M179.6 597.8h0M233.6 623.4h0M238.5 632h0M307.1 632h0M233.6 640.5h0M243.4 640.5h0M312 640.5h0M209 649.1h0M267.9 649.1h0M263 657.6h0M282.6 657.6h0M302.2 657.6h0M287.5 666.1h0M297.3 666.1h0M282.6 674.7h0M292.4 674.7h0"/>
<path stroke="#ffcfbf" d="M194.3 213.7h0M204.1 213.7h0M179.6 222.2h0M189.4 222.2h0M179.6 239.3h0M356.2 239.3h0M248.3 273.4h0M375.8 273.4h0M449.4 350.3h0M248.3 375.9h0M277.7 375.9h0M316.9 375.9h0M194.3 384.4h0M223.8 384.4h0M233.6 384.4h0M282.6 384.4h0M331.7 384.4h0M341.5 384.4h0M189.4 392.9h0M218.8 392.9h0M228.7 392.9h0M248.3 392.9h0M267.9 392.9h0M297.3 392.9h0M307.1 392.9h0M346.4 392.9h0M233.6 401.5h0M243.4 401.5h0M312 401.5h0M331.7 401.5h0M228.7 410h0M238.5 410h0M258.1 410h0M287.5 410h0M204.1 418.6h0M282.6 418.6h0M380.7 418.6h0M321.9 435.6h0M400.3 435.6h0M469 435.6h0M238.5 444.2h0M316.9 444.2h0M493.5 444.2h0M503.3 444.2h0M508.2 452.7h0M277.7 461.2h0M356.2 461.2h0M351.3 469.8h0M469 469.8h0M218.8 478.3h0M248.3 478.3h0M277.7 478.3h0M316.9 478.3h0M326.8 478.3h0M356.2 478.3h0M331.7 486.9h0M380.7 486.9h0M248.3 495.4h0M297.3 495.4h0M243.4 503.9h0M263 503.9h0M321.9 503.9h0M287.5 512.5h0M336.6 512.5h0M194.3 521h0M253.2 521h0M243.4 538.1h0M321.9 538.1h0M199.2 546.6h0M218.8 546.6h0M297.3 546.6h0M184.5 555.2h0M331.7 555.2h0M199.2 563.7h0M307.1 563.7h0M204.1 572.2h0M312 572.2h0M169.8 580.8h0M287.5 580.8h0M297.3 580.8h0M184.5 589.3h0M213.9 589.3h0M238.5 597.8h0M194.3 606.4h0M204.1 606.4h0M302.2 606.4h0M370.9 606.4h0M189.4 614.9h0M253.2 623.4h0M272.8 623.4h0M248.3 632h0M258.1 632h0M277.7 632h0M297.3 632h0M223.8 640.5h0M267.9 666.1h0M243.4 674.7h0M272.8 674.7h0M302.2 674.7h0"/>
<path stroke="#ffc6b2" d="M233.6 213.7h0M238.5 222.2h0M204.1 230.7h0M199.2 256.4h0M253.2 264.9h0M233.6 299h0M424.9 307.6h0M483.7 341.7h0M454.3 358.8h0M258.1 375.9h0M302.2 384.4h0M312 384.4h0M498.4 384.4h0M238.5 392.9h0M218.8 410h0M277.7 410h0M356.2 410h0M385.6 410h0M263 418.6h0M272.8 418.6h0M331.7 418.6h0M449.4 418.6h0M459.2 418.6h0M258.1 427.1h0M326.8 427.1h0M204.1 435.6h0M341.5 435.6h0M449.4 435.6h0M326.8 444.2h0M473.9 444.2h0M483.7 444.2h0M473.9 461.2h0M243.4 469.8h0M390.5 469.8h0M400.3 469.8h0M189.4 478.3h0M258.1 478.3h0M346.4 478.3h0M292.4 486.9h0M390.5 486.9h0M218.8 495.4h0M238.5 495.4h0M346.4 495.4h0M385.6 495.4h0M233.6 503.9h0M302.2 503.9h0M209 529.5h0M194.3 538.1h0M213.9 538.1h0M253.2 538.1h0M209 546.6h0M326.8 546.6h0M194.3 555.2h0M213.9 555.2h0M233.6 555.2h0M292.4 555.2h0M287.5 563.7h0M194.3 572.2h0M174.7 589.3h0M243.4 589.3h0M292.4 589.3h0M302.2 589.3h0M258.1 597.8h0M375.8 597.8h0M263 606.4h0M223.8 623.4h0M302.2 623.4h0M267.9 632h0M316.9 632h0M346.4 632h0M263 640.5h0M292.4 640.5h0M321.9 640.5h0M277.7 666.1h0M307.1 666.1h0"/>
<path stroke="#ffbca6" d="M199.2 222.2h0M218.8 222.2h0M228.7 222.2h0M184.5 230.7h0M223.8 230.7h0M233.6 230.7h0M184.5 247.8h0M380.7 247.8h0M424.9 273.4h0M238.5 290.5h0M228.7 307.6h0M351.3 367.3h0M459.2 367.3h0M199.2 375.9h0M307.1 375.9h0M375.8 375.9h0M493.5 375.9h0M243.4 384.4h0M272.8 384.4h0M292.4 384.4h0M380.7 384.4h0M277.7 392.9h0M316.9 392.9h0M356.2 392.9h0M464.1 392.9h0M204.1 401.5h0M213.9 401.5h0M370.9 401.5h0M375.8 410h0M233.6 418.6h0M429.8 418.6h0M189.4 427.1h0M218.8 427.1h0M248.3 427.1h0M233.6 435.6h0M302.2 435.6h0M277.7 444.2h0M307.1 444.2h0M336.6 444.2h0M223.8 452.7h0M263 452.7h0M189.4 461.2h0M218.8 461.2h0M248.3 461.2h0M297.3 461.2h0M326.8 461.2h0M366 461.2h0M444.5 461.2h0M174.7 469.8h0M272.8 469.8h0M312 469.8h0M199.2 478.3h0M238.5 478.3h0M194.3 486.9h0M223.8 486.9h0M233.6 486.9h0M341.5 486.9h0M307.1 495.4h0M316.9 495.4h0M356.2 495.4h0M223.8 503.9h0M312 503.9h0M307.1 512.5h0M316.9 512.5h0M282.6 521h0M258.1 529.5h0M346.4 529.5h0M228.7 546.6h0M248.3 546.6h0M267.9 546.6h0M223.8 555.2h0M277.7 563.7h0M267.9 580.8h0M277.7 580.8h0M204.1 589.3h0M272.8 589.3h0M248.3 597.8h0M287.5 597.8h0M307.1 597.8h0M209 614.9h0M238.5 614.9h0M258.1 614.9h0M287.5 632h0M253.2 640.5h0M302.2 640.5h0"/>
<path stroke="#ffb299" d="M209 222.2h0M189.4 239.3h0M199.2 239.3h0M209 239.3h0M204.1 247.8h0M243.4 367.3h0M282.6 367.3h0M218.8 375.9h0M287.5 375.9h0M326.8 375.9h0M213.9 384.4h0M199.2 392.9h0M194.3 401.5h0M316.9 410h0M326.8 410h0M336.6 410h0M370.9 418.6h0M439.6 418.6h0M277.7 427.1h0M356.2 427.1h0M282.6 435.6h0M331.7 435.6h0M351.3 435.6h0M380.7 435.6h0M258.1 444.2h0M385.6 444.2h0M213.9 452.7h0M267.9 461.2h0M194.3 469.8h0M223.8 469.8h0M263 469.8h0M282.6 469.8h0M351.3 486.9h0M287.5 495.4h0M375.8 495.4h0M272.8 503.9h0M341.5 503.9h0M326.8 512.5h0M331.7 521h0M341.5 521h0M267.9 529.5h0M272.8 538.1h0M419.9 538.1h0M243.4 555.2h0M253.2 555.2h0M316.9 563.7h0M326.8 563.7h0M218.8 580.8h0M238.5 580.8h0M253.2 589.3h0M263 589.3h0M312 589.3h0M209 597.8h0M297.3 597.8h0M213.9 606.4h0M223.8 606.4h0M233.6 606.4h0M243.4 606.4h0M282.6 606.4h0M292.4 606.4h0M218.8 614.9h0M248.3 614.9h0M297.3 614.9h0M204.1 623.4h0M292.4 623.4h0M307.1 649.1h0"/>
<path stroke="#ffa88d" d="M194.3 230.7h0M213.9 230.7h0M243.4 230.7h0M228.7 239.3h0M238.5 239.3h0M194.3 247.8h0M351.3 264.9h0M194.3 316.1h0M204.1 367.3h0M223.8 367.3h0M263 367.3h0M331.7 367.3h0M228.7 375.9h0M346.4 375.9h0M375.8 392.9h0M292.4 401.5h0M498.4 401.5h0M312 418.6h0M351.3 418.6h0M297.3 427.1h0M464.1 427.1h0M370.9 435.6h0M375.8 444.2h0M395.4 444.2h0M395.4 461.2h0M213.9 469.8h0M253.2 469.8h0M302.2 469.8h0M336.6 478.3h0M395.4 478.3h0M302.2 486.9h0M331.7 503.9h0M356.2 512.5h0M316.9 529.5h0M233.6 538.1h0M341.5 538.1h0M277.7 546.6h0M316.9 546.6h0M321.9 555.2h0M238.5 563.7h0M233.6 572.2h0M282.6 572.2h0M316.9 580.8h0M199.2 597.8h0M267.9 597.8h0M253.2 606.4h0M228.7 614.9h0M277.7 614.9h0M351.3 623.4h0M326.8 632h0"/>
<path stroke="#ff9e81" d="M218.8 239.3h0M346.4 239.3h0M213.9 247.8h0M209 256.4h0M395.4 256.4h0M218.8 307.6h0M184.5 316.1h0M253.2 367.3h0M302.2 367.3h0M341.5 367.3h0M356.2 375.9h0M370.9 384.4h0M385.6 392.9h0M267.9 410h0M395.4 410h0M410.1 418.6h0M419.9 418.6h0M267.9 427.1h0M336.6 427.1h0M346.4 427.1h0M253.2 435.6h0M390.5 435.6h0M356.2 444.2h0M405.2 444.2h0M400.3 452.7h0M439.6 469.8h0M385.6 478.3h0M361.1 486.9h0M434.7 495.4h0M370.9 503.9h0M321.9 521h0M287.5 529.5h0M297.3 529.5h0M326.8 529.5h0M263 538.1h0M282.6 538.1h0M292.4 538.1h0M258.1 546.6h0M312 555.2h0M228.7 563.7h0M213.9 572.2h0M223.8 572.2h0M390.5 572.2h0M209 580.8h0M272.8 606.4h0M287.5 614.9h0M263 623.4h0"/>
<path stroke="#ff9475" d="M419.9 299h0M179.6 307.6h0M184.5 367.3h0M233.6 367.3h0M272.8 367.3h0M292.4 367.3h0M312 367.3h0M390.5 401.5h0M297.3 410h0M213.9 418.6h0M400.3 418.6h0M498.4 418.6h0M361.1 435.6h0M478.8 435.6h0M395.4 495.4h0M302.2 521h0M312 521h0M307.1 529.5h0M302.2 538.1h0M287.5 546.6h0M282.6 555.2h0M209 563.7h0M218.8 563.7h0M253.2 572.2h0M258.1 580.8h0M228.7 597.8h0M282.6 623.4h0"/>
<path stroke="#ff8969" d="M223.8 247.8h0M297.3 256.4h0M194.3 264.9h0M410.1 264.9h0M233.6 282h0M400.3 282h0M444.5 290.5h0M199.2 307.6h0M209 307.6h0M321.9 367.3h0M366 375.9h0M464.1 375.9h0M493.5 392.9h0M469 401.5h0M469 418.6h0M194.3 452.7h0M380.7 452.7h0M410.1 452.7h0M385.6 461.2h0M405.2 461.2h0M380.7 469.8h0M366 495.4h0M312 538.1h0M415 546.6h0M272.8 555.2h0M410.1 555.2h0M272.8 572.2h0M331.7 572.2h0M228.7 580.8h0M248.3 580.8h0M326.8 580.8h0M307.1 614.9h0M356.2 614.9h0M243.4 623.4h0M321.9 623.4h0"/>
<path stroke="#ff7e5e" d="M326.8 239.3h0M287.5 256.4h0M243.4 264.9h0M361.1 264.9h0M385.6 273.4h0M429.8 282h0M444.5 324.7h0M194.3 367.3h0M213.9 367.3h0M488.6 367.3h0M454.3 427.1h0M473.9 427.1h0M483.7 427.1h0M493.5 427.1h0M209 444.2h0M204.1 452.7h0M390.5 452.7h0M199.2 461.2h0M375.8 461.2h0M375.8 478.3h0M405.2 478.3h0M361.1 503.9h0M346.4 512.5h0M263 555.2h0M248.3 563.7h0M218.8 597.8h0M277.7 597.8h0M312 623.4h0"/>
<path stroke="#ff7352" d="M248.3 239.3h0M307.1 239.3h0M336.6 239.3h0M233.6 247.8h0M385.6 256.4h0M223.8 264.9h0M370.9 264.9h0M179.6 273.4h0M199.2 273.4h0M238.5 273.4h0M174.7 282h0M199.2 290.5h0M464.1 324.7h0M449.4 333.2h0M483.7 358.8h0M415 427.1h0M439.6 435.6h0M444.5 444.2h0M410.1 469.8h0M429.8 469.8h0M370.9 486.9h0M400.3 486.9h0M375.8 512.5h0M351.3 521h0M361.1 521h0M351.3 538.1h0M341.5 555.2h0M258.1 563.7h0M336.6 563.7h0M243.4 572.2h0M263 572.2h0M321.9 589.3h0M336.6 632h0"/>
<path stroke="#ff6846" d="M267.9 239.3h0M316.9 239.3h0M243.4 247.8h0M302.2 247.8h0M370.9 247.8h0M218.8 256.4h0M238.5 256.4h0M307.1 256.4h0M316.9 256.4h0M336.6 256.4h0M375.8 256.4h0M204.1 264.9h0M213.9 264.9h0M233.6 264.9h0M380.7 264.9h0M204.1 282h0M209 290.5h0M228.7 290.5h0M204.1 299h0M223.8 299h0M449.4 299h0M454.3 307.6h0M459.2 316.1h0M469 333.2h0M454.3 341.7h0M464.1 341.7h0M473.9 341.7h0M478.8 350.3h0M469 384.4h0M488.6 384.4h0M473.9 410h0M444.5 427.1h0M488.6 435.6h0M199.2 444.2h0M366 444.2h0M415 461.2h0M204.1 469.8h0M370.9 469.8h0M434.7 478.3h0M429.8 503.9h0M356.2 529.5h0M415 529.5h0M375.8 546.6h0M267.9 563.7h0M341.5 572.2h0M223.8 589.3h0M233.6 589.3h0M316.9 597.8h0M312 606.4h0"/>
<path stroke="#ff5b3a" d="M258.1 239.3h0M287.5 239.3h0M297.3 239.3h0M312 247.8h0M321.9 247.8h0M341.5 247.8h0M228.7 256.4h0M326.8 256.4h0M366 256.4h0M209 273.4h0M218.8 273.4h0M228.7 273.4h0M395.4 273.4h0M184.5 282h0M194.3 282h0M213.9 282h0M179.6 290.5h0M189.4 290.5h0M218.8 290.5h0M415 290.5h0M184.5 299h0M213.9 299h0M454.3 324.7h0M459.2 333.2h0M459.2 350.3h0M464.1 358.8h0M478.8 367.3h0M493.5 410h0M478.8 418.6h0M405.2 427.1h0M424.9 427.1h0M410.1 435.6h0M415 444.2h0M370.9 452.7h0M366 478.3h0M424.9 478.3h0M380.7 503.9h0M390.5 503.9h0M385.6 512.5h0M395.4 512.5h0M415 512.5h0M400.3 521h0M395.4 529.5h0M361.1 538.1h0M395.4 546.6h0M351.3 555.2h0M370.9 555.2h0M395.4 563.7h0M366 580.8h0M331.7 589.3h0M336.6 597.8h0"/>
<path stroke="#ff4d2e" d="M277.7 239.3h0M292.4 247.8h0M248.3 256.4h0M258.1 256.4h0M277.7 256.4h0M356.2 256.4h0M390.5 264.9h0M189.4 273.4h0M415 273.4h0M419.9 282h0M424.9 290.5h0M434.7 290.5h0M429.8 299h0M439.6 299h0M189.4 307.6h0M444.5 307.6h0M449.4 316.1h0M469 350.3h0M473.9 358.8h0M473.9 375.9h0M483.7 375.9h0M419.9 435.6h0M429.8 435.6h0M424.9 444.2h0M439.6 452.7h0M209 461.2h0M424.9 461.2h0M434.7 461.2h0M419.9 486.9h0M415 495.4h0M424.9 495.4h0M400.3 503.9h0M366 512.5h0M405.2 512.5h0M370.9 521h0M419.9 521h0M366 529.5h0M390.5 538.1h0M400.3 538.1h0M380.7 555.2h0M390.5 555.2h0M356.2 563.7h0M375.8 563.7h0M351.3 572.2h0M361.1 572.2h0M370.9 572.2h0M336.6 580.8h0M346.4 580.8h0M326.8 597.8h0M356.2 597.8h0M331.7 606.4h0M351.3 606.4h0M361.1 606.4h0M316.9 614.9h0M341.5 623.4h0"/>
<path stroke="#ff3e22" d="M263 247.8h0M282.6 247.8h0M361.1 247.8h0M267.9 256.4h0M346.4 256.4h0M223.8 282h0M410.1 282h0M434.7 307.6h0M439.6 316.1h0M469 367.3h0M473.9 392.9h0M478.8 401.5h0M488.6 401.5h0M488.6 418.6h0M434.7 427.1h0M434.7 444.2h0M419.9 452.7h0M429.8 452.7h0M410.1 486.9h0M405.2 495.4h0M380.7 521h0M390.5 521h0M410.1 521h0M375.8 529.5h0M405.2 529.5h0M346.4 546.6h0M356.2 546.6h0M366 546.6h0M405.2 546.6h0M361.1 555.2h0M400.3 555.2h0M346.4 563.7h0M380.7 572.2h0M375.8 580.8h0M341.5 589.3h0M351.3 589.3h0M370.9 589.3h0M321.9 606.4h0M341.5 606.4h0M326.8 614.9h0M336.6 614.9h0M331.7 623.4h0"/>
<path stroke="#ff2913" d="M253.2 247.8h0M272.8 247.8h0M331.7 247.8h0M351.3 247.8h0M400.3 264.9h0M194.3 299h0M478.8 384.4h0M483.7 392.9h0M415 478.3h0M410.1 503.9h0M419.9 503.9h0M370.9 538.1h0M380.7 538.1h0M410.1 538.1h0M366 563.7h0M356.2 580.8h0M346.4 597.8h0M366 597.8h0"/>
<path stroke="#ff0000" d="M405.2 273.4h0M483.7 410h0M419.9 469.8h0M429.8 486.9h0M424.9 512.5h0M385.6 529.5h0M385.6 546.6h0M385.6 563.7h0M361.1 589.3h0M346.4 614.9h0"/>
</g></g>
<rect x="1019.0" y="998.3" width="515.3" height="682.7" fill="none" stroke="#333" stroke-width="2.1"/>
<text x="1114.7" y="1727.6" font-size="33.3" text-anchor="middle" fill="#4d4d4d">3000</text>
<text x="1257.3" y="1727.6" font-size="33.3" text-anchor="middle" fill="#4d4d4d">5000</text>
<text x="1399.8" y="1727.6" font-size="33.3" text-anchor="middle" fill="#4d4d4d">7000</text>
<text transform="translate(995.2 1117.9) rotate(-90)" font-size="33.3" text-anchor="middle" fill="#4d4d4d">-2500</text>
<text transform="translate(995.2 1295.9) rotate(-90)" font-size="33.3" text-anchor="middle" fill="#4d4d4d">-5000</text>
<text transform="translate(995.2 1473.8) rotate(-90)" font-size="33.3" text-anchor="middle" fill="#4d4d4d">-7500</text>
<text transform="translate(995.2 1651.8) rotate(-90)" font-size="33.3" text-anchor="middle" fill="#4d4d4d">-10000</text>
<path d="M1114.7 1682.0v11.5M1257.3 1682.0v11.5M1399.8 1682.0v11.5M1018.0 1117.9h-11.5M1018.0 1295.9h-11.5M1018.0 1473.8h-11.5M1018.0 1651.8h-11.5" stroke="#333" stroke-width="4.2" fill="none"/>
<text x="1276.7" y="1770.4" font-size="33.3" text-anchor="middle" fill="#000">x coordinates</text>
<text transform="translate(947.3 1339.7) rotate(-90)" font-size="33.3" text-anchor="middle" fill="#000">y coordinates</text>
<rect x="1604.2" y="1160.2" width="71.9" height="359.5" fill="url(#g4)"/>
<text x="1698.7" y="1222.2" font-size="33.3" fill="#000">20</text>
<text x="1698.7" y="1313.5" font-size="33.3" fill="#000">10</text>
<text x="1698.7" y="1404.7" font-size="33.3" fill="#000">0</text>
<text x="1698.7" y="1496.0" font-size="33.3" fill="#000">-10</text>
<path d="M1604.2 1210.3h14.4M1676.1 1210.3h-14.4M1604.2 1301.6h14.4M1676.1 1301.6h-14.4M1604.2 1392.8h14.4M1676.1 1392.8h-14.4M1604.2 1484.1h14.4M1676.1 1484.1h-14.4" stroke="#fff" stroke-width="1.6" fill="none"/>
</g>
<g>
<text x="2184.8" y="962.8" font-size="55" text-anchor="middle" fill="#000">PeripheralGlia</text>
<g transform="translate(1799.20 900.00) scale(1)" fill="none" stroke-linecap="round">
<use href="#o" stroke="#1c1c1c" stroke-width="9.85"/>
<g stroke-width="8.75">
<path stroke="#0000ff" d="M179.6 341.7h0M454.3 461.2h0"/>
<path stroke="#381bff" d="M459.2 452.7h0M449.4 486.9h0"/>
<path stroke="#502bff" d="M263 316.1h0M326.8 683.2h0"/>
<path stroke="#6239ff" d="M326.8 324.7h0M469 435.6h0M449.4 452.7h0M454.3 478.3h0M449.4 503.9h0"/>
<path stroke="#7145ff" d="M464.1 444.2h0M459.2 469.8h0M444.5 478.3h0"/>
<path stroke="#7e52ff" d="M366 324.7h0M473.9 427.1h0M321.9 674.7h0"/>
<path stroke="#8a5dff" d="M321.9 299h0M316.9 307.6h0M459.2 435.6h0M454.3 444.2h0M449.4 469.8h0M444.5 495.4h0M434.7 512.5h0M444.5 512.5h0M272.8 521h0M253.2 691.7h0"/>
<path stroke="#9569ff" d="M326.8 153.9h0M380.7 333.2h0M223.8 367.3h0M228.7 700.3h0M179.6 717.4h0M233.6 725.9h0"/>
<path stroke="#a074ff" d="M321.9 333.2h0M473.9 444.2h0M444.5 461.2h0M454.3 495.4h0M297.3 649.1h0M331.7 674.7h0M277.7 700.3h0M415 700.3h0"/>
<path stroke="#aa80ff" d="M312 264.9h0M336.6 307.6h0M312 316.1h0M380.7 316.1h0M307.1 324.7h0M312 333.2h0M375.8 341.7h0M606.3 572.2h0M282.6 589.3h0M174.7 640.5h0M199.2 649.1h0M312 674.7h0M238.5 717.4h0M184.5 725.9h0M155.1 743h0"/>
<path stroke="#b38bff" d="M331.7 299h0M586.7 299h0M267.9 307.6h0M307.1 307.6h0M297.3 324.7h0M331.7 333.2h0M395.4 358.8h0M204.1 367.3h0M263 367.3h0M459.2 367.3h0M459.2 486.9h0M464.1 495.4h0M439.6 521h0M449.4 521h0M297.3 597.8h0M258.1 614.9h0M297.3 614.9h0M253.2 623.4h0M292.4 623.4h0M179.6 632h0M248.3 632h0M194.3 640.5h0M263 640.5h0M321.9 640.5h0M258.1 649.1h0M184.5 657.6h0M267.9 700.3h0M184.5 708.8h0M218.8 717.4h0M150.2 734.4h0M248.3 734.4h0M164.9 743h0"/>
<path stroke="#bc97ff" d="M366 153.9h0M331.7 162.4h0M552.4 222.2h0M346.4 307.6h0M272.8 316.1h0M336.6 324.7h0M233.6 350.3h0M199.2 358.8h0M439.6 401.5h0M449.4 435.6h0M464.1 461.2h0M307.1 546.6h0M287.5 580.8h0M307.1 580.8h0M218.8 597.8h0M194.3 606.4h0M253.2 606.4h0M312 606.4h0M238.5 614.9h0M189.4 632h0M297.3 632h0M307.1 632h0M184.5 640.5h0M204.1 640.5h0M312 640.5h0M209 649.1h0M287.5 649.1h0M233.6 657.6h0M253.2 657.6h0M292.4 657.6h0M321.9 657.6h0M184.5 674.7h0M169.8 683.2h0M189.4 683.2h0M316.9 683.2h0M233.6 691.7h0M351.3 691.7h0M179.6 700.3h0M199.2 700.3h0M204.1 708.8h0M213.9 708.8h0M228.7 717.4h0M174.7 725.9h0M228.7 734.4h0"/>
<path stroke="#c4a2ff" d="M415 171h0M444.5 171h0M243.4 264.9h0M218.8 290.5h0M297.3 290.5h0M292.4 299h0M277.7 307.6h0M375.8 324.7h0M385.6 324.7h0M263 333.2h0M272.8 333.2h0M282.6 333.2h0M351.3 333.2h0M316.9 341.7h0M223.8 350.3h0M243.4 350.3h0M228.7 358.8h0M415 358.8h0M434.7 358.8h0M243.4 367.3h0M253.2 367.3h0M218.8 375.9h0M611.2 375.9h0M204.1 384.4h0M223.8 384.4h0M253.2 384.4h0M238.5 392.9h0M253.2 418.6h0M400.3 418.6h0M464.1 427.1h0M478.8 435.6h0M297.3 478.3h0M297.3 580.8h0M518 589.3h0M204.1 606.4h0M263 606.4h0M272.8 606.4h0M228.7 614.9h0M307.1 614.9h0M174.7 623.4h0M282.6 623.4h0M341.5 623.4h0M228.7 632h0M258.1 632h0M287.5 632h0M316.9 632h0M164.9 640.5h0M292.4 640.5h0M267.9 649.1h0M277.7 649.1h0M194.3 657.6h0M316.9 666.1h0M164.9 674.7h0M184.5 691.7h0M380.7 691.7h0M410.1 691.7h0M419.9 691.7h0M375.8 700.3h0M199.2 717.4h0M248.3 717.4h0M263 725.9h0M267.9 734.4h0"/>
<path stroke="#ccadff" d="M336.6 153.9h0M321.9 162.4h0M434.7 171h0M233.6 179.5h0M424.9 222.2h0M572 256.4h0M508.2 282h0M263 299h0M282.6 299h0M478.8 299h0M248.3 307.6h0M287.5 307.6h0M282.6 316.1h0M341.5 316.1h0M267.9 324.7h0M316.9 324.7h0M346.4 324.7h0M356.2 324.7h0M292.4 333.2h0M341.5 333.2h0M209 341.7h0M307.1 341.7h0M204.1 350.3h0M209 358.8h0M238.5 358.8h0M444.5 358.8h0M473.9 358.8h0M243.4 384.4h0M449.4 384.4h0M488.6 401.5h0M395.4 410h0M213.9 418.6h0M248.3 427.1h0M366 461.2h0M439.6 486.9h0M606.3 503.9h0M258.1 512.5h0M454.3 512.5h0M253.2 521h0M267.9 529.5h0M287.5 529.5h0M292.4 538.1h0M405.2 546.6h0M400.3 555.2h0M169.8 563.7h0M253.2 572.2h0M272.8 572.2h0M228.7 580.8h0M248.3 597.8h0M277.7 597.8h0M302.2 623.4h0M233.6 640.5h0M302.2 640.5h0M419.9 640.5h0M189.4 649.1h0M228.7 649.1h0M248.3 649.1h0M307.1 649.1h0M263 657.6h0M297.3 666.1h0M336.6 666.1h0M302.2 674.7h0M228.7 683.2h0M277.7 683.2h0M282.6 691.7h0M209 700.3h0M297.3 700.3h0M385.6 700.3h0M233.6 708.8h0M189.4 717.4h0M209 717.4h0M287.5 717.4h0M243.4 725.9h0M209 734.4h0M218.8 734.4h0M238.5 734.4h0M253.2 743h0"/>
<path stroke="#d4b9ff" d="M331.7 145.4h0M316.9 153.9h0M493.5 188.1h0M243.4 196.6h0M498.4 196.6h0M513.1 222.2h0M258.1 256.4h0M307.1 290.5h0M312 299h0M341.5 299h0M326.8 307.6h0M375.8 307.6h0M292.4 316.1h0M331.7 316.1h0M370.9 316.1h0M258.1 324.7h0M253.2 333.2h0M238.5 341.7h0M248.3 341.7h0M336.6 341.7h0M346.4 341.7h0M351.3 350.3h0M356.2 358.8h0M194.3 367.3h0M395.4 375.9h0M189.4 392.9h0M228.7 410h0M238.5 410h0M611.2 410h0M439.6 418.6h0M547.5 418.6h0M380.7 435.6h0M444.5 444.2h0M312 469.8h0M258.1 478.3h0M204.1 486.9h0M439.6 503.9h0M267.9 512.5h0M611.2 512.5h0M204.1 521h0M410.1 521h0M312 555.2h0M361.1 555.2h0M611.2 563.7h0M189.4 580.8h0M277.7 580.8h0M204.1 589.3h0M233.6 589.3h0M272.8 589.3h0M302.2 589.3h0M596.5 589.3h0M238.5 597.8h0M316.9 597.8h0M302.2 606.4h0M179.6 614.9h0M218.8 614.9h0M248.3 614.9h0M326.8 614.9h0M223.8 623.4h0M263 623.4h0M199.2 632h0M213.9 640.5h0M243.4 640.5h0M169.8 649.1h0M179.6 649.1h0M243.4 657.6h0M169.8 666.1h0M258.1 666.1h0M326.8 666.1h0M174.7 674.7h0M243.4 674.7h0M263 674.7h0M307.1 683.2h0M415 683.2h0M213.9 691.7h0M272.8 691.7h0M292.4 691.7h0M189.4 700.3h0M287.5 700.3h0M356.2 700.3h0M434.7 700.3h0M194.3 708.8h0M253.2 725.9h0M223.8 743h0M243.4 743h0"/>
<path stroke="#dcc4ff" d="M419.9 162.4h0M459.2 179.5h0M370.9 196.6h0M449.4 213.7h0M189.4 222.2h0M228.7 222.2h0M552.4 239.3h0M302.2 247.8h0M370.9 247.8h0M395.4 256.4h0M503.3 256.4h0M316.9 273.4h0M209 290.5h0M228.7 290.5h0M508.2 299h0M537.7 299h0M297.3 307.6h0M223.8 316.1h0M596.5 316.1h0M248.3 324.7h0M287.5 324.7h0M493.5 324.7h0M552.4 324.7h0M199.2 341.7h0M277.7 341.7h0M287.5 341.7h0M356.2 341.7h0M263 350.3h0M272.8 350.3h0M341.5 350.3h0M179.6 358.8h0M424.9 358.8h0M213.9 367.3h0M233.6 367.3h0M449.4 367.3h0M199.2 375.9h0M209 375.9h0M238.5 375.9h0M454.3 375.9h0M184.5 384.4h0M209 392.9h0M444.5 392.9h0M444.5 410h0M621.1 410h0M292.4 418.6h0M351.3 418.6h0M370.9 418.6h0M213.9 435.6h0M346.4 461.2h0M415 461.2h0M243.4 469.8h0M277.7 478.3h0M415 478.3h0M174.7 486.9h0M263 486.9h0M429.8 503.9h0M282.6 521h0M218.8 529.5h0M297.3 529.5h0M621.1 529.5h0M287.5 546.6h0M503.3 546.6h0M194.3 555.2h0M218.8 563.7h0M258.1 563.7h0M395.4 563.7h0M405.2 563.7h0M513.1 563.7h0M174.7 572.2h0M243.4 572.2h0M302.2 572.2h0M400.3 572.2h0M410.1 572.2h0M429.8 572.2h0M209 580.8h0M243.4 589.3h0M179.6 597.8h0M228.7 597.8h0M287.5 597.8h0M213.9 606.4h0M223.8 606.4h0M243.4 606.4h0M209 614.9h0M267.9 614.9h0M277.7 614.9h0M405.2 614.9h0M434.7 614.9h0M572 614.9h0M204.1 623.4h0M243.4 623.4h0M272.8 623.4h0M169.8 632h0M209 632h0M415 632h0M223.8 640.5h0M253.2 640.5h0M272.8 640.5h0M380.7 640.5h0M326.8 649.1h0M213.9 657.6h0M302.2 657.6h0M341.5 657.6h0M370.9 657.6h0M179.6 666.1h0M248.3 666.1h0M238.5 683.2h0M174.7 691.7h0M194.3 691.7h0M361.1 691.7h0M248.3 700.3h0M395.4 700.3h0M400.3 708.8h0M429.8 708.8h0M169.8 717.4h0M204.1 725.9h0M223.8 725.9h0M282.6 725.9h0M179.6 734.4h0"/>
<path stroke="#e3d0ff" d="M346.4 153.9h0M380.7 162.4h0M424.9 171h0M449.4 179.5h0M356.2 188.1h0M493.5 205.1h0M204.1 213.7h0M459.2 213.7h0M213.9 230.7h0M439.6 230.7h0M209 239.3h0M444.5 239.3h0M424.9 256.4h0M542.6 256.4h0M562.2 256.4h0M263 264.9h0M179.6 273.4h0M209 273.4h0M213.9 282h0M498.4 282h0M287.5 290.5h0M336.6 290.5h0M302.2 299h0M361.1 299h0M370.9 299h0M321.9 316.1h0M209 324.7h0M395.4 324.7h0M405.2 324.7h0M591.6 324.7h0M302.2 333.2h0M557.3 333.2h0M228.7 341.7h0M331.7 350.3h0M380.7 350.3h0M258.1 358.8h0M267.9 358.8h0M454.3 358.8h0M513.1 358.8h0M429.8 367.3h0M228.7 375.9h0M356.2 375.9h0M366 375.9h0M606.3 384.4h0M218.8 392.9h0M194.3 401.5h0M233.6 401.5h0M449.4 401.5h0M434.7 410h0M483.7 410h0M223.8 418.6h0M272.8 418.6h0M282.6 418.6h0M267.9 427.1h0M307.1 427.1h0M385.6 427.1h0M552.4 427.1h0M243.4 435.6h0M282.6 435.6h0M331.7 435.6h0M277.7 444.2h0M233.6 452.7h0M282.6 452.7h0M616.2 452.7h0M258.1 461.2h0M223.8 469.8h0M321.9 469.8h0M316.9 478.3h0M228.7 495.4h0M218.8 512.5h0M424.9 512.5h0M459.2 521h0M616.2 521h0M179.6 529.5h0M302.2 538.1h0M400.3 538.1h0M410.1 538.1h0M189.4 546.6h0M326.8 546.6h0M375.8 546.6h0M385.6 546.6h0M439.6 555.2h0M248.3 563.7h0M336.6 563.7h0M415 563.7h0M213.9 572.2h0M223.8 572.2h0M263 572.2h0M292.4 572.2h0M238.5 580.8h0M316.9 580.8h0M395.4 580.8h0M169.8 597.8h0M189.4 597.8h0M233.6 606.4h0M331.7 606.4h0M346.4 614.9h0M184.5 623.4h0M449.4 623.4h0M238.5 632h0M277.7 632h0M282.6 640.5h0M341.5 640.5h0M223.8 657.6h0M272.8 657.6h0M429.8 657.6h0M199.2 666.1h0M218.8 666.1h0M267.9 666.1h0M253.2 674.7h0M272.8 674.7h0M282.6 674.7h0M341.5 674.7h0M199.2 683.2h0M209 683.2h0M248.3 683.2h0M287.5 683.2h0M405.2 683.2h0M263 691.7h0M439.6 691.7h0M258.1 700.3h0M405.2 700.3h0M243.4 708.8h0M410.1 708.8h0M199.2 734.4h0M184.5 743h0M233.6 743h0"/>
<path stroke="#ebdcff" d="M307.1 153.9h0M351.3 162.4h0M410.1 162.4h0M238.5 171h0M243.4 179.5h0M292.4 179.5h0M380.7 179.5h0M439.6 179.5h0M366 188.1h0M473.9 188.1h0M341.5 196.6h0M459.2 196.6h0M488.6 196.6h0M218.8 205.1h0M326.8 205.1h0M503.3 205.1h0M523 205.1h0M253.2 213.7h0M547.5 213.7h0M209 222.2h0M238.5 222.2h0M346.4 222.2h0M454.3 222.2h0M493.5 222.2h0M243.4 230.7h0M189.4 239.3h0M228.7 239.3h0M258.1 239.3h0M297.3 239.3h0M424.9 239.3h0M469 247.8h0M508.2 247.8h0M189.4 256.4h0M218.8 256.4h0M238.5 256.4h0M385.6 256.4h0M552.4 256.4h0M253.2 264.9h0M292.4 264.9h0M390.5 264.9h0M400.3 264.9h0M537.7 264.9h0M547.5 264.9h0M405.2 273.4h0M341.5 282h0M326.8 290.5h0M424.9 290.5h0M581.8 290.5h0M243.4 299h0M272.8 299h0M488.6 299h0M356.2 307.6h0M581.8 307.6h0M233.6 316.1h0M586.7 316.1h0M238.5 324.7h0M532.8 324.7h0M361.1 333.2h0M449.4 333.2h0M488.6 333.2h0M194.3 350.3h0M253.2 350.3h0M189.4 358.8h0M218.8 358.8h0M385.6 358.8h0M439.6 367.3h0M346.4 375.9h0M213.9 384.4h0M233.6 384.4h0M263 384.4h0M292.4 384.4h0M488.6 384.4h0M454.3 392.9h0M243.4 401.5h0M390.5 401.5h0M616.2 401.5h0M179.6 410h0M419.9 418.6h0M567.1 418.6h0M209 427.1h0M238.5 427.1h0M346.4 427.1h0M537.7 435.6h0M532.8 444.2h0M591.6 444.2h0M439.6 452.7h0M469 452.7h0M189.4 461.2h0M238.5 461.2h0M297.3 461.2h0M336.6 461.2h0M370.9 469.8h0M439.6 469.8h0M218.8 478.3h0M228.7 478.3h0M248.3 478.3h0M307.1 478.3h0M356.2 478.3h0M464.1 478.3h0M213.9 486.9h0M292.4 486.9h0M469 486.9h0M277.7 495.4h0M233.6 503.9h0M586.7 503.9h0M169.8 512.5h0M287.5 512.5h0M316.9 512.5h0M263 521h0M370.9 521h0M189.4 529.5h0M199.2 529.5h0M258.1 529.5h0M405.2 529.5h0M601.4 529.5h0M316.9 546.6h0M395.4 546.6h0M434.7 546.6h0M429.8 555.2h0M209 563.7h0M233.6 572.2h0M518 572.2h0M179.6 580.8h0M483.7 580.8h0M213.9 589.3h0M292.4 589.3h0M331.7 589.3h0M439.6 589.3h0M307.1 597.8h0M346.4 597.8h0M174.7 606.4h0M169.8 614.9h0M189.4 614.9h0M233.6 623.4h0M321.9 623.4h0M410.1 623.4h0M326.8 632h0M366 632h0M424.9 632h0M331.7 640.5h0M400.3 640.5h0M498.4 640.5h0M503.3 649.1h0M282.6 657.6h0M380.7 657.6h0M189.4 666.1h0M287.5 666.1h0M307.1 666.1h0M233.6 674.7h0M370.9 674.7h0M429.8 674.7h0M179.6 683.2h0M267.9 683.2h0M336.6 683.2h0M444.5 683.2h0M341.5 691.7h0M390.5 691.7h0M400.3 691.7h0M174.7 708.8h0M160 717.4h0M267.9 717.4h0M194.3 725.9h0M213.9 725.9h0M292.4 725.9h0M160 734.4h0"/>
<path stroke="#f2e7ff" d="M312 145.4h0M287.5 153.9h0M356.2 153.9h0M272.8 162.4h0M400.3 162.4h0M297.3 171h0M405.2 171h0M263 179.5h0M282.6 179.5h0M189.4 188.1h0M238.5 188.1h0M277.7 188.1h0M375.8 188.1h0M454.3 188.1h0M464.1 188.1h0M184.5 196.6h0M272.8 196.6h0M331.7 196.6h0M361.1 196.6h0M478.8 196.6h0M179.6 205.1h0M380.7 213.7h0M419.9 213.7h0M527.9 213.7h0M287.5 222.2h0M316.9 222.2h0M434.7 222.2h0M444.5 222.2h0M184.5 230.7h0M223.8 230.7h0M419.9 230.7h0M449.4 230.7h0M483.7 239.3h0M233.6 247.8h0M419.9 247.8h0M478.8 247.8h0M199.2 256.4h0M248.3 256.4h0M307.1 256.4h0M184.5 264.9h0M233.6 264.9h0M351.3 264.9h0M199.2 273.4h0M228.7 273.4h0M415 273.4h0M513.1 273.4h0M253.2 282h0M316.9 290.5h0M562.2 290.5h0M184.5 299h0M351.3 299h0M400.3 299h0M419.9 299h0M238.5 307.6h0M366 307.6h0M194.3 316.1h0M243.4 316.1h0M253.2 316.1h0M469 316.1h0M199.2 324.7h0M464.1 324.7h0M419.9 333.2h0M498.4 333.2h0M537.7 333.2h0M258.1 341.7h0M326.8 341.7h0M532.8 341.7h0M292.4 350.3h0M312 350.3h0M464.1 358.8h0M184.5 367.3h0M272.8 367.3h0M282.6 367.3h0M469 367.3h0M258.1 375.9h0M326.8 375.9h0M591.6 375.9h0M405.2 392.9h0M601.4 392.9h0M184.5 401.5h0M213.9 401.5h0M469 401.5h0M199.2 410h0M209 410h0M258.1 410h0M297.3 410h0M375.8 410h0M174.7 418.6h0M361.1 418.6h0M488.6 418.6h0M557.3 418.6h0M218.8 427.1h0M228.7 427.1h0M297.3 427.1h0M316.9 427.1h0M444.5 427.1h0M454.3 427.1h0M572 427.1h0M174.7 435.6h0M312 435.6h0M321.9 435.6h0M518 435.6h0M616.2 435.6h0M209 444.2h0M218.8 444.2h0M228.7 444.2h0M174.7 452.7h0M213.9 452.7h0M272.8 452.7h0M312 452.7h0M331.7 452.7h0M400.3 452.7h0M429.8 452.7h0M199.2 461.2h0M316.9 461.2h0M194.3 469.8h0M253.2 469.8h0M351.3 469.8h0M469 469.8h0M557.3 469.8h0M189.4 478.3h0M199.2 478.3h0M326.8 478.3h0M223.8 486.9h0M179.6 495.4h0M204.1 503.9h0M213.9 503.9h0M243.4 503.9h0M253.2 503.9h0M469 503.9h0M567.1 503.9h0M199.2 512.5h0M238.5 512.5h0M483.7 512.5h0M493.5 512.5h0M213.9 521h0M243.4 521h0M292.4 521h0M341.5 521h0M488.6 521h0M277.7 529.5h0M316.9 529.5h0M336.6 529.5h0M356.2 529.5h0M375.8 529.5h0M395.4 529.5h0M204.1 538.1h0M223.8 538.1h0M312 538.1h0M321.9 538.1h0M351.3 538.1h0M469 538.1h0M336.6 546.6h0M366 546.6h0M493.5 546.6h0M204.1 555.2h0M307.1 563.7h0M184.5 572.2h0M282.6 572.2h0M341.5 572.2h0M361.1 572.2h0M390.5 572.2h0M419.9 572.2h0M169.8 580.8h0M218.8 580.8h0M248.3 580.8h0M258.1 580.8h0M346.4 580.8h0M253.2 589.3h0M312 589.3h0M419.9 589.3h0M429.8 589.3h0M199.2 597.8h0M209 597.8h0M292.4 606.4h0M488.6 606.4h0M287.5 614.9h0M366 614.9h0M523 614.9h0M312 623.4h0M331.7 623.4h0M400.3 623.4h0M218.8 632h0M336.6 632h0M346.4 632h0M405.2 632h0M351.3 640.5h0M218.8 649.1h0M316.9 649.1h0M336.6 649.1h0M542.6 649.1h0M312 657.6h0M209 666.1h0M228.7 666.1h0M277.7 666.1h0M385.6 666.1h0M473.9 666.1h0M213.9 674.7h0M449.4 674.7h0M258.1 683.2h0M204.1 691.7h0M370.9 691.7h0M366 700.3h0M223.8 708.8h0M263 708.8h0M390.5 708.8h0M272.8 725.9h0"/>
<path stroke="#f8f3ff" d="M258.1 136.8h0M312 162.4h0M258.1 171h0M395.4 171h0M341.5 179.5h0M361.1 179.5h0M419.9 179.5h0M469 179.5h0M385.6 188.1h0M405.2 188.1h0M321.9 196.6h0M228.7 205.1h0M238.5 205.1h0M248.3 205.1h0M267.9 205.1h0M297.3 205.1h0M316.9 205.1h0M375.8 205.1h0M405.2 205.1h0M194.3 213.7h0M233.6 213.7h0M243.4 213.7h0M488.6 213.7h0M537.7 213.7h0M199.2 222.2h0M218.8 222.2h0M503.3 222.2h0M194.3 230.7h0M380.7 230.7h0M400.3 230.7h0M518 230.7h0M238.5 239.3h0M248.3 239.3h0M287.5 239.3h0M346.4 239.3h0M405.2 239.3h0M454.3 239.3h0M464.1 239.3h0M184.5 247.8h0M213.9 247.8h0M243.4 247.8h0M380.7 247.8h0M498.4 247.8h0M316.9 256.4h0M375.8 256.4h0M532.8 256.4h0M272.8 264.9h0M567.1 264.9h0M248.3 273.4h0M326.8 273.4h0M454.3 273.4h0M542.6 273.4h0M233.6 282h0M267.9 290.5h0M356.2 290.5h0M464.1 290.5h0M503.3 290.5h0M223.8 299h0M253.2 299h0M380.7 299h0M449.4 299h0M179.6 307.6h0M209 307.6h0M258.1 307.6h0M498.4 316.1h0M189.4 324.7h0M277.7 324.7h0M542.6 324.7h0M243.4 333.2h0M370.9 333.2h0M400.3 333.2h0M218.8 341.7h0M366 341.7h0M454.3 341.7h0M591.6 341.7h0M321.9 350.3h0M361.1 350.3h0M400.3 350.3h0M248.3 358.8h0M287.5 358.8h0M346.4 358.8h0M405.2 358.8h0M390.5 367.3h0M478.8 367.3h0M189.4 375.9h0M248.3 375.9h0M194.3 384.4h0M439.6 384.4h0M459.2 384.4h0M478.8 384.4h0M228.7 392.9h0M277.7 392.9h0M424.9 392.9h0M204.1 401.5h0M223.8 401.5h0M346.4 410h0M424.9 410h0M513.1 410h0M263 418.6h0M312 418.6h0M380.7 418.6h0M410.1 418.6h0M429.8 418.6h0M336.6 427.1h0M395.4 427.1h0M405.2 427.1h0M253.2 435.6h0M341.5 435.6h0M199.2 444.2h0M248.3 444.2h0M297.3 444.2h0M316.9 444.2h0M611.2 444.2h0M194.3 452.7h0M243.4 452.7h0M341.5 452.7h0M351.3 452.7h0M361.1 452.7h0M410.1 452.7h0M277.7 461.2h0M356.2 461.2h0M375.8 461.2h0M385.6 461.2h0M493.5 461.2h0M611.2 461.2h0M204.1 469.8h0M233.6 469.8h0M586.7 469.8h0M209 478.3h0M336.6 478.3h0M366 478.3h0M184.5 486.9h0M312 486.9h0M209 495.4h0M218.8 495.4h0M258.1 495.4h0M336.6 495.4h0M405.2 495.4h0M503.3 495.4h0M331.7 503.9h0M351.3 503.9h0M478.8 503.9h0M228.7 512.5h0M248.3 512.5h0M464.1 512.5h0M621.1 512.5h0M184.5 521h0M302.2 521h0M312 521h0M248.3 529.5h0M464.1 529.5h0M611.2 529.5h0M213.9 538.1h0M331.7 538.1h0M390.5 538.1h0M415 546.6h0M483.7 546.6h0M611.2 546.6h0M174.7 555.2h0M233.6 555.2h0M253.2 555.2h0M292.4 555.2h0M351.3 555.2h0M410.1 555.2h0M419.9 555.2h0M508.2 555.2h0M179.6 563.7h0M189.4 563.7h0M199.2 563.7h0M238.5 563.7h0M287.5 563.7h0M297.3 563.7h0M601.4 563.7h0M194.3 572.2h0M415 580.8h0M523 580.8h0M591.6 580.8h0M174.7 589.3h0M263 589.3h0M321.9 589.3h0M508.2 589.3h0M527.9 589.3h0M258.1 597.8h0M267.9 597.8h0M356.2 597.8h0M282.6 606.4h0M351.3 606.4h0M527.9 606.4h0M316.9 614.9h0M336.6 614.9h0M213.9 623.4h0M361.1 623.4h0M439.6 623.4h0M375.8 632h0M395.4 632h0M238.5 649.1h0M346.4 649.1h0M174.7 657.6h0M204.1 657.6h0M331.7 657.6h0M351.3 657.6h0M518 657.6h0M444.5 666.1h0M292.4 674.7h0M390.5 674.7h0M375.8 683.2h0M218.8 700.3h0M238.5 700.3h0M272.8 708.8h0M277.7 717.4h0"/>
<path stroke="#ffffff" d="M297.3 153.9h0M223.8 162.4h0M341.5 162.4h0M218.8 171h0M228.7 171h0M346.4 171h0M356.2 171h0M184.5 179.5h0M351.3 179.5h0M218.8 188.1h0M316.9 188.1h0M346.4 188.1h0M415 188.1h0M483.7 188.1h0M292.4 196.6h0M209 205.1h0M385.6 205.1h0M415 205.1h0M434.7 205.1h0M483.7 205.1h0M213.9 213.7h0M263 213.7h0M282.6 213.7h0M312 213.7h0M410.1 213.7h0M179.6 222.2h0M473.9 222.2h0M562.2 222.2h0M253.2 230.7h0M282.6 230.7h0M370.9 230.7h0M390.5 230.7h0M199.2 239.3h0M218.8 239.3h0M385.6 239.3h0M434.7 239.3h0M493.5 239.3h0M223.8 247.8h0M429.8 247.8h0M488.6 247.8h0M557.3 247.8h0M356.2 256.4h0M454.3 256.4h0M493.5 256.4h0M513.1 256.4h0M194.3 264.9h0M213.9 264.9h0M361.1 264.9h0M429.8 264.9h0M557.3 264.9h0M169.8 273.4h0M258.1 273.4h0M174.7 282h0M194.3 282h0M204.1 282h0M263 282h0M302.2 282h0M312 282h0M331.7 282h0M380.7 282h0M400.3 282h0M459.2 282h0M469 282h0M478.8 282h0M576.9 282h0M277.7 290.5h0M346.4 290.5h0M454.3 290.5h0M513.1 290.5h0M189.4 307.6h0M228.7 307.6h0M385.6 307.6h0M444.5 307.6h0M361.1 316.1h0M390.5 316.1h0M557.3 316.1h0M567.1 316.1h0M194.3 333.2h0M410.1 333.2h0M508.2 333.2h0M586.7 333.2h0M297.3 341.7h0M434.7 341.7h0M213.9 350.3h0M410.1 350.3h0M449.4 350.3h0M567.1 350.3h0M591.6 358.8h0M302.2 367.3h0M361.1 367.3h0M370.9 367.3h0M596.5 367.3h0M415 375.9h0M434.7 375.9h0M444.5 375.9h0M581.8 375.9h0M331.7 384.4h0M400.3 384.4h0M527.9 384.4h0M547.5 384.4h0M375.8 392.9h0M434.7 392.9h0M493.5 392.9h0M503.3 392.9h0M611.2 392.9h0M341.5 401.5h0M606.3 401.5h0M218.8 410h0M248.3 410h0M316.9 410h0M184.5 418.6h0M233.6 418.6h0M243.4 418.6h0M449.4 418.6h0M606.3 418.6h0M179.6 427.1h0M189.4 427.1h0M277.7 427.1h0M287.5 427.1h0M424.9 427.1h0M542.6 427.1h0M292.4 435.6h0M351.3 435.6h0M361.1 435.6h0M410.1 435.6h0M375.8 444.2h0M395.4 444.2h0M434.7 444.2h0M513.1 444.2h0M292.4 452.7h0M302.2 452.7h0M557.3 452.7h0M179.6 461.2h0M307.1 461.2h0M552.4 461.2h0M601.4 461.2h0M174.7 469.8h0M184.5 469.8h0M213.9 469.8h0M302.2 469.8h0M331.7 469.8h0M498.4 469.8h0M267.9 478.3h0M346.4 478.3h0M385.6 478.3h0M395.4 478.3h0M434.7 478.3h0M611.2 478.3h0M233.6 486.9h0M253.2 486.9h0M331.7 486.9h0M351.3 486.9h0M390.5 486.9h0M596.5 486.9h0M616.2 486.9h0M307.1 495.4h0M316.9 495.4h0M366 495.4h0M434.7 495.4h0M483.7 495.4h0M601.4 495.4h0M194.3 503.9h0M263 503.9h0M282.6 503.9h0M400.3 503.9h0M488.6 503.9h0M508.2 503.9h0M557.3 503.9h0M576.9 503.9h0M336.6 512.5h0M346.4 512.5h0M366 512.5h0M513.1 512.5h0M194.3 521h0M223.8 521h0M331.7 521h0M351.3 521h0M380.7 521h0M469 521h0M238.5 529.5h0M307.1 529.5h0M346.4 529.5h0M366 529.5h0M424.9 529.5h0M253.2 538.1h0M429.8 538.1h0M488.6 538.1h0M199.2 546.6h0M218.8 546.6h0M228.7 546.6h0M238.5 546.6h0M258.1 546.6h0M267.9 546.6h0M297.3 546.6h0M356.2 546.6h0M424.9 546.6h0M532.8 546.6h0M213.9 555.2h0M223.8 555.2h0M390.5 555.2h0M518 555.2h0M606.3 555.2h0M228.7 563.7h0M277.7 563.7h0M503.3 563.7h0M351.3 572.2h0M370.9 572.2h0M478.8 572.2h0M498.4 572.2h0M508.2 572.2h0M527.9 572.2h0M336.6 580.8h0M424.9 580.8h0M444.5 580.8h0M513.1 580.8h0M223.8 589.3h0M390.5 589.3h0M478.8 589.3h0M488.6 589.3h0M586.7 589.3h0M366 597.8h0M434.7 597.8h0M464.1 597.8h0M483.7 597.8h0M591.6 597.8h0M321.9 606.4h0M361.1 606.4h0M370.9 606.4h0M518 606.4h0M493.5 614.9h0M194.3 623.4h0M370.9 623.4h0M385.6 632h0M454.3 632h0M503.3 632h0M513.1 632h0M532.8 632h0M361.1 640.5h0M370.9 640.5h0M424.9 649.1h0M444.5 649.1h0M454.3 649.1h0M464.1 649.1h0M493.5 649.1h0M361.1 657.6h0M478.8 657.6h0M415 666.1h0M424.9 666.1h0M351.3 674.7h0M419.9 674.7h0M459.2 674.7h0M297.3 683.2h0M356.2 683.2h0M366 683.2h0M223.8 691.7h0M429.8 691.7h0M253.2 708.8h0M258.1 717.4h0M160 751.5h0"/>
<path stroke="#fff5f2" d="M253.2 128.3h0M238.5 136.8h0M248.3 136.8h0M209 153.9h0M213.9 162.4h0M302.2 162.4h0M370.9 162.4h0M267.9 171h0M277.7 171h0M272.8 179.5h0M302.2 179.5h0M199.2 188.1h0M228.7 188.1h0M204.1 196.6h0M213.9 196.6h0M233.6 196.6h0M263 196.6h0M282.6 196.6h0M312 196.6h0M469 196.6h0M287.5 205.1h0M307.1 205.1h0M444.5 205.1h0M473.9 205.1h0M532.8 205.1h0M429.8 213.7h0M498.4 213.7h0M258.1 222.2h0M356.2 222.2h0M366 222.2h0M395.4 222.2h0M405.2 222.2h0M523 222.2h0M542.6 222.2h0M204.1 230.7h0M312 230.7h0M361.1 230.7h0M375.8 239.3h0M395.4 239.3h0M415 239.3h0M532.8 239.3h0M292.4 247.8h0M331.7 247.8h0M537.7 247.8h0M209 256.4h0M277.7 256.4h0M415 256.4h0M464.1 256.4h0M204.1 264.9h0M302.2 264.9h0M321.9 264.9h0M439.6 264.9h0M297.3 273.4h0M307.1 273.4h0M385.6 273.4h0M434.7 273.4h0M473.9 273.4h0M503.3 273.4h0M552.4 273.4h0M243.4 282h0M272.8 282h0M351.3 282h0M488.6 282h0M518 282h0M189.4 290.5h0M366 290.5h0M395.4 290.5h0M434.7 290.5h0M542.6 290.5h0M194.3 299h0M233.6 299h0M498.4 299h0M527.9 299h0M576.9 299h0M199.2 307.6h0M218.8 307.6h0M395.4 307.6h0M415 307.6h0M434.7 307.6h0M552.4 307.6h0M572 307.6h0M213.9 316.1h0M576.9 316.1h0M179.6 324.7h0M228.7 324.7h0M454.3 324.7h0M184.5 333.2h0M204.1 333.2h0M390.5 333.2h0M547.5 333.2h0M385.6 341.7h0M424.9 341.7h0M483.7 341.7h0M184.5 350.3h0M282.6 350.3h0M429.8 350.3h0M469 350.3h0M366 358.8h0M483.7 358.8h0M341.5 367.3h0M488.6 367.3h0M508.2 367.3h0M518 367.3h0M375.8 375.9h0M552.4 375.9h0M361.1 384.4h0M429.8 384.4h0M596.5 384.4h0M395.4 392.9h0M415 392.9h0M572 392.9h0M253.2 401.5h0M263 401.5h0M429.8 401.5h0M567.1 401.5h0M189.4 410h0M267.9 410h0M307.1 410h0M493.5 410h0M523 410h0M204.1 418.6h0M302.2 418.6h0M321.9 418.6h0M518 418.6h0M537.7 418.6h0M199.2 427.1h0M258.1 427.1h0M326.8 427.1h0M356.2 427.1h0M503.3 427.1h0M184.5 435.6h0M204.1 435.6h0M233.6 435.6h0M302.2 435.6h0M370.9 435.6h0M419.9 435.6h0M189.4 444.2h0M287.5 444.2h0M307.1 444.2h0M326.8 444.2h0M336.6 444.2h0M385.6 444.2h0M405.2 444.2h0M552.4 444.2h0M184.5 452.7h0M253.2 452.7h0M370.9 452.7h0M390.5 452.7h0M419.9 452.7h0M567.1 452.7h0M218.8 461.2h0M424.9 461.2h0M434.7 461.2h0M263 469.8h0M361.1 469.8h0M410.1 469.8h0M478.8 469.8h0M537.7 469.8h0M179.6 478.3h0M238.5 478.3h0M287.5 478.3h0M405.2 478.3h0M493.5 478.3h0M572 478.3h0M282.6 486.9h0M370.9 486.9h0M419.9 486.9h0M488.6 486.9h0M189.4 495.4h0M238.5 495.4h0M248.3 495.4h0M356.2 495.4h0M473.9 495.4h0M272.8 503.9h0M302.2 503.9h0M341.5 503.9h0M498.4 503.9h0M547.5 503.9h0M616.2 503.9h0M209 512.5h0M307.1 512.5h0M375.8 512.5h0M395.4 512.5h0M405.2 512.5h0M473.9 512.5h0M174.7 521h0M233.6 521h0M321.9 521h0M419.9 521h0M429.8 521h0M228.7 529.5h0M385.6 529.5h0M454.3 529.5h0M483.7 529.5h0M184.5 538.1h0M243.4 538.1h0M380.7 538.1h0M459.2 538.1h0M444.5 546.6h0M454.3 546.6h0M562.2 546.6h0M184.5 555.2h0M243.4 555.2h0M346.4 563.7h0M366 563.7h0M385.6 563.7h0M434.7 563.7h0M523 563.7h0M532.8 563.7h0M312 572.2h0M488.6 572.2h0M537.7 572.2h0M199.2 580.8h0M267.9 580.8h0M375.8 580.8h0M473.9 580.8h0M503.3 580.8h0M184.5 589.3h0M351.3 589.3h0M370.9 589.3h0M449.4 589.3h0M459.2 589.3h0M537.7 589.3h0M444.5 597.8h0M473.9 597.8h0M503.3 597.8h0M410.1 606.4h0M439.6 606.4h0M415 614.9h0M444.5 614.9h0M513.1 614.9h0M552.4 614.9h0M380.7 623.4h0M390.5 623.4h0M429.8 623.4h0M498.4 623.4h0M527.9 623.4h0M267.9 632h0M356.2 632h0M444.5 632h0M542.6 632h0M410.1 640.5h0M518 640.5h0M547.5 640.5h0M375.8 649.1h0M395.4 649.1h0M513.1 649.1h0M523 649.1h0M410.1 657.6h0M488.6 657.6h0M346.4 666.1h0M356.2 666.1h0M464.1 666.1h0M400.3 674.7h0M410.1 674.7h0M218.8 683.2h0M385.6 683.2h0M243.4 691.7h0M302.2 691.7h0M424.9 700.3h0"/>
<path stroke="#ffece5" d="M184.5 162.4h0M204.1 162.4h0M282.6 162.4h0M248.3 171h0M375.8 171h0M204.1 179.5h0M331.7 179.5h0M370.9 179.5h0M179.6 188.1h0M209 188.1h0M248.3 188.1h0M258.1 188.1h0M326.8 188.1h0M194.3 196.6h0M508.2 196.6h0M513.1 205.1h0M223.8 213.7h0M272.8 213.7h0M400.3 213.7h0M267.9 222.2h0M307.1 222.2h0M415 222.2h0M429.8 230.7h0M488.6 230.7h0M537.7 230.7h0M547.5 230.7h0M179.6 239.3h0M282.6 247.8h0M390.5 247.8h0M449.4 247.8h0M527.9 247.8h0M267.9 256.4h0M297.3 256.4h0M282.6 264.9h0M469 264.9h0M518 264.9h0M356.2 273.4h0M375.8 273.4h0M424.9 273.4h0M493.5 273.4h0M562.2 273.4h0M321.9 282h0M449.4 282h0M248.3 290.5h0M483.7 290.5h0M493.5 290.5h0M552.4 290.5h0M213.9 299h0M390.5 299h0M459.2 299h0M518 299h0M547.5 299h0M567.1 299h0M454.3 307.6h0M523 307.6h0M542.6 307.6h0M184.5 316.1h0M351.3 316.1h0M488.6 316.1h0M218.8 324.7h0M415 324.7h0M562.2 324.7h0M213.9 333.2h0M223.8 333.2h0M267.9 341.7h0M464.1 341.7h0M493.5 341.7h0M552.4 341.7h0M459.2 350.3h0M498.4 350.3h0M523 358.8h0M601.4 358.8h0M351.3 367.3h0M419.9 367.3h0M267.9 375.9h0M287.5 375.9h0M562.2 375.9h0M272.8 384.4h0M282.6 384.4h0M410.1 384.4h0M469 384.4h0M199.2 392.9h0M473.9 392.9h0M532.8 392.9h0M552.4 392.9h0M380.7 401.5h0M400.3 401.5h0M596.5 401.5h0M277.7 410h0M287.5 410h0M356.2 410h0M366 410h0M415 410h0M454.3 410h0M503.3 410h0M542.6 410h0M572 410h0M194.3 418.6h0M331.7 418.6h0M390.5 418.6h0M498.4 418.6h0M508.2 418.6h0M616.2 418.6h0M434.7 427.1h0M493.5 427.1h0M390.5 435.6h0M429.8 435.6h0M508.2 435.6h0M596.5 435.6h0M238.5 444.2h0M258.1 444.2h0M356.2 444.2h0M366 444.2h0M415 444.2h0M204.1 452.7h0M321.9 452.7h0M478.8 452.7h0M498.4 452.7h0M547.5 452.7h0M267.9 461.2h0M287.5 461.2h0M562.2 461.2h0M390.5 469.8h0M483.7 478.3h0M591.6 478.3h0M243.4 486.9h0M321.9 486.9h0M341.5 486.9h0M380.7 486.9h0M498.4 486.9h0M537.7 486.9h0M199.2 495.4h0M493.5 495.4h0M572 495.4h0M611.2 495.4h0M223.8 503.9h0M361.1 503.9h0M596.5 503.9h0M189.4 512.5h0M297.3 512.5h0M326.8 512.5h0M415 512.5h0M390.5 521h0M478.8 521h0M415 529.5h0M194.3 538.1h0M272.8 538.1h0M282.6 538.1h0M508.2 538.1h0M537.7 538.1h0M606.3 538.1h0M179.6 546.6h0M209 546.6h0M473.9 546.6h0M601.4 546.6h0M263 555.2h0M272.8 555.2h0M370.9 555.2h0M459.2 555.2h0M498.4 555.2h0M316.9 563.7h0M454.3 563.7h0M464.1 563.7h0M473.9 563.7h0M591.6 563.7h0M204.1 572.2h0M439.6 572.2h0M356.2 580.8h0M385.6 580.8h0M405.2 580.8h0M493.5 580.8h0M341.5 589.3h0M380.7 589.3h0M400.3 589.3h0M410.1 589.3h0M469 589.3h0M415 597.8h0M424.9 597.8h0M454.3 597.8h0M513.1 597.8h0M341.5 606.4h0M429.8 606.4h0M478.8 606.4h0M508.2 606.4h0M199.2 614.9h0M356.2 614.9h0M385.6 614.9h0M454.3 614.9h0M532.8 614.9h0M542.6 614.9h0M508.2 623.4h0M390.5 640.5h0M469 640.5h0M366 649.1h0M415 649.1h0M390.5 657.6h0M400.3 657.6h0M434.7 666.1h0M454.3 666.1h0M493.5 666.1h0M204.1 674.7h0M361.1 674.7h0M469 674.7h0M346.4 683.2h0M424.9 683.2h0M258.1 734.4h0"/>
<path stroke="#ffe2d8" d="M361.1 162.4h0M390.5 162.4h0M189.4 171h0M209 171h0M307.1 171h0M336.6 171h0M312 179.5h0M400.3 179.5h0M429.8 179.5h0M253.2 196.6h0M390.5 196.6h0M429.8 196.6h0M356.2 205.1h0M454.3 205.1h0M464.1 205.1h0M184.5 213.7h0M292.4 213.7h0M469 213.7h0M292.4 230.7h0M302.2 230.7h0M331.7 230.7h0M459.2 230.7h0M469 230.7h0M498.4 230.7h0M527.9 230.7h0M557.3 230.7h0M267.9 239.3h0M277.7 239.3h0M366 239.3h0M473.9 239.3h0M253.2 247.8h0M400.3 247.8h0M410.1 247.8h0M336.6 256.4h0M405.2 256.4h0M483.7 256.4h0M223.8 264.9h0M449.4 264.9h0M218.8 273.4h0M238.5 273.4h0M267.9 273.4h0M277.7 273.4h0M287.5 273.4h0M483.7 273.4h0M572 273.4h0M223.8 282h0M410.1 282h0M419.9 282h0M527.9 282h0M537.7 282h0M258.1 290.5h0M385.6 290.5h0M405.2 290.5h0M415 290.5h0M444.5 290.5h0M410.1 299h0M429.8 299h0M439.6 299h0M469 299h0M464.1 307.6h0M503.3 307.6h0M513.1 307.6h0M429.8 316.1h0M449.4 316.1h0M434.7 324.7h0M503.3 324.7h0M513.1 324.7h0M523 324.7h0M518 333.2h0M189.4 341.7h0M405.2 341.7h0M415 341.7h0M503.3 341.7h0M439.6 350.3h0M478.8 350.3h0M488.6 350.3h0M316.9 358.8h0M326.8 358.8h0M375.8 358.8h0M503.3 358.8h0M552.4 358.8h0M562.2 358.8h0M292.4 367.3h0M380.7 367.3h0M557.3 367.3h0M277.7 375.9h0M336.6 375.9h0M473.9 375.9h0M503.3 375.9h0M532.8 375.9h0M302.2 384.4h0M351.3 384.4h0M297.3 392.9h0M307.1 392.9h0M366 392.9h0M282.6 401.5h0M292.4 401.5h0M498.4 401.5h0M586.7 401.5h0M336.6 410h0M385.6 410h0M552.4 410h0M601.4 410h0M341.5 418.6h0M469 418.6h0M527.9 418.6h0M375.8 427.1h0M415 427.1h0M513.1 427.1h0M562.2 427.1h0M591.6 427.1h0M272.8 435.6h0M488.6 435.6h0M557.3 435.6h0M169.8 444.2h0M267.9 444.2h0M483.7 444.2h0M523 444.2h0M380.7 452.7h0M576.9 452.7h0M209 461.2h0M326.8 461.2h0M395.4 461.2h0M483.7 461.2h0M572 461.2h0M282.6 469.8h0M380.7 469.8h0M488.6 469.8h0M375.8 478.3h0M424.9 478.3h0M194.3 486.9h0M410.1 486.9h0M478.8 486.9h0M527.9 486.9h0M547.5 486.9h0M606.3 486.9h0M267.9 495.4h0M287.5 495.4h0M297.3 495.4h0M424.9 495.4h0M542.6 495.4h0M581.8 495.4h0M370.9 503.9h0M390.5 503.9h0M179.6 512.5h0M277.7 512.5h0M508.2 521h0M557.3 521h0M567.1 521h0M606.3 521h0M444.5 529.5h0M263 538.1h0M370.9 538.1h0M478.8 538.1h0M567.1 538.1h0M616.2 538.1h0M277.7 546.6h0M572 546.6h0M302.2 555.2h0M380.7 555.2h0M449.4 555.2h0M537.7 555.2h0M547.5 555.2h0M356.2 563.7h0M375.8 563.7h0M424.9 563.7h0M493.5 563.7h0M326.8 580.8h0M434.7 580.8h0M532.8 580.8h0M552.4 580.8h0M194.3 589.3h0M498.4 589.3h0M336.6 597.8h0M395.4 597.8h0M581.8 597.8h0M400.3 606.4h0M537.7 606.4h0M576.9 606.4h0M424.9 614.9h0M351.3 623.4h0M518 623.4h0M567.1 623.4h0M523 632h0M429.8 640.5h0M439.6 640.5h0M449.4 640.5h0M483.7 649.1h0M419.9 657.6h0M527.9 657.6h0M375.8 666.1h0M194.3 674.7h0M439.6 674.7h0M488.6 674.7h0"/>
<path stroke="#ffd9cb" d="M292.4 162.4h0M287.5 171h0M253.2 179.5h0M390.5 179.5h0M267.9 188.1h0M307.1 188.1h0M395.4 188.1h0M434.7 188.1h0M223.8 196.6h0M189.4 205.1h0M424.9 205.1h0M302.2 213.7h0M361.1 213.7h0M248.3 222.2h0M277.7 222.2h0M297.3 222.2h0M263 230.7h0M321.9 230.7h0M307.1 239.3h0M316.9 239.3h0M336.6 239.3h0M194.3 247.8h0M263 247.8h0M272.8 247.8h0M341.5 247.8h0M518 247.8h0M547.5 247.8h0M228.7 256.4h0M473.9 256.4h0M523 256.4h0M370.9 264.9h0M488.6 264.9h0M508.2 264.9h0M527.9 264.9h0M189.4 273.4h0M336.6 273.4h0M346.4 273.4h0M366 273.4h0M361.1 282h0M370.9 282h0M557.3 282h0M567.1 282h0M199.2 290.5h0M473.9 290.5h0M204.1 299h0M562.2 307.6h0M204.1 316.1h0M518 316.1h0M233.6 333.2h0M469 333.2h0M444.5 341.7h0M473.9 341.7h0M419.9 350.3h0M277.7 358.8h0M493.5 358.8h0M581.8 358.8h0M331.7 367.3h0M400.3 367.3h0M410.1 367.3h0M498.4 367.3h0M547.5 367.3h0M567.1 367.3h0M576.9 367.3h0M316.9 375.9h0M464.1 375.9h0M483.7 375.9h0M493.5 375.9h0M572 375.9h0M321.9 384.4h0M341.5 384.4h0M370.9 384.4h0M390.5 384.4h0M419.9 384.4h0M498.4 384.4h0M586.7 384.4h0M248.3 392.9h0M267.9 392.9h0M326.8 392.9h0M346.4 392.9h0M562.2 392.9h0M581.8 392.9h0M591.6 392.9h0M331.7 401.5h0M351.3 401.5h0M419.9 401.5h0M459.2 401.5h0M527.9 401.5h0M537.7 401.5h0M547.5 401.5h0M326.8 410h0M405.2 410h0M473.9 410h0M581.8 410h0M478.8 418.6h0M586.7 418.6h0M532.8 427.1h0M581.8 427.1h0M601.4 427.1h0M611.2 427.1h0M194.3 435.6h0M223.8 435.6h0M493.5 444.2h0M263 452.7h0M596.5 452.7h0M248.3 461.2h0M523 461.2h0M542.6 461.2h0M341.5 469.8h0M400.3 469.8h0M567.1 469.8h0M596.5 469.8h0M606.3 469.8h0M581.8 478.3h0M557.3 486.9h0M586.7 486.9h0M591.6 495.4h0M184.5 503.9h0M292.4 503.9h0M419.9 503.9h0M459.2 503.9h0M527.9 503.9h0M356.2 512.5h0M385.6 512.5h0M552.4 512.5h0M562.2 512.5h0M400.3 521h0M586.7 521h0M596.5 521h0M209 529.5h0M513.1 529.5h0M523 529.5h0M542.6 529.5h0M552.4 529.5h0M591.6 529.5h0M174.7 538.1h0M439.6 538.1h0M547.5 538.1h0M596.5 538.1h0M346.4 546.6h0M523 546.6h0M552.4 546.6h0M581.8 546.6h0M576.9 555.2h0M267.9 563.7h0M562.2 563.7h0M321.9 572.2h0M331.7 572.2h0M380.7 572.2h0M449.4 572.2h0M596.5 572.2h0M454.3 580.8h0M375.8 597.8h0M542.6 597.8h0M380.7 606.4h0M419.9 606.4h0M498.4 606.4h0M473.9 614.9h0M469 623.4h0M478.8 623.4h0M537.7 623.4h0M464.1 632h0M493.5 632h0M552.4 632h0M478.8 640.5h0M488.6 640.5h0M537.7 640.5h0M434.7 649.1h0M459.2 657.6h0M498.4 657.6h0M508.2 657.6h0M238.5 666.1h0M395.4 666.1h0M483.7 666.1h0M223.8 674.7h0M483.7 683.2h0M449.4 691.7h0"/>
<path stroke="#ffcfbf" d="M233.6 145.4h0M366 171h0M385.6 171h0M194.3 179.5h0M223.8 179.5h0M410.1 179.5h0M336.6 188.1h0M424.9 188.1h0M302.2 196.6h0M351.3 196.6h0M380.7 196.6h0M419.9 196.6h0M258.1 205.1h0M277.7 205.1h0M366 205.1h0M395.4 205.1h0M341.5 213.7h0M370.9 213.7h0M390.5 213.7h0M478.8 213.7h0M385.6 222.2h0M532.8 222.2h0M233.6 230.7h0M351.3 230.7h0M326.8 239.3h0M356.2 239.3h0M503.3 239.3h0M513.1 239.3h0M204.1 247.8h0M361.1 247.8h0M439.6 247.8h0M459.2 247.8h0M179.6 256.4h0M366 256.4h0M380.7 264.9h0M410.1 264.9h0M459.2 264.9h0M498.4 264.9h0M464.1 273.4h0M532.8 273.4h0M184.5 282h0M390.5 282h0M179.6 290.5h0M493.5 307.6h0M419.9 316.1h0M459.2 316.1h0M508.2 316.1h0M537.7 316.1h0M473.9 324.7h0M572 324.7h0M581.8 324.7h0M567.1 333.2h0M513.1 341.7h0M523 341.7h0M572 341.7h0M302.2 350.3h0M370.9 350.3h0M390.5 350.3h0M508.2 350.3h0M527.9 350.3h0M547.5 350.3h0M557.3 350.3h0M576.9 350.3h0M586.7 350.3h0M596.5 350.3h0M532.8 358.8h0M321.9 367.3h0M307.1 375.9h0M405.2 375.9h0M523 375.9h0M601.4 375.9h0M380.7 384.4h0M537.7 384.4h0M557.3 384.4h0M576.9 384.4h0M316.9 392.9h0M336.6 392.9h0M483.7 392.9h0M513.1 392.9h0M523 392.9h0M542.6 392.9h0M272.8 401.5h0M370.9 401.5h0M410.1 401.5h0M478.8 401.5h0M576.9 418.6h0M400.3 435.6h0M498.4 435.6h0M576.9 435.6h0M606.3 435.6h0M179.6 444.2h0M562.2 444.2h0M586.7 452.7h0M228.7 461.2h0M532.8 461.2h0M292.4 469.8h0M429.8 469.8h0M508.2 469.8h0M523 478.3h0M601.4 478.3h0M302.2 486.9h0M326.8 495.4h0M375.8 495.4h0M552.4 495.4h0M174.7 503.9h0M380.7 503.9h0M410.1 503.9h0M537.7 503.9h0M547.5 521h0M493.5 529.5h0M233.6 538.1h0M341.5 538.1h0M361.1 538.1h0M542.6 546.6h0M331.7 555.2h0M341.5 555.2h0M527.9 555.2h0M326.8 563.7h0M459.2 572.2h0M469 572.2h0M366 580.8h0M542.6 580.8h0M385.6 597.8h0M532.8 597.8h0M390.5 606.4h0M567.1 606.4h0M375.8 614.9h0M395.4 614.9h0M464.1 614.9h0M547.5 623.4h0M459.2 640.5h0M356.2 649.1h0M385.6 649.1h0M439.6 657.6h0M449.4 657.6h0M366 666.1h0M503.3 666.1h0M513.1 666.1h0M380.7 674.7h0M459.2 691.7h0"/>
<path stroke="#ffc6b2" d="M316.9 171h0M326.8 171h0M213.9 179.5h0M287.5 188.1h0M444.5 188.1h0M410.1 196.6h0M346.4 205.1h0M321.9 213.7h0M508.2 213.7h0M518 213.7h0M375.8 222.2h0M464.1 222.2h0M483.7 222.2h0M272.8 230.7h0M341.5 230.7h0M542.6 239.3h0M321.9 247.8h0M444.5 256.4h0M331.7 264.9h0M478.8 264.9h0M444.5 273.4h0M523 273.4h0M292.4 282h0M429.8 282h0M547.5 282h0M523 290.5h0M424.9 307.6h0M473.9 307.6h0M483.7 307.6h0M532.8 307.6h0M400.3 316.1h0M439.6 316.1h0M547.5 316.1h0M424.9 324.7h0M444.5 324.7h0M483.7 324.7h0M459.2 333.2h0M542.6 341.7h0M581.8 341.7h0M518 350.3h0M297.3 358.8h0M307.1 358.8h0M336.6 358.8h0M527.9 367.3h0M537.7 367.3h0M424.9 375.9h0M385.6 392.9h0M302.2 401.5h0M321.9 401.5h0M518 401.5h0M532.8 410h0M439.6 435.6h0M527.9 435.6h0M547.5 435.6h0M424.9 444.2h0M503.3 444.2h0M542.6 444.2h0M572 444.2h0M405.2 461.2h0M581.8 461.2h0M591.6 461.2h0M518 469.8h0M547.5 469.8h0M576.9 469.8h0M272.8 486.9h0M361.1 486.9h0M508.2 486.9h0M518 486.9h0M576.9 486.9h0M346.4 495.4h0M385.6 495.4h0M395.4 495.4h0M415 495.4h0M312 503.9h0M321.9 503.9h0M518 503.9h0M532.8 512.5h0M601.4 512.5h0M361.1 521h0M527.9 521h0M449.4 538.1h0M498.4 538.1h0M527.9 538.1h0M586.7 538.1h0M248.3 546.6h0M513.1 546.6h0M282.6 555.2h0M488.6 555.2h0M557.3 555.2h0M567.1 555.2h0M596.5 555.2h0M586.7 572.2h0M464.1 580.8h0M562.2 580.8h0M493.5 597.8h0M523 597.8h0M184.5 606.4h0M449.4 606.4h0M459.2 606.4h0M469 606.4h0M503.3 614.9h0M473.9 632h0M483.7 632h0M527.9 640.5h0M469 657.6h0M478.8 674.7h0M434.7 683.2h0M464.1 683.2h0"/>
<path stroke="#ffbca6" d="M179.6 171h0M199.2 171h0M321.9 179.5h0M297.3 188.1h0M400.3 196.6h0M336.6 205.1h0M331.7 213.7h0M336.6 222.2h0M410.1 230.7h0M478.8 230.7h0M312 247.8h0M351.3 247.8h0M287.5 256.4h0M346.4 256.4h0M434.7 256.4h0M395.4 273.4h0M282.6 282h0M238.5 290.5h0M405.2 307.6h0M478.8 316.1h0M429.8 333.2h0M439.6 333.2h0M527.9 333.2h0M576.9 333.2h0M562.2 341.7h0M297.3 375.9h0M542.6 375.9h0M508.2 384.4h0M567.1 384.4h0M258.1 392.9h0M356.2 392.9h0M464.1 392.9h0M312 401.5h0M361.1 401.5h0M557.3 401.5h0M464.1 410h0M562.2 410h0M591.6 410h0M459.2 418.6h0M596.5 418.6h0M366 427.1h0M483.7 427.1h0M508.2 452.7h0M606.3 452.7h0M503.3 461.2h0M272.8 469.8h0M513.1 478.3h0M532.8 478.3h0M552.4 478.3h0M503.3 512.5h0M523 512.5h0M542.6 512.5h0M591.6 512.5h0M518 521h0M537.7 521h0M326.8 529.5h0M434.7 529.5h0M562.2 529.5h0M557.3 538.1h0M464.1 546.6h0M542.6 563.7h0M547.5 589.3h0M557.3 589.3h0M405.2 597.8h0M547.5 606.4h0M483.7 614.9h0M557.3 623.4h0M405.2 649.1h0M405.2 666.1h0"/>
<path stroke="#ffb299" d="M439.6 213.7h0M326.8 222.2h0M439.6 282h0M375.8 290.5h0M572 290.5h0M557.3 299h0M527.9 316.1h0M478.8 333.2h0M395.4 341.7h0M537.7 350.3h0M542.6 358.8h0M572 358.8h0M586.7 367.3h0M508.2 401.5h0M523 427.1h0M586.7 435.6h0M346.4 444.2h0M518 452.7h0M473.9 461.2h0M419.9 469.8h0M527.9 469.8h0M503.3 478.3h0M400.3 486.9h0M567.1 486.9h0M562.2 495.4h0M498.4 521h0M419.9 538.1h0M576.9 538.1h0M321.9 555.2h0M478.8 555.2h0M444.5 563.7h0M576.9 572.2h0M361.1 589.3h0M326.8 597.8h0M488.6 623.4h0M434.7 632h0M562.2 632h0M508.2 640.5h0M395.4 683.2h0M454.3 683.2h0"/>
<path stroke="#ffa88d" d="M439.6 196.6h0M449.4 196.6h0M326.8 256.4h0M419.9 264.9h0M410.1 316.1h0M312 367.3h0M312 384.4h0M518 384.4h0M263 435.6h0M567.1 435.6h0M513.1 461.2h0M513.1 495.4h0M503.3 529.5h0M572 529.5h0M483.7 563.7h0M552.4 563.7h0M581.8 563.7h0M419.9 623.4h0M459.2 623.4h0"/>
<path stroke="#ff9e81" d="M508.2 230.7h0M523 239.3h0M341.5 264.9h0M532.8 290.5h0M385.6 375.9h0M513.1 375.9h0M287.5 392.9h0M576.9 401.5h0M223.8 452.7h0M488.6 452.7h0M473.9 478.3h0M542.6 478.3h0M429.8 486.9h0M572 512.5h0M576.9 521h0M532.8 529.5h0M581.8 529.5h0M469 555.2h0M586.7 555.2h0M576.9 589.3h0M572 597.8h0M557.3 606.4h0M532.8 649.1h0"/>
<path stroke="#ff9475" d="M351.3 213.7h0M601.4 444.2h0M537.7 452.7h0M532.8 495.4h0M518 538.1h0M557.3 572.2h0M567.1 572.2h0M581.8 580.8h0M562.2 597.8h0M473.9 649.1h0"/>
<path stroke="#ff8969" d="M581.8 444.2h0M523 495.4h0M572 563.7h0M552.4 597.8h0"/>
<path stroke="#ff7e5e" d="M562.2 478.3h0M581.8 512.5h0M591.6 546.6h0M547.5 572.2h0M572 580.8h0M567.1 589.3h0M562.2 614.9h0"/>
</g></g>
<rect x="1927.2" y="998.3" width="515.3" height="682.7" fill="none" stroke="#333" stroke-width="2.1"/>
<text x="2022.9" y="1727.6" font-size="33.3" text-anchor="middle" fill="#4d4d4d">3000</text>
<text x="2165.5" y="1727.6" font-size="33.3" text-anchor="middle" fill="#4d4d4d">5000</text>
<text x="2308.0" y="1727.6" font-size="33.3" text-anchor="middle" fill="#4d4d4d">7000</text>
<text transform="translate(1903.4 1117.9) rotate(-90)" font-size="33.3" text-anchor="middle" fill="#4d4d4d">-2500</text>
<text transform="translate(1903.4 1295.9) rotate(-90)" font-size="33.3" text-anchor="middle" fill="#4d4d4d">-5000</text>
<text transform="translate(1903.4 1473.8) rotate(-90)" font-size="33.3" text-anchor="middle" fill="#4d4d4d">-7500</text>
<text transform="translate(1903.4 1651.8) rotate(-90)" font-size="33.3" text-anchor="middle" fill="#4d4d4d">-10000</text>
<path d="M2022.9 1682.0v11.5M2165.5 1682.0v11.5M2308.0 1682.0v11.5M1926.2 1117.9h-11.5M1926.2 1295.9h-11.5M1926.2 1473.8h-11.5M1926.2 1651.8h-11.5" stroke="#333" stroke-width="4.2" fill="none"/>
<text x="2184.8" y="1770.4" font-size="33.3" text-anchor="middle" fill="#000">x coordinates</text>
<text transform="translate(1855.5 1339.7) rotate(-90)" font-size="33.3" text-anchor="middle" fill="#000">y coordinates</text>
<rect x="2512.4" y="1160.2" width="71.9" height="359.5" fill="url(#g5)"/>
<text x="2606.9" y="1188.5" font-size="33.3" fill="#000">10</text>
<text x="2606.9" y="1286.3" font-size="33.3" fill="#000">5</text>
<text x="2606.9" y="1384.1" font-size="33.3" fill="#000">0</text>
<text x="2606.9" y="1481.9" font-size="33.3" fill="#000">-5</text>
<path d="M2512.4 1176.6h14.4M2584.3 1176.6h-14.4M2512.4 1274.4h14.4M2584.3 1274.4h-14.4M2512.4 1372.2h14.4M2584.3 1372.2h-14.4M2512.4 1470.0h14.4M2584.3 1470.0h-14.4" stroke="#fff" stroke-width="1.6" fill="none"/>
</g>
<g>
<text x="385.6" y="1862.8" font-size="55" text-anchor="middle" fill="#000">Vascular</text>
<g transform="translate(0.00 1800.00) scale(1)" fill="none" stroke-linecap="round">
<use href="#o" stroke="#1c1c1c" stroke-width="9.85"/>
<g stroke-width="8.75">
<path stroke="#0000ff" d="M179.6 341.7h0"/>
<path stroke="#502bff" d="M469 435.6h0"/>
<path stroke="#6239ff" d="M444.5 495.4h0"/>
<path stroke="#7e52ff" d="M464.1 444.2h0M459.2 452.7h0M454.3 478.3h0M439.6 486.9h0M449.4 486.9h0M326.8 683.2h0"/>
<path stroke="#8a5dff" d="M464.1 461.2h0M449.4 469.8h0"/>
<path stroke="#9569ff" d="M459.2 469.8h0"/>
<path stroke="#a074ff" d="M424.9 427.1h0M444.5 478.3h0M326.8 649.1h0"/>
<path stroke="#aa80ff" d="M356.2 324.7h0M473.9 410h0M439.6 435.6h0M424.9 444.2h0M429.8 452.7h0M454.3 461.2h0M410.1 469.8h0M415 478.3h0M405.2 512.5h0M405.2 546.6h0M380.7 572.2h0M316.9 614.9h0M331.7 623.4h0"/>
<path stroke="#b38bff" d="M326.8 153.9h0M218.8 256.4h0M218.8 290.5h0M258.1 307.6h0M312 316.1h0M449.4 452.7h0M424.9 461.2h0M439.6 469.8h0M395.4 495.4h0M370.9 521h0M380.7 521h0M390.5 521h0M400.3 521h0M331.7 606.4h0M351.3 606.4h0"/>
<path stroke="#bc97ff" d="M184.5 282h0M223.8 299h0M341.5 299h0M297.3 307.6h0M316.9 324.7h0M272.8 367.3h0M277.7 375.9h0M616.2 418.6h0M419.9 435.6h0M459.2 435.6h0M434.7 444.2h0M419.9 452.7h0M415 461.2h0M434.7 461.2h0M444.5 461.2h0M419.9 469.8h0M429.8 469.8h0M415 495.4h0M434.7 495.4h0M449.4 503.9h0M282.6 521h0M375.8 529.5h0M385.6 529.5h0M361.1 538.1h0M375.8 563.7h0M351.3 572.2h0M321.9 589.3h0M326.8 614.9h0M321.9 623.4h0M326.8 632h0M336.6 632h0M321.9 640.5h0M331.7 640.5h0M316.9 649.1h0M321.9 657.6h0M326.8 666.1h0"/>
<path stroke="#c4a2ff" d="M410.1 162.4h0M356.2 256.4h0M194.3 264.9h0M194.3 299h0M292.4 316.1h0M321.9 316.1h0M331.7 316.1h0M341.5 316.1h0M346.4 324.7h0M366 324.7h0M179.6 358.8h0M444.5 427.1h0M464.1 427.1h0M473.9 427.1h0M410.1 435.6h0M415 444.2h0M444.5 444.2h0M439.6 452.7h0M321.9 469.8h0M424.9 478.3h0M400.3 486.9h0M410.1 486.9h0M419.9 486.9h0M405.2 495.4h0M400.3 503.9h0M410.1 503.9h0M419.9 503.9h0M439.6 503.9h0M385.6 512.5h0M415 512.5h0M312 521h0M331.7 521h0M419.9 521h0M326.8 529.5h0M395.4 529.5h0M405.2 529.5h0M302.2 538.1h0M380.7 538.1h0M375.8 546.6h0M361.1 555.2h0M380.7 555.2h0M395.4 563.7h0M361.1 572.2h0M331.7 589.3h0M361.1 589.3h0M336.6 597.8h0M346.4 597.8h0M341.5 623.4h0M316.9 666.1h0M356.2 700.3h0M405.2 700.3h0M155.1 743h0"/>
<path stroke="#ccadff" d="M532.8 205.1h0M238.5 239.3h0M282.6 247.8h0M238.5 256.4h0M204.1 264.9h0M223.8 264.9h0M233.6 264.9h0M199.2 273.4h0M395.4 273.4h0M194.3 282h0M223.8 282h0M189.4 290.5h0M209 290.5h0M233.6 299h0M321.9 299h0M199.2 307.6h0M307.1 307.6h0M316.9 307.6h0M366 307.6h0M370.9 316.1h0M380.7 316.1h0M390.5 316.1h0M326.8 324.7h0M336.6 324.7h0M439.6 333.2h0M449.4 350.3h0M189.4 358.8h0M199.2 358.8h0M218.8 358.8h0M277.7 358.8h0M282.6 367.3h0M321.9 367.3h0M331.7 367.3h0M405.2 427.1h0M415 427.1h0M454.3 427.1h0M449.4 435.6h0M297.3 444.2h0M336.6 444.2h0M400.3 452.7h0M410.1 452.7h0M331.7 469.8h0M248.3 478.3h0M277.7 478.3h0M346.4 478.3h0M405.2 478.3h0M434.7 478.3h0M424.9 495.4h0M282.6 503.9h0M390.5 503.9h0M228.7 512.5h0M316.9 512.5h0M326.8 512.5h0M395.4 512.5h0M263 521h0M415 529.5h0M331.7 538.1h0M390.5 538.1h0M287.5 546.6h0M356.2 546.6h0M385.6 546.6h0M370.9 555.2h0M390.5 555.2h0M370.9 572.2h0M346.4 580.8h0M356.2 580.8h0M341.5 589.3h0M321.9 606.4h0M341.5 606.4h0M184.5 657.6h0M179.6 666.1h0M204.1 674.7h0M160 734.4h0M160 751.5h0"/>
<path stroke="#d4b9ff" d="M228.7 239.3h0M267.9 239.3h0M228.7 256.4h0M248.3 256.4h0M287.5 256.4h0M316.9 256.4h0M243.4 264.9h0M189.4 273.4h0M174.7 282h0M228.7 290.5h0M204.1 299h0M312 299h0M419.9 299h0M209 307.6h0M218.8 307.6h0M267.9 307.6h0M356.2 307.6h0M184.5 316.1h0M263 316.1h0M351.3 316.1h0M361.1 316.1h0M297.3 324.7h0M307.1 324.7h0M385.6 324.7h0M380.7 333.2h0M390.5 333.2h0M228.7 358.8h0M258.1 358.8h0M444.5 358.8h0M194.3 367.3h0M213.9 367.3h0M223.8 367.3h0M233.6 367.3h0M253.2 367.3h0M469 384.4h0M248.3 392.9h0M253.2 418.6h0M469 418.6h0M478.8 418.6h0M218.8 427.1h0M238.5 427.1h0M370.9 435.6h0M429.8 435.6h0M287.5 444.2h0M405.2 444.2h0M454.3 444.2h0M292.4 452.7h0M469 452.7h0M346.4 461.2h0M405.2 461.2h0M297.3 478.3h0M253.2 486.9h0M454.3 495.4h0M243.4 503.9h0M321.9 503.9h0M258.1 512.5h0M307.1 512.5h0M336.6 512.5h0M346.4 512.5h0M424.9 512.5h0M434.7 512.5h0M223.8 521h0M243.4 521h0M321.9 521h0M351.3 521h0M410.1 521h0M277.7 529.5h0M336.6 529.5h0M366 529.5h0M292.4 538.1h0M370.9 538.1h0M400.3 538.1h0M351.3 555.2h0M346.4 563.7h0M356.2 563.7h0M385.6 563.7h0M611.2 563.7h0M341.5 572.2h0M336.6 580.8h0M351.3 589.3h0M312 606.4h0M312 623.4h0M316.9 632h0M527.9 657.6h0M243.4 674.7h0"/>
<path stroke="#dcc4ff" d="M366 153.9h0M493.5 188.1h0M199.2 222.2h0M277.7 239.3h0M253.2 247.8h0M312 247.8h0M331.7 247.8h0M341.5 247.8h0M209 256.4h0M297.3 256.4h0M326.8 256.4h0M336.6 256.4h0M370.9 264.9h0M385.6 273.4h0M204.1 282h0M179.6 290.5h0M238.5 290.5h0M346.4 290.5h0M424.9 290.5h0M184.5 299h0M213.9 299h0M243.4 299h0M282.6 299h0M361.1 299h0M370.9 299h0M189.4 307.6h0M277.7 307.6h0M424.9 307.6h0M243.4 316.1h0M253.2 316.1h0M272.8 316.1h0M596.5 316.1h0M395.4 324.7h0M321.9 333.2h0M341.5 333.2h0M375.8 341.7h0M464.1 341.7h0M331.7 350.3h0M429.8 350.3h0M238.5 358.8h0M267.9 358.8h0M297.3 358.8h0M454.3 358.8h0M464.1 358.8h0M292.4 367.3h0M459.2 367.3h0M336.6 375.9h0M473.9 375.9h0M213.9 384.4h0M361.1 384.4h0M189.4 392.9h0M277.7 392.9h0M424.9 392.9h0M473.9 392.9h0M272.8 401.5h0M469 401.5h0M341.5 418.6h0M361.1 418.6h0M370.9 418.6h0M429.8 418.6h0M248.3 427.1h0M307.1 427.1h0M326.8 427.1h0M375.8 427.1h0M243.4 435.6h0M302.2 435.6h0M341.5 435.6h0M380.7 435.6h0M400.3 435.6h0M199.2 444.2h0M316.9 444.2h0M346.4 444.2h0M375.8 444.2h0M385.6 444.2h0M282.6 452.7h0M302.2 452.7h0M331.7 452.7h0M390.5 452.7h0M267.9 461.2h0M287.5 461.2h0M297.3 461.2h0M258.1 478.3h0M356.2 478.3h0M395.4 478.3h0M331.7 486.9h0M361.1 486.9h0M218.8 495.4h0M258.1 495.4h0M277.7 495.4h0M223.8 503.9h0M233.6 503.9h0M331.7 503.9h0M341.5 503.9h0M380.7 503.9h0M616.2 503.9h0M238.5 512.5h0M277.7 512.5h0M287.5 512.5h0M375.8 512.5h0M292.4 521h0M341.5 521h0M361.1 521h0M621.1 529.5h0M223.8 538.1h0M321.9 538.1h0M341.5 538.1h0M351.3 538.1h0M410.1 538.1h0M297.3 546.6h0M366 546.6h0M395.4 546.6h0M248.3 563.7h0M277.7 563.7h0M366 563.7h0M297.3 580.8h0M375.8 580.8h0M370.9 589.3h0M199.2 597.8h0M326.8 597.8h0M356.2 597.8h0M361.1 606.4h0M336.6 614.9h0M346.4 614.9h0M194.3 623.4h0M263 623.4h0M169.8 632h0M248.3 632h0M277.7 632h0M307.1 632h0M233.6 640.5h0M341.5 640.5h0M179.6 649.1h0M258.1 649.1h0M189.4 666.1h0M184.5 674.7h0M189.4 683.2h0M483.7 683.2h0M415 700.3h0"/>
<path stroke="#e3d0ff" d="M287.5 153.9h0M346.4 153.9h0M356.2 153.9h0M400.3 162.4h0M547.5 213.7h0M562.2 222.2h0M258.1 239.3h0M213.9 247.8h0M223.8 247.8h0M233.6 247.8h0M258.1 256.4h0M277.7 256.4h0M366 256.4h0M213.9 264.9h0M253.2 264.9h0M341.5 264.9h0M361.1 264.9h0M380.7 264.9h0M179.6 273.4h0M218.8 273.4h0M228.7 273.4h0M238.5 273.4h0M248.3 273.4h0M233.6 282h0M400.3 282h0M410.1 282h0M307.1 290.5h0M253.2 299h0M292.4 299h0M331.7 299h0M351.3 299h0M429.8 299h0M287.5 307.6h0M326.8 307.6h0M346.4 307.6h0M385.6 307.6h0M542.6 307.6h0M258.1 324.7h0M287.5 324.7h0M331.7 333.2h0M361.1 333.2h0M459.2 333.2h0M199.2 341.7h0M346.4 341.7h0M356.2 341.7h0M444.5 341.7h0M419.9 350.3h0M459.2 350.3h0M209 358.8h0M248.3 358.8h0M287.5 358.8h0M184.5 367.3h0M263 367.3h0M302.2 367.3h0M390.5 367.3h0M449.4 367.3h0M218.8 375.9h0M238.5 375.9h0M248.3 375.9h0M346.4 375.9h0M331.7 384.4h0M410.1 384.4h0M478.8 384.4h0M199.2 392.9h0M218.8 392.9h0M297.3 392.9h0M307.1 392.9h0M316.9 392.9h0M356.2 392.9h0M302.2 401.5h0M478.8 401.5h0M218.8 410h0M297.3 410h0M375.8 410h0M464.1 410h0M233.6 418.6h0M439.6 418.6h0M267.9 427.1h0M277.7 427.1h0M366 427.1h0M434.7 427.1h0M184.5 435.6h0M253.2 435.6h0M263 435.6h0M312 435.6h0M361.1 435.6h0M390.5 435.6h0M238.5 444.2h0M267.9 444.2h0M307.1 444.2h0M326.8 444.2h0M356.2 444.2h0M204.1 452.7h0M243.4 452.7h0M253.2 452.7h0M351.3 452.7h0M361.1 452.7h0M370.9 452.7h0M228.7 461.2h0M238.5 461.2h0M248.3 461.2h0M204.1 469.8h0M302.2 469.8h0M351.3 469.8h0M400.3 469.8h0M209 478.3h0M473.9 478.3h0M223.8 486.9h0M272.8 486.9h0M292.4 486.9h0M321.9 486.9h0M390.5 486.9h0M429.8 486.9h0M459.2 486.9h0M228.7 495.4h0M267.9 495.4h0M336.6 495.4h0M346.4 495.4h0M385.6 495.4h0M473.9 495.4h0M263 503.9h0M302.2 503.9h0M351.3 503.9h0M370.9 503.9h0M469 503.9h0M483.7 512.5h0M258.1 529.5h0M287.5 529.5h0M307.1 529.5h0M346.4 529.5h0M213.9 538.1h0M272.8 538.1h0M218.8 546.6h0M228.7 546.6h0M258.1 546.6h0M267.9 546.6h0M415 546.6h0M272.8 555.2h0M204.1 572.2h0M272.8 572.2h0M302.2 572.2h0M366 580.8h0M302.2 589.3h0M312 589.3h0M316.9 597.8h0M366 597.8h0M258.1 614.9h0M307.1 614.9h0M243.4 623.4h0M253.2 623.4h0M488.6 623.4h0M209 632h0M218.8 632h0M346.4 632h0M174.7 640.5h0M194.3 640.5h0M263 640.5h0M272.8 640.5h0M312 640.5h0M287.5 649.1h0M331.7 657.6h0M169.8 666.1h0M503.3 666.1h0M321.9 674.7h0M287.5 683.2h0M184.5 691.7h0M267.9 700.3h0M375.8 700.3h0M410.1 708.8h0M160 717.4h0M209 734.4h0"/>
<path stroke="#ebdcff" d="M297.3 153.9h0M469 179.5h0M483.7 188.1h0M194.3 196.6h0M223.8 196.6h0M243.4 196.6h0M439.6 196.6h0M228.7 205.1h0M449.4 213.7h0M179.6 222.2h0M189.4 222.2h0M326.8 239.3h0M263 247.8h0M272.8 247.8h0M292.4 247.8h0M302.2 247.8h0M380.7 247.8h0M307.1 256.4h0M375.8 256.4h0M464.1 256.4h0M572 256.4h0M351.3 264.9h0M209 273.4h0M199.2 290.5h0M258.1 290.5h0M263 299h0M272.8 299h0M302.2 299h0M248.3 307.6h0M336.6 307.6h0M375.8 307.6h0M213.9 316.1h0M282.6 316.1h0M209 324.7h0M248.3 324.7h0M277.7 324.7h0M434.7 324.7h0M243.4 333.2h0M370.9 333.2h0M400.3 333.2h0M238.5 341.7h0M366 341.7h0M405.2 341.7h0M424.9 341.7h0M454.3 341.7h0M204.1 350.3h0M253.2 350.3h0M263 350.3h0M292.4 350.3h0M321.9 350.3h0M370.9 350.3h0M307.1 358.8h0M316.9 358.8h0M375.8 358.8h0M434.7 358.8h0M204.1 367.3h0M243.4 367.3h0M312 367.3h0M351.3 367.3h0M370.9 367.3h0M199.2 375.9h0M267.9 375.9h0M287.5 375.9h0M375.8 375.9h0M395.4 375.9h0M424.9 375.9h0M464.1 375.9h0M184.5 384.4h0M263 384.4h0M272.8 384.4h0M292.4 384.4h0M370.9 401.5h0M410.1 401.5h0M616.2 401.5h0M228.7 410h0M346.4 410h0M356.2 410h0M366 410h0M424.9 410h0M621.1 410h0M223.8 418.6h0M272.8 418.6h0M292.4 418.6h0M312 418.6h0M321.9 418.6h0M331.7 418.6h0M351.3 418.6h0M380.7 418.6h0M547.5 418.6h0M258.1 427.1h0M316.9 427.1h0M233.6 435.6h0M282.6 435.6h0M321.9 435.6h0M351.3 435.6h0M228.7 444.2h0M248.3 444.2h0M277.7 444.2h0M366 444.2h0M194.3 452.7h0M223.8 452.7h0M263 452.7h0M272.8 452.7h0M312 452.7h0M341.5 452.7h0M488.6 452.7h0M616.2 452.7h0M189.4 461.2h0M199.2 461.2h0M209 461.2h0M218.8 461.2h0M277.7 461.2h0M326.8 461.2h0M336.6 461.2h0M356.2 461.2h0M366 461.2h0M395.4 461.2h0M233.6 469.8h0M243.4 469.8h0M263 469.8h0M282.6 469.8h0M341.5 469.8h0M307.1 478.3h0M316.9 478.3h0M375.8 478.3h0M591.6 478.3h0M282.6 486.9h0M302.2 486.9h0M312 486.9h0M351.3 486.9h0M616.2 486.9h0M248.3 495.4h0M316.9 495.4h0M366 495.4h0M375.8 495.4h0M253.2 503.9h0M272.8 503.9h0M429.8 503.9h0M488.6 503.9h0M297.3 512.5h0M366 512.5h0M621.1 512.5h0M213.9 521h0M302.2 521h0M429.8 521h0M218.8 529.5h0M297.3 529.5h0M316.9 529.5h0M233.6 538.1h0M282.6 538.1h0M312 538.1h0M419.9 538.1h0M277.7 546.6h0M307.1 546.6h0M316.9 546.6h0M326.8 546.6h0M346.4 546.6h0M233.6 555.2h0M253.2 555.2h0M263 555.2h0M282.6 555.2h0M292.4 555.2h0M400.3 555.2h0M601.4 563.7h0M321.9 572.2h0M218.8 580.8h0M258.1 580.8h0M267.9 580.8h0M307.1 580.8h0M326.8 580.8h0M184.5 589.3h0M263 589.3h0M596.5 589.3h0M189.4 597.8h0M248.3 597.8h0M189.4 614.9h0M238.5 614.9h0M356.2 614.9h0M503.3 614.9h0M204.1 623.4h0M213.9 623.4h0M233.6 623.4h0M272.8 623.4h0M228.7 632h0M267.9 632h0M243.4 640.5h0M292.4 640.5h0M169.8 649.1h0M218.8 649.1h0M228.7 649.1h0M336.6 649.1h0M194.3 657.6h0M307.1 666.1h0M513.1 666.1h0M272.8 674.7h0M218.8 683.2h0M238.5 683.2h0M277.7 700.3h0M390.5 708.8h0M179.6 734.4h0M228.7 734.4h0M164.9 743h0"/>
<path stroke="#f2e7ff" d="M336.6 153.9h0M390.5 162.4h0M213.9 179.5h0M223.8 179.5h0M263 179.5h0M459.2 179.5h0M228.7 188.1h0M233.6 196.6h0M498.4 196.6h0M508.2 196.6h0M356.2 205.1h0M537.7 213.7h0M542.6 222.2h0M415 239.3h0M464.1 239.3h0M321.9 247.8h0M351.3 247.8h0M518 247.8h0M267.9 256.4h0M346.4 256.4h0M483.7 256.4h0M321.9 264.9h0M390.5 264.9h0M405.2 273.4h0M213.9 282h0M243.4 282h0M312 282h0M361.1 282h0M248.3 290.5h0M316.9 290.5h0M336.6 290.5h0M366 290.5h0M380.7 299h0M586.7 299h0M179.6 307.6h0M228.7 307.6h0M194.3 316.1h0M429.8 316.1h0M439.6 316.1h0M267.9 324.7h0M415 324.7h0M444.5 324.7h0M591.6 324.7h0M184.5 333.2h0M223.8 333.2h0M253.2 333.2h0M272.8 333.2h0M292.4 333.2h0M312 333.2h0M351.3 333.2h0M449.4 333.2h0M189.4 341.7h0M209 341.7h0M326.8 341.7h0M395.4 341.7h0M184.5 350.3h0M194.3 350.3h0M302.2 350.3h0M380.7 350.3h0M469 350.3h0M356.2 358.8h0M366 358.8h0M385.6 358.8h0M424.9 358.8h0M601.4 358.8h0M341.5 367.3h0M439.6 367.3h0M469 367.3h0M209 375.9h0M228.7 375.9h0M258.1 375.9h0M297.3 375.9h0M326.8 375.9h0M356.2 375.9h0M385.6 375.9h0M223.8 384.4h0M302.2 384.4h0M312 384.4h0M228.7 392.9h0M267.9 392.9h0M375.8 392.9h0M454.3 392.9h0M184.5 401.5h0M213.9 401.5h0M292.4 401.5h0M238.5 410h0M248.3 410h0M258.1 410h0M434.7 410h0M444.5 410h0M204.1 418.6h0M243.4 418.6h0M302.2 418.6h0M400.3 418.6h0M557.3 418.6h0M346.4 427.1h0M385.6 427.1h0M223.8 435.6h0M272.8 435.6h0M292.4 435.6h0M616.2 435.6h0M209 444.2h0M218.8 444.2h0M258.1 444.2h0M395.4 444.2h0M493.5 444.2h0M591.6 444.2h0M174.7 452.7h0M233.6 452.7h0M321.9 452.7h0M380.7 452.7h0M307.1 461.2h0M272.8 469.8h0M312 469.8h0M361.1 469.8h0M189.4 478.3h0M228.7 478.3h0M287.5 478.3h0M326.8 478.3h0M611.2 478.3h0M243.4 486.9h0M263 486.9h0M287.5 495.4h0M326.8 495.4h0M483.7 495.4h0M213.9 503.9h0M508.2 503.9h0M248.3 512.5h0M267.9 512.5h0M356.2 512.5h0M204.1 521h0M228.7 529.5h0M238.5 529.5h0M248.3 529.5h0M356.2 529.5h0M581.8 529.5h0M194.3 538.1h0M253.2 538.1h0M586.7 538.1h0M616.2 538.1h0M199.2 546.6h0M336.6 546.6h0M611.2 546.6h0M243.4 555.2h0M312 555.2h0M410.1 555.2h0M606.3 555.2h0M179.6 563.7h0M189.4 563.7h0M209 563.7h0M267.9 563.7h0M287.5 563.7h0M263 572.2h0M292.4 572.2h0M606.3 572.2h0M238.5 580.8h0M277.7 580.8h0M316.9 580.8h0M194.3 589.3h0M272.8 589.3h0M282.6 589.3h0M527.9 589.3h0M238.5 597.8h0M267.9 597.8h0M307.1 597.8h0M184.5 606.4h0M243.4 606.4h0M272.8 606.4h0M302.2 606.4h0M199.2 614.9h0M218.8 614.9h0M287.5 614.9h0M199.2 632h0M238.5 632h0M258.1 632h0M493.5 632h0M204.1 640.5h0M213.9 640.5h0M223.8 640.5h0M282.6 640.5h0M302.2 640.5h0M199.2 649.1h0M277.7 649.1h0M307.1 649.1h0M302.2 657.6h0M312 657.6h0M238.5 666.1h0M258.1 666.1h0M287.5 666.1h0M164.9 674.7h0M174.7 674.7h0M194.3 674.7h0M253.2 674.7h0M282.6 674.7h0M169.8 683.2h0M179.6 683.2h0M258.1 683.2h0M277.7 683.2h0M307.1 683.2h0M263 691.7h0M282.6 691.7h0M292.4 691.7h0M410.1 691.7h0M400.3 708.8h0M169.8 717.4h0M174.7 725.9h0M272.8 725.9h0M150.2 734.4h0M199.2 734.4h0"/>
<path stroke="#f8f3ff" d="M307.1 153.9h0M316.9 153.9h0M204.1 162.4h0M282.6 162.4h0M312 162.4h0M380.7 162.4h0M419.9 162.4h0M228.7 171h0M238.5 171h0M316.9 171h0M424.9 171h0M282.6 179.5h0M405.2 188.1h0M473.9 188.1h0M184.5 196.6h0M272.8 196.6h0M179.6 205.1h0M307.1 205.1h0M213.9 213.7h0M370.9 213.7h0M380.7 213.7h0M218.8 222.2h0M184.5 230.7h0M213.9 230.7h0M199.2 239.3h0M218.8 239.3h0M297.3 239.3h0M316.9 239.3h0M243.4 247.8h0M361.1 247.8h0M532.8 256.4h0M272.8 282h0M292.4 282h0M351.3 282h0M287.5 290.5h0M356.2 290.5h0M405.2 290.5h0M434.7 307.6h0M204.1 316.1h0M498.4 316.1h0M375.8 324.7h0M405.2 324.7h0M454.3 324.7h0M194.3 333.2h0M204.1 333.2h0M233.6 333.2h0M263 333.2h0M410.1 333.2h0M248.3 341.7h0M267.9 341.7h0M552.4 341.7h0M223.8 350.3h0M282.6 350.3h0M390.5 350.3h0M439.6 350.3h0M415 358.8h0M361.1 367.3h0M410.1 367.3h0M429.8 367.3h0M189.4 375.9h0M366 375.9h0M233.6 384.4h0M253.2 384.4h0M321.9 384.4h0M370.9 384.4h0M238.5 392.9h0M336.6 392.9h0M385.6 392.9h0M611.2 392.9h0M312 401.5h0M321.9 401.5h0M341.5 401.5h0M390.5 401.5h0M419.9 401.5h0M449.4 401.5h0M488.6 401.5h0M209 410h0M267.9 410h0M307.1 410h0M336.6 410h0M483.7 410h0M213.9 418.6h0M390.5 418.6h0M419.9 418.6h0M459.2 418.6h0M488.6 418.6h0M179.6 427.1h0M287.5 427.1h0M336.6 427.1h0M356.2 427.1h0M395.4 427.1h0M503.3 427.1h0M532.8 427.1h0M552.4 427.1h0M331.7 435.6h0M478.8 435.6h0M498.4 435.6h0M189.4 444.2h0M473.9 444.2h0M478.8 452.7h0M385.6 461.2h0M184.5 469.8h0M194.3 469.8h0M213.9 469.8h0M223.8 469.8h0M292.4 469.8h0M370.9 469.8h0M469 469.8h0M606.3 469.8h0M199.2 478.3h0M267.9 478.3h0M336.6 478.3h0M366 478.3h0M464.1 478.3h0M174.7 486.9h0M194.3 486.9h0M213.9 486.9h0M233.6 486.9h0M498.4 486.9h0M606.3 486.9h0M179.6 495.4h0M199.2 495.4h0M307.1 495.4h0M184.5 503.9h0M194.3 503.9h0M292.4 503.9h0M312 503.9h0M361.1 503.9h0M478.8 503.9h0M498.4 503.9h0M189.4 512.5h0M218.8 512.5h0M473.9 512.5h0M523 512.5h0M272.8 521h0M439.6 521h0M469 521h0M209 529.5h0M204.1 538.1h0M243.4 538.1h0M248.3 546.6h0M464.1 546.6h0M552.4 546.6h0M184.5 555.2h0M194.3 555.2h0M302.2 555.2h0M331.7 555.2h0M341.5 555.2h0M488.6 555.2h0M228.7 563.7h0M238.5 563.7h0M258.1 563.7h0M405.2 563.7h0M213.9 572.2h0M243.4 572.2h0M282.6 572.2h0M312 572.2h0M331.7 572.2h0M390.5 572.2h0M189.4 580.8h0M228.7 580.8h0M385.6 580.8h0M223.8 589.3h0M179.6 597.8h0M258.1 597.8h0M194.3 606.4h0M204.1 606.4h0M253.2 606.4h0M263 606.4h0M488.6 606.4h0M508.2 606.4h0M169.8 614.9h0M248.3 614.9h0M174.7 623.4h0M282.6 623.4h0M302.2 623.4h0M351.3 623.4h0M179.6 632h0M189.4 632h0M287.5 632h0M552.4 632h0M184.5 640.5h0M253.2 640.5h0M238.5 649.1h0M248.3 649.1h0M213.9 657.6h0M223.8 657.6h0M243.4 657.6h0M253.2 657.6h0M263 657.6h0M292.4 657.6h0M218.8 666.1h0M267.9 666.1h0M213.9 674.7h0M263 674.7h0M312 674.7h0M331.7 674.7h0M209 683.2h0M267.9 683.2h0M174.7 691.7h0M194.3 691.7h0M253.2 691.7h0M302.2 691.7h0M361.1 691.7h0M189.4 700.3h0M228.7 700.3h0M258.1 700.3h0M366 700.3h0M395.4 700.3h0M424.9 700.3h0M429.8 708.8h0M267.9 717.4h0M204.1 725.9h0M223.8 725.9h0M258.1 734.4h0M267.9 734.4h0"/>
<path stroke="#ffffff" d="M184.5 162.4h0M223.8 162.4h0M292.4 162.4h0M321.9 162.4h0M341.5 162.4h0M179.6 171h0M248.3 171h0M267.9 171h0M277.7 171h0M287.5 171h0M405.2 171h0M434.7 171h0M444.5 171h0M184.5 179.5h0M204.1 179.5h0M243.4 179.5h0M253.2 179.5h0M272.8 179.5h0M312 179.5h0M410.1 179.5h0M179.6 188.1h0M307.1 188.1h0M253.2 196.6h0M488.6 196.6h0M189.4 205.1h0M248.3 205.1h0M424.9 205.1h0M444.5 205.1h0M204.1 213.7h0M366 222.2h0M464.1 222.2h0M552.4 222.2h0M194.3 230.7h0M204.1 230.7h0M282.6 230.7h0M380.7 230.7h0M410.1 230.7h0M459.2 230.7h0M248.3 239.3h0M287.5 239.3h0M307.1 239.3h0M375.8 239.3h0M405.2 239.3h0M204.1 247.8h0M459.2 247.8h0M199.2 256.4h0M405.2 256.4h0M473.9 256.4h0M542.6 256.4h0M331.7 264.9h0M410.1 264.9h0M478.8 264.9h0M169.8 273.4h0M375.8 273.4h0M415 273.4h0M253.2 282h0M321.9 282h0M390.5 282h0M419.9 282h0M547.5 282h0M576.9 282h0M277.7 290.5h0M297.3 290.5h0M326.8 290.5h0M415 290.5h0M488.6 299h0M498.4 299h0M547.5 299h0M238.5 307.6h0M223.8 316.1h0M233.6 316.1h0M449.4 316.1h0M586.7 316.1h0M199.2 324.7h0M238.5 324.7h0M282.6 333.2h0M302.2 333.2h0M218.8 341.7h0M228.7 341.7h0M297.3 341.7h0M307.1 341.7h0M316.9 341.7h0M336.6 341.7h0M385.6 341.7h0M415 341.7h0M213.9 350.3h0M233.6 350.3h0M243.4 350.3h0M527.9 350.3h0M557.3 350.3h0M596.5 350.3h0M395.4 358.8h0M478.8 367.3h0M307.1 375.9h0M483.7 375.9h0M493.5 375.9h0M611.2 375.9h0M204.1 384.4h0M243.4 384.4h0M282.6 384.4h0M341.5 384.4h0M351.3 384.4h0M380.7 384.4h0M390.5 384.4h0M419.9 384.4h0M209 392.9h0M366 392.9h0M395.4 392.9h0M415 392.9h0M434.7 392.9h0M464.1 392.9h0M552.4 392.9h0M204.1 401.5h0M223.8 401.5h0M253.2 401.5h0M361.1 401.5h0M380.7 401.5h0M400.3 401.5h0M439.6 401.5h0M459.2 401.5h0M189.4 410h0M385.6 410h0M395.4 410h0M552.4 410h0M184.5 418.6h0M194.3 418.6h0M263 418.6h0M282.6 418.6h0M410.1 418.6h0M449.4 418.6h0M508.2 418.6h0M596.5 418.6h0M228.7 427.1h0M297.3 427.1h0M523 427.1h0M194.3 435.6h0M508.2 435.6h0M606.3 435.6h0M179.6 444.2h0M523 444.2h0M601.4 444.2h0M213.9 452.7h0M258.1 461.2h0M316.9 461.2h0M375.8 461.2h0M473.9 461.2h0M493.5 461.2h0M253.2 469.8h0M380.7 469.8h0M390.5 469.8h0M478.8 469.8h0M527.9 469.8h0M596.5 469.8h0M385.6 478.3h0M503.3 478.3h0M184.5 486.9h0M204.1 486.9h0M341.5 486.9h0M380.7 486.9h0M209 495.4h0M238.5 495.4h0M297.3 495.4h0M356.2 495.4h0M532.8 495.4h0M572 495.4h0M199.2 512.5h0M209 512.5h0M493.5 512.5h0M174.7 521h0M253.2 521h0M199.2 529.5h0M552.4 529.5h0M263 538.1h0M429.8 538.1h0M567.1 538.1h0M576.9 538.1h0M189.4 546.6h0M209 546.6h0M562.2 546.6h0M204.1 555.2h0M213.9 555.2h0M307.1 563.7h0M316.9 563.7h0M326.8 563.7h0M169.8 580.8h0M179.6 580.8h0M287.5 580.8h0M204.1 589.3h0M243.4 589.3h0M253.2 589.3h0M292.4 589.3h0M488.6 589.3h0M375.8 597.8h0M444.5 597.8h0M493.5 597.8h0M532.8 597.8h0M213.9 606.4h0M292.4 606.4h0M478.8 606.4h0M209 614.9h0M228.7 614.9h0M267.9 614.9h0M483.7 614.9h0M523 614.9h0M223.8 623.4h0M292.4 623.4h0M498.4 623.4h0M567.1 623.4h0M503.3 632h0M189.4 649.1h0M209 649.1h0M267.9 649.1h0M174.7 657.6h0M204.1 657.6h0M518 657.6h0M233.6 674.7h0M292.4 674.7h0M488.6 674.7h0M199.2 683.2h0M297.3 683.2h0M346.4 683.2h0M204.1 691.7h0M213.9 691.7h0M223.8 691.7h0M233.6 691.7h0M419.9 691.7h0M179.6 700.3h0M297.3 700.3h0M434.7 700.3h0M174.7 708.8h0M204.1 708.8h0M253.2 708.8h0M189.4 717.4h0M184.5 725.9h0M213.9 725.9h0M282.6 725.9h0M292.4 725.9h0M218.8 734.4h0M184.5 743h0M233.6 743h0"/>
<path stroke="#fff5f2" d="M331.7 145.4h0M213.9 162.4h0M272.8 162.4h0M331.7 162.4h0M370.9 162.4h0M199.2 171h0M209 171h0M218.8 171h0M258.1 171h0M297.3 171h0M415 171h0M194.3 179.5h0M439.6 179.5h0M189.4 188.1h0M209 188.1h0M238.5 188.1h0M258.1 188.1h0M326.8 188.1h0M385.6 188.1h0M469 196.6h0M218.8 205.1h0M297.3 205.1h0M405.2 205.1h0M434.7 205.1h0M464.1 205.1h0M194.3 213.7h0M223.8 213.7h0M361.1 213.7h0M400.3 213.7h0M459.2 213.7h0M469 213.7h0M527.9 213.7h0M228.7 222.2h0M267.9 222.2h0M395.4 222.2h0M302.2 230.7h0M361.1 230.7h0M419.9 230.7h0M508.2 230.7h0M527.9 230.7h0M189.4 239.3h0M209 239.3h0M336.6 239.3h0M346.4 239.3h0M385.6 239.3h0M532.8 239.3h0M184.5 247.8h0M429.8 247.8h0M179.6 256.4h0M189.4 256.4h0M493.5 256.4h0M523 256.4h0M562.2 256.4h0M184.5 264.9h0M312 264.9h0M449.4 264.9h0M459.2 264.9h0M469 264.9h0M527.9 264.9h0M547.5 264.9h0M267.9 273.4h0M366 273.4h0M464.1 273.4h0M263 282h0M302.2 282h0M469 282h0M454.3 290.5h0M464.1 290.5h0M523 290.5h0M572 290.5h0M581.8 290.5h0M508.2 299h0M527.9 299h0M444.5 307.6h0M464.1 307.6h0M473.9 307.6h0M523 307.6h0M400.3 316.1h0M508.2 316.1h0M218.8 324.7h0M213.9 333.2h0M429.8 333.2h0M258.1 341.7h0M572 341.7h0M591.6 341.7h0M272.8 350.3h0M361.1 350.3h0M400.3 350.3h0M410.1 350.3h0M547.5 350.3h0M326.8 358.8h0M336.6 358.8h0M346.4 358.8h0M523 358.8h0M542.6 358.8h0M591.6 358.8h0M419.9 367.3h0M316.9 375.9h0M405.2 375.9h0M415 375.9h0M434.7 375.9h0M194.3 384.4h0M429.8 384.4h0M449.4 384.4h0M459.2 384.4h0M258.1 392.9h0M287.5 392.9h0M405.2 392.9h0M542.6 392.9h0M243.4 401.5h0M263 401.5h0M282.6 401.5h0M331.7 401.5h0M351.3 401.5h0M498.4 401.5h0M527.9 401.5h0M606.3 401.5h0M199.2 410h0M277.7 410h0M287.5 410h0M316.9 410h0M405.2 410h0M415 410h0M454.3 410h0M581.8 410h0M189.4 427.1h0M562.2 427.1h0M601.4 427.1h0M611.2 427.1h0M213.9 435.6h0M169.8 444.2h0M483.7 444.2h0M532.8 444.2h0M498.4 452.7h0M518 452.7h0M523 461.2h0M611.2 461.2h0M498.4 469.8h0M218.8 478.3h0M238.5 478.3h0M513.1 478.3h0M601.4 478.3h0M370.9 486.9h0M478.8 486.9h0M508.2 486.9h0M518 486.9h0M586.7 486.9h0M189.4 495.4h0M464.1 495.4h0M174.7 503.9h0M204.1 503.9h0M586.7 503.9h0M179.6 512.5h0M601.4 512.5h0M611.2 512.5h0M194.3 521h0M233.6 521h0M518 521h0M527.9 521h0M547.5 521h0M179.6 529.5h0M267.9 529.5h0M493.5 529.5h0M542.6 529.5h0M562.2 529.5h0M174.7 538.1h0M424.9 546.6h0M503.3 546.6h0M174.7 555.2h0M223.8 555.2h0M321.9 555.2h0M527.9 555.2h0M596.5 555.2h0M297.3 563.7h0M336.6 563.7h0M503.3 563.7h0M513.1 563.7h0M184.5 572.2h0M233.6 572.2h0M253.2 572.2h0M410.1 572.2h0M498.4 572.2h0M518 572.2h0M576.9 572.2h0M596.5 572.2h0M199.2 580.8h0M209 580.8h0M248.3 580.8h0M405.2 580.8h0M434.7 580.8h0M532.8 580.8h0M174.7 589.3h0M213.9 589.3h0M429.8 589.3h0M478.8 589.3h0M508.2 589.3h0M547.5 589.3h0M209 597.8h0M297.3 597.8h0M503.3 597.8h0M513.1 597.8h0M581.8 597.8h0M223.8 606.4h0M429.8 606.4h0M469 606.4h0M179.6 614.9h0M277.7 614.9h0M493.5 614.9h0M562.2 614.9h0M518 623.4h0M527.9 623.4h0M297.3 632h0M473.9 632h0M483.7 632h0M523 632h0M542.6 632h0M478.8 640.5h0M488.6 640.5h0M518 640.5h0M537.7 640.5h0M532.8 649.1h0M272.8 657.6h0M282.6 657.6h0M209 666.1h0M248.3 666.1h0M277.7 666.1h0M405.2 666.1h0M483.7 666.1h0M223.8 674.7h0M429.8 674.7h0M478.8 674.7h0M228.7 683.2h0M316.9 683.2h0M424.9 683.2h0M243.4 691.7h0M272.8 691.7h0M341.5 691.7h0M390.5 691.7h0M209 700.3h0M263 708.8h0M179.6 717.4h0M199.2 717.4h0M248.3 717.4h0M277.7 717.4h0M233.6 725.9h0M243.4 725.9h0M263 725.9h0M248.3 734.4h0M243.4 743h0"/>
<path stroke="#ffece5" d="M253.2 128.3h0M258.1 136.8h0M351.3 162.4h0M346.4 171h0M366 171h0M321.9 179.5h0M351.3 179.5h0M370.9 179.5h0M419.9 179.5h0M218.8 188.1h0M248.3 188.1h0M267.9 188.1h0M277.7 188.1h0M297.3 188.1h0M316.9 188.1h0M424.9 188.1h0M444.5 188.1h0M478.8 196.6h0M238.5 205.1h0M267.9 205.1h0M316.9 205.1h0M375.8 205.1h0M523 205.1h0M233.6 213.7h0M253.2 213.7h0M282.6 213.7h0M341.5 213.7h0M209 222.2h0M238.5 222.2h0M248.3 222.2h0M356.2 222.2h0M493.5 222.2h0M503.3 222.2h0M513.1 222.2h0M223.8 230.7h0M243.4 230.7h0M253.2 230.7h0M272.8 230.7h0M312 230.7h0M370.9 230.7h0M390.5 230.7h0M439.6 230.7h0M449.4 230.7h0M469 230.7h0M547.5 230.7h0M557.3 230.7h0M179.6 239.3h0M366 239.3h0M454.3 239.3h0M483.7 239.3h0M513.1 239.3h0M370.9 247.8h0M410.1 247.8h0M419.9 247.8h0M527.9 247.8h0M537.7 247.8h0M395.4 256.4h0M454.3 256.4h0M400.3 264.9h0M439.6 264.9h0M537.7 264.9h0M434.7 273.4h0M513.1 273.4h0M523 273.4h0M341.5 282h0M459.2 282h0M537.7 282h0M267.9 290.5h0M513.1 290.5h0M532.8 290.5h0M542.6 290.5h0M390.5 299h0M439.6 299h0M518 299h0M537.7 299h0M395.4 307.6h0M459.2 316.1h0M527.9 316.1h0M576.9 316.1h0M189.4 324.7h0M228.7 324.7h0M424.9 324.7h0M523 324.7h0M532.8 324.7h0M542.6 324.7h0M552.4 324.7h0M547.5 333.2h0M287.5 341.7h0M434.7 341.7h0M513.1 341.7h0M542.6 341.7h0M562.2 341.7h0M312 350.3h0M341.5 350.3h0M351.3 350.3h0M508.2 350.3h0M518 350.3h0M567.1 350.3h0M473.9 358.8h0M552.4 358.8h0M581.8 358.8h0M380.7 367.3h0M400.3 367.3h0M547.5 367.3h0M557.3 367.3h0M567.1 367.3h0M596.5 367.3h0M444.5 375.9h0M503.3 375.9h0M542.6 375.9h0M562.2 375.9h0M439.6 384.4h0M488.6 384.4h0M547.5 384.4h0M346.4 392.9h0M483.7 392.9h0M493.5 392.9h0M233.6 401.5h0M596.5 401.5h0M493.5 410h0M523 410h0M601.4 410h0M174.7 418.6h0M498.4 418.6h0M518 418.6h0M567.1 418.6h0M199.2 427.1h0M483.7 427.1h0M493.5 427.1h0M542.6 427.1h0M591.6 427.1h0M204.1 435.6h0M513.1 444.2h0M562.2 444.2h0M611.2 444.2h0M184.5 452.7h0M537.7 452.7h0M586.7 452.7h0M596.5 452.7h0M483.7 461.2h0M503.3 461.2h0M552.4 461.2h0M601.4 461.2h0M508.2 469.8h0M518 469.8h0M567.1 469.8h0M179.6 478.3h0M493.5 478.3h0M572 478.3h0M527.9 486.9h0M547.5 486.9h0M557.3 486.9h0M576.9 486.9h0M503.3 495.4h0M513.1 495.4h0M557.3 503.9h0M444.5 512.5h0M464.1 512.5h0M513.1 512.5h0M478.8 521h0M498.4 521h0M508.2 521h0M596.5 521h0M616.2 521h0M424.9 529.5h0M454.3 529.5h0M464.1 529.5h0M503.3 529.5h0M591.6 529.5h0M184.5 538.1h0M439.6 538.1h0M459.2 538.1h0M469 538.1h0M518 538.1h0M179.6 546.6h0M444.5 546.6h0M601.4 546.6h0M419.9 555.2h0M557.3 555.2h0M576.9 555.2h0M199.2 563.7h0M454.3 563.7h0M464.1 563.7h0M542.6 563.7h0M174.7 572.2h0M194.3 572.2h0M400.3 572.2h0M419.9 572.2h0M527.9 572.2h0M473.9 580.8h0M233.6 589.3h0M439.6 589.3h0M537.7 589.3h0M218.8 597.8h0M287.5 597.8h0M424.9 597.8h0M473.9 597.8h0M483.7 597.8h0M591.6 597.8h0M174.7 606.4h0M282.6 606.4h0M449.4 606.4h0M527.9 606.4h0M557.3 606.4h0M513.1 614.9h0M532.8 614.9h0M184.5 623.4h0M478.8 623.4h0M508.2 623.4h0M356.2 632h0M415 632h0M164.9 640.5h0M297.3 649.1h0M493.5 649.1h0M400.3 657.6h0M478.8 657.6h0M498.4 657.6h0M199.2 666.1h0M228.7 666.1h0M297.3 666.1h0M336.6 666.1h0M493.5 666.1h0M302.2 674.7h0M400.3 674.7h0M419.9 674.7h0M336.6 683.2h0M400.3 691.7h0M429.8 691.7h0M199.2 700.3h0M248.3 700.3h0M385.6 700.3h0M184.5 708.8h0M194.3 708.8h0M218.8 717.4h0M287.5 717.4h0M253.2 725.9h0M238.5 734.4h0"/>
<path stroke="#ffe2d8" d="M209 153.9h0M302.2 162.4h0M361.1 162.4h0M326.8 171h0M292.4 179.5h0M302.2 179.5h0M341.5 179.5h0M361.1 179.5h0M390.5 179.5h0M400.3 179.5h0M199.2 188.1h0M346.4 188.1h0M356.2 188.1h0M204.1 196.6h0M263 196.6h0M282.6 196.6h0M292.4 196.6h0M302.2 196.6h0M312 196.6h0M410.1 196.6h0M419.9 196.6h0M209 205.1h0M277.7 205.1h0M336.6 205.1h0M346.4 205.1h0M493.5 205.1h0M513.1 205.1h0M184.5 213.7h0M243.4 213.7h0M263 213.7h0M272.8 213.7h0M292.4 213.7h0M331.7 213.7h0M390.5 213.7h0M429.8 213.7h0M478.8 213.7h0M277.7 222.2h0M307.1 222.2h0M375.8 222.2h0M385.6 222.2h0M444.5 222.2h0M454.3 222.2h0M483.7 222.2h0M233.6 230.7h0M263 230.7h0M400.3 230.7h0M518 230.7h0M395.4 239.3h0M424.9 239.3h0M434.7 239.3h0M493.5 239.3h0M503.3 239.3h0M400.3 247.8h0M439.6 247.8h0M449.4 247.8h0M478.8 247.8h0M498.4 247.8h0M508.2 247.8h0M547.5 247.8h0M557.3 247.8h0M424.9 256.4h0M552.4 256.4h0M263 264.9h0M272.8 264.9h0M429.8 264.9h0M498.4 264.9h0M287.5 273.4h0M307.1 273.4h0M356.2 273.4h0M444.5 273.4h0M532.8 273.4h0M542.6 273.4h0M552.4 273.4h0M572 273.4h0M282.6 282h0M370.9 282h0M429.8 282h0M375.8 290.5h0M395.4 290.5h0M434.7 290.5h0M473.9 290.5h0M503.3 290.5h0M400.3 299h0M459.2 299h0M469 299h0M478.8 299h0M557.3 299h0M503.3 307.6h0M532.8 307.6h0M552.4 307.6h0M562.2 307.6h0M419.9 316.1h0M469 316.1h0M547.5 316.1h0M464.1 324.7h0M483.7 324.7h0M493.5 324.7h0M503.3 324.7h0M562.2 324.7h0M581.8 324.7h0M419.9 333.2h0M488.6 333.2h0M498.4 333.2h0M518 333.2h0M537.7 333.2h0M557.3 333.2h0M567.1 333.2h0M576.9 333.2h0M586.7 333.2h0M483.7 341.7h0M493.5 341.7h0M503.3 341.7h0M523 341.7h0M532.8 341.7h0M488.6 350.3h0M498.4 350.3h0M537.7 350.3h0M405.2 358.8h0M483.7 358.8h0M503.3 358.8h0M532.8 358.8h0M488.6 367.3h0M508.2 367.3h0M518 367.3h0M576.9 367.3h0M586.7 367.3h0M513.1 375.9h0M532.8 375.9h0M552.4 375.9h0M400.3 384.4h0M498.4 384.4h0M557.3 384.4h0M606.3 384.4h0M429.8 401.5h0M518 401.5h0M557.3 401.5h0M586.7 401.5h0M179.6 410h0M326.8 410h0M532.8 410h0M562.2 410h0M611.2 410h0M586.7 418.6h0M606.3 418.6h0M209 427.1h0M513.1 427.1h0M488.6 435.6h0M518 435.6h0M537.7 435.6h0M547.5 435.6h0M567.1 435.6h0M576.9 435.6h0M586.7 435.6h0M596.5 435.6h0M503.3 444.2h0M581.8 444.2h0M508.2 452.7h0M547.5 452.7h0M581.8 461.2h0M488.6 469.8h0M547.5 469.8h0M483.7 478.3h0M523 478.3h0M562.2 478.3h0M581.8 478.3h0M488.6 486.9h0M537.7 486.9h0M567.1 486.9h0M596.5 486.9h0M493.5 495.4h0M562.2 495.4h0M591.6 495.4h0M611.2 495.4h0M459.2 503.9h0M527.9 503.9h0M576.9 503.9h0M606.3 503.9h0M169.8 512.5h0M581.8 512.5h0M606.3 521h0M189.4 529.5h0M434.7 529.5h0M444.5 529.5h0M513.1 529.5h0M572 529.5h0M601.4 529.5h0M611.2 529.5h0M488.6 538.1h0M498.4 538.1h0M508.2 538.1h0M537.7 538.1h0M606.3 538.1h0M238.5 546.6h0M473.9 546.6h0M483.7 546.6h0M493.5 546.6h0M513.1 546.6h0M523 546.6h0M429.8 555.2h0M449.4 555.2h0M478.8 555.2h0M444.5 563.7h0M483.7 563.7h0M493.5 563.7h0M532.8 563.7h0M572 563.7h0M449.4 572.2h0M508.2 572.2h0M547.5 572.2h0M454.3 580.8h0M493.5 580.8h0M503.3 580.8h0M523 580.8h0M469 589.3h0M498.4 589.3h0M518 589.3h0M586.7 589.3h0M228.7 597.8h0M464.1 597.8h0M233.6 606.4h0M370.9 606.4h0M410.1 606.4h0M518 606.4h0M297.3 614.9h0M366 614.9h0M454.3 614.9h0M572 614.9h0M400.3 623.4h0M449.4 623.4h0M459.2 623.4h0M444.5 632h0M532.8 632h0M233.6 657.6h0M410.1 657.6h0M375.8 666.1h0M385.6 666.1h0M454.3 666.1h0M341.5 674.7h0M390.5 674.7h0M439.6 674.7h0M459.2 674.7h0M248.3 683.2h0M356.2 683.2h0M464.1 683.2h0M351.3 691.7h0M370.9 691.7h0M380.7 691.7h0M459.2 691.7h0M238.5 700.3h0M287.5 700.3h0M213.9 708.8h0M238.5 717.4h0M258.1 717.4h0M223.8 743h0"/>
<path stroke="#ffd9cb" d="M312 145.4h0M189.4 171h0M336.6 171h0M356.2 171h0M331.7 179.5h0M380.7 179.5h0M366 188.1h0M434.7 188.1h0M464.1 188.1h0M213.9 196.6h0M321.9 196.6h0M341.5 196.6h0M361.1 196.6h0M400.3 196.6h0M429.8 196.6h0M459.2 196.6h0M287.5 205.1h0M395.4 205.1h0M415 205.1h0M454.3 205.1h0M503.3 205.1h0M321.9 213.7h0M419.9 213.7h0M439.6 213.7h0M297.3 222.2h0M316.9 222.2h0M326.8 222.2h0M336.6 222.2h0M405.2 222.2h0M434.7 222.2h0M321.9 230.7h0M429.8 230.7h0M488.6 230.7h0M498.4 230.7h0M537.7 230.7h0M356.2 239.3h0M473.9 239.3h0M523 239.3h0M542.6 239.3h0M552.4 239.3h0M194.3 247.8h0M488.6 247.8h0M385.6 256.4h0M518 264.9h0M258.1 273.4h0M297.3 273.4h0M336.6 273.4h0M503.3 273.4h0M380.7 282h0M439.6 282h0M449.4 282h0M498.4 282h0M518 282h0M527.9 282h0M385.6 290.5h0M483.7 290.5h0M493.5 290.5h0M567.1 299h0M483.7 307.6h0M581.8 307.6h0M518 316.1h0M179.6 324.7h0M572 324.7h0M469 333.2h0M277.7 341.7h0M581.8 341.7h0M576.9 350.3h0M513.1 358.8h0M562.2 358.8h0M527.9 367.3h0M454.3 375.9h0M601.4 375.9h0M518 384.4h0M537.7 384.4h0M567.1 384.4h0M576.9 384.4h0M326.8 392.9h0M444.5 392.9h0M503.3 392.9h0M572 392.9h0M194.3 401.5h0M508.2 401.5h0M537.7 401.5h0M567.1 401.5h0M542.6 410h0M572 410h0M576.9 418.6h0M174.7 435.6h0M527.9 435.6h0M567.1 452.7h0M576.9 452.7h0M591.6 461.2h0M174.7 469.8h0M586.7 469.8h0M469 486.9h0M542.6 495.4h0M581.8 495.4h0M601.4 495.4h0M518 503.9h0M596.5 503.9h0M454.3 512.5h0M503.3 512.5h0M542.6 512.5h0M552.4 512.5h0M184.5 521h0M449.4 521h0M576.9 521h0M483.7 529.5h0M532.8 529.5h0M478.8 538.1h0M527.9 538.1h0M547.5 538.1h0M596.5 538.1h0M532.8 546.6h0M498.4 555.2h0M547.5 555.2h0M169.8 563.7h0M218.8 563.7h0M424.9 563.7h0M523 563.7h0M581.8 563.7h0M429.8 572.2h0M439.6 572.2h0M478.8 572.2h0M537.7 572.2h0M395.4 580.8h0M415 580.8h0M444.5 580.8h0M464.1 580.8h0M513.1 580.8h0M572 580.8h0M591.6 580.8h0M380.7 589.3h0M390.5 589.3h0M400.3 589.3h0M449.4 589.3h0M169.8 597.8h0M277.7 597.8h0M405.2 597.8h0M415 597.8h0M439.6 606.4h0M498.4 606.4h0M434.7 614.9h0M542.6 614.9h0M361.1 623.4h0M419.9 623.4h0M547.5 623.4h0M557.3 623.4h0M351.3 640.5h0M390.5 640.5h0M410.1 640.5h0M527.9 640.5h0M547.5 640.5h0M346.4 649.1h0M454.3 649.1h0M503.3 649.1h0M513.1 649.1h0M341.5 657.6h0M370.9 657.6h0M390.5 657.6h0M439.6 657.6h0M469 657.6h0M488.6 657.6h0M356.2 666.1h0M366 666.1h0M415 666.1h0M375.8 683.2h0M385.6 683.2h0M405.2 683.2h0M434.7 683.2h0M444.5 683.2h0M454.3 683.2h0M218.8 700.3h0M272.8 708.8h0M253.2 743h0"/>
<path stroke="#ffcfbf" d="M238.5 136.8h0M248.3 136.8h0M233.6 145.4h0M233.6 179.5h0M429.8 179.5h0M449.4 179.5h0M287.5 188.1h0M336.6 188.1h0M375.8 188.1h0M395.4 188.1h0M415 188.1h0M454.3 188.1h0M331.7 196.6h0M370.9 196.6h0M380.7 196.6h0M390.5 196.6h0M449.4 196.6h0M258.1 205.1h0M366 205.1h0M385.6 205.1h0M483.7 205.1h0M302.2 213.7h0M410.1 213.7h0M488.6 213.7h0M498.4 213.7h0M508.2 213.7h0M258.1 222.2h0M346.4 222.2h0M473.9 222.2h0M532.8 222.2h0M331.7 230.7h0M341.5 230.7h0M351.3 230.7h0M478.8 230.7h0M390.5 247.8h0M469 247.8h0M415 256.4h0M434.7 256.4h0M503.3 256.4h0M282.6 264.9h0M292.4 264.9h0M302.2 264.9h0M419.9 264.9h0M508.2 264.9h0M567.1 264.9h0M316.9 273.4h0M326.8 273.4h0M562.2 273.4h0M331.7 282h0M478.8 282h0M488.6 282h0M557.3 282h0M444.5 290.5h0M410.1 299h0M449.4 299h0M493.5 307.6h0M478.8 316.1h0M488.6 316.1h0M537.7 316.1h0M567.1 316.1h0M473.9 324.7h0M513.1 324.7h0M508.2 333.2h0M527.9 333.2h0M498.4 367.3h0M527.9 384.4h0M586.7 384.4h0M513.1 392.9h0M532.8 392.9h0M581.8 392.9h0M591.6 392.9h0M547.5 401.5h0M513.1 410h0M537.7 418.6h0M581.8 427.1h0M557.3 435.6h0M557.3 452.7h0M179.6 461.2h0M513.1 461.2h0M532.8 461.2h0M562.2 461.2h0M537.7 469.8h0M557.3 469.8h0M523 495.4h0M537.7 503.9h0M547.5 503.9h0M562.2 512.5h0M537.7 521h0M557.3 521h0M586.7 521h0M557.3 538.1h0M434.7 546.6h0M542.6 546.6h0M572 546.6h0M581.8 546.6h0M591.6 546.6h0M469 555.2h0M508.2 555.2h0M518 555.2h0M537.7 555.2h0M567.1 555.2h0M586.7 555.2h0M434.7 563.7h0M591.6 563.7h0M223.8 572.2h0M459.2 572.2h0M586.7 572.2h0M424.9 580.8h0M483.7 580.8h0M542.6 580.8h0M552.4 580.8h0M562.2 580.8h0M581.8 580.8h0M557.3 589.3h0M567.1 589.3h0M395.4 597.8h0M542.6 597.8h0M562.2 597.8h0M400.3 606.4h0M419.9 606.4h0M459.2 606.4h0M567.1 606.4h0M395.4 614.9h0M464.1 614.9h0M552.4 614.9h0M370.9 623.4h0M390.5 623.4h0M439.6 623.4h0M537.7 623.4h0M366 632h0M385.6 632h0M454.3 632h0M380.7 640.5h0M429.8 640.5h0M498.4 640.5h0M508.2 640.5h0M385.6 649.1h0M542.6 649.1h0M361.1 657.6h0M508.2 657.6h0M346.4 666.1h0M395.4 666.1h0M424.9 666.1h0M434.7 666.1h0M410.1 674.7h0M415 683.2h0M223.8 708.8h0M243.4 708.8h0M209 717.4h0M228.7 717.4h0"/>
<path stroke="#ffc6b2" d="M307.1 171h0M375.8 171h0M395.4 171h0M326.8 205.1h0M312 213.7h0M415 222.2h0M424.9 222.2h0M292.4 230.7h0M444.5 239.3h0M513.1 256.4h0M424.9 273.4h0M454.3 273.4h0M508.2 282h0M552.4 290.5h0M454.3 307.6h0M513.1 307.6h0M572 307.6h0M410.1 316.1h0M478.8 333.2h0M478.8 350.3h0M586.7 350.3h0M493.5 358.8h0M537.7 367.3h0M523 375.9h0M572 375.9h0M581.8 375.9h0M508.2 384.4h0M596.5 384.4h0M523 392.9h0M503.3 410h0M572 427.1h0M552.4 444.2h0M572 444.2h0M572 461.2h0M576.9 469.8h0M542.6 478.3h0M552.4 495.4h0M567.1 503.9h0M591.6 512.5h0M459.2 521h0M488.6 521h0M567.1 521h0M523 529.5h0M449.4 538.1h0M454.3 546.6h0M439.6 555.2h0M459.2 555.2h0M552.4 563.7h0M562.2 563.7h0M469 572.2h0M488.6 572.2h0M557.3 572.2h0M410.1 589.3h0M419.9 589.3h0M459.2 589.3h0M434.7 597.8h0M523 597.8h0M552.4 597.8h0M380.7 606.4h0M375.8 614.9h0M385.6 614.9h0M444.5 614.9h0M473.9 614.9h0M380.7 623.4h0M410.1 623.4h0M469 623.4h0M424.9 632h0M464.1 632h0M513.1 632h0M562.2 632h0M370.9 640.5h0M400.3 640.5h0M419.9 640.5h0M439.6 640.5h0M356.2 649.1h0M395.4 649.1h0M424.9 649.1h0M464.1 649.1h0M473.9 649.1h0M351.3 657.6h0M449.4 657.6h0M444.5 666.1h0M351.3 674.7h0M361.1 674.7h0M370.9 674.7h0M380.7 674.7h0M449.4 674.7h0M366 683.2h0M439.6 691.7h0M449.4 691.7h0M233.6 708.8h0M194.3 725.9h0"/>
<path stroke="#ffbca6" d="M385.6 171h0M473.9 205.1h0M351.3 213.7h0M518 213.7h0M287.5 222.2h0M523 222.2h0M488.6 264.9h0M277.7 273.4h0M346.4 273.4h0M473.9 273.4h0M567.1 282h0M562.2 290.5h0M415 307.6h0M473.9 341.7h0M562.2 392.9h0M601.4 392.9h0M576.9 401.5h0M527.9 418.6h0M542.6 444.2h0M606.3 452.7h0M542.6 461.2h0M532.8 512.5h0M415 563.7h0M576.9 589.3h0M454.3 597.8h0M572 597.8h0M537.7 606.4h0M547.5 606.4h0M576.9 606.4h0M424.9 614.9h0M375.8 632h0M405.2 632h0M459.2 640.5h0M469 640.5h0M366 649.1h0M405.2 649.1h0M434.7 649.1h0M483.7 649.1h0M380.7 657.6h0M419.9 657.6h0M429.8 657.6h0M459.2 657.6h0M464.1 666.1h0M395.4 683.2h0"/>
<path stroke="#ffb299" d="M351.3 196.6h0M444.5 256.4h0M483.7 273.4h0M576.9 299h0M405.2 307.6h0M572 358.8h0M591.6 375.9h0M552.4 478.3h0M473.9 563.7h0M567.1 572.2h0M390.5 606.4h0M405.2 614.9h0M429.8 623.4h0M395.4 632h0M434.7 632h0M444.5 649.1h0M523 649.1h0M469 674.7h0"/>
<path stroke="#ffa88d" d="M557.3 264.9h0M493.5 273.4h0M557.3 316.1h0M591.6 410h0M572 512.5h0M361.1 640.5h0M449.4 640.5h0M375.8 649.1h0M415 649.1h0M473.9 666.1h0"/>
<path stroke="#ff9e81" d="M532.8 478.3h0M385.6 597.8h0M415 614.9h0"/>
</g></g>
<rect x="128.0" y="1898.3" width="515.3" height="682.7" fill="none" stroke="#333" stroke-width="2.1"/>
<text x="223.7" y="2627.6" font-size="33.3" text-anchor="middle" fill="#4d4d4d">3000</text>
<text x="366.3" y="2627.6" font-size="33.3" text-anchor="middle" fill="#4d4d4d">5000</text>
<text x="508.8" y="2627.6" font-size="33.3" text-anchor="middle" fill="#4d4d4d">7000</text>
<text transform="translate(104.2 2017.9) rotate(-90)" font-size="33.3" text-anchor="middle" fill="#4d4d4d">-2500</text>
<text transform="translate(104.2 2195.9) rotate(-90)" font-size="33.3" text-anchor="middle" fill="#4d4d4d">-5000</text>
<text transform="translate(104.2 2373.8) rotate(-90)" font-size="33.3" text-anchor="middle" fill="#4d4d4d">-7500</text>
<text transform="translate(104.2 2551.8) rotate(-90)" font-size="33.3" text-anchor="middle" fill="#4d4d4d">-10000</text>
<path d="M223.7 2582.0v11.5M366.3 2582.0v11.5M508.8 2582.0v11.5M127.0 2017.9h-11.5M127.0 2195.9h-11.5M127.0 2373.8h-11.5M127.0 2551.8h-11.5" stroke="#333" stroke-width="4.2" fill="none"/>
<text x="385.6" y="2670.4" font-size="33.3" text-anchor="middle" fill="#000">x coordinates</text>
<text transform="translate(56.3 2239.7) rotate(-90)" font-size="33.3" text-anchor="middle" fill="#000">y coordinates</text>
<rect x="713.2" y="2060.2" width="71.9" height="359.5" fill="url(#g6)"/>
<text x="807.7" y="2106.6" font-size="33.3" fill="#000">10</text>
<text x="807.7" y="2193.9" font-size="33.3" fill="#000">5</text>
<text x="807.7" y="2281.2" font-size="33.3" fill="#000">0</text>
<text x="807.7" y="2368.5" font-size="33.3" fill="#000">-5</text>
<path d="M713.2 2094.7h14.4M785.1 2094.7h-14.4M713.2 2182.0h14.4M785.1 2182.0h-14.4M713.2 2269.3h14.4M785.1 2269.3h-14.4M713.2 2356.6h14.4M785.1 2356.6h-14.4" stroke="#fff" stroke-width="1.6" fill="none"/>
</g>
</svg>
</body></html>
